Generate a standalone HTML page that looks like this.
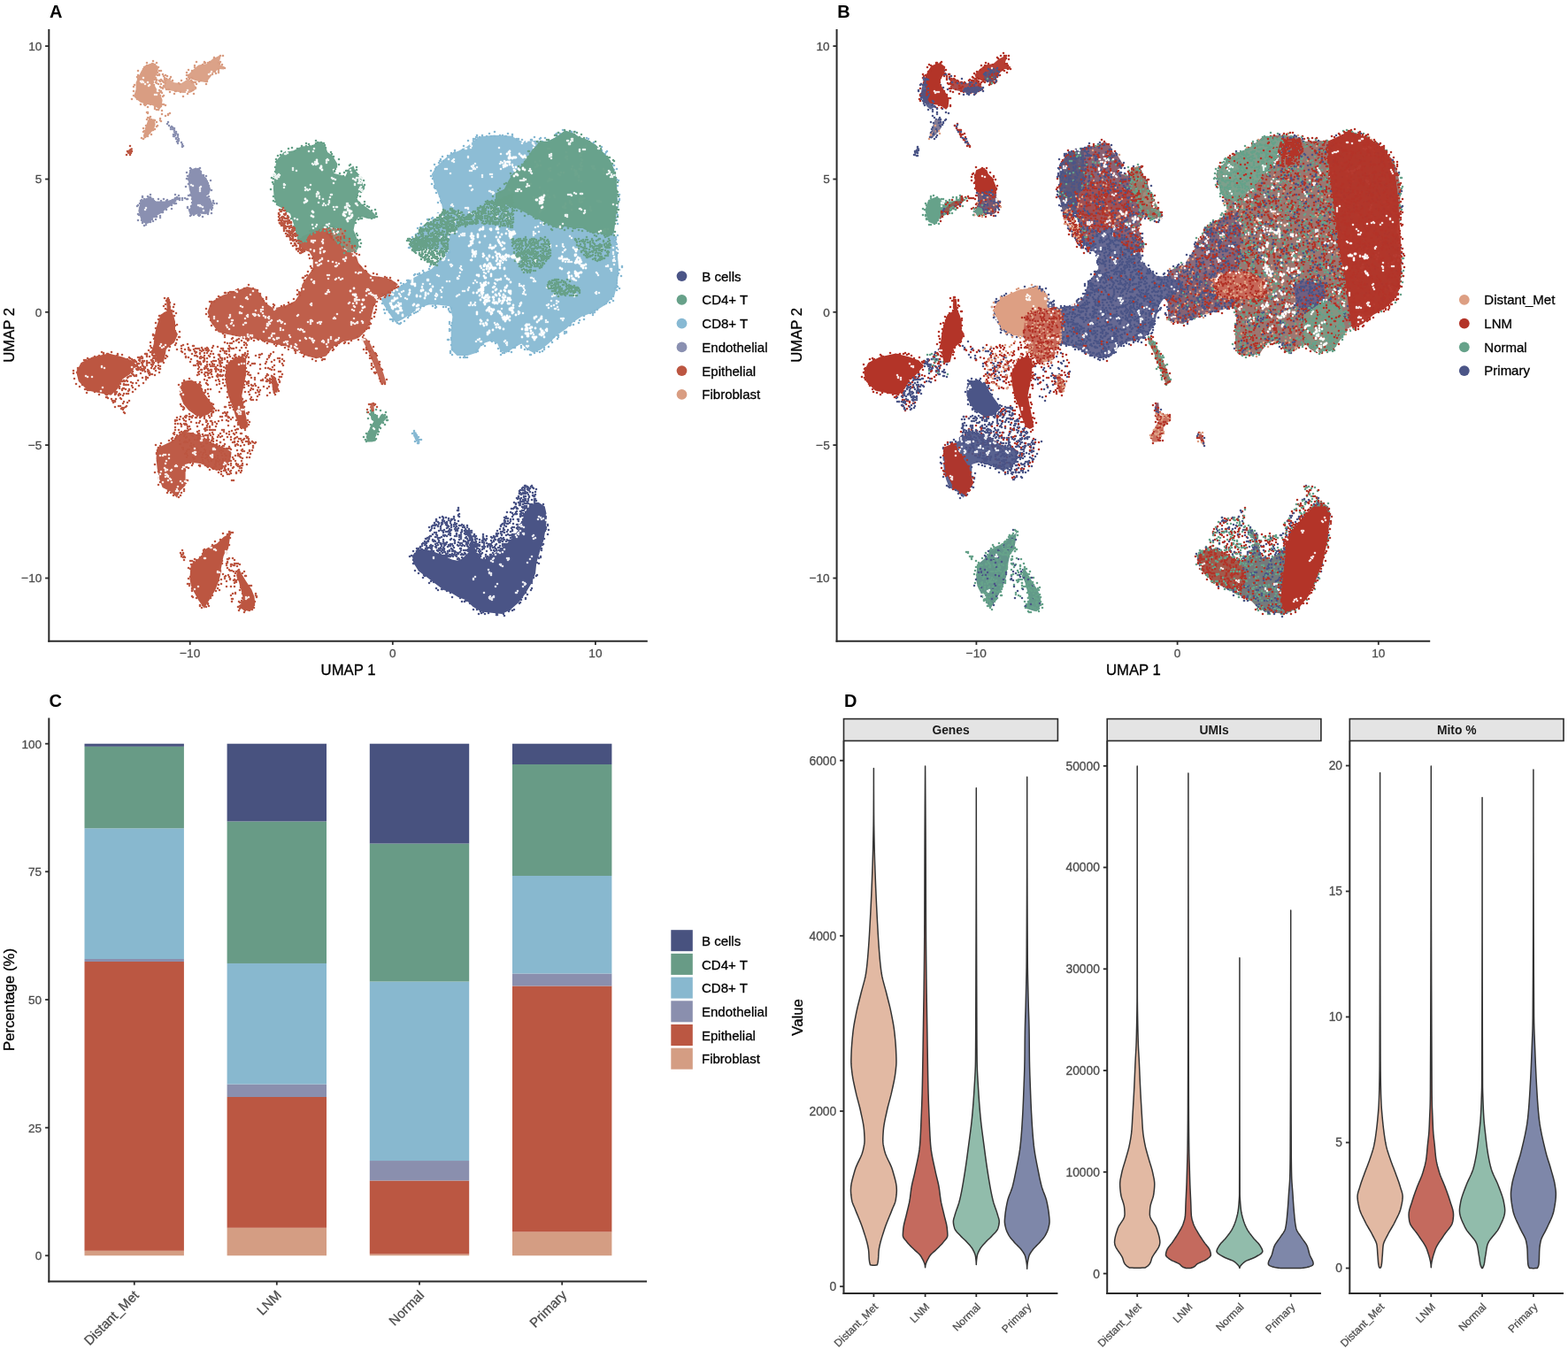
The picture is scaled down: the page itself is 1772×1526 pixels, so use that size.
<!DOCTYPE html>
<html><head><meta charset="utf-8"><title>Figure</title>
<style>
html,body{margin:0;padding:0;background:#fff;overflow:hidden;width:1772px;height:1526px;}
svg{display:block;}
text{font-family:"Liberation Sans", Arial, Helvetica, sans-serif;}
</style></head>
<body>
<svg width="1772" height="1526" viewBox="0 0 1772 1526">
<rect width="1772" height="1526" fill="#fff"/>
<line x1="55.3" y1="32.9" x2="55.3" y2="725.7" stroke="#2b2b2b" stroke-width="2.0"/>
<line x1="54.3" y1="724.7" x2="731.8" y2="724.7" stroke="#2b2b2b" stroke-width="2.0"/>
<line x1="51.1" y1="52.1" x2="55.3" y2="52.1" stroke="#2b2b2b" stroke-width="1.8"/>
<text x="47.4" y="56.9" font-size="13.6" text-anchor="end" fill="#4d4d4d" stroke="#4d4d4d" stroke-width="0.3">10</text>
<line x1="51.1" y1="202.5" x2="55.3" y2="202.5" stroke="#2b2b2b" stroke-width="1.8"/>
<text x="47.4" y="207.3" font-size="13.6" text-anchor="end" fill="#4d4d4d" stroke="#4d4d4d" stroke-width="0.3">5</text>
<line x1="51.1" y1="352.8" x2="55.3" y2="352.8" stroke="#2b2b2b" stroke-width="1.8"/>
<text x="47.4" y="357.6" font-size="13.6" text-anchor="end" fill="#4d4d4d" stroke="#4d4d4d" stroke-width="0.3">0</text>
<line x1="51.1" y1="503.1" x2="55.3" y2="503.1" stroke="#2b2b2b" stroke-width="1.8"/>
<text x="47.4" y="507.9" font-size="13.6" text-anchor="end" fill="#4d4d4d" stroke="#4d4d4d" stroke-width="0.3">−5</text>
<line x1="51.1" y1="653.5" x2="55.3" y2="653.5" stroke="#2b2b2b" stroke-width="1.8"/>
<text x="47.4" y="658.3" font-size="13.6" text-anchor="end" fill="#4d4d4d" stroke="#4d4d4d" stroke-width="0.3">−10</text>
<line x1="214.7" y1="724.7" x2="214.7" y2="728.9" stroke="#2b2b2b" stroke-width="1.8"/>
<text x="214.7" y="743.3" font-size="13.6" text-anchor="middle" fill="#4d4d4d" stroke="#4d4d4d" stroke-width="0.3">−10</text>
<line x1="443.8" y1="724.7" x2="443.8" y2="728.9" stroke="#2b2b2b" stroke-width="1.8"/>
<text x="443.8" y="743.3" font-size="13.6" text-anchor="middle" fill="#4d4d4d" stroke="#4d4d4d" stroke-width="0.3">0</text>
<line x1="672.9" y1="724.7" x2="672.9" y2="728.9" stroke="#2b2b2b" stroke-width="1.8"/>
<text x="672.9" y="743.3" font-size="13.6" text-anchor="middle" fill="#4d4d4d" stroke="#4d4d4d" stroke-width="0.3">10</text>
<text x="393.5" y="762.6" font-size="16.7" text-anchor="middle" fill="#000" stroke="#000" stroke-width="0.3">UMAP 1</text>
<text transform="translate(15.8,378.8) rotate(-90)" font-size="16.7" text-anchor="middle" fill="#000" stroke="#000" stroke-width="0.3">UMAP 2</text>
<text x="55.9" y="19.6" font-size="20" text-anchor="start" fill="#000" font-weight="bold">A</text>
<line x1="945.6" y1="32.9" x2="945.6" y2="725.7" stroke="#2b2b2b" stroke-width="2.0"/>
<line x1="944.6" y1="724.7" x2="1616.2" y2="724.7" stroke="#2b2b2b" stroke-width="2.0"/>
<line x1="941.4" y1="52.1" x2="945.6" y2="52.1" stroke="#2b2b2b" stroke-width="1.8"/>
<text x="937.7" y="56.9" font-size="13.6" text-anchor="end" fill="#4d4d4d" stroke="#4d4d4d" stroke-width="0.3">10</text>
<line x1="941.4" y1="202.5" x2="945.6" y2="202.5" stroke="#2b2b2b" stroke-width="1.8"/>
<text x="937.7" y="207.3" font-size="13.6" text-anchor="end" fill="#4d4d4d" stroke="#4d4d4d" stroke-width="0.3">5</text>
<line x1="941.4" y1="352.8" x2="945.6" y2="352.8" stroke="#2b2b2b" stroke-width="1.8"/>
<text x="937.7" y="357.6" font-size="13.6" text-anchor="end" fill="#4d4d4d" stroke="#4d4d4d" stroke-width="0.3">0</text>
<line x1="941.4" y1="503.1" x2="945.6" y2="503.1" stroke="#2b2b2b" stroke-width="1.8"/>
<text x="937.7" y="507.9" font-size="13.6" text-anchor="end" fill="#4d4d4d" stroke="#4d4d4d" stroke-width="0.3">−5</text>
<line x1="941.4" y1="653.5" x2="945.6" y2="653.5" stroke="#2b2b2b" stroke-width="1.8"/>
<text x="937.7" y="658.3" font-size="13.6" text-anchor="end" fill="#4d4d4d" stroke="#4d4d4d" stroke-width="0.3">−10</text>
<line x1="1103.4" y1="724.7" x2="1103.4" y2="728.9" stroke="#2b2b2b" stroke-width="1.8"/>
<text x="1103.4" y="743.3" font-size="13.6" text-anchor="middle" fill="#4d4d4d" stroke="#4d4d4d" stroke-width="0.3">−10</text>
<line x1="1330.6" y1="724.7" x2="1330.6" y2="728.9" stroke="#2b2b2b" stroke-width="1.8"/>
<text x="1330.6" y="743.3" font-size="13.6" text-anchor="middle" fill="#4d4d4d" stroke="#4d4d4d" stroke-width="0.3">0</text>
<line x1="1557.8" y1="724.7" x2="1557.8" y2="728.9" stroke="#2b2b2b" stroke-width="1.8"/>
<text x="1557.8" y="743.3" font-size="13.6" text-anchor="middle" fill="#4d4d4d" stroke="#4d4d4d" stroke-width="0.3">10</text>
<text x="1280.9" y="762.6" font-size="16.7" text-anchor="middle" fill="#000" stroke="#000" stroke-width="0.3">UMAP 1</text>
<text transform="translate(906.0,378.8) rotate(-90)" font-size="16.7" text-anchor="middle" fill="#000" stroke="#000" stroke-width="0.3">UMAP 2</text>
<text x="946.2" y="19.6" font-size="20" text-anchor="start" fill="#000" font-weight="bold">B</text>
<g id="umapA">
<path d="M175 80h0m1 3h0m0 5h0m2-3h0m2-1h0m2-4h0m2 4h0m1 2h0m3 3h0m0 1h0m-1 4h0m0-3h0m-1 6h0m0-7h0m0 3h0m-1 5h0m0-1h0m-2-6h0m-1 0h0m0-1h0m0 9h0m0-4h0m-1-3h0m0 6h0m-1-7h0m-1 4h0m-2-4h0m0 3h0m0-4h0m-2 0h0m6 13h0m1 1h0m1 1h0m1-5h0" stroke="#d99d82" stroke-width="2.6" stroke-linecap="round" fill="none"/>
<path d="M166 127h0m1 0h0m0 1h0m8-5h0m2 1h0m2 0h0m3-4h0m1 9h0m7 0h0m2-1h0m-2 2h0m-3 1h0m-5 6h0m-1-3h0m0 2h0m-9 0h0m-1 1h0m-1-5h0m-1 3h0" stroke="#d99d82" stroke-width="2.6" stroke-linecap="round" fill="none"/>
<path d="M173.3,71.1L179.1,75.6L178.2,82.4L174.2,89.3L173.3,94.2L177.2,101.1L181.1,107.0L183.6,112.9L182.6,120.8L180.1,123.7L176.2,120.8L171.3,118.8L164.4,117.8L158.5,115.4L153.6,111.4L151.1,109.0L153.6,101.1L153.6,93.3L156.5,86.4L159.5,80.5L163.4,74.6L169.3,72.1Z" fill="#d99d82"/>
<path d="M173 69h0m6 7h0m-2-5h0m-2 2h0m-3-1h0m-6 2h0m0-3h0m-3 5h0m-1 2h0m-7 9h0m1-2h0m0-5h0m0 9h0m1-3h0m17 3h0m4-7h0m2 3h0m0-5h0m-4 13h0m-2 3h0m0 2h0m-1-5h0m-18 3h0m-3 0h0m-1 2h0m0 5h0m0 5h0m27-6h0m2 3h0m0-3h0m1 6h0m1-5h0m2 6h0m1-1h0m2 11h0m-2-1h0m-2 0h0m-13 0h0m-5 0h0m-1 1h0m-1-1h0m-4 0h0m-4-6h0m-6 0h0m18 9h0m8 0h0m1-1h0m3 4h0m4 1h0" stroke="#d99d82" stroke-width="2.6" stroke-linecap="round" fill="none"/>
<path d="M162 88h0m7 8h0m-1 1h0m-1-4h0m-3 2h0m-2-2h0m-1-1h0m-1 1h0m0-1h0m-1 0h0m16 15h0m2 0h0m1-4h0m0-1h0" stroke="#fff" stroke-opacity="0.85" stroke-width="2.6" stroke-linecap="round" fill="none"/>
<path d="M185.0,87.4L190.9,89.3L196.8,93.3L204.7,94.2L212.6,89.3L218.5,93.3L222.4,100.6L214.5,105.0L206.7,105.0L198.8,103.6L190.9,102.1L186.0,100.1Z" fill="#d99d82" fill-opacity="0.9"/>
<path d="M186 88h0m1-3h0m2 1h0m3 3h0m1-2h0m18 2h0m3 0h0m7 10h0m-1-6h0m-1 0h0m-2-1h0m-12-1h0m-2 4h0m-1-1h0m-7-3h0m-10 2h0m-1-1h0m0 7h0m4 2h0m2 0h0m1 0h0m1 3h0m5 2h0m1-3h0m1 0h0m5 1h0m3 5h0m5-3h0m4-3h0m2-1h0m1 4h0" stroke="#d99d82" stroke-width="2.6" stroke-linecap="round" fill="none"/>
<path d="M211 104h0m1-2h0" stroke="#fff" stroke-opacity="0.85" stroke-width="2.6" stroke-linecap="round" fill="none"/>
<path d="M212.6,84.4L218.5,78.5L224.4,73.6L234.2,72.1L240.1,66.7L248.0,62.8L249.4,64.7L247.0,72.6L253.9,75.6L252.9,78.5L247.0,78.0L241.1,82.4L236.2,89.3L233.2,93.3L227.3,92.3L221.4,91.3L214.5,88.8Z" fill="#d99d82" fill-opacity="0.95"/>
<path d="M242 66h0m0-1h0m7-2h0m3 0h0m2 14h0m-3-4h0m-2-3h0m-1 2h0m-1-1h0m0 7h0m-10-8h0m-2 1h0m-3 0h0m-1 0h0m0-1h0m-2 3h0m-7-3h0m-2 4h0m0 2h0m-7 3h0m-2 3h0m0 3h0m2 0h0m0 2h0m4-7h0m0 8h0m19-2h0m1 0h0m3-2h0m3-3h0m1 2h0m3-3h0m0 2h0m-13 10h0m-1 3h0m-6-4h0m-2 1h0m-3 3h0m-1-2h0m-4 0h0m-1-2h0" stroke="#d99d82" stroke-width="2.6" stroke-linecap="round" fill="none"/>
<path d="M236 84h0m2-1h0m1-2h0" stroke="#fff" stroke-opacity="0.85" stroke-width="2.6" stroke-linecap="round" fill="none"/>
<path d="M167.4,135.5L174.2,134.5L175.7,140.4L174.2,145.3L170.3,150.3L165.4,155.2L162.9,156.7L161.9,153.2L163.9,147.3L164.9,142.4Z" fill="#d99d82"/>
<path d="M177 138h0m-2-2h0m-1 0h0m-3-1h0m-2-2h0m-1 4h0m-1-4h0m-1 2h0m-4 14h0m0-4h0m1 3h0m2-3h0m0-3h0m0 4h0m7 1h0m1 0h0m2-1h0m2-3h0m1-1h0m-7 10h0m-2-2h0m-2 2h0m0 2h0m-3 1h0m-2 2h0m-2-1h0" stroke="#d99d82" stroke-width="2.6" stroke-linecap="round" fill="none"/>
<path d="M190 138h0m-1 2h0m2 2h0m2 4h0m0-2h0m1-1h0m1 1h0m0 2h0m2 3h0m0-4h0m0 2h0m2 2h0m3 8h0m0 2h0m-1-6h0m0-1h0m0 3h0m0 3h0m-2-8h0m0 6h0m0-5h0m0 6h0m-1-6h0m0-1h0m0 3h0m-1-1h0m0 2h0m-1 0h0m0-2h0m4 8h0m1 0h0m0 2h0m4-1h0m1 4h0m0-2h0m0 3h0m1-1h0" stroke="#8a90b1" stroke-width="2.6" stroke-linecap="round" fill="none"/>
<path d="M148.7,167.0L150.2,168.0L147.7,172.9L144.7,174.3L143.6,172.4L145.7,168.9Z" fill="#bc5641"/>
<path d="M147 165h0m2 6h0m-1 2h0m-1 2h0m0-1h0m-3-3h0m-1 4h0" stroke="#bc5641" stroke-width="2.6" stroke-linecap="round" fill="none"/>
<path d="M198 224h0m2-1h0m0 2h0m1 0h0m1-4h0m1 3h0m0 2h0m3 0h0m0-2h0m3 0h0m2 1h0m1 0h0" stroke="#8a90b1" stroke-width="2.6" stroke-linecap="round" fill="none"/>
<path d="M160.3,226.0L168.4,222.7L173.2,224.0L175.2,227.4L180.6,227.4L186.0,227.4L190.1,226.7L194.2,225.4L198.9,223.3L199.6,227.4L194.2,231.5L188.8,235.5L182.0,240.9L176.6,244.3L172.5,247.0L169.8,251.8L165.7,253.1L160.3,251.1L158.3,245.0L156.3,238.2L157.6,232.8L159.0,228.8Z" fill="#8a90b1"/>
<path d="M159 227h0m0 2h0m1-3h0m1-3h0m0-1h0m2 3h0m4-3h0m2 1h0m1 0h0m0-3h0m3 5h0m1 2h0m1 1h0m4-3h0m3 2h0m3-2h0m3 2h0m1-1h0m6 0h0m3-6h0m1 4h0m2 0h0m-2 6h0m-1 0h0m-1 0h0m-3 6h0m0-4h0m-6 5h0m-30-2h0m0-5h0m-2 2h0m-1 1h0m1 16h0m0-7h0m1 1h0m3 6h0m11-2h0m1 1h0m3-3h0m1 3h0m1-3h0m4-1h0m0 2h0m2-6h0m1 0h0m-11 10h0m-3 1h0m-5 1h0m0 2h0m-2 1h0m-2-3h0" stroke="#8a90b1" stroke-width="2.6" stroke-linecap="round" fill="none"/>
<path d="M165 235h0m-1 2h0" stroke="#fff" stroke-opacity="0.85" stroke-width="2.6" stroke-linecap="round" fill="none"/>
<path d="M214.5,192.2L221.3,189.5L226.7,192.2L228.0,196.3L233.5,201.7L236.2,208.4L238.2,213.9L236.2,219.3L232.1,222.0L237.5,224.0L239.5,228.8L241.6,232.8L237.5,235.5L236.2,240.9L232.1,242.3L224.7,241.6L219.9,243.0L214.5,242.3L213.1,238.2L215.8,233.5L217.2,228.8L215.8,220.6L213.8,213.9L213.1,207.1L212.5,199.6L213.8,194.9Z" fill="#8a90b1"/>
<path d="M233 199h0m-3-1h0m-3-3h0m0-1h0m-1-4h0m-1 1h0m-1 0h0m-8 0h0m-1 6h0m0-7h0m0 3h0m-3 6h0m-1-4h0m0 7h0m2 1h0m0-1h0m0 6h0m19-6h0m2 3h0m1 2h0m3-3h0m1 11h0m-3-5h0m-1 9h0m0-1h0m-25-7h0m3 10h0m2 0h0m0-1h0m2 9h0m0-4h0m15-3h0m2 1h0m2-1h0m5 7h0m0-2h0m4 3h0m-3 0h0m-2 5h0m-1 2h0m-1-2h0m-21-2h0m-1 0h0m-2 4h0m-2-2h0m0-1h0m3 10h0m1-2h0m0 1h0m3 0h0m5 0h0m1 1h0m0-3h0m1 2h0m3 2h0m6-3h0m4-1h0" stroke="#8a90b1" stroke-width="2.6" stroke-linecap="round" fill="none"/>
<path d="M216 209h0m11 2h0m-1 5h0m0-4h0m0 2h0m-8-4h0m12 28h0m-1-4h0m-2-1h0m-1-1h0m0 1h0m-2-1h0" stroke="#fff" stroke-opacity="0.85" stroke-width="2.6" stroke-linecap="round" fill="none"/>
<path d="M172 399h0m-15 8h0m1 0h0m0 1h0m5 0h0m3-7h0m3 2h0m2 4h0m1 1h0m0-1h0m0 2h0m1-4h0m0 3h0m1-4h0m1 1h0m0-1h0m1 1h0m-2 5h0m-1 2h0m0-1h0m-1 3h0m-4 5h0m-1-9h0m0 8h0m-1-7h0m0 2h0m0-3h0m-3 8h0m-1-4h0m0 3h0m-1-4h0m0 6h0m-1-9h0m0 7h0m-3-6h0m0 6h0m-1 1h0m-1-6h0m0 6h0m0-1h0m-1 0h0m0-4h0m-4 3h0m-15 9h0m3 1h0m1-3h0m1 0h0m0 2h0m1-5h0m0 2h0m4 4h0m2-1h0m1 0h0m2-2h0m2 2h0m2-1h0m0 1h0m5-3h0m2 5h0m3-7h0m1 6h0m0 1h0m0 2h0m2-9h0m0 7h0m2-3h0m1-1h0m-8 10h0m-5 3h0m-1-6h0m-2 3h0m-4 5h0m0-5h0m-1 3h0m-1-4h0m-3 3h0m-1-4h0m-1 4h0m-1 0h0m-1-4h0m-1 4h0m0 4h0m-1 0h0m-1-8h0m-2 3h0m-1-3h0m0 6h0m-2 0h0m-3-5h0m-1 7h0m1 5h0m0-3h0m0-1h0m1 5h0m0-1h0m3 2h0m0 1h0m1-2h0m1 1h0m2-5h0m0-1h0m1 7h0m1-2h0m2-5h0m1 5h0m2 0h0m0-3h0m1-1h0m0-1h0m4 3h0m3-3h0m-7 13h0m-2 2h0m-1 4h0m-3-5h0m-1 2h0m-2-5h0m-1-1h0m0 9h0m-2 0h0m-3-8h0m-1 2h0m0 1h0m-2-1h0m0 2h0m0-1h0m-1-1h0m-1-2h0m4 9h0m7 2h0m1-1h0m1 2h0m1 3h0m0-5h0m1 6h0m1-7h0" stroke="#bc5641" stroke-width="2.6" stroke-linecap="round" fill="none"/>
<path d="M174 395h0m-1 4h0m-1-2h0m-4-1h0m-17 12h0m1-1h0m1 1h0m1 1h0m2-5h0m2 1h0m0-1h0m1 0h0m1 1h0m0-2h0m1 1h0m0 4h0m0-3h0m1 4h0m2-9h0m1 0h0m1 3h0m0-3h0m0 8h0m5-1h0m1-6h0m1 1h0m2 0h0m2-2h0m1 1h0m1 6h0m2 10h0m-1 0h0m-1-4h0m0 3h0m-3-2h0m0 5h0m-1-3h0m-1 1h0m-1-6h0m-2 1h0m0 4h0m-2-6h0m-5 5h0m0 1h0m-1 0h0m-1 2h0m-1-7h0m-2 4h0m0 3h0m-2-7h0m0 6h0m-1-2h0m-1-1h0m-1 0h0m14 8h0m1 0h0m0-1h0m3 2h0m3 1h0m5-3h0" stroke="#bc5641" stroke-width="2.6" stroke-linecap="round" fill="none"/>
<path d="M199 388h0m1-4h0m12 5h0m24 7h0m-1 1h0m-1 2h0m-1-3h0m-2 3h0m-2-4h0m-1 2h0m-2-1h0m-3-2h0m-1 4h0m-1 1h0m0-5h0m-1 3h0m-1-2h0m0-4h0m-1 0h0m-3 5h0m-1 0h0m0-1h0m-1-2h0m0 2h0m-4 0h0m-2-5h0m-1 8h0m-1-4h0m0-3h0m0 6h0m-5-2h0m9 5h0m1 3h0m0 1h0m3 0h0m2 5h0m1-3h0m1-6h0m3 2h0m2 0h0m1 6h0m0-5h0m3 2h0m0-1h0m1-1h0m0 2h0m7 0h0m5 4h0m2-9h0m0 8h0m1 0h0m5-7h0m1 7h0m0-6h0m1 7h0m0-5h0m1 1h0m1 2h0m-2 4h0m0 3h0m-1-4h0m-1 8h0m-1-5h0m-3 4h0m-3-6h0m0 2h0m-1 5h0m-1 0h0m-1-6h0m-2 6h0m-1-4h0m-7-2h0m0-1h0m-2 4h0m-1-2h0m0 4h0m-3-4h0m-2 0h0m13 12h0m3-3h0m0 2h0m1 3h0m3-7h0m5 0h0m2 6h0m0-3h0m1 1h0m2 1h0m0-5h0m0 4h0m1-4h0m-2 14h0m0-3h0m-4-1h0" stroke="#bc5641" stroke-width="2.6" stroke-linecap="round" fill="none"/>
<path d="M225 466h0m6 2h0m3-2h0m5 2h0m2-2h0m1-4h0m2 2h0m3 0h0m5 3h0m2-7h0m0 6h0m1 1h0m0-7h0m1 9h0m0-1h0m1-2h0m4 8h0m-2-2h0m-1 0h0m0 4h0m0-5h0m-2 4h0m0-5h0m-1 0h0m-4 5h0m0-4h0m-2 0h0m-2 5h0m-2 3h0m-2-2h0m-3 1h0m-1-2h0m0-6h0m-1 6h0m-1-4h0m-1-2h0m-1 9h0m-1-3h0m-1 1h0m0-2h0m-2-5h0m0 3h0m-3-3h0m-1 1h0m-1 5h0m-1 2h0m-2-8h0m-1 8h0m-5-6h0m-1 5h0m0-6h0m-2 0h0m0 3h0m-3-4h0m-1 0h0m0 9h0m0-7h0m0 4h0m-1-5h0m-1 4h0m0 4h0m-1-6h0m-3-2h0m0 8h0m-1-5h0m-2 5h0m-1-4h0m0-3h0m-2 4h0m0-1h0m0 4h0m-1 10h0m1-3h0m0-3h0m5 6h0m2-9h0m0 2h0m3 6h0m1-1h0m0-7h0m2 0h0m1 2h0m0 2h0m1 2h0m1-4h0m1 3h0m8-3h0m0 6h0m2-1h0m4-7h0m2 5h0m1 0h0m0-1h0m0 3h0m2-4h0m0 3h0m0-5h0m3 2h0m0-1h0m0 4h0m1 0h0m2 3h0m0-3h0m0-6h0m1 6h0m2 0h0m1-4h0m7 4h0m2 0h0m0 2h0m5-7h0m1 7h0m3-1h0m3-5h0m1 4h0m1 3h0m1-4h0m1 0h0m16 14h0m-4-1h0m0-2h0m-1 3h0m0-5h0m-1 1h0m-1-2h0m0 6h0m-2-3h0m-1 1h0m-2 1h0m0-8h0m-1 6h0m0-6h0m-2 6h0m-1 3h0m-1-5h0m-2 1h0m-1 1h0m0-5h0m0 8h0m-1-9h0m-3 4h0m0 3h0m-2-6h0m-2 3h0m-1-4h0m-3 7h0m-2-4h0m-2 1h0m0-4h0m-2 2h0m-1 2h0m-1 4h0m-4-7h0m-1 6h0m0-3h0m-1 4h0m-1-6h0m-1-2h0m-1 7h0m-1-3h0m0-2h0m-1 5h0m-1-5h0m-1 0h0m-1 4h0m-2 1h0m0-6h0m0 3h0m-1 1h0m-2 1h0m-1-1h0m0-5h0m0 2h0m-1-2h0m0 6h0m0-1h0m-1 2h0m-3 0h0m-2-7h0m0 3h0m-1-1h0m-2-1h0m-1 7h0m0-1h0m-3-3h0m-1 1h0m0 4h0m-1-8h0m0 8h0m-1-6h0m-1-3h0m-3 1h0m-1 7h0m-3-6h0m-1 3h0m0-1h0m-2-3h0m-1-1h0m0 8h0m7 4h0m1 0h0m2 4h0m1 0h0m0 2h0m1-8h0m1 0h0m1 0h0m2 0h0m0 8h0m2 0h0m1-4h0m1 0h0m0-3h0m1 5h0m2-3h0m4 4h0m1 2h0m3-7h0m1 3h0m2-1h0m1 4h0m1 1h0m1-8h0m1 0h0m4 1h0m0-2h0m2 2h0m0 2h0m1-2h0m3 1h0m1 3h0m0-1h0m0-1h0m0-2h0m4-2h0m1 9h0m3-5h0m0 3h0m1-5h0m2 5h0m3-2h0m4-5h0m2 0h0m1 4h0m0-1h0m2-1h0m0 7h0m1-6h0m3 1h0m1 5h0m1-9h0m0 8h0m2-5h0m5-1h0m0-1h0m1-1h0m0 9h0m1-8h0m2 8h0m1-9h0m0 4h0m0 2h0m2-5h0m1-1h0m-6 13h0m-1 4h0m0-7h0m-2 2h0m-1 5h0m-3-7h0m-2 8h0m0-8h0m-2 3h0m0 4h0m-1-1h0m-1-2h0m-1 1h0m0-2h0m-3 2h0m-6-2h0m0 1h0m-4 1h0m-1 0h0m0 4h0m-1-6h0m-2-3h0m0 9h0m-1-4h0m-1-3h0m-2-2h0m-2 8h0m0-3h0m-3 2h0m-1-1h0m-1 3h0m-1-7h0m-2 1h0m0 2h0m0-5h0m-1 0h0m0 2h0m-2 3h0m-1 2h0m-1-3h0m-1-3h0m0 7h0m-2-6h0m-1 2h0m0 3h0m-1 0h0m-1-6h0m-2 2h0m-5 5h0m-1 1h0m-1-2h0m-1-5h0m-5 3h0m-1-2h0m0 4h0m0-7h0m-1 2h0m-1 1h0m20 7h0m0 1h0m1 2h0m2 2h0m3-5h0m0 8h0m1-6h0m0 4h0m3-5h0m0-1h0m1 9h0m2-1h0m1-3h0m1 2h0m0-5h0m0-2h0m0 4h0m1-3h0m2 1h0m1 3h0m0-5h0m3 9h0m0-5h0m0 3h0m1 0h0m0-6h0m3 5h0m3-1h0m3-4h0m2 8h0m1-1h0m2-7h0m1 4h0m0-1h0m1 2h0m1 1h0m0-2h0m2 2h0m0 2h0m2-3h0m0-5h0m0 8h0m1-3h0m0-2h0m5 1h0m-6 7h0m-1 2h0m-2-2h0m-3 2h0m0 1h0m-6-3h0m0 3h0m-1-2h0m-1 3h0m-1-5h0m0-1h0m-1 6h0m-1-2h0m-1-2h0m0-1h0m-1-1h0m-2 8h0m-2-2h0m-2-5h0m-1 3h0m-6-4h0m21 13h0m2 0h0" stroke="#bc5641" stroke-width="2.6" stroke-linecap="round" fill="none"/>
<path d="M309 398h0m-32 10h0m1-4h0m1-2h0m2 7h0m8-7h0m4-1h0m0 3h0m1-3h0m2-1h0m5 9h0m1-3h0m2-4h0m0 2h0m1-2h0m1-2h0m1 9h0m3-2h0m4-2h0m2 3h0m0-3h0m0 4h0m3-3h0m0-5h0m2 7h0m-1 5h0m-1-2h0m-9 2h0m0 5h0m-2-3h0m-1 3h0m-2-1h0m-2-1h0m-3 0h0m0-5h0m-6 1h0m0 5h0m-6-6h0m-1 0h0m-2 0h0m-2 2h0m-4 7h0m1 3h0m2 1h0m1 0h0m1 3h0m4 0h0m0 2h0m4-7h0m5 7h0m3-2h0m1-2h0m1 4h0m0-6h0m1 1h0m2 4h0m1 1h0m2-3h0m2-3h0m1 5h0m4-8h0m1 6h0m1-6h0m1 6h0m1-3h0m-3 9h0m-4 2h0m-1-1h0m-1 0h0m0 6h0m0-7h0m-1 5h0m0 1h0m-1-5h0m-4-3h0m-2 9h0m0-8h0m-1 0h0m-3 6h0m-1-7h0m-2 0h0m-3 8h0m-3-2h0m-1-2h0m-2 2h0m-1 0h0m-1-1h0m0 4h0m-3-3h0m0-5h0m0 2h0m-2-1h0m0 2h0m2 9h0m1 3h0m1-5h0m1 8h0m2-9h0m3 4h0m2-3h0m0 7h0m1-5h0m1 3h0m0-3h0m1-2h0m8 6h0m3-3h0m-15 8h0m-4 0h0m-2 0h0m-1-1h0" stroke="#bc5641" stroke-width="2.6" stroke-linecap="round" fill="none"/>
<path d="M254 387h0m3 1h0m3 0h0m2 0h0m2-2h0m3-1h0m3 2h0m3-2h0m3 2h0m2 1h0m2-3h0m0 12h0m-1-7h0m-1 3h0m-1 6h0m-1-9h0m-3 3h0m-2 3h0m-4-3h0m-3 1h0m-2 0h0m-2-1h0m-1 2h0m0 2h0m0-3h0m0-3h0m-1 3h0m-2 3h0m-2 0h0m0 2h0m-2-5h0m0 2h0m0-1h0m-2-1h0m-1 3h0m-3-5h0m-5-1h0m-1 2h0m-1 4h0m-4-3h0m-1-1h0m0 2h0m-2-1h0m-2 2h0m-2-3h0m-2 6h0m-1-5h0m-1 15h0m2-9h0m0 9h0m1-5h0m1 0h0m2 5h0m0-5h0m0 4h0m1-2h0m0 2h0m0-3h0m0 2h0m0-5h0m3 7h0m2-7h0m1 1h0m1-3h0m4 4h0m2 4h0m3-7h0m0 5h0m1-5h0m1 7h0m2-3h0m3 1h0m0-1h0m2-5h0m1 4h0m0 4h0m0 1h0m2-8h0m1 2h0m5 3h0m0-4h0m1 2h0m0-3h0m1 6h0m1 2h0m4 0h0m0-1h0m2-4h0m0-3h0m0 1h0m1 3h0m2-5h0m1 3h0m2-3h0m1 4h0m-4 9h0m-13 4h0m0-5h0m-2 6h0m-1 0h0m-1-3h0m0-5h0m0 9h0m-4-6h0m0 4h0m-1-1h0m-2-1h0m0 4h0m-2-9h0m-1 4h0m0 4h0m-1-6h0m-2 6h0m-2-1h0m-1-2h0m0 3h0m-2-4h0m0-2h0m-2 2h0m-2 0h0m-2 5h0m-1-2h0m-1-5h0m-1 4h0m-1-2h0m-1 3h0m0-1h0m-3 2h0m-1 0h0m-2-7h0m-2 0h0m0 13h0m1-3h0m1-1h0m0 3h0m3-2h0m3 8h0m0-6h0m1-2h0m2 0h0m2 1h0m1 5h0m1-6h0m1 2h0m1 3h0m5-1h0m2 4h0m2-5h0m2 1h0m1-1h0m3 1h0m1-5h0m0 9h0m1-2h0m0 2h0m1-1h0m0-6h0m3 4h0m-4 10h0m-1-4h0m-4 1h0m-2 6h0m-5-4h0m-10 0h0m-1-5h0m0 4h0m-1-1h0m-6 6h0m-1-4h0m2 5h0m7 0h0m3 0h0m10 3h0" stroke="#bc5641" stroke-width="2.6" stroke-linecap="round" fill="none"/>
<path d="M86.2,420.6L91.5,410.1L104.6,403.5L122.9,399.6L138.6,403.5L149.1,407.5L154.9,413.2L146.5,423.2L138.6,428.4L133.4,438.9L125.5,446.8L112.4,444.2L99.3,441.5L88.8,431.1Z" fill="#bc5641"/>
<path d="M126 398h0m-9 1h0m-2-1h0m-20 9h0m2 0h0m2-2h0m1 1h0m4-1h0m3-2h0m4 0h0m1-1h0m5-2h0m4 0h0m1 0h0m10 2h0m1-2h0m0 1h0m5 0h0m6 5h0m2-2h0m1 1h0m2 1h0m1 1h0m2 2h0m5 7h0m-2-5h0m-67 5h0m0 2h0m-5 1h0m0 3h0m1 6h0m3-7h0m57 6h0m5-5h0m1-2h0m1 4h0m-8 6h0m-3 0h0m0 4h0m-1-3h0m-2 0h0m0-1h0m-2 9h0m-42-5h0m0 1h0m-3 2h0m-4-3h0m10 6h0m2 4h0m0-4h0m1 1h0m2 0h0m6 2h0m5 3h0m7-1h0m1 1h0m0 3h0m1-3h0m0 3h0m9-3h0m0-4h0m2 1h0m-10 7h0" stroke="#bc5641" stroke-width="2.6" stroke-linecap="round" fill="none"/>
<path d="M152 417h0m-3-2h0m-31 1h0m-3-1h0m0-1h0m-18 11h0m2 1h0m5 0h0m12 12h0m-2 4h0" stroke="#fff" stroke-opacity="0.85" stroke-width="2.6" stroke-linecap="round" fill="none"/>
<path d="M187.8,337.1L191.9,338.1L192.9,349.3L196.0,356.4L198.0,363.5L198.0,372.7L201.0,377.7L197.0,386.9L191.9,390.9L187.8,395.0L186.8,401.1L184.8,409.2L177.7,410.2L175.6,401.1L171.6,396.0L173.6,388.9L175.6,374.7L177.7,366.6L181.7,355.4L188.8,351.3L188.3,344.2Z" fill="#bc5641"/>
<path d="M190 337h0m-1 2h0m-3-2h0m-1 9h0m2-2h0m0 5h0m1-9h0m4 2h0m0 5h0m4 0h0m1-3h0m2 10h0m-2 3h0m-1-5h0m-1 0h0m0 6h0m-1-7h0m-5-1h0m-3 4h0m-5 3h0m-1 0h0m-4 8h0m3-4h0m1 0h0m18 7h0m2-1h0m3 8h0m-5-1h0m-20-4h0m-2 1h0m-1 8h0m-2-1h0m0 1h0m-3 8h0m4-4h0m1-2h0m0 5h0m20 1h0m7-6h0m1 0h0m-5 9h0m-6 2h0m-1 4h0m-18-2h0m-2-1h0m-1 5h0m0-7h0m4 11h0m1 2h0m1 4h0m0-2h0m7 2h0m4-3h0m1-3h0m1 1h0m-4 7h0m-4 4h0m-2-4h0" stroke="#bc5641" stroke-width="2.6" stroke-linecap="round" fill="none"/>
<path d="M182 389h0m8 5h0m-3-4h0m-2 2h0m-2 1h0m-2-2h0" stroke="#fff" stroke-opacity="0.85" stroke-width="2.6" stroke-linecap="round" fill="none"/>
<path d="M207.2,430.7L216.6,429.5L226.1,435.4L230.8,444.8L237.9,454.3L242.6,461.4L235.5,468.4L228.4,470.8L221.4,469.6L213.1,463.7L207.2,456.6L203.7,447.2L203.7,437.8Z" fill="#bc5641"/>
<path d="M214 428h0m13 8h0m-1-4h0m-1 2h0m-4-2h0m-2 1h0m0-1h0m-11-2h0m-2 3h0m-2 6h0m0-1h0m-2-3h0m2 7h0m0 4h0m27-2h0m1-1h0m0 6h0m0-8h0m3 4h0m1 3h0m5 9h0m-2-1h0m-3-4h0m-31 7h0m-1-2h0m3 3h0m0 3h0m1-2h0m0 1h0m6 6h0m7 0h0m18-4h0m0 1h0m1 1h0m1-1h0m-10 6h0m-5 1h0m0-1h0m-4 1h0m-1 0h0m-3-2h0" stroke="#bc5641" stroke-width="2.6" stroke-linecap="round" fill="none"/>
<path d="M203 439h0m1 2h0m1 2h0m2 3h0" stroke="#fff" stroke-opacity="0.85" stroke-width="2.6" stroke-linecap="round" fill="none"/>
<path d="M177.7,506.2L183.6,503.8L195.4,497.9L201.3,492.0L207.2,487.3L219.0,489.7L230.8,494.4L242.6,502.7L254.4,506.2L261.5,510.9L260.3,520.4L254.4,527.4L245.0,532.2L235.5,527.4L226.1,523.9L216.6,522.7L209.6,525.1L209.6,536.9L209.6,548.7L202.5,555.8L200.1,562.8L193.0,555.8L183.6,551.0L180.1,541.6L177.7,529.8L176.5,518.0Z" fill="#bc5641" fill-opacity="0.97"/>
<path d="M202 486h0m3 2h0m5-1h0m1 0h0m1 0h0m29 12h0m0-3h0m-1 0h0m-5 0h0m-1 1h0m-1 1h0m-3-5h0m-1 2h0m0-1h0m-3-2h0m-1-2h0m-2 2h0m-5-2h0m-2 0h0m-12 1h0m-6 5h0m-3-1h0m0 4h0m0-1h0m-1-2h0m-3 2h0m-15 5h0m2 6h0m1-3h0m2-2h0m1-3h0m61 2h0m2 0h0m0 1h0m3 0h0m1-4h0m2 5h0m1-1h0m6 3h0m2 0h0m1 1h0m3 11h0m-1-2h0m-3-1h0m-82-6h0m-1 2h0m0 1h0m-2 12h0m3-4h0m33 7h0m2 1h0m2-6h0m2 3h0m1-2h0m7 2h0m1 1h0m0-1h0m6 0h0m2 1h0m20 2h0m1-2h0m4-6h0m0-1h0m2 4h0m0 2h0m-8 6h0m-3 1h0m0-3h0m-13 1h0m-28 0h0m0 1h0m-30 1h0m-4 1h0m4 6h0m0 8h0m2-3h0m28 0h0m1 1h0m1-3h0m1 1h0m0-1h0m-4 10h0m0 2h0m-3 2h0m-3-1h0m-1 2h0m-8-1h0m-3-2h0m-1 2h0m7 3h0m6 2h0m2-2h0" stroke="#bc5641" stroke-width="2.6" stroke-linecap="round" fill="none"/>
<path d="M229 495h0m-1 2h0m0-2h0m0 3h0m-1 0h0m-7 9h0m21 0h0m0 1h0m1-1h0m1 1h0m-3 6h0m0 3h0m0-1h0m0-1h0m-1 1h0m-1-1h0m-17-1h0m0-3h0m-1 0h0m0 2h0m-2-1h0m-27 6h0m0-4h0m-4 0h0m-2 0h0m-1 1h0m-3 0h0m5 14h0m1-5h0m1-3h0m10 6h0m1-1h0m1 1h0m7 1h0m1 0h0m2-2h0m43-1h0m1-1h0m0-1h0m1 1h0m-49 6h0m-12 1h0m-1 1h0m-3 6h0m0 1h0m-1-1h0m0-7h0m0 6h0m-1-1h0m-1-6h0m0 6h0m0 3h0m0-7h0m-5 1h0m-1 3h0m-2 2h0m-1 2h0m1 0h0m5 5h0m6-2h0m2-2h0m1 1h0m1 3h0m10-1h0m2 2h0m3-2h0m1 0h0m1 1h0m1 0h0m-11 5h0m0 5h0m-1-2h0m-1 2h0" stroke="#fff" stroke-opacity="0.85" stroke-width="2.6" stroke-linecap="round" fill="none"/>
<path d="M257.9,409.4L266.2,404.7L273.3,402.4L278.0,407.1L278.0,423.6L275.6,435.4L273.3,447.2L275.6,459.0L278.0,470.8L280.4,482.6L275.6,485.0L270.9,482.6L266.2,470.8L262.7,459.0L257.9,447.2L255.6,435.4L254.4,423.6Z" fill="#bc5641"/>
<path d="M261 408h0m2-3h0m2 1h0m0-4h0m1-1h0m1 3h0m3-1h0m5 2h0m1-3h0m0-1h0m1 7h0m0-2h0m3 5h0m-2 5h0m-1-4h0m-21 3h0m0 2h0m-4 12h0m3-5h0m0 5h0m1-6h0m21 1h0m4-3h0m-4 10h0m-1 4h0m0 3h0m-1-7h0m-1 6h0m-17-1h0m-1-4h0m-2 4h0m3 7h0m0 6h0m20-6h0m1 10h0m-2 1h0m-1 1h0m-1-4h0m-13 7h0m0-4h0m0-2h0m-2 6h0m0-3h0m1 6h0m3-1h0m1 3h0m12-3h0m3 7h0m1 1h0m1-2h0m1 11h0m-2-2h0m-1 3h0m-2-6h0m-7 7h0m-1-1h0m-2-3h0m-4-3h0m6 8h0m3 3h0m1 1h0m4 0h0m0 2h0m2-4h0m2-2h0" stroke="#bc5641" stroke-width="2.6" stroke-linecap="round" fill="none"/>
<path d="M276 411h0m-3 0h0m-3 1h0m-2 53h0m1 1h0m0-1h0m0-1h0m1-3h0m0-1h0m0 8h0m0-4h0m1 1h0m1 1h0m0 2h0m1-5h0m2 0h0" stroke="#fff" stroke-opacity="0.85" stroke-width="2.6" stroke-linecap="round" fill="none"/>
<path d="M306.3,423.6L311.0,426.0L314.6,435.4L313.4,443.7L308.7,443.7L307.5,435.4Z" fill="#bc5641"/>
<path d="M307 425h0m8 4h0m1 2h0m-2 4h0m-7-3h0m-2 1h0m0-2h0m-1 6h0m5 3h0m1 4h0m1 2h0m2-6h0m1 0h0m1 2h0" stroke="#bc5641" stroke-width="2.6" stroke-linecap="round" fill="none"/>
<path d="M487.8,197.0L492.7,189.1L500.6,181.3L508.5,174.4L518.3,170.5L528.1,165.6L540.9,154.7L557.6,152.8L580.0,153.8L579.7,154.7L589.5,159.7L595.4,159.7L605.2,158.7L611.1,159.7L619.0,159.7L628.8,154.7L638.6,147.4L648.5,150.8L654.3,154.7L663.2,157.7L673.0,163.6L682.9,173.4L689.7,181.3L693.7,191.1L696.6,203.9L697.6,218.6L697.6,233.4L695.6,248.1L693.7,262.9L695.6,277.6L694.3,270.0L697.7,286.9L699.3,303.9L697.7,320.8L694.3,334.3L684.1,344.5L670.6,353.0L657.0,358.0L646.9,364.8L640.1,371.6L629.9,378.4L619.8,388.5L611.3,395.3L602.8,398.7L596.1,395.3L589.3,388.5L582.5,391.9L572.4,398.7L565.6,397.0L562.2,388.5L555.4,385.1L545.3,388.5L538.5,398.7L528.4,402.1L516.5,402.1L509.7,395.3L509.7,371.6L511.4,358.0L508.0,346.2L494.5,344.5L484.3,344.5L474.2,347.9L462.3,356.3L453.9,361.4L447.1,364.8L440.3,354.7L433.5,344.5L430.2,337.7L436.9,334.3L447.1,325.9L457.2,320.8L467.4,314.0L477.6,308.9L487.7,303.9L497.9,293.7L508.0,283.5L462.3,279.6L467.2,271.7L473.1,263.8L474.1,257.9L480.9,253.0L494.7,246.1L500.6,238.3L498.6,228.5L494.7,218.6L490.8,208.8Z" fill="#87b9d3" fill-opacity="0.95"/>
<path d="M559 149h0m77-2h0m9 2h0m1 0h0m4 0h0m15 8h0m-1 2h0m-1-3h0m-3 1h0m-5-2h0m-5-2h0m-1-1h0m-3-2h0m-13 1h0m-2-1h0m0 4h0m-2 2h0m0-5h0m0 4h0m-1-3h0m-2 6h0m-6 1h0m-4-3h0m-5 0h0m-1 1h0m-6-2h0m-3 3h0m-1 0h0m-10 0h0m-4-1h0m-2 1h0m0-1h0m-5-3h0m0-2h0m-5-1h0m-2 3h0m-1 0h0m-3-1h0m-3 0h0m-6 1h0m-4 0h0m-2-3h0m-3 3h0m-5-1h0m0 1h0m-3 1h0m-3 0h0m0-2h0m-1 2h0m0 3h0m-1-1h0m-2 2h0m0-2h0m-6 2h0m-6 10h0m1-4h0m70-5h0m14 0h0m4 0h0m1 0h0m58 1h0m5 7h0m2 1h0m2-3h0m6 5h0m-1 6h0m0-5h0m-1 2h0m-1 0h0m-3-4h0m-166 0h0m0 2h0m-1 1h0m-2 1h0m-1-1h0m-4 3h0m-6 1h0m-9 9h0m2 3h0m3-5h0m1-2h0m1 0h0m0-2h0m3 2h0m190 3h0m1 1h0m2 1h0m3 4h0m-3 1h0m0 7h0m-2-9h0m-199 0h0m-1 1h0m-5 2h0m0 6h0m1 9h0m1-6h0m208 1h0m2 1h0m-1 6h0m-205 8h0m-1-5h0m-1-3h0m0 2h0m0-1h0m4 18h0m2-7h0m1 5h0m1 2h0m0-1h0m198 0h0m0-2h0m3 0h0m0-1h0m0-5h0m-2 12h0m0 2h0m-196 3h0m-19 11h0m1 1h0m4-2h0m1-1h0m2 2h0m4-7h0m2 2h0m198 6h0m1-3h0m0 3h0m1 0h0m0-8h0m1 2h0m0 10h0m-4-1h0m-207-1h0m-9 6h0m-2-4h0m-1 4h0m-3 1h0m-6 10h0m4-3h0m2-1h0m221-3h0m2 8h0m0-1h0m1 0h0m2-2h0m-1 10h0m-1-6h0m0 4h0m0 2h0m0-5h0m-1 1h0m-1 1h0m-1-3h0m-224 0h0m-1 9h0m-1-7h0m-1 0h0m-4 8h0m1 0h0m6 1h0m1 1h0m1 1h0m15-2h0m1 1h0m4 0h0m1 0h0m2 4h0m3 3h0m4 0h0m2-4h0m1-3h0m0 4h0m3-1h0m1 0h0m188-1h0m1-4h0m0 9h0m0-1h0m1-6h0m0 4h0m-1 10h0m-195-6h0m-4 2h0m-1 2h0m0 2h0m-7 2h0m-16 11h0m4-3h0m1 2h0m6-4h0m1-3h0m212 3h0m1 5h0m1-4h0m3-4h0m0 1h0m-1 10h0m-4-1h0m-1 6h0m-222-6h0m-1 0h0m-2-1h0m-3 0h0m-1 1h0m-6 6h0m0 2h0m-1-2h0m0 1h0m-1-1h0m-14 10h0m4-3h0m3-4h0m1 3h0m2-2h0m239 5h0m1-1h0m1-5h0m0 8h0m0-5h0m1 1h0m2 2h0m-7 9h0m-2 3h0m-250-8h0m-1 3h0m-2 0h0m0-1h0m0 3h0m-2-1h0m-3 0h0m-1-2h0m0 11h0m41 5h0m2 0h0m4-2h0m5-3h0m5 3h0m3-1h0m0 3h0m1-1h0m2-4h0m6 4h0m3 0h0m3 2h0m3-1h0m165 1h0m8-5h0m2-1h0m1-2h0m3 1h0m4-2h0m-18 10h0m-3 1h0m0 2h0m-2 3h0m0-2h0m-1-1h0m-2 1h0m-7 3h0m-151-4h0m-1-1h0m-1-2h0m-33 0h0m-2 2h0m-2 1h0m-2 1h0m-1-3h0m-3 5h0m-2 1h0m-1 2h0m-6 0h0m-15-6h0m0-1h0m-3-2h0m-2 4h0m-1-4h0m7 11h0m2 0h0m1 2h0m1-2h0m4 4h0m2 1h0m1 0h0m1-1h0m4-2h0m51 1h0m0 2h0m2 2h0m1-3h0m133 3h0m1-3h0m0 2h0m3 0h0m1-4h0m5 2h0m1-3h0m5-1h0m-20 15h0m0-1h0m-2 2h0m0-2h0m-7 4h0m-1 0h0m-121-6h0m-1-1h0m0 2h0m-2 10h0m1 0h0m3 0h0m0-2h0m36 5h0m0 2h0m9-4h0m1 1h0m4 2h0m63-3h0m1 2h0m2-6h0m4 2h0m1-2h0m-11 11h0m-5 1h0m0 2h0m-2 2h0m-3 1h0m-3-1h0m-3 2h0m-8-4h0m-1-2h0m-2 2h0m-4-4h0m0 2h0m-5-3h0m-2 2h0m0 1h0m-2 0h0m-2 5h0m-3-1h0m-5 2h0m-2 0h0m-2-2h0m-3-3h0m-15-3h0m-4-1h0m-4 7h0m-1-1h0m-1 2h0m-27-3h0m-1-5h0m-1 8h0m0-1h0m0 2h0m2 2h0m9 3h0m4 0h0m1-2h0m1 2h0m2 0h0m38-3h0m33 0h0m1 0h0" stroke="#87b9d3" stroke-width="2.6" stroke-linecap="round" fill="none"/>
<path d="M594 158h0m-68 10h0m1 0h0m5-1h0m0-3h0m0-1h0m1 2h0m31 2h0m26-5h0m1-2h0m4 0h0m7 2h0m0-1h0m1 2h0m0 4h0m0-5h0m1 2h0m15 4h0m2 0h0m39-1h0m0 2h0m2-4h0m-2 6h0m0-1h0m-3 3h0m0 3h0m-1-2h0m0 2h0m-15 1h0m-1 0h0m0-5h0m-1 6h0m-73-4h0m-37 4h0m0-1h0m-22 3h0m4 2h0m1-1h0m1-1h0m0 3h0m20 5h0m1 1h0m1 0h0m0-2h0m2-2h0m2 4h0m26-4h0m1-2h0m1 1h0m1 0h0m1 5h0m1-1h0m0-6h0m1 1h0m1 0h0m7 4h0m0-1h0m1 3h0m25 0h0m0-6h0m2 5h0m0-2h0m1 1h0m2-5h0m1 5h0m19 0h0m2-2h0m9-5h0m6 8h0m9-2h0m1-6h0m0 4h0m0 4h0m1-7h0m0 7h0m11 0h0m2 0h0m12 5h0m-1-2h0m0 5h0m-10-5h0m-2-1h0m-13 2h0m0-1h0m-2 0h0m-1 8h0m-2-3h0m0 1h0m-1-2h0m0-2h0m-1 3h0m0 2h0m0-5h0m-1-1h0m-3-1h0m-9 4h0m-3 0h0m-1 3h0m-2-1h0m-9-7h0m0 3h0m-2-2h0m-54 0h0m-10 6h0m-2 0h0m-9 1h0m-8-7h0m-1-1h0m-1 1h0m-2 2h0m-2 0h0m-22 3h0m-4-5h0m-2 0h0m42 9h0m11 0h0m38 4h0m1 1h0m1 0h0m2 0h0m0 3h0m2 0h0m19-3h0m1-1h0m1-2h0m0 2h0m2-1h0m1 0h0m30 1h0m0-4h0m3 5h0m-38 11h0m-5 2h0m0-2h0m-4-4h0m-34 3h0m-1-1h0m-17 4h0m-1 1h0m0-2h0m-2 0h0m-1-1h0m-1 0h0m-19-2h0m-1 1h0m-1-5h0m-1 0h0m72 13h0m1 3h0m10-6h0m3 2h0m0-1h0m2-1h0m2 3h0m5-2h0m1 2h0m17 4h0m0 2h0m1-1h0m10 0h0m0-1h0m0-2h0m1 4h0m0-5h0m1 1h0m1 0h0m0 3h0m2-4h0m15 3h0m2 1h0m0-1h0m2 1h0m-11 10h0m-1-4h0m0 3h0m0-1h0m-21 1h0m0-6h0m-7-1h0m0 1h0m0 4h0m-1 0h0m0-2h0m-2 1h0m-21 2h0m-1-1h0m-2 1h0m-1 1h0m0 1h0m-47-5h0m-1-1h0m0-1h0m-6 4h0m-1 3h0m0-1h0m-1-1h0m-26 0h0m0-1h0m-1 0h0m-2 0h0m-14-2h0m-1-2h0m-1 1h0m-15 10h0m1 2h0m4 1h0m14 2h0m3-5h0m2 1h0m0-1h0m0-1h0m0-1h0m11 0h0m2 2h0m3 1h0m2-1h0m1-1h0m20 2h0m2 0h0m1 2h0m1-1h0m6 4h0m2-4h0m2 1h0m0-5h0m2 3h0m0-2h0m2 6h0m34-7h0m77 19h0m-3 0h0m-70-7h0m0 2h0m-3-2h0m-3 4h0m-3 1h0m-29-5h0m-3 7h0m-11-7h0m0-1h0m-48 0h0m-2-1h0m-27 4h0m-4 4h0m-1 0h0m11 9h0m2 1h0m0-2h0m6 2h0m1 0h0m7 0h0m1-4h0m1-1h0m1 0h0m1 0h0m1 0h0m4-1h0m3 5h0m2-2h0m1 1h0m1-2h0m0 2h0m0-1h0m1 1h0m1 0h0m0-2h0m50-3h0m1 1h0m0 1h0m1 0h0m0-1h0m26 4h0m0-2h0m0-2h0m2 2h0m4-2h0m35 5h0m2 2h0m36-9h0m1 2h0m1 0h0m-5 17h0m-42 0h0m-1-1h0m0-2h0m-7 2h0m-7 1h0m0-2h0m-2 0h0m-116-7h0m-6 0h0m36 19h0m2-4h0m1 1h0m0-1h0m0 4h0m1-5h0m0 3h0m0-1h0m33 3h0m65-4h0m2-2h0m1-1h0m41-2h0m0 1h0m13 4h0m0-5h0m0 7h0m4-4h0m-2 12h0m-1-5h0m0 9h0m0-6h0m-1 1h0m0 1h0m-36 1h0m-4 1h0m-7-1h0m-2 0h0m-1-2h0m-1 2h0m-3 0h0m-3-3h0m-30 1h0m0-2h0m-1 4h0m0-6h0m0 4h0m-10 2h0m-3-5h0m0 4h0m0-1h0m-1 5h0m0-6h0m-19-2h0m0 3h0m-1-1h0m-2-2h0m0-1h0m0 4h0m-1-1h0m0 4h0m-1-5h0m-30-2h0m-3 0h0m-2 4h0m-22 5h0m-1 0h0m-2-5h0m-4-4h0m-1 3h0m0-1h0m-1 2h0m-1 0h0m10 7h0m1-1h0m9 8h0m0-5h0m1-2h0m0 3h0m1 1h0m22-2h0m2 2h0m1 0h0m0 3h0m2 1h0m41-8h0m0-1h0m1 5h0m83 3h0m1 1h0m10-8h0m2 0h0m0-1h0m3 4h0m1 2h0m0-2h0m-15 7h0m-25 6h0m-2-1h0m-44 2h0m-1-1h0m-1-2h0m0 3h0m-2-4h0m-1 0h0m-34 2h0m0-1h0m-2 1h0m-2 0h0m0 1h0m-2-1h0m-21 3h0m-2-2h0m-18-5h0m-1 3h0m-1-1h0m0 1h0m-9 3h0m-3 0h0m-9-6h0m-2-1h0m-10 6h0m0-1h0m-1 1h0m0-1h0m-34 12h0m7 1h0m20-1h0m1-3h0m0-1h0m1-3h0m0 7h0m8-7h0m12 7h0m2-3h0m23 4h0m2 0h0m4-1h0m0-1h0m1-2h0m5-5h0m8 0h0m14 5h0m1 0h0m0-1h0m1-4h0m0 4h0m1-3h0m27 0h0m0 2h0m2 0h0m2 1h0m1-1h0m0 3h0m1 2h0m25-3h0m1-2h0m3 2h0m1-1h0m1-1h0m3-2h0m50 10h0m-3-1h0m0 2h0m-1-1h0m-22 2h0m-1 0h0m-1-2h0m0 4h0m-19-3h0m-3 2h0m-1 0h0m0-1h0m-2 2h0m-30-2h0m-2-3h0m0 2h0m-1 0h0m-40 1h0m-1 3h0m-31-3h0m-2 1h0m-1 1h0m-17-5h0m0 6h0m-5-2h0m0-1h0m-1-1h0m0 3h0m0-1h0m-1 0h0m0 4h0m-32 0h0m-2-1h0m-4-7h0m-1 5h0m-1-2h0m-1-1h0m-1 10h0m1 1h0m2 1h0m0-1h0m77 2h0m1 0h0m1-2h0m0-1h0m2 3h0m2-1h0m1-2h0m0 3h0m15 3h0m1-1h0m1 2h0m1 0h0m12 0h0m20-3h0m1-1h0m0-1h0m0-1h0m1 0h0m0-1h0m29 3h0m1 0h0m1-1h0m0 4h0m3-2h0m0-6h0m3 5h0m1 4h0m1 0h0m1-9h0m0 3h0m1 4h0m1-6h0m0 9h0m-40 4h0m-4 0h0m0-1h0m-1 0h0m0-1h0m0 3h0m-21-3h0m-8-2h0m2 15h0m1 2h0m2 0h0m0-1h0m1 1h0m54-3h0m0-2h0m2 2h0m15-4h0m2 2h0m0-1h0m0-1h0m1 0h0m-34 18h0m-1-2h0m-64 10h0m2-2h0m1 0h0m1-1h0m1 3h0m1 0h0m26 0h0m1-1h0m1 3h0m1-1h0m0 1h0m23-2h0m1 5h0m-1 1h0m-1-1h0m-22-1h0" stroke="#fff" stroke-opacity="0.85" stroke-width="2.6" stroke-linecap="round" fill="none"/>
<path d="M611.1,159.7L619.0,159.7L628.8,154.7L638.6,147.4L648.5,150.8L654.3,154.7L663.2,157.7L673.0,163.6L682.9,173.4L689.7,181.3L693.7,191.1L696.6,203.9L697.6,218.6L697.6,233.4L695.6,248.1L693.7,262.9L687.8,267.8L677.9,263.8L668.1,262.9L658.3,257.9L648.5,257.9L638.6,256.0L628.8,257.9L619.0,253.0L609.1,248.1L599.3,243.2L589.5,238.3L579.7,233.4L569.8,230.4L560.0,233.4L560.0,218.6L569.8,213.7L574.7,203.9L579.7,196.0L587.5,189.1L595.4,179.3L601.3,169.5Z" fill="#67a189" fill-opacity="0.97"/>
<path d="M638 147h0m6 1h0m5 1h0m11 7h0m-3-4h0m-2 3h0m-3-5h0m-3 2h0m-18-2h0m-2 3h0m-2 0h0m-7 5h0m-2 0h0m-11 2h0m1 4h0m1-2h0m2-2h0m55 0h0m7 0h0m3 8h0m2-3h0m1 4h0m0-1h0m10 10h0m-2 0h0m-1-1h0m-87-3h0m-1-3h0m-1 0h0m0 6h0m-2 1h0m-1 1h0m-8 9h0m4-2h0m3-3h0m1-1h0m98 3h0m1-4h0m1 1h0m1 14h0m0-1h0m-2-1h0m-1-3h0m-103-1h0m-1 0h0m-10 9h0m-1-3h0m-7 12h0m2-1h0m124-3h0m0-3h0m2 5h0m0 11h0m-1-1h0m-132-3h0m0 4h0m-2-2h0m-6 7h0m3 5h0m0-1h0m138-6h0m1 2h0m0 6h0m0 9h0m-1 0h0m0-7h0m-1 5h0m0-3h0m-108 7h0m-5-1h0m-2-4h0m0 1h0m-8-4h0m-2-1h0m-3 0h0m-1 1h0m0 3h0m-2-1h0m-2-2h0m-5 0h0m-3-1h0m37 14h0m4-2h0m6 3h0m2 2h0m2 0h0m1-1h0m5 3h0m82-4h0m1 4h0m1-9h0m1 5h0m-3 8h0m-34 5h0m-11 0h0m-2 0h0m-6 0h0m0-1h0m-6-1h0m-1 2h0m-2 0h0m-8-2h0m-2 3h0m-3-5h0m-4-2h0m-1 1h0m9 7h0m14 0h0m9 1h0m7-1h0m4 1h0m6 0h0m3 1h0m3 1h0m1 0h0m1 3h0m2 1h0m2-3h0m4 0h0m3 2h0m1 2h0m2-1h0m4-2h0m1 0h0m3 1h0m1-4h0" stroke="#67a189" stroke-width="2.6" stroke-linecap="round" fill="none"/>
<path d="M647 157h0m0 2h0m-1-2h0m0 2h0m-4 0h0m-1 0h0m2 4h0m0-1h0m1 1h0m0-1h0m1-2h0m10 9h0m4 0h0m2 0h0m15-1h0m1 0h0m4-4h0m-26 7h0m0-1h0m-32 9h0m0-5h0m0 2h0m-2-1h0m0 2h0m73 21h0m-2 1h0m-1-2h0m0 2h0m-2-5h0m0 1h0m-1-2h0m0 3h0m-2 1h0m-85-1h0m-1-1h0m0-2h0m-1-2h0m-1 2h0m-10 11h0m2 0h0m2-2h0m0 2h0m0-1h0m2 0h0m2 5h0m94-8h0m2 0h0m-34 19h0m-1 0h0m-1 0h0m-5 0h0m-2-1h0m-51-8h0m-2 0h0m-1 1h0m-6 5h0m-2-2h0m-2 0h0m0 2h0m-2 0h0m59 4h0m2 0h0m1 0h0m1 1h0m51 11h0m-4-1h0m-32 7h0m-4-1h0m-1-1h0m-1 0h0m-43-1h0m0-5h0m27 13h0m0 1h0m1-1h0m1 2h0m0-2h0m19-2h0m1-1h0m-25 13h0m-3 4h0m0-1h0m44 6h0m2-1h0" stroke="#fff" stroke-opacity="0.85" stroke-width="2.6" stroke-linecap="round" fill="none"/>
<path d="M579 219h0m-30 9h0m1 1h0m1 0h0m0-2h0m1 2h0m0-1h0m1 1h0m1 0h0m0-1h0m2-1h0m0 2h0m1-1h0m0 1h0m2 0h0m1-2h0m1-1h0m0 1h0m1 1h0m1-2h0m1 1h0m0 1h0m1 1h0m1-3h0m1 0h0m0 3h0m1-1h0m0-2h0m1-2h0m1 0h0m0 4h0m1-3h0m0-1h0m0 3h0m1 2h0m0-6h0m1 0h0m0 2h0m1-1h0m0 4h0m0-1h0m1-5h0m0-1h0m0 2h0m1 6h0m1-3h0m0-5h0m1 7h0m0-1h0m0-5h0m0 3h0m0 4h0m0-5h0m1-4h0m0 3h0m0 3h0m1-6h0m0 9h0m1 9h0m-1-4h0m-1 3h0m0-5h0m0 4h0m0 3h0m-1-8h0m0 2h0m-1-3h0m0 4h0m-1-1h0m-1-3h0m0 2h0m-1 3h0m0 4h0m0-7h0m-1 4h0m0-1h0m0 4h0m-1-4h0m0 4h0m0-5h0m-1 0h0m0-4h0m0 7h0m0 2h0m0-4h0m-1-3h0m0 3h0m0-5h0m0 4h0m0 4h0m-1-8h0m0 9h0m0-6h0m0 4h0m0-5h0m0-1h0m-1 7h0m0-5h0m0 4h0m0-5h0m0-2h0m-1 7h0m0-5h0m0 4h0m0-1h0m0-5h0m-1 4h0m0 2h0m-1-4h0m0-2h0m0 9h0m-1-1h0m0-6h0m-1 7h0m0-1h0m0-2h0m-1-4h0m0 4h0m0-6h0m-1 0h0m0 3h0m0 4h0m-1 0h0m0-7h0m0 6h0m0-5h0m0 4h0m-1 2h0m0-1h0m0-5h0m0 3h0m0 4h0m-1-2h0m0-5h0m0 4h0m0 4h0m0-7h0m-1 6h0m-1-3h0m0-1h0m-1 2h0m0-1h0m0 4h0m0-6h0m-1 0h0m-1-2h0m-1 4h0m0-5h0m0 9h0m-1-8h0m0-1h0m0 4h0m-1-4h0m0 4h0m-1 4h0m0-2h0m-1-5h0m0 8h0m0-2h0m0 1h0m-1-2h0m0-2h0m0-1h0m-1 5h0m0-1h0m0-2h0m0 4h0m-1-3h0m0-2h0m0 4h0m-2-5h0m0 6h0m0-5h0m-1 1h0m-1 3h0m0 1h0m-1-2h0m0-1h0m0-1h0m-3 4h0m-2 0h0m-17 0h0m0-1h0m-3 1h0m-1 0h0m-1-1h0m-2 0h0m0-1h0m0-1h0m0 3h0m-1-3h0m-1 0h0m0 1h0m-3 2h0m-3-1h0m0 1h0m-1 0h0m-1 0h0m0-2h0m-16 11h0m5 1h0m2-1h0m1 1h0m1-3h0m1 3h0m1-3h0m1 2h0m0-3h0m0-1h0m1 1h0m0 3h0m0-5h0m1 6h0m0-6h0m0 4h0m0-5h0m1 5h0m0-6h0m0-1h0m1 0h0m0 9h0m1-7h0m0 4h0m0-6h0m0 3h0m1 4h0m0-1h0m1-5h0m0 4h0m0 2h0m1 1h0m0-1h0m0-1h0m0-6h0m1 3h0m0 4h0m0-2h0m0 4h0m1-8h0m0 3h0m0 3h0m1-6h0m0 4h0m1 0h0m0 1h0m1 0h0m0-5h0m0 3h0m1 2h0m0 3h0m1-8h0m0-1h0m0 9h0m1-2h0m0-1h0m0 3h0m0-1h0m1-6h0m0-2h0m1 8h0m1 0h0m0-5h0m1 1h0m0 4h0m0-6h0m1 4h0m0-5h0m0-1h0m1 6h0m0-5h0m0 3h0m1-3h0m0 8h0m0-1h0m1-2h0m0-6h0m0 9h0m1-1h0m0-3h0m0-5h0m1 9h0m0-6h0m1 0h0m0 3h0m1 2h0m1-2h0m1 1h0m0-2h0m0 3h0m1-3h0m0 1h0m1 0h0m0-2h0m0 4h0m0-5h0m1 4h0m0-1h0m0-2h0m1 1h0m0-1h0m0 4h0m0-6h0m1 4h0m0-3h0m1 5h0m0-3h0m1-5h0m0 4h0m1-1h0m2-2h0m0 7h0m1-5h0m0 4h0m0-5h0m0-1h0m0 4h0m0-1h0m1 2h0m0-5h0m0 4h0m0 4h0m0-5h0m0 4h0m1-8h0m0 4h0m0 3h0m1-5h0m0 3h0m0-5h0m0 4h0m1 3h0m1 1h0m0-2h0m0-2h0m1 4h0m0-5h0m0-2h0m0 4h0m0-5h0m0 9h0m1-4h0m0-5h0m0 7h0m0-5h0m0 4h0m0-5h0m2 0h0m0-1h0m1 5h0m0-5h0m0 4h0m0 3h0m1-6h0m0 3h0m1 0h0m0 3h0m1-1h0m0-1h0m0 4h0m0-5h0m0 4h0m1-6h0m0-1h0m0 4h0m1 0h0m0-3h0m1 0h0m0 4h0m0 2h0m1 1h0m0-3h0m0-5h0m1 0h0m0 7h0m0-1h0m0-1h0m1-1h0m1-1h0m0-2h0m1 0h0m0 4h0m0-5h0m0-1h0m0 4h0m0 4h0m0-1h0m1 1h0m0-6h0m0 4h0m1-6h0m0 3h0m1 4h0m1-5h0m0-2h0m1 8h0m1-3h0m0 3h0m1-4h0m0 3h0m0-1h0m1-4h0m1 6h0m0-1h0m0-6h0m1 4h0m0-1h0m0 2h0m1-4h0m0 3h0m0-2h0m1 6h0m1-5h0m0-1h0m1 4h0m0-3h0m1 5h0m0-1h0m0-5h0m0-1h0m0 4h0m0-5h0m1 8h0m0-8h0m1 2h0m1 2h0m0 2h0m0-5h0m1-1h0m0 7h0m0-6h0m1 0h0m0 1h0m1 5h0m0-6h0m0 4h0m0 5h0m-1 1h0m0-1h0m0 4h0m0 2h0m-1-1h0m-1-3h0m0 4h0m0-2h0m0-5h0m-1 2h0m-1-2h0m0 3h0m0-1h0m0-1h0m-1 5h0m0-2h0m-1-2h0m0 1h0m-1-3h0m-1 5h0m-1 0h0m0-1h0m0-1h0m-1 0h0m0-3h0m-1 5h0m0-5h0m-2 4h0m0-1h0m0-1h0m0-1h0m-1 5h0m-1-6h0m-1 3h0m0-2h0m-1 0h0m0 2h0m-1 0h0m0-1h0m0-1h0m-1 3h0m-1-3h0m0 2h0m0-1h0m-2 0h0m0-2h0m0 3h0m-2-3h0m-1 1h0m0-1h0m0 3h0m-1 0h0m0-1h0m0-1h0m-1-1h0m-2 2h0m0-1h0m-1-1h0m-1 3h0m-1 0h0m-1-3h0m-1 2h0m-5-2h0m0 2h0m-1-1h0m-1-1h0m0 3h0m-1-1h0m-1 0h0m-1-1h0m0-1h0m-1 0h0m0 3h0m0-1h0m-1 1h0m-1-2h0m0 1h0m-1 1h0m0-2h0m-2 1h0m-1 2h0m0-2h0m0-1h0m-1 0h0m0 3h0m0-1h0m-1 2h0m0-1h0m0 2h0m-1-3h0m0-1h0m0-1h0m0-1h0m-1 3h0m-1 1h0m0-1h0m-1-1h0m-1-1h0m0 3h0m-1-3h0m0 4h0m-1-4h0m0 4h0m0-2h0m-1 2h0m0-1h0m0 2h0m-1-4h0m0-1h0m-1 4h0m0 4h0m0-1h0m-1-1h0m-1 2h0m-1-7h0m0 4h0m0-1h0m0-1h0m-1 1h0m0-5h0m0 9h0m0-2h0m0-6h0m-1 5h0m0-5h0m0 8h0m0-5h0m-1 2h0m0-1h0m0 4h0m0-2h0m-1-7h0m0 9h0m0-6h0m-1 2h0m0-5h0m0 9h0m0-5h0m-1-4h0m0 9h0m0-1h0m0-5h0m0 3h0m0-5h0m-1 6h0m0-7h0m0 9h0m0-6h0m-1 3h0m0-5h0m0 4h0m0-1h0m0 4h0m-1-4h0m0 4h0m0-5h0m0-1h0m0 4h0m-1 1h0m0-6h0m0 3h0m0 4h0m0-5h0m-1-3h0m-1 0h0m0 4h0m0 4h0m0-1h0m-1-4h0m-1 1h0m0-1h0m0 3h0m0-5h0m-1 1h0m0-1h0m0-1h0m-1 7h0m0-2h0m-1-1h0m-1 3h0m0-3h0m0 4h0m-1-2h0m0-2h0m0 4h0m0-5h0m0 4h0m0-5h0m-1 2h0m0 3h0m-1-2h0m-1 0h0m0-5h0m0 9h0m0-5h0m-1-4h0m0 4h0m0-1h0m0-1h0m0 4h0m-1-3h0m0 1h0m0 4h0m-1 0h0m-1 0h0m0-6h0m0-1h0m0 8h0m0-5h0m-1 5h0m-1-5h0m0-1h0m0 4h0m-1-5h0m0 4h0m0-1h0m-1 4h0m0-6h0m0-1h0m-1 1h0m-1 6h0m0-5h0m0 4h0m-1-3h0m-1 4h0m-1 0h0m-2-1h0m-1 0h0m-5 8h0m0 2h0m1 0h0m0 1h0m2 0h0m0-5h0m1-4h0m0 8h0m0-6h0m1 1h0m0-1h0m1 5h0m0-2h0m0-5h0m1 2h0m1 5h0m0-1h0m0-1h0m0-5h0m0 9h0m0-5h0m1-3h0m0-1h0m0 9h0m1 0h0m1-2h0m0 2h0m1 0h0m0-1h0m0-1h0m0-6h0m1-1h0m0 8h0m0-7h0m1 6h0m0-5h0m0-1h0m0 3h0m1-4h0m0 6h0m0-5h0m2 6h0m0-1h0m0-2h0m1 1h0m0 1h0m1-1h0m0-1h0m0-1h0m1 5h0m0-1h0m0-1h0m0-1h0m1 3h0m0-1h0m0-6h0m1 6h0m0-6h0m0 3h0m1 5h0m0-1h0m0-1h0m0-5h0m1 3h0m0-1h0m0 4h0m0-6h0m1 2h0m1-4h0m0 4h0m0 3h0m0-6h0m0 4h0m1-2h0m1 0h0m0 2h0m1 0h0m0-2h0m1-1h0m0-1h0m0 8h0m1 0h0m0-2h0m0-5h0m0 4h0m0-1h0m1-3h0m1 6h0m1-3h0m0 3h0m0-1h0m0-1h0m1-4h0m0 3h0m0-5h0m0 4h0m1-2h0m0 2h0m0-1h0m1-2h0m1 0h0m0 4h0m0-5h0m1 2h0m1-1h0m2 0h0m0-1h0m1 0h0m1 1h0m0 3h0m-20 8h0m-1 1h0m-1-1h0m0-2h0m0 3h0m-1 0h0m0-1h0m0-1h0m-1 1h0m0 3h0m-1-4h0m-1 6h0m0-5h0m0-1h0m0-1h0m-1 1h0m-1 4h0m0-1h0m0 4h0m-1-8h0m0 7h0m0-5h0m0-1h0m-1 7h0m0-5h0m-1-1h0m0 4h0m-1 1h0m0-7h0m0 4h0m-1 2h0m0-5h0m-1 2h0m0 4h0m-1-3h0m0 4h0m-1-2h0m0 3h0m0-5h0m0-2h0m-1 6h0m0-5h0m0 3h0m0-5h0m0 8h0m-1-4h0m0 4h0m0-5h0m-1 0h0m0-2h0m0 4h0m0-1h0m-1-2h0m0-2h0m0 4h0m-1-3h0m0 4h0m0-6h0m-1 4h0m0-2h0m0-1h0m-1 4h0m0 4h0m0-1h0m-1-2h0m0-6h0m0 9h0m0-2h0m0-5h0m-1 6h0m0-6h0m0 4h0m0-1h0m-1 1h0m-1 3h0m-2-3h0m-1 1h0m2 5h0m1-1h0m2-1h0m2 1h0m1-1h0m1 2h0m2-2h0m3 2h0m1-2h0" stroke="#67a189" stroke-width="2.6" stroke-linecap="round" fill="none"/>
<path d="M644 318h0m-3-2h0m-2 3h0m-1 0h0m-1-1h0m0 1h0m-2-2h0m-1 2h0m-1 0h0m-2 0h0m0-3h0m-2 0h0m0 2h0m-1-1h0m-1-1h0m-1 1h0m-1 0h0m-1 0h0m-1 2h0m-1 0h0m-1-1h0m-1 1h0m-1 3h0m0 2h0m1-4h0m0 6h0m1 0h0m0-5h0m2 3h0m0 2h0m0-3h0m0 2h0m0-5h0m1 3h0m0-3h0m0 9h0m1-3h0m1-1h0m0 4h0m0-7h0m1-2h0m0 6h0m0 1h0m1 2h0m0-7h0m0 2h0m0 4h0m0-7h0m0 2h0m1 3h0m0-5h0m0 4h0m0-5h0m2 4h0m0-3h0m0 2h0m0 2h0m1 2h0m0 1h0m1-2h0m0 2h0m0 1h0m0-5h0m1 3h0m1-1h0m0 1h0m0 2h0m1-7h0m1 7h0m0-7h0m1 7h0m1-1h0m0-8h0m1 4h0m0-3h0m0 2h0m0 4h0m1-4h0m0 3h0m1 0h0m0-3h0m1 5h0m0-6h0m0 2h0m1 2h0m0-3h0m0 6h0m1 0h0m0-5h0m0-1h0m1 3h0m0 2h0m1-3h0m0 4h0m0-5h0m1 5h0m1-4h0m0 4h0m0-6h0m1 4h0m1-2h0m0 2h0m0-1h0m0 2h0m1 0h0m0-3h0m0 2h0m1-2h0m1 4h0m0-3h0m1 2h0m0 3h0m0-1h0m-3 4h0m-1 0h0m-1-4h0m-1 1h0m-1 3h0m0-3h0m-2 3h0m-1-4h0m-1 4h0m-2-4h0m-1 2h0m-1-1h0m-1 1h0m0 2h0m0-3h0m-1 2h0m-1-2h0m-1 1h0m-1 1h0m-1 0h0m0-1h0m-1-2h0m0 2h0m-1-2h0m-1 5h0m0-5h0m-1 2h0m0-1h0m-1 0h0m-2 1h0" stroke="#67a189" stroke-width="2.6" stroke-linecap="round" fill="none"/>
<path d="M577 269h0m17-1h0m17 1h0m5-1h0m5 8h0m0 3h0m-1-5h0m0-1h0m0 4h0m0-1h0m-1 0h0m0-5h0m-1 1h0m0 4h0m-1 0h0m-1 3h0m0-5h0m-1-2h0m0 4h0m0-5h0m-1 7h0m0-1h0m0-1h0m-1-6h0m-1 6h0m-1 3h0m0-8h0m-2 8h0m0-7h0m-1 1h0m0 4h0m0-2h0m-2-4h0m0 4h0m0 4h0m0-5h0m0-1h0m-1 6h0m0-5h0m-1 2h0m0-1h0m0-5h0m0 7h0m-1-6h0m0-1h0m0 3h0m0 4h0m0-5h0m-1 2h0m-1 2h0m0-5h0m0-1h0m0 7h0m-1 1h0m0-6h0m0 4h0m0-1h0m-1-2h0m0-2h0m0 8h0m-1-4h0m0-1h0m0-1h0m-1 4h0m-1 1h0m-1-7h0m0 8h0m0-2h0m0-1h0m-1-3h0m0 4h0m0-1h0m0-6h0m0 4h0m-1-2h0m0-1h0m-1-1h0m-1 8h0m0-6h0m-1 3h0m0-1h0m0 4h0m0-1h0m-1-3h0m0-2h0m0 4h0m-1 0h0m0-1h0m0-5h0m-1 8h0m0-6h0m-1 1h0m0-1h0m0 4h0m0-5h0m0-1h0m-1 2h0m0 4h0m-1 0h0m0-5h0m0 6h0m-1 1h0m0-5h0m0-1h0m-1 3h0m0-1h0m0-1h0m-1 1h0m-1-2h0m0 4h0m0-6h0m-1 1h0m0 3h0m0 4h0m-1-8h0m3 16h0m0-5h0m0 4h0m1 4h0m1-9h0m1 8h0m0-5h0m0 4h0m1-1h0m0-5h0m0 8h0m1-3h0m0-1h0m0-5h0m0 8h0m1-8h0m0 2h0m0-1h0m1 5h0m0 3h0m0-1h0m1-3h0m0-5h0m0 4h0m1 1h0m0 2h0m0-5h0m0 4h0m0-5h0m1 5h0m0 2h0m1-4h0m0 3h0m1-4h0m0 3h0m1-5h0m0 4h0m0 4h0m0-1h0m1-4h0m0 4h0m1-2h0m0-3h0m1 0h0m0-1h0m0 3h0m1-2h0m0 4h0m1-2h0m0-5h0m0 8h0m1-2h0m0-1h0m1 0h0m0-1h0m0 4h0m0-5h0m0-1h0m0-1h0m1 6h0m0-1h0m1-2h0m0-2h0m0 4h0m0-5h0m1 0h0m0 7h0m1-1h0m0-7h0m0 4h0m1 1h0m0-5h0m0 9h0m1-8h0m0 6h0m1-1h0m0-1h0m0-5h0m1 0h0m0 9h0m1-9h0m1 4h0m0 4h0m0-8h0m0 9h0m2-6h0m0 3h0m0-5h0m0 8h0m1 0h0m0-6h0m0 4h0m0-5h0m0 4h0m0-5h0m1 8h0m0-5h0m1 0h0m1 0h0m0-2h0m1 5h0m0-7h0m0 9h0m0-5h0m2 1h0m0-2h0m0 4h0m1-5h0m1 7h0m0-6h0m0 3h0m-1 4h0m-1 2h0m-1-2h0m-1 1h0m0 2h0m-1 2h0m0-5h0m-1 2h0m-1-2h0m0 8h0m0-5h0m0-1h0m-1 2h0m0 3h0m-1 0h0m0-5h0m0-2h0m0 8h0m-1-4h0m0-2h0m-1 3h0m0-5h0m-1 8h0m-1-4h0m-1-4h0m0 9h0m0-1h0m0-5h0m-1-2h0m0 4h0m0-5h0m0 9h0m0-1h0m0-6h0m0 4h0m-1-6h0m0 8h0m0-6h0m-1-2h0m-1 9h0m0-2h0m0-5h0m0-1h0m-1 7h0m0-5h0m0 4h0m0-1h0m0-6h0m-1 7h0m0-3h0m-1-2h0m-1 7h0m-1-8h0m0 4h0m0 3h0m0-1h0m-1-2h0m-1-3h0m-1 3h0m0-5h0m0 8h0m0-6h0m-1 2h0m0 2h0m-1-5h0m0-1h0m0 4h0m0-1h0m-1 6h0m0-5h0m0-1h0m0 2h0m-1 2h0m0-6h0m0-1h0m0 4h0m-1-3h0m0 8h0m0-1h0m0-5h0m0 4h0m-1 2h0m0-7h0m0 4h0m0-5h0m0 4h0m-1 1h0m-1-6h0m0 2h0m-1-2h0m0 8h0m0-6h0m0-1h0m-1 0h0m0 4h0m0 3h0m-1-3h0m0-1h0m0-1h0m0-2h0m-1 0h0m0-1h0m-1 0h0m-1 5h0m0-5h0m-1 1h0m6 10h0m1-1h0m1 2h0m1 3h0m0-5h0m1 1h0m0-1h0m1 4h0m0 4h0m1-3h0m2 1h0m0-5h0m0 4h0m0-5h0m1 8h0m0-7h0m1 5h0m1-4h0m0 4h0m1-1h0m0 3h0m1-6h0m0 4h0m0-5h0m0 4h0m1-5h0m2 6h0m1-5h0m1 5h0m0-5h0m1 0h0m2 0h0m2 2h0m0-1h0m1-2h0m1 2h0m0-1h0m1-1h0" stroke="#67a189" stroke-width="2.6" stroke-linecap="round" fill="none"/>
<path d="M663 268h0m27 9h0m-1-5h0m0 4h0m0-1h0m-1 2h0m0-7h0m0 6h0m0 2h0m-1 0h0m0-5h0m-1 4h0m-1-2h0m0 4h0m-1 0h0m-1-2h0m0-1h0m-1-3h0m0-1h0m-2 5h0m0 2h0m-1-2h0m0 1h0m-1-2h0m0 1h0m0-7h0m0 9h0m-1-1h0m0-1h0m0-7h0m-1 1h0m-1 7h0m-1-6h0m-1 6h0m-1-2h0m-1-1h0m0 4h0m-1-7h0m0 2h0m0 5h0m-1-9h0m0 8h0m0-7h0m-1 7h0m-1 0h0m0-5h0m0 2h0m0 4h0m0-3h0m-1-2h0m-2 0h0m0-3h0m-2 0h0m-1 7h0m0-5h0m0 6h0m0-3h0m-1-3h0m0 2h0m-1-3h0m0-1h0m-1 2h0m-1-1h0m0 7h0m-1-3h0m-1 2h0m0-5h0m-1-3h0m0 8h0m-2-5h0m0 4h0m0-3h0m-1-2h0m0-1h0m-1 0h0m0-1h0m4 11h0m3 4h0m0-1h0m2-1h0m0-3h0m1 8h0m0-7h0m1 3h0m0-3h0m1 8h0m0-5h0m0 2h0m1-1h0m0 2h0m0 2h0m0-3h0m0-5h0m1 6h0m0 2h0m1-2h0m1-2h0m0-3h0m1 3h0m0 4h0m2 0h0m0-5h0m1 1h0m0-5h0m0 8h0m1-8h0m0 1h0m0 2h0m1 0h0m0-1h0m1 7h0m0-7h0m0 4h0m1-1h0m0-4h0m0 2h0m2 5h0m0-7h0m0 8h0m0-3h0m1-6h0m0 2h0m0 1h0m1-3h0m0 6h0m1-3h0m0 4h0m1-5h0m0 2h0m1-2h0m3 7h0m0-6h0m1-3h0m0 9h0m1-4h0m1 0h0m0 2h0m0-7h0m0 9h0m0-5h0m1 1h0m1-5h0m-6 12h0m-1 0h0m-1 0h0m-1 0h0m0-1h0m0 2h0m0-3h0m-1 0h0m0 1h0m-1 3h0m0-4h0m0 2h0m-1 1h0m-1 1h0m-1 1h0m-2-3h0m0 2h0m-1-2h0m-2 1h0m-3-3h0m-1 0h0m-1 0h0m-1 1h0m-1 0h0" stroke="#67a189" stroke-width="2.6" stroke-linecap="round" fill="none"/>
<path d="M493 269h0m14 2h0m-1 5h0m0 2h0m0-5h0m0-3h0m-1 1h0m0 4h0m-1 4h0m0-4h0m0-5h0m-1 8h0m0-7h0m0 4h0m-1 2h0m0 2h0m0-7h0m-1 6h0m0-7h0m0 4h0m-1-5h0m0 2h0m0 4h0m0-5h0m-1 4h0m0-5h0m0 4h0m-1-2h0m-1-1h0m-1 1h0m-1 4h0m0-3h0m0 2h0m0-5h0m0 9h0m-1-1h0m0-7h0m-1 1h0m0-1h0m0 2h0m0 4h0m-1 0h0m0-1h0m0-3h0m-1 1h0m0 3h0m-1-7h0m0 8h0m0-7h0m0 4h0m-1 4h0m0-3h0m0-3h0m-2-2h0m0-1h0m-1 1h0m0 4h0m-1 4h0m0-8h0m-1 2h0m0 4h0m0-5h0m-1 5h0m0-7h0m-1 8h0m0-6h0m-1 2h0m0 5h0m-2-7h0m0 4h0m0 2h0m-1-5h0m0-3h0m0 9h0m-1-9h0m0 8h0m-1-2h0m-1 3h0m0-7h0m0 6h0m0-7h0m0 4h0m-1 1h0m0 1h0m-1-3h0m0 2h0m0-5h0m-1 3h0m0 2h0m0 2h0m-1-7h0m-2 1h0m0 2h0m0 4h0m-1-8h0m0 9h0m0-3h0m0 2h0m0-7h0m0 2h0m-1 5h0m0-5h0m0 2h0m0-5h0m-1 9h0m-1-1h0m0-7h0m0 3h0m0 2h0m-1-1h0m0 1h0m0-3h0m-1 3h0m0-6h0m-1 0h0m0 2h0m-1-2h0m-1 2h0m6 11h0m1-1h0m0 1h0m1 1h0m0-4h0m0 2h0m1 2h0m0 1h0m0-5h0m1 6h0m0-5h0m0 2h0m0-3h0m1 2h0m0-1h0m1-1h0m1 1h0m0 2h0m1 0h0m0 4h0m0-1h0m0 2h0m1 1h0m0-8h0m1 7h0m0-7h0m0 1h0m1 4h0m0 2h0m0-5h0m0 2h0m1 2h0m1-5h0m1 3h0m1 3h0m0-3h0m0-5h0m0 9h0m0-5h0m1-4h0m0 2h0m1 6h0m0 1h0m1-3h0m1-2h0m0 2h0m0-5h0m1-1h0m0 2h0m0 4h0m1 2h0m0-1h0m1-7h0m0 4h0m0 2h0m0 2h0m0-7h0m0 4h0m0 2h0m1 0h0m0-7h0m0 9h0m0-5h0m1 2h0m1 2h0m0-5h0m1-3h0m0 2h0m1 2h0m1-3h0m0 6h0m0-3h0m2 2h0m0 1h0m1-3h0m0 2h0m0 2h0m1-5h0m0 2h0m0-1h0m1-3h0m1 5h0m0-5h0m0 6h0m0 2h0m0-5h0m1 0h0m0 2h0m0 2h0m1 0h0m0-3h0m0 2h0m0 2h0m1-7h0m1-2h0m0 4h0m1-4h0m0 2h0m0 2h0m0-3h0m1-1h0m0 1h0m-5 9h0m-3 2h0m0 1h0m-3-1h0m0 3h0m-1-2h0m0-3h0m0 6h0m-1-4h0m0-1h0m-1 6h0m0-7h0m0 9h0m0-7h0m-1 5h0m0-7h0m-1 9h0m0-8h0m-1 0h0m0 4h0m0 2h0m-1 0h0m0-5h0m-1 7h0m0-1h0m0-3h0m-1 1h0m-1-3h0m0 2h0m0-5h0m-1 2h0m0 4h0m0-1h0m-1-2h0m0 2h0m0 1h0m-2-3h0m0-3h0m0 1h0m-1 3h0m0-1h0m0-3h0m-1 1h0m-1 0h0m-1-1h0m-1 0h0m0 3h0m18 7h0" stroke="#67a189" stroke-width="2.6" stroke-linecap="round" fill="none"/>
<path d="M549 319h0m-8 9h0m0 1h0m2-1h0m0-1h0m1-1h0m0 2h0m0-5h0m0 4h0m0 2h0m0-7h0m1 1h0m0 6h0m0-1h0m1-6h0m0 2h0m0 2h0m0 2h0m0-1h0m1-4h0m0-3h0m0 2h0m1-1h0m1 1h0m11 6h0m1-1h0m5 2h0m4-1h0m1-3h0m0 4h0m1-4h0m1-2h0m2 6h0m2 0h0m0 1h0m0 9h0m0-7h0m-1 6h0m0-7h0m0 6h0m0 2h0m-1-9h0m0 8h0m-1 0h0m0-1h0m-3-2h0m0 1h0m-1 3h0m-1-2h0m0-4h0m-1 3h0m-3-2h0m-1-2h0m0 6h0m-3-4h0m-1-1h0m-2 6h0m0-3h0m-1-6h0m0 6h0m-4 0h0m-1 1h0m-1-3h0m-1 5h0m-1 0h0m0-5h0m-1 2h0m-1 1h0m-1-6h0m-1 5h0m0-3h0m0-3h0m-1 1h0m-1 8h0m-1-5h0m-3-3h0m-4 0h0m12 11h0m1 2h0m0-1h0m0-3h0m2 1h0m2-1h0m1 0h0m0 8h0m4-6h0m2 0h0m0 1h0m1-1h0m1 0h0m1 1h0m2-2h0m0-1h0m1 0h0m2 3h0m1-3h0m0 2h0m0-1h0m1-1h0m4 0h0m1 3h0m2 6h0m0-6h0m2 5h0m2-3h0m0 3h0m3 8h0m-3-3h0m-1 1h0m0-3h0m-1 0h0m-2 7h0m0-8h0m-2 9h0m-1-2h0m0 2h0m-1 0h0m-2 0h0m0-1h0m-1 1h0m-1 0h0m-1-3h0m0-1h0m-1-1h0m-1-1h0m0 1h0m-2-2h0m-5-2h0m-1 1h0m-1-1h0m0 4h0m-1-1h0m0 2h0m-2-3h0m0-1h0m-2-1h0m-1 1h0m-11 2h0m0 2h0m4 7h0m0 4h0m1-3h0m2 3h0m1 2h0m2-3h0m1 2h0m0-1h0m1-4h0m18-2h0m0 1h0m1-1h0m1 0h0m0 1h0m0 2h0m1-2h0m2-1h0m2 2h0m-7 10h0m-4-1h0m0-1h0m-1 0h0m-3 0h0m-4 3h0m-4 2h0m0-1h0m0 2h0m-2 0h0m0 2h0" stroke="#fff" stroke-width="2.8" stroke-linecap="round" fill="none"/>
<path d="M612 358h0m-6 0h0m-2 1h0m-10 9h0m1-1h0m0 1h0m1-1h0m2 0h0m6-7h0m3 4h0m2-2h0m2-2h0m1 0h0m6 12h0m0 2h0m-1-1h0m-2 3h0m-1 2h0m-1-4h0m0 3h0m-1-3h0m0 2h0m0 3h0m-1-7h0m-1 6h0m-5-7h0m-4-1h0m-1 4h0m0 3h0m0-7h0m-1 1h0m-2 7h0m0-1h0m-1-5h0m0 6h0m0-7h0m0 6h0m0-4h0m-1-3h0m0 7h0m-1 0h0m0-4h0m0-1h0m-4 0h0m0 9h0m6-1h0m1 0h0m5 1h0m1 1h0m1-1h0m0 3h0m0-1h0m1-1h0m1-1h0m9 0h0" stroke="#fff" stroke-width="2.8" stroke-linecap="round" fill="none"/>
<path d="M648 280h0m2 8h0m0 1h0m0-7h0m1 1h0m0 5h0m0-4h0m1-2h0m10 17h0m-6-4h0m0-1h0m0 2h0m-1-4h0m0 3h0m0 3h0m-1-2h0m-1-5h0m-1 2h0m0 2h0m-1 1h0m0-1h0m0 2h0m-1 0h0m-9-4h0m-1 0h0m-2 0h0m-2 2h0m-1-5h0m0 1h0m-1 1h0m-2 0h0m1 11h0m2 1h0m7 5h0m1-1h0m7 1h0m0-2h0m1 1h0m0 1h0m1 0h0m2 0h0m2-1h0m1 0h0m0-7h0m0-1h0m1 0h0m1 3h0m1-3h0m2 3h0m-8 10h0m-1-2h0m-2 0h0m0 1h0m-2 4h0m-1-1h0m-1 0h0m-1-3h0m-3 0h0m0 2h0" stroke="#fff" stroke-width="2.8" stroke-linecap="round" fill="none"/>
<path d="M594 178h0m-1-2h0m-1 1h0m-1 1h0m-1-1h0m-1-1h0m-2-2h0m-4 4h0m-1 0h0m-1 0h0m-1 0h0m-1 1h0m-2-1h0m-1-7h0m0 3h0m0 2h0m0 3h0m-1-7h0m0 6h0m0 1h0m-2-5h0m-4 13h0m2-2h0m0 3h0m2-1h0m1-4h0m2 0h0m0 3h0m7 3h0m10 3h0m-2-1h0m0-1h0m-4 2h0m-1-1h0m-1 7h0m-1-1h0m-1 0h0m-1-4h0m-1 6h0m0-7h0" stroke="#fff" stroke-width="2.8" stroke-linecap="round" fill="none"/>
<path d="M606 226h0m1 0h0m3 2h0m0-4h0m1 1h0m0-1h0m1 3h0m0-1h0m0-3h0m0 2h0m0 3h0m1 1h0m0-3h0m0-1h0m1-2h0m0 3h0m1-5h0m-2 13h0m-3-4h0" stroke="#fff" stroke-width="2.8" stroke-linecap="round" fill="none"/>
<path d="M563 259h0m-1-2h0m-1 2h0m-6 0h0m-1 0h0m-8-2h0m0 2h0m-1 0h0m-2 0h0m-11 8h0m1 2h0m0-5h0m0 2h0m2 1h0m5-1h0m0 2h0m0-3h0m0 2h0m2-7h0m6 7h0m7-7h0m6 8h0m2-5h0m2 5h0m2-3h0m5-1h0m4 1h0m0 2h0m0-3h0m0 2h0m1 3h0m0-5h0m1 2h0m0 2h0m0-5h0m0 2h0m1-2h0m0 2h0m1-3h0m0 1h0m0 2h0m1-1h0m0-2h0m1 2h0m-12 11h0m-2-1h0m-1 4h0m-1-1h0m-1-2h0m-1-2h0m0 1h0m-1-3h0m0 1h0m-3 6h0m-6-1h0m-12-3h0m-7-4h0m-1 2h0m0 3h0m-2 1h0m0-3h0m0 4h0m-2 1h0m4 5h0m0 2h0m1 2h0m1-2h0m0 2h0m10 0h0m1 2h0m6-9h0m0 9h0m2-9h0m1 1h0m1-1h0m1 0h0m2 5h0m1 4h0m1-2h0m2 0h0m1 1h0m3-6h0m2-1h0m2 7h0m1 1h0m1 0h0m1 0h0m5 0h0m1 0h0m6 3h0m0 1h0m-1 1h0m0-1h0m-1 0h0m0 3h0m-1-2h0m0-1h0m-2-2h0m-1 0h0m-1 0h0m-1 0h0m-1-1h0m-3 0h0m-5 2h0m-2-2h0m-2 5h0m0-4h0m-1 7h0m0-3h0m0-5h0m-2 8h0m-1-5h0m0 6h0m0-8h0m-1 4h0m-4-4h0m-3 7h0m-1-8h0m0 8h0m-2-5h0m0 1h0m-1-2h0m-2 7h0m-2-9h0m-13 4h0m10 7h0m4-1h0m0 1h0m3 0h0m0 3h0m1-4h0m0 1h0m1 6h0m0-6h0m1 3h0m1-1h0m1-1h0m0-2h0m1 2h0m1 2h0m1 0h0m0-1h0m1 0h0m1 0h0m5-3h0m0 3h0m5 1h0m0-1h0m7 16h0m-2-3h0m-2-1h0m-2-3h0m-16-2h0m0 2h0m-6 2h0m-1 0h0m-1-2h0m-6-1h0m0 1h0m-2-1h0m13 9h0" stroke="#fff" stroke-width="2.8" stroke-linecap="round" fill="none"/>
<path d="M466 317h0m0 2h0m0-1h0m0-3h0m-21 9h0m0 5h0m1-3h0m1-1h0m1 2h0m1-5h0m14 6h0m2-7h0m2 0h0m2 0h0m0 2h0m7 6h0m2-1h0m8 0h0m1 0h0m0-1h0m0 2h0m2-5h0m-5 8h0m-3 1h0m0 1h0m0-3h0m-1 6h0m-5-2h0m-4-1h0m0 1h0m-8-4h0m-1 2h0m-13 4h0m-2 1h0m-1 0h0m0-1h0m-2-4h0m-2-1h0m-1-1h0m-1 0h0m1 12h0m1 0h0m0 2h0m1-5h0m0 6h0m0 2h0m1-1h0m0-7h0m0 9h0m1-9h0m0 7h0m2 0h0m0-1h0m1-1h0m2 1h0m1-1h0m1 3h0m1 0h0m14-3h0m1-1h0m3 2h0m1-1h0m1 4h0m0-4h0m-2 5h0m-16 7h0m0-1h0m-1-5h0m-1-1h0m-1 1h0m-2 3h0m0-2h0m-2 0h0" stroke="#fff" stroke-width="2.8" stroke-linecap="round" fill="none"/>
<path d="M374.0,260.3L384.8,267.1L394.3,275.2L401.1,284.7L405.1,296.9L411.9,305.0L420.0,311.8L430.9,313.1L441.7,315.8L449.8,321.3L444.4,328.0L436.3,333.5L428.2,337.5L422.7,345.6L420.0,356.5L417.3,367.3L411.9,375.4L406.5,380.9L401.1,383.6L387.5,386.3L376.7,391.7L368.6,402.5L357.7,405.2L346.9,402.5L336.1,397.1L325.2,391.7L311.7,389.0L300.8,386.3L292.7,383.6L281.9,382.2L272.4,380.9L257.5,378.1L246.7,375.4L238.5,364.6L234.5,352.4L238.5,341.6L252.1,333.5L265.6,329.4L279.2,324.0L290.0,326.7L295.4,334.8L300.8,342.9L309.0,348.4L322.5,345.6L333.4,340.2L338.8,332.1L341.5,321.3L346.9,313.1L353.7,303.7L353.7,291.5L349.6,284.7L341.5,282.0L337.4,275.2L341.5,267.1L353.7,261.7L364.5,257.6L371.3,256.9Z" fill="#bc5641" fill-opacity="0.95"/>
<path d="M377 258h0m-5 0h0m-2-2h0m-4 2h0m-1-3h0m-2 2h0m-1 2h0m-1 0h0m-1 0h0m-1-2h0m-22 12h0m13-8h0m1 3h0m1-4h0m1 2h0m1-2h0m20 1h0m2 0h0m3 1h0m8 6h0m14 10h0m-6 0h0m-2-5h0m-1-3h0m-52 0h0m-1 9h0m0-5h0m-1-3h0m2 11h0m2 0h0m2 2h0m5 4h0m49-7h0m0 1h0m1 0h0m2 2h0m1-4h0m1 8h0m0-1h0m3 1h0m-4 4h0m-48-1h0m-1 1h0m-3 0h0m-2 15h0m3-6h0m1 2h0m1 3h0m1-2h0m53-3h0m1 1h0m5 4h0m0-5h0m1 6h0m8 2h0m28 8h0m-9-3h0m0 3h0m-4-3h0m-2-1h0m-7 1h0m-2-4h0m-79 1h0m-2 1h0m-1 5h0m-1-3h0m-1 0h0m-75 14h0m2-1h0m1 2h0m6-3h0m5-4h0m5 4h0m5 2h0m45 0h0m5-2h0m102 2h0m3-2h0m0-6h0m2 5h0m2-1h0m-9 7h0m-1 0h0m0 3h0m-1-4h0m-3 4h0m-1 2h0m0-3h0m-5 5h0m-91-4h0m0-3h0m-1-1h0m0 2h0m-2 1h0m-4 5h0m-31-2h0m0 2h0m-4 0h0m-3-6h0m0 2h0m-30-4h0m-2 0h0m-2 0h0m-2 1h0m-3 0h0m-1 0h0m-5 5h0m-2-1h0m-2 3h0m-12 11h0m4-8h0m1 5h0m1-5h0m0 1h0m3-1h0m56-1h0m3 4h0m0-1h0m8 1h0m0 3h0m1-2h0m8 1h0m3-1h0m1 2h0m4-5h0m1 2h0m2 0h0m1-1h0m92 2h0m1-1h0m2 2h0m1-5h0m-1 9h0m-1 3h0m-1 5h0m0-4h0m-186 3h0m-1 1h0m0-5h0m-3 2h0m5 7h0m1 6h0m2-2h0m176 1h0m1-2h0m1 1h0m1-6h0m-3 10h0m0 1h0m-2 0h0m-1 1h0m-2 2h0m-145 5h0m-4-1h0m-9 1h0m-2-2h0m0-1h0m-8-3h0m10 8h0m8 2h0m1-1h0m5 2h0m2-1h0m3-2h0m2 1h0m3 1h0m1 0h0m2 1h0m0-1h0m3 0h0m3 2h0m4-2h0m1 1h0m4 0h0m1 1h0m2 1h0m3 2h0m2-2h0m6 3h0m3 0h0m70-1h0m1-1h0m5 1h0m1-1h0m4 1h0m3-3h0m7-4h0m1 3h0m-24 6h0m-1 1h0m-1-1h0m-2 5h0m-1-2h0m0 3h0m-5 2h0m-30 1h0m-2-1h0m-5-1h0m0 2h0m-1-3h0m-3-3h0m-4-1h0m0 3h0m-4-2h0m-2-3h0m-2 0h0m-6 1h0m31 12h0m1-2h0m5 1h0m4 4h0m4-2h0m0 4h0m6-4h0m1 3h0m1-1h0m2 0h0" stroke="#bc5641" stroke-width="2.6" stroke-linecap="round" fill="none"/>
<path d="M392 274h0m-1 0h0m-4 3h0m-22-6h0m0 4h0m0-1h0m-1-1h0m-8-1h0m-2 0h0m0 2h0m-2-1h0m0-1h0m-1 10h0m4 1h0m0 1h0m7 2h0m0-5h0m0 4h0m0-3h0m2-2h0m2 4h0m0 1h0m1-1h0m21-4h0m2 1h0m1 0h0m1 1h0m6 3h0m1 4h0m0-4h0m1 1h0m0 2h0m1 0h0m2 1h0m-12 3h0m0-1h0m-1 4h0m-1-2h0m-1 0h0m-5 5h0m-3-1h0m-4-1h0m-5-1h0m-7-3h0m0 1h0m-1 5h0m-1-4h0m-1 1h0m0 4h0m-3-2h0m-1 0h0m2 3h0m1 0h0m19 1h0m1 0h0m1-1h0m21 8h0m3 1h0m1-1h0m2 0h0m13 9h0m-2-3h0m-32 1h0m-2 1h0m-2-2h0m-3 1h0m-1 1h0m-7-5h0m-1 4h0m-1-4h0m-15 7h0m0 1h0m-1 0h0m-2-3h0m-85 13h0m19 0h0m53-1h0m1-4h0m3 3h0m12-7h0m16 8h0m43 1h0m1-1h0m0-1h0m1 0h0m1 1h0m9 11h0m0-3h0m-1-2h0m0 1h0m0 2h0m-1-1h0m-1-2h0m-1 0h0m-1-1h0m-1 0h0m-1-2h0m0 1h0m-2 0h0m-3 2h0m-8 5h0m-2 0h0m-1 0h0m-1-1h0m-1 0h0m-29-8h0m-2 0h0m-1 2h0m-1 0h0m-85 1h0m-3 5h0m-1-2h0m-1 1h0m-10-7h0m-3 6h0m7 10h0m2 1h0m23 0h0m14 2h0m40-5h0m1-1h0m0 2h0m42-2h0m1-1h0m4 1h0m1 3h0m1-6h0m0 7h0m2-4h0m0-1h0m6 9h0m-2 2h0m-7-2h0m-2-1h0m-17 5h0m-3 4h0m-41-3h0m-1 1h0m-26-7h0m-6 8h0m-1 1h0m-3 0h0m0-1h0m-2-1h0m-1-3h0m0-4h0m-2 0h0m0 2h0m-2 5h0m-1-1h0m-3 0h0m0-5h0m-1 4h0m0 2h0m-1-1h0m-1-1h0m-6 1h0m0 2h0m-1-1h0m-6-3h0m-2-1h0m0 1h0m-11 2h0m0 2h0m-1 1h0m-17-1h0m0 2h0m4 3h0m10 5h0m5-2h0m1-1h0m0-3h0m1 0h0m1 6h0m11-1h0m2-2h0m0-5h0m1 5h0m24 2h0m0-1h0m0 2h0m1 0h0m1-8h0m0 4h0m0 2h0m1 0h0m1-3h0m1-1h0m7 1h0m2-1h0m1 1h0m1 2h0m1-1h0m3 2h0m26-2h0m3 2h0m0-2h0m0-1h0m0-1h0m1 0h0m0 1h0m1 0h0m6 2h0m2-1h0m1 2h0m1-2h0m14-4h0m2 0h0m18 5h0m0 2h0m0-3h0m2 1h0m1-5h0m1 6h0m2-1h0m1 0h0m0-1h0m5-1h0m1 1h0m0 1h0m-66 10h0m-1 0h0m-1-2h0m-2-1h0m-1 1h0m-2-1h0m-10 7h0m-7-6h0m-3 0h0m0-2h0m-7 6h0m-2 0h0m-1 2h0m-6-8h0m-3 4h0m-13 4h0m-2 0h0m-3-1h0m-21-6h0m-2-2h0m16 11h0m3 0h0m4-1h0m1 1h0m4-1h0m19 2h0m1 0h0m2-2h0m2 3h0m1 1h0m3-2h0m0 1h0m2-1h0m6 5h0m2-1h0m1 1h0m1-1h0m0 3h0m3-8h0m6 8h0m5-4h0m6-3h0m1 1h0m4-1h0m2 1h0m1 0h0m0 2h0m1 2h0m1-2h0m9 1h0m1-1h0m1 1h0m0 1h0m3 2h0m2-4h0m0 2h0m0-3h0m3-3h0m0 2h0m5 2h0m1-1h0m0 1h0m2-1h0m1-2h0m-13 10h0m-12 2h0m-1 0h0m-19 3h0m-2-3h0m-1-4h0m-1 3h0m-1-1h0m-4 5h0m0-5h0m0-1h0m-1 4h0" stroke="#fff" stroke-opacity="0.85" stroke-width="2.6" stroke-linecap="round" fill="none"/>
<path d="M396 329h0m4-3h0m11 13h0m-1 0h0m-7-3h0m-1-3h0m-1 1h0m0-1h0m-2 0h0m10 11h0m1 4h0m2-1h0" stroke="#fff" stroke-width="2.8" stroke-linecap="round" fill="none"/>
<path d="M410.6,379.5L417.3,386.3L425.5,402.5L433.6,422.8L436.3,432.3L430.9,435.0L425.5,420.1L417.3,399.8L410.6,386.3Z" fill="#bc5641" fill-opacity="0.9"/>
<path d="M411 379h0m-1 5h0m0-3h0m1-1h0m6 6h0m7 13h0m-2-7h0m-4 5h0m-3-2h0m-1 0h0m0-2h0m0 6h0m-3-4h0m7 7h0m0 3h0m2 0h0m0-1h0m5-4h0m1 2h0m3 7h0m3 9h0m-1-1h0m-2-5h0m-1-1h0m-6 4h0m-2-4h0m0 6h0m0-4h0m3 8h0m1 1h0m1-1h0m4 7h0m8 1h0m-2 4h0m0 1h0m-3 0h0m-2-3h0" stroke="#bc5641" stroke-width="2.6" stroke-linecap="round" fill="none"/>
<path d="M414 376h0m-4 8h0m2-3h0m0 3h0" stroke="#fff" stroke-opacity="0.85" stroke-width="2.6" stroke-linecap="round" fill="none"/>
<path d="M313.3,180.3L320.7,172.0L331.7,170.2L340.9,165.6L351.9,164.7L361.1,160.1L367.5,164.7L370.2,172.0L375.7,175.7L381.2,184.9L381.2,189.4L375.7,191.3L377.6,195.9L384.9,197.7L390.4,199.5L394.1,190.4L399.6,187.6L401.4,194.0L408.8,203.2L411.5,214.2L405.1,217.9L403.3,225.2L408.8,230.7L414.3,234.4L421.6,239.9L426.2,245.4L421.6,247.2L416.1,247.2L410.6,245.4L405.1,245.4L401.4,250.9L399.6,260.1L403.3,269.3L406.0,278.4L403.3,283.0L397.8,278.4L392.2,269.3L386.7,260.1L377.6,257.3L368.4,257.3L359.2,260.1L350.0,264.7L344.5,272.0L339.0,273.9L335.4,267.4L332.6,255.5L328.0,241.7L320.7,236.2L313.3,232.6L309.7,223.4L308.8,212.4L310.6,195.9L311.5,186.7Z" fill="#67a189" fill-opacity="0.97"/>
<path d="M357 159h0m-31 9h0m4-1h0m6 1h0m2 1h0m0-1h0m3-3h0m5-3h0m0 3h0m3-2h0m1 2h0m3 0h0m4-3h0m2-1h0m4 0h0m2 1h0m1 0h0m1 2h0m1 3h0m9 10h0m-2-3h0m-1-2h0m0 4h0m-41-5h0m-10 1h0m-5-1h0m-1 4h0m-3 1h0m-3 13h0m1-9h0m0 3h0m1-1h0m70-2h0m0 6h0m12 1h0m1-1h0m7 3h0m2 8h0m-2-5h0m0 4h0m-1-1h0m-1-1h0m0-1h0m-1 0h0m-7 0h0m-1 0h0m0 6h0m-1-6h0m-2 2h0m-1 4h0m-4-3h0m-5-5h0m-1 2h0m0 1h0m-67 0h0m-1 3h0m0 2h0m-3 2h0m1 5h0m1-4h0m0 6h0m99-7h0m3 3h0m1 5h0m-1 4h0m0-2h0m-2 5h0m0-5h0m-1 6h0m-102-3h0m3 13h0m0-5h0m2 6h0m1 0h0m91-8h0m0 6h0m0-3h0m1-2h0m1 8h0m1 0h0m1-7h0m5 6h0m12 9h0m-4 1h0m-3-4h0m-2-1h0m-3-2h0m-2 1h0m-83 7h0m-3 0h0m-5-5h0m-1 4h0m-1-1h0m-4-6h0m13 14h0m3 2h0m1-2h0m75 3h0m2-3h0m0 2h0m2 0h0m5-2h0m6 2h0m3-1h0m1-1h0m1-3h0m0-1h0m1 4h0m-24 7h0m-23 7h0m-1-2h0m-2-1h0m-6 1h0m-2-1h0m-36 3h0m0-3h0m-3-1h0m-1-3h0m5 14h0m1-2h0m12 5h0m6-6h0m0 2h0m0-3h0m4 1h0m3-3h0m3 1h0m1-1h0m4 1h0m4-1h0m10 3h0m2-2h0m4 5h0m1 0h0m6 3h0m7-3h0m2-2h0m1 2h0m4 9h0m-1 4h0m0-8h0m-2 1h0m-1-1h0m0 2h0m-5 6h0m-3-4h0m-1 0h0m-4-5h0m-1 0h0m-44 3h0m-1-1h0m0-1h0m-2 2h0m-3 1h0m-2-1h0m-1-3h0m60 11h0m1 3h0m1-1h0" stroke="#67a189" stroke-width="2.6" stroke-linecap="round" fill="none"/>
<path d="M355 168h0m-1 3h0m-5 0h0m-24 2h0m-1-1h0m-1 2h0m-1 0h0m31 11h0m1 1h0m2-3h0m0 2h0m0-1h0m1 0h0m0 2h0m1-1h0m11-4h0m0 2h0m0 1h0m1-4h0m1 1h0m35 15h0m-9-1h0m-1-3h0m-61 1h0m-4-3h0m0 2h0m-15 6h0m-1-1h0m0 1h0m-1 0h0m-1 1h0m-2-2h0m0 2h0m-1-3h0m0 2h0m1 3h0m2-1h0m0 2h0m2-2h0m6 8h0m0 1h0m1 0h0m29 0h0m24-8h0m1 1h0m1 5h0m0-5h0m2 1h0m20-1h0m2 1h0m0 6h0m0-1h0m1-5h0m0 1h0m1-3h0m2 0h0m0 6h0m1-6h0m0 2h0m0 2h0m1-1h0m0 3h0m1-6h0m0 6h0m1-2h0m0 11h0m0-2h0m-1 0h0m0-3h0m0 4h0m-1-3h0m-1 2h0m-46 5h0m0-1h0m-1-1h0m-1 2h0m-8-5h0m-2 1h0m-1-1h0m-1 0h0m-1 1h0m0-3h0m-24 0h0m37 8h0m0 2h0m2 7h0m1-7h0m0 2h0m4 1h0m7 3h0m0-1h0m0 2h0m1-6h0m1-3h0m1 0h0m34 0h0m-5 12h0m-1-2h0m0 1h0m-1-1h0m-7 3h0m-1-1h0m-1-2h0m0 2h0m0 6h0m-1-8h0m0 2h0m0 2h0m0-1h0m-2 2h0m0-1h0m-9 0h0m-1 0h0m-2 3h0m-1-3h0m-6-3h0m-3 1h0m-2-2h0m-1 2h0m-32 15h0m3 1h0m58-2h0m3 0h0m-25 7h0m-1 3h0m-1-2h0m-1 0h0m-1 3h0m-1 0h0m-9-3h0m-1 2h0m-3 2h0m-1-4h0" stroke="#fff" stroke-opacity="0.85" stroke-width="2.6" stroke-linecap="round" fill="none"/>
<path d="M358 183h0m0-2h0m1 4h0m4 4h0m0-1h0m1 4h0m-2-2h0" stroke="#fff" stroke-width="2.8" stroke-linecap="round" fill="none"/>
<path d="M344 229h0m1-4h0m1 3h0m1-1h0m6 12h0m-1 5h0m2 1h0m0-5h0" stroke="#fff" stroke-width="2.8" stroke-linecap="round" fill="none"/>
<path d="M397 239h0m-2-1h0m-2-2h0m-5 6h0m0 1h0m1-3h0m0 3h0m1 1h0m1-4h0m1 8h0m1-1h0m2-5h0m0-1h0m0 6h0m0-7h0m2 5h0m1-2h0m0 1h0m-5 6h0" stroke="#fff" stroke-width="2.8" stroke-linecap="round" fill="none"/>
<path d="M373.0,258.3L386.7,259.2L392.2,268.3L397.8,278.4L403.3,283.0L395.9,285.8L377.6,271.1L370.2,264.7Z" fill="#9c8974" fill-opacity="0.95"/>
<path d="M376 261h0m3 8h0m4-8h0m0 4h0m3 4h0m2 0h0m3 3h0m-4 6h0m-6-5h0m7 7h0m1 6h0" stroke="#67a189" stroke-width="2.6" stroke-linecap="round" fill="none"/>
<path d="M373 266h0m0-2h0m1 0h0m4 0h0m1 0h0m6 4h0m4 1h0m1-8h0m11 17h0m-12-4h0m-4 1h0m-1 0h0m-2 0h0" stroke="#bc5641" stroke-width="2.6" stroke-linecap="round" fill="none"/>
<path d="M373 259h0m-3-2h0m10 5h0m1 2h0m9 8h0m-2-1h0m-2 5h0m-4-1h0m-4-4h0m15 13h0m2 0h0" stroke="#67a189" stroke-width="2.6" stroke-linecap="round" fill="none"/>
<path d="M370 264h0m2 1h0m1-4h0m2 7h0m6-4h0m1 4h0m10 9h0m-8-4h0m-2-2h0m0 1h0m-5-1h0m21 9h0m3 5h0" stroke="#bc5641" stroke-width="2.6" stroke-linecap="round" fill="none"/>
<path d="M372 263h0m4-1h0m6 3h0m9 3h0m0-1h0m3 4h0m-1 0h0m-3 1h0m-1 6h0m-6-4h0m19 10h0" stroke="#67a189" stroke-width="2.6" stroke-linecap="round" fill="none"/>
<path d="M385 259h0m-3 0h0m-8 9h0m1-1h0m0 2h0m5 0h0m7-5h0m2 3h0m9 11h0m-3-5h0m0-3h0m-7 9h0m-3-9h0" stroke="#bc5641" stroke-width="2.6" stroke-linecap="round" fill="none"/>
<path d="M377 262h0m1 2h0m3-1h0m1-1h0" stroke="#fff" stroke-opacity="0.85" stroke-width="2.6" stroke-linecap="round" fill="none"/>
<path d="M315 249h0m1-1h0m0-1h0m1 2h0m1-3h0m1 3h0m0-3h0m1-1h0m1-3h0m1 1h0m0 4h0m2 0h0m1 0h0m0-3h0m0 1h0m1 4h0m0-3h0m1 3h0m6 9h0m-1-1h0m-2 0h0m-1 0h0m0-5h0m-1 4h0m0-5h0m0 6h0m-1 1h0m-2-2h0m-2 2h0m0-8h0m-1 6h0m-1-4h0m0 2h0m0 2h0m0 2h0m0-5h0m0-3h0m-1 5h0m-1-2h0m0-1h0m-1 3h0m-2-3h0m5 9h0m2 3h0m1-3h0m0 6h0m2-1h0m0 1h0m0-5h0m1 1h0m0 4h0m1-4h0m0 2h0m0 4h0m0-7h0m0 2h0m1 0h0m1 0h0m1 2h0m0-1h0m0 2h0m0 2h0m0-7h0m1-1h0m1-1h0m1 7h0m0-3h0m1 2h0m1 0h0m4 7h0m-1 4h0m-1-5h0m-1 3h0m0-3h0m-1 0h0m-1 6h0m0-5h0m-1 3h0m0-5h0m-1 4h0m0 2h0m-1-5h0m0-1h0m-1 7h0m0-6h0m-1-1h0m-1 4h0m0-5h0m-1 1h0m7 11h0m0-1h0m2 3h0m0-3h0m1 1h0m1 0h0m0 4h0m0-6h0m1 2h0m0 4h0m0-3h0m1-1h0m0 2h0m0 1h0m1 0h0m0-3h0m1 2h0m0-1h0m1 0h0" stroke="#bc5641" stroke-width="2.6" stroke-linecap="round" fill="none"/>
<path d="M322 238h0m-1 0h0m-1-3h0m-1 2h0m-1 2h0m-1 0h0m-1-2h0m-1 5h0m0 3h0m0-4h0m1 2h0m3 3h0m0 3h0m0-1h0m0-3h0m1 1h0m1 0h0m2-4h0m0 5h0m0-6h0m8 17h0m-2-7h0m0 4h0m-2 1h0m0-4h0m0-1h0m-1 1h0m0 4h0m0-6h0m-1 3h0m0-1h0m0-1h0m-1-1h0m-1 6h0m0 2h0m-1-3h0m0-3h0m-1 7h0m0-2h0m-3-6h0m0 1h0m-1 1h0m-1-1h0m8 9h0m1 4h0m0-4h0m1 0h0m1 1h0m0-1h0m1 3h0m0 2h0m1-4h0m1 5h0m0-3h0m0-4h0m1 8h0m1-3h0m1-1h0m0 2h0" stroke="#bc5641" stroke-width="2.6" stroke-linecap="round" fill="none"/>
<path d="M593 549h0m1 0h0m7 0h0m5 4h0m-1 3h0m0 3h0m-2-7h0m-1 5h0m0-6h0m-1-1h0m-1 0h0m-1 2h0m0 4h0m-1-2h0m0-2h0m-1-1h0m0 8h0m0-5h0m-1-3h0m0-1h0m0 3h0m0 4h0m-1 0h0m-1-1h0m0-6h0m0 8h0m-1-4h0m0-2h0m0 4h0m0-5h0m-1 7h0m-1-1h0m0-6h0m0 3h0m0 4h0m-1-4h0m0 4h0m0-6h0m-1 7h0m-1-2h0m0-3h0m-1 1h0m0 3h0m0-1h0m-6 11h0m2 1h0m1-6h0m1 1h0m1-2h0m0-1h0m0 7h0m0-5h0m1 6h0m1-3h0m0 3h0m0-5h0m0 3h0m1-4h0m1 4h0m1-2h0m0 2h0m1 0h0m0-5h0m0-1h0m0 4h0m1 4h0m0-5h0m1 2h0m0-5h0m0 3h0m1 5h0m1 0h0m0-2h0m1-1h0m0 3h0m0-5h0m1-2h0m0-1h0m3 4h0m1-5h0m1 1h0m0-1h0m1 4h0m0 4h0m0-2h0m0-5h0m0 4h0m1-1h0m-4 7h0m0-1h0m-2 0h0m0 2h0m-4 1h0m0-1h0m0 2h0m-1-1h0m0-1h0m-1 0h0m0 3h0m-1-1h0m0 3h0m-1-7h0m0 4h0m0-1h0m-1 0h0m0 4h0m-1 2h0m-1-1h0m0-7h0m-1 0h0m-2 4h0m-1 0h0m0-1h0m0 4h0m-1-8h0m0 9h0m0-6h0m-1 0h0m-1 1h0m-1 1h0m-2 0h0m-1 4h0m-4 0h0m-55-2h0m0-1h0m0-2h0m-1 3h0m-24 12h0m0-1h0m0-1h0m4-2h0m3-1h0m0 4h0m1 0h0m0-2h0m0-1h0m1 4h0m2-4h0m3 1h0m0 2h0m2 1h0m1-2h0m0 1h0m1-1h0m2-1h0m0-2h0m1 4h0m4-6h0m0 7h0m0-6h0m1-2h0m0 3h0m51 1h0m0 3h0m1-2h0m0 3h0m1-5h0m1 2h0m1 0h0m0 3h0m3-2h0m0 2h0m2-9h0m0 4h0m1 3h0m0-5h0m2-1h0m1 0h0m1 0h0m1 6h0m1 2h0m0-2h0m2-3h0m0-1h0m0-2h0m1 0h0m1 2h0m1-3h0m0 3h0m1-2h0m1 0h0m-4 11h0m-1 1h0m-1 3h0m-1-1h0m0 1h0m-1 2h0m0-5h0m-1 0h0m0 4h0m-3-1h0m-1-4h0m-1 4h0m0 3h0m-1-2h0m-2-6h0m-2 1h0m0 7h0m-1-7h0m-1 3h0m-1-4h0m-1-1h0m0 9h0m0-5h0m0-2h0m-1 5h0m0 2h0m-1-7h0m-1 1h0m-1 2h0m0-1h0m-1 4h0m-39 0h0m-1-2h0m-1-1h0m0-1h0m-1 2h0m-1-3h0m-1 1h0m-2 0h0m-1 3h0m-1 1h0m0 1h0m-1-4h0m0-3h0m-1 6h0m0-5h0m0 3h0m-1 2h0m0-7h0m-1 4h0m0-2h0m-3 3h0m0 3h0m0-5h0m0-1h0m-1-2h0m-1 7h0m-1-3h0m-1-1h0m0 2h0m-1-5h0m0-1h0m0 4h0m0-1h0m0 4h0m0-5h0m-1 1h0m0-2h0m-1 0h0m-1 8h0m-2-7h0m0-2h0m-1 1h0m0 2h0m-1 4h0m0-2h0m0 4h0m-2-7h0m0-1h0m-1 3h0m0 1h0m0-5h0m-2 3h0m-1 1h0m-1-3h0m0 3h0m0-1h0m0 4h0m-2-3h0m-1 1h0m0 2h0m-1 2h0m-2-3h0m-4 13h0m1 0h0m1-1h0m2-1h0m0 2h0m1-9h0m0 6h0m1 0h0m2-2h0m2-2h0m1 5h0m1-5h0m0 2h0m1 1h0m0 2h0m1 2h0m0-1h0m1-8h0m1 8h0m2-1h0m1-7h0m1 2h0m0-1h0m0 4h0m0-5h0m1 6h0m1-1h0m1-4h0m1 5h0m1-5h0m1 3h0m0-4h0m1 3h0m0-1h0m1 1h0m0 2h0m0-5h0m1 9h0m4-3h0m1-6h0m1 4h0m0-1h0m0 3h0m1-6h0m2 5h0m0 2h0m1 0h0m0-1h0m0-1h0m1 4h0m0-5h0m0 3h0m0-5h0m0 4h0m1-5h0m0-1h0m3 0h0m1 8h0m0-6h0m0-1h0m1 7h0m0-1h0m0-5h0m1 7h0m0-5h0m1 1h0m0-2h0m0-2h0m1 4h0m0-5h0m0 4h0m0-2h0m1 6h0m0-5h0m0-1h0m0 4h0m0 3h0m2-7h0m0-2h0m2 6h0m1 0h0m0-2h0m1 5h0m0-2h0m1-1h0m1 3h0m7-5h0m0 4h0m0-1h0m0-1h0m1 3h0m3-3h0m0 3h0m5-2h0m1 1h0m2-1h0m0-1h0m1 3h0m0-2h0m2-4h0m0 3h0m0-2h0m1-4h0m0 4h0m0 2h0m1-3h0m1 6h0m2-6h0m0-2h0m0 7h0m1-3h0m0 4h0m0-5h0m1-3h0m0 8h0m1 0h0m0-1h0m1-6h0m2 3h0m1-4h0m1 3h0m2 1h0m1-4h0m2 5h0m0-6h0m0 4h0m1 2h0m1-2h0m3 0h0m-8 7h0m-1 0h0m-1 0h0m-1-1h0m-3 5h0m0-5h0m0 6h0m-1 0h0m0-6h0m-1 5h0m0 2h0m0-5h0m-2-1h0m-1 2h0m0 4h0m-1-4h0m0-2h0m0 8h0m-1-8h0m0-1h0m0 9h0m-2-4h0m-1 1h0m0-6h0m-1 9h0m0-1h0m-1-6h0m0-1h0m-1 8h0m-1-6h0m0 4h0m-1-6h0m0 4h0m-1 0h0m0 3h0m0-1h0m-1-1h0m-1-1h0m-1 3h0m0-1h0m-1-3h0m-1-3h0m-1 7h0m0-8h0m-1 6h0m0-2h0m0-1h0m-1-3h0m0 9h0m0-1h0m0-6h0m-1 1h0m0-1h0m0-1h0m0 7h0m-3-1h0m0-1h0m0-6h0m0 3h0m-1 4h0m-1-1h0m0-1h0m-1 2h0m0 2h0m-1-4h0m0-3h0m0 4h0m-1 2h0m0-2h0m0-6h0m-1 6h0m0 2h0m0-5h0m-2-3h0m-1 1h0m-1 7h0m-1-2h0m0 3h0m-1 0h0m0-8h0m-1 3h0m0-1h0m0-2h0m-1 6h0m0-1h0m0-3h0m-1 1h0m0-1h0m0 2h0m-1-3h0m-1 5h0m-1-5h0m0-1h0m-1 5h0m-1-2h0m0 3h0m-2-1h0m0-2h0m-1-4h0m-1 3h0m0 4h0m-1-1h0m-3-5h0m0 3h0m0-1h0m-1-3h0m0 9h0m-1-2h0m-1-2h0m-2 2h0m0-1h0m0-1h0m0-5h0m-1 7h0m-1-1h0m-1 2h0m-1-5h0m-1 2h0m-1 1h0m0-2h0m-1 1h0m0 2h0m-1-5h0m0-2h0m0 9h0m0-5h0m-2 3h0m0-2h0m-1 0h0m0 4h0m0-5h0m-2-1h0m0-1h0m0-1h0m-1 5h0m-1-2h0m-1 3h0m0 2h0m-1-4h0m0 3h0m0-6h0m-1-1h0m-1 1h0m-1-2h0m0 7h0m0-6h0m-1 8h0m-1-2h0m0-1h0m-1 2h0m0-1h0m-1 2h0m-1-7h0m0-1h0m-1 8h0m0-7h0m-1 5h0m0 2h0m0-5h0m0-1h0m-1 2h0m0-2h0m-1 1h0m0-2h0m0 4h0m-2-2h0m-1 3h0m0-2h0m-2 3h0m-6 10h0m1-2h0m1-6h0m0 3h0m1 0h0m0-1h0m1-2h0m2 2h0m1-1h0m0 1h0m1-1h0m4-1h0m2 0h0m4 3h0m1-1h0m0-1h0m2 2h0m4-1h0m2-1h0m0-1h0m1 5h0m0-3h0m1-2h0m1 3h0m1-1h0m0-1h0m0 4h0m1-4h0m0-1h0m1 3h0m0-2h0m0-1h0m1 4h0m1 4h0m1 0h0m0-2h0m1-1h0m0 4h0m0-1h0m0-5h0m2 6h0m0-6h0m0 4h0m0-5h0m1 7h0m1-2h0m0-7h0m1 8h0m0-5h0m0 3h0m0-5h0m1 1h0m1 1h0m0 4h0m1-2h0m0-2h0m0 4h0m1-3h0m0 4h0m1 1h0m0-2h0m1-2h0m1 1h0m0-1h0m2-5h0m0 4h0m1 3h0m0-5h0m0-2h0m1 6h0m2 1h0m0-5h0m1 3h0m1-3h0m1 0h0m2 6h0m0-5h0m0-2h0m1 2h0m1-1h0m0-2h0m2 1h0m1 0h0m0 2h0m1 1h0m1-1h0m1 2h0m1-2h0m1 3h0m0-6h0m1 0h0m0 9h0m1-1h0m0-5h0m1 3h0m0-5h0m0 3h0m1 5h0m0-6h0m1 3h0m1-5h0m0 4h0m2-5h0m2 9h0m0-2h0m1-4h0m1 6h0m3-1h0m0-1h0m0-7h0m1 2h0m0 5h0m2-2h0m1-3h0m1 1h0m1-3h0m1 1h0m0 1h0m-7 9h0m0-1h0m-4 1h0m0-1h0m-3 1h0m-5 2h0m-1 0h0m-2-2h0m-2 2h0m-1-1h0m-1 0h0m-2 1h0m-4-2h0m0 2h0m-2-2h0m-1-1h0m0 3h0m0-1h0m-1 0h0m-3-2h0m-4 1h0m-14-1h0" stroke="#4a5486" stroke-width="2.6" stroke-linecap="round" fill="none"/>
<path d="M465.9,627.9L470.7,623.2L480.1,620.8L489.5,623.2L501.3,627.9L510.8,632.6L516.7,633.8L522.5,631.4L529.6,624.3L532.0,612.5L527.3,603.1L524.9,597.2L529.6,599.6L534.3,606.7L536.7,619.6L540.2,630.2L548.5,632.6L555.6,627.9L563.8,622.0L572.1,614.9L579.2,607.8L586.2,598.4L590.9,586.6L594.5,577.2L600.4,570.1L608.6,567.7L615.7,572.5L618.1,583.1L616.9,596.0L614.5,610.2L609.8,624.3L606.3,636.1L605.1,647.9L600.4,659.7L593.3,671.5L586.2,680.9L576.8,689.2L567.4,693.9L555.6,692.7L543.8,691.6L534.3,685.7L527.3,678.6L517.8,675.0L508.4,669.2L501.3,666.8L491.9,659.7L482.5,652.6L473.0,645.6L467.1,636.1Z" fill="#4a5486"/>
<path d="M605 569h0m1-3h0m1 3h0m7 4h0m0-3h0m-15 3h0m-3 2h0m-1 4h0m-1 0h0m-3 8h0m1-4h0m3-3h0m25 19h0m-1-5h0m0-1h0m-2 3h0m0 2h0m-1-2h0m-26-6h0m0 2h0m-4 2h0m-1 2h0m-55 2h0m-2-4h0m0 2h0m-6 3h0m3 4h0m1 1h0m4-2h0m1-2h0m5 6h0m41 2h0m1-3h0m1 2h0m4-3h0m32 5h0m1-9h0m3 4h0m-5 11h0m-1 1h0m-34-6h0m-7 5h0m0-3h0m-3 3h0m-31-1h0m-1 1h0m-1 3h0m-4-4h0m-1-4h0m-2 4h0m0 4h0m-54 1h0m-12 10h0m2-1h0m2-5h0m0 6h0m2-3h0m2-3h0m1-1h0m1 0h0m5 0h0m4 0h0m5-2h0m1 4h0m7-1h0m1 4h0m2 0h0m2 1h0m2-4h0m0 4h0m2-2h0m0 2h0m4 1h0m4 0h0m11-2h0m3-1h0m1 2h0m4-8h0m6 4h0m1-2h0m2 5h0m3 0h0m0 2h0m12-1h0m3-1h0m4-4h0m2-1h0m2-2h0m42 6h0m3 3h0m1-9h0m0 2h0m-1 8h0m-2 1h0m0 6h0m-1-7h0m-1 6h0m-54-6h0m-2 0h0m-3 3h0m-6-3h0m-2 0h0m-17 1h0m-4 1h0m-2 0h0m-3 3h0m-46 2h0m-1 0h0m0-4h0m2 12h0m4 3h0m134 2h0m-1 1h0m-3 2h0m-2 4h0m0 2h0m0-3h0m-111 2h0m-3-1h0m-2 2h0m-5-8h0m-1-1h0m-1 3h0m15 12h0m2 2h0m4-1h0m1 0h0m3 0h0m2 2h0m3 0h0m92-1h0m1-2h0m-5 7h0m-2-2h0m0 6h0m0 1h0m-1-7h0m-3 5h0m-1 3h0m-61 1h0m-2 0h0m-6-5h0m0 2h0m-9-1h0m-2-5h0m13 10h0m3 0h0m6 2h0m1 0h0m3 7h0m4 0h0m37 0h0m5 0h0m6-7h0m1-1h0m-9 9h0m-4 1h0m-5 5h0m-1-2h0m-7-1h0m0 2h0m-1-2h0m0 2h0m-9-2h0m-4 1h0m-2-2h0m-2 1h0m-1-2h0m-2 3h0" stroke="#4a5486" stroke-width="2.6" stroke-linecap="round" fill="none"/>
<path d="M608 587h0m1-3h0m2 1h0m1 2h0m2-1h0m3 2h0m1-6h0m-26 14h0m-2-1h0m-1-2h0m0 2h0m-2-1h0m-4 11h0m1 2h0m1-4h0m1-1h0m0 2h0m2-4h0m3 3h0m1 1h0m0-1h0m10 3h0m1 3h0m0-4h0m2 3h0m-45 19h0m3-3h0m2 1h0m3-1h0m2-3h0m31 8h0m-2 3h0m-3 4h0m-21-5h0m0 1h0m-1 1h0m-1-2h0m-7 7h0m0 1h0m-1-1h0m-7-7h0m-1 4h0m0-3h0m-2 2h0m-65-3h0m0-1h0m62 14h0m1 3h0m0 1h0m2 1h0m0-1h0m13-8h0m25 19h0m-2-1h0m-36-8h0m-18 2h0m-2 3h0m0-1h0m25 9h0m2-3h0m23 8h0m6-5h0m2-2h0m1-1h0m-10 10h0m-1 0h0m-25 5h0m0-1h0m-1 1h0m-1 3h0m0-2h0m-2 1h0m0-3h0m0 2h0m-1 0h0m0-1h0m-6-5h0" stroke="#fff" stroke-opacity="0.85" stroke-width="2.6" stroke-linecap="round" fill="none"/>
<path d="M229.3,622.5L237.2,617.7L245.0,614.6L252.9,606.7L259.2,603.6L260.8,598.9L259.2,613.0L257.6,620.9L252.9,627.2L251.3,635.0L249.8,642.9L249.0,650.8L246.6,658.6L243.5,666.5L238.8,674.4L234.0,682.2L230.9,687.7L224.6,679.1L219.9,670.4L216.0,662.6L214.4,654.7L215.2,642.9L216.0,637.4L219.9,635.0L224.6,631.1L228.5,627.2Z" fill="#bc5641"/>
<path d="M252 603h0m5 3h0m0-2h0m1 0h0m1-3h0m0 3h0m0-1h0m1 5h0m0-4h0m1-2h0m2 0h0m-4 14h0m-2 3h0m0-2h0m-5-7h0m-3 0h0m-6 2h0m-2 5h0m-1-1h0m-12 13h0m1-3h0m1-4h0m1-1h0m21 6h0m4-2h0m-5 9h0m0 3h0m-1-4h0m-24-3h0m-4 3h0m-2-1h0m-1 3h0m-2-1h0m-1 4h0m-1-4h0m-2 8h0m2 1h0m34 2h0m0 1h0m3 3h0m-2 6h0m-3 1h0m-32-4h0m-2 2h0m-1 6h0m2 0h0m0 2h0m3 6h0m0-3h0m0 2h0m3 1h0m24 0h0m2-3h0m1-4h0m1 6h0m2-7h0m-10 13h0m-2 3h0m0-2h0m-1 2h0m-15 0h0m-4-1h0m-1-1h0m9 11h0m0-1h0m2 3h0m1-3h0m4 2h0m2-3h0m0-1h0m1 3h0" stroke="#bc5641" stroke-width="2.6" stroke-linecap="round" fill="none"/>
<path d="M239 619h0m-1 0h0m-1-1h0m-10 3h0m15 0h0m1 0h0m1 1h0m11 1h0m0 2h0m1 0h0m-24 6h0m-1 0h0m15 15h0m0 1h0m2 0h0m-28 19h0m4-3h0" stroke="#fff" stroke-opacity="0.85" stroke-width="2.6" stroke-linecap="round" fill="none"/>
<path d="M204 625h0m1 4h0m0-2h0m1-5h0m0 5h0m1-2h0m0 1h0m1 3h0m1 1h0m-1 3h0m-1-3h0" stroke="#bc5641" stroke-width="2.6" stroke-linecap="round" fill="none"/>
<path d="M270.2,642.9L273.4,649.2L278.1,657.1L284.4,666.5L287.5,674.4L288.3,682.2L285.9,688.5L281.2,690.9L273.4,688.5L268.6,685.4L272.6,682.2L274.9,677.5L273.4,670.4L270.2,658.6L267.1,650.8L267.9,645.3Z" fill="#bc5641"/>
<path d="M264 646h0m3 0h0m3-2h0m4 4h0m2-2h0m2 5h0m-1 0h0m-8 2h0m0 2h0m-2 3h0m4 9h0m1-5h0m0 2h0m0-4h0m9 3h0m1-1h0m2 0h0m6 13h0m0-1h0m-1-3h0m0 2h0m-14 4h0m-1-6h0m0 5h0m-1 3h0m-4 7h0m1-6h0m1 8h0m0-7h0m2 3h0m0-3h0m3 8h0m9 0h0m2-5h0m0 3h0m1-7h0m-6 10h0m-5 0h0m-1 2h0m-6-2h0" stroke="#bc5641" stroke-width="2.6" stroke-linecap="round" fill="none"/>
<path d="M281 675h0m-2 1h0m-1-1h0m0 2h0" stroke="#fff" stroke-opacity="0.85" stroke-width="2.6" stroke-linecap="round" fill="none"/>
<path d="M271 638h0m-2-1h0m-2 0h0m-2 0h0m0-4h0m0 6h0m-1 0h0m-1-8h0m-1 7h0m-1 0h0m-2-7h0m-1 1h0m-1 4h0m0-4h0m0 3h0m-1 2h0m0 2h0m1 3h0m2 2h0m1 1h0m1-5h0m1 5h0m4 3h0m2-8h0m1 5h0m1 2h0m-3 9h0m-1 1h0m-1 2h0m0-4h0m0-4h0m-1 5h0m-4-2h0m0 1h0m-1-3h0m-1-2h0m-2 7h0m-1-6h0m-1 1h0m0 2h0m2 9h0m5 0h0m4 0h0m1 7h0m0 1h0m-3 0h0m0 6h0m-1 0h0m-1-4h0m1 7h0" stroke="#bc5641" stroke-width="2.6" stroke-linecap="round" fill="none"/>
<path d="M418.4,464.4L422.4,463.9L423.4,468.4L425.5,470.5L428.0,473.0L430.6,468.4L432.6,467.4L435.6,470.5L436.6,473.0L433.6,476.6L430.6,479.6L428.0,483.2L428.0,487.2L425.5,490.8L424.0,494.9L424.5,498.4L420.4,499.4L415.3,499.4L414.3,495.9L414.3,490.8L416.8,486.7L418.4,482.2L420.4,479.6L422.4,476.6L419.4,473.5L418.9,469.5Z" fill="#67a189"/>
<path d="M415 466h0m3 2h0m1-4h0m0 5h0m5 0h0m1-6h0m5 1h0m5 5h0m1-3h0m2 9h0m-1-3h0m0 3h0m0-4h0m-4 7h0m-7-8h0m0 1h0m-1 0h0m0 1h0m-2 7h0m-2-5h0m0-2h0m-5 1h0m1 15h0m2-8h0m1 1h0m8 7h0m1-5h0m1 1h0m5-4h0m-8 11h0m-2 5h0m-1 1h0m0-5h0m-7 6h0m-2-4h0m0 4h0m-1-8h0m0 9h0m-1-2h0m-2-3h0" stroke="#67a189" stroke-width="2.6" stroke-linecap="round" fill="none"/>
<path d="M422 484h0m1 1h0" stroke="#fff" stroke-opacity="0.85" stroke-width="2.6" stroke-linecap="round" fill="none"/>
<path d="M419.9,455.2L422.4,455.2L422.9,464.4L420.4,465.4L417.9,460.3Z" fill="#bc5641" fill-opacity="0.9"/>
<path d="M424 457h0m-1 1h0m-1-2h0m-3 1h0m-2 0h0m-2 6h0m1 3h0m5-2h0m5-4h0" stroke="#bc5641" stroke-width="2.6" stroke-linecap="round" fill="none"/>
<path d="M467.1,488.8L470.2,488.3L471.2,490.8L474.7,499.9L472.7,501.5L470.7,498.4L467.1,492.8Z" fill="#87b9d3"/>
<path d="M468 488h0m0-1h0m8 10h0m-2 0h0m-1-3h0m-2-2h0m0 6h0m-1-2h0m0-4h0m-1 7h0m-3-9h0m6 11h0m1 0h0" stroke="#87b9d3" stroke-width="2.6" stroke-linecap="round" fill="none"/>
</g><g id="umapB">
<path d="M1068 83h0m4 1h0m3 14h0m-3-3h0m-2-5h0" stroke="#b33428" stroke-width="2.6" stroke-linecap="round" fill="none"/>
<path d="M1067 85h0m6-1h0m3 6h0m-13 6h0m11 7h0" stroke="#4b5587" stroke-width="2.6" stroke-linecap="round" fill="none"/>
<path d="M1070 86h0m0 2h0m3-4h0m0 3h0m-2 7h0" stroke="#b33428" stroke-width="2.6" stroke-linecap="round" fill="none"/>
<path d="M1065 84h0m1 0h0m1 1h0m6 4h0m-7 10h0" stroke="#4b5587" stroke-width="2.6" stroke-linecap="round" fill="none"/>
<path d="M1063 88h0m4-8h0m10 13h0m0 5h0m-3 5h0" stroke="#b33428" stroke-width="2.6" stroke-linecap="round" fill="none"/>
<path d="M1066 84h0m1-4h0m2 4h0m6 2h0m-4 15h0" stroke="#4b5587" stroke-width="2.6" stroke-linecap="round" fill="none"/>
<path d="M1059 129h0m0-2h0m6-4h0m4 4h0m3 1h0m-3 7h0m-1 1h0m-6-3h0m-1 3h0m-3-1h0m-2-2h0m-2-2h0" stroke="#4b5587" stroke-width="2.6" stroke-linecap="round" fill="none"/>
<path d="M1062.3,71.1L1068.1,75.6L1067.2,82.4L1063.3,89.3L1062.3,94.2L1066.2,101.1L1070.1,107.0L1072.5,112.9L1071.6,120.8L1069.1,123.7L1065.2,120.8L1060.3,118.8L1053.5,117.8L1047.7,115.4L1042.8,111.4L1040.4,109.0L1042.8,101.1L1042.8,93.3L1045.7,86.4L1048.6,80.5L1052.5,74.6L1058.4,72.1Z" fill="#b33428"/>
<path d="M1069 79h0m-2-3h0m-3-6h0m-1 1h0m-4 0h0m-1 1h0m0-1h0m-4 4h0m-2-1h0m-2-1h0m-2 3h0m-5 8h0m0 4h0m1-2h0m2-1h0m3-4h0m2-1h0m15 3h0m1 3h0m-5 7h0m0 3h0m-21-1h0m-1 12h0m0-7h0m0 8h0m1-2h0m2-6h0m24 3h0m3 5h0m0-1h0m4 4h0m0 8h0m-2-8h0m-11 8h0m-7-2h0m-1 2h0m-4-2h0m-2-1h0m-1-1h0m-1-2h0m-5 1h0m-1-2h0m17 8h0m3 2h0m5 0h0m3-1h0m2 1h0m1-2h0m4 0h0" stroke="#b33428" stroke-width="2.6" stroke-linecap="round" fill="none"/>
<path d="M1044 98h0m-2-2h0m2 4h0m1 0h0m11 3h0m1 2h0m0-1h0m2 0h0m2 0h0" stroke="#fff" stroke-opacity="0.85" stroke-width="2.6" stroke-linecap="round" fill="none"/>
<path d="M1074.0,87.4L1079.8,89.3L1085.7,93.3L1093.5,94.2L1101.3,89.3L1107.1,93.3L1111.0,100.6L1103.2,105.0L1095.4,105.0L1087.6,103.6L1079.8,102.1L1075.0,100.1Z" fill="#ab4d4c"/>
<path d="M1079 86h0m30 7h0m-2 6h0m-3-8h0m-3 6h0m-2-6h0m0 5h0m-3-1h0m-9-2h0m-1 0h0m-2 4h0m-2-6h0m-3-1h0m-4 2h0m0-2h0m-1 5h0m3 9h0m14-3h0m6 3h0m0 1h0m2-3h0m3 4h0m0-4h0m2 0h0m6-1h0" stroke="#b33428" stroke-width="2.6" stroke-linecap="round" fill="none"/>
<path d="M1098 93h0m-2 0h0m0 3h0m-9-2h0m14 13h0m1-7h0" stroke="#4b5587" stroke-width="2.6" stroke-linecap="round" fill="none"/>
<path d="M1075 89h0m3 0h0m28 0h0m1 6h0m-1 4h0m-2-8h0m0 2h0m-3 6h0m-1-7h0m-2-1h0m-1 7h0m-1-8h0m-13 2h0m-2 1h0m-1 0h0m-5 0h0m-1-3h0m-1 10h0m7 1h0m4-1h0m5 4h0m4-3h0m1 0h0m2 0h0m5 3h0" stroke="#b33428" stroke-width="2.6" stroke-linecap="round" fill="none"/>
<path d="M1087 89h0m11 10h0m-4 0h0m-3-5h0m4 13h0m9-4h0" stroke="#4b5587" stroke-width="2.6" stroke-linecap="round" fill="none"/>
<path d="M1108 95h0m-2 2h0m-1-5h0m-7 6h0m-3-7h0m-5 2h0m-1 1h0m-1 4h0m-2 1h0m-4-5h0m-3-4h0m-2 6h0m-2-1h0m-1-1h0m1 6h0m9 6h0m2-6h0m0 3h0m1 0h0m9-2h0m3 3h0m0-1h0m1 1h0m1-1h0m2 1h0m3-1h0" stroke="#b33428" stroke-width="2.6" stroke-linecap="round" fill="none"/>
<path d="M1103 94h0m-21 0h0m-6-1h0m13 14h0m14-2h0" stroke="#4b5587" stroke-width="2.6" stroke-linecap="round" fill="none"/>
<path d="M1101.3,84.4L1107.1,78.5L1113.0,73.6L1122.7,72.1L1128.6,66.7L1136.4,62.8L1137.8,64.7L1135.4,72.6L1142.2,75.6L1141.3,78.5L1135.4,78.0L1129.6,82.4L1124.7,89.3L1121.8,93.3L1115.9,92.3L1110.1,91.3L1103.2,88.8Z" fill="#b33428" fill-opacity="0.95"/>
<path d="M1127 65h0m1 1h0m3-3h0m3-3h0m1 3h0m2 0h0m0 3h0m3-3h0m0 4h0m2 11h0m-3-4h0m0 4h0m-1-6h0m0 2h0m-2-2h0m-3 7h0m-11-6h0m-5-1h0m-3-1h0m-1 3h0m-1 2h0m-3-2h0m-1 5h0m-9 8h0m1 1h0m1-5h0m1 6h0m1 0h0m1-8h0m1 7h0m21-3h0m1 2h0m2-2h0m1 0h0m5-5h0m3 2h0m-12 10h0m-1-2h0m-1 4h0m-3-2h0m-1 3h0m-5-4h0m-2 2h0m-2-1h0m-5 0h0" stroke="#b33428" stroke-width="2.6" stroke-linecap="round" fill="none"/>
<path d="M1121 77h0m0 3h0" stroke="#fff" stroke-opacity="0.85" stroke-width="2.6" stroke-linecap="round" fill="none"/>
<path d="M1056.4,135.5L1063.3,134.5L1064.7,140.4L1063.3,145.3L1059.4,150.3L1054.5,155.2L1052.1,156.7L1051.1,153.2L1053.0,147.3L1054.0,142.4Z" fill="#837d98"/>
<path d="M1061 135h0m-9 3h0m1 11h0m9-7h0m-3 11h0m-3 4h0m-1-5h0m0-1h0m-3 3h0m0-3h0" stroke="#4b5587" stroke-width="2.6" stroke-linecap="round" fill="none"/>
<path d="M1058 148h0m-5 2h0m-3 7h0" stroke="#dd9f83" stroke-width="2.6" stroke-linecap="round" fill="none"/>
<path d="M1066 139h0m0-1h0m-3 0h0m-2 1h0m-6 0h0m5 9h0m5-7h0m-7 14h0m-5 0h0m-1-5h0" stroke="#4b5587" stroke-width="2.6" stroke-linecap="round" fill="none"/>
<path d="M1061 148h0m-9 4h0m0 1h0" stroke="#dd9f83" stroke-width="2.6" stroke-linecap="round" fill="none"/>
<path d="M1063 135h0m-2 0h0m-8 11h0m1-2h0m4 2h0m1 2h0m4-5h0m-8 8h0m-4 4h0" stroke="#4b5587" stroke-width="2.6" stroke-linecap="round" fill="none"/>
<path d="M1057 142h0m5 9h0" stroke="#dd9f83" stroke-width="2.6" stroke-linecap="round" fill="none"/>
<path d="M1041.8,99.1L1044.3,92.3L1046.7,88.3L1046.7,97.2L1046.2,109.0L1050.6,115.9L1057.4,120.3L1051.6,123.7L1047.7,120.8L1042.8,112.9L1040.8,105.0Z" fill="#4b5587" fill-opacity="0.9"/>
<path d="M1044 88h0m3 1h0m2 1h0m-2 0h0m0 6h0m-1-6h0m-2 0h0m-1 6h0m-2-1h0m-1 1h0m-2 7h0m0-1h0m3 5h0m5-5h0m3-2h0m0 9h0m0-5h0m1 3h0m5 8h0m-1 3h0m0-4h0m-6-3h0m-1-1h0m-2 3h0m0 6h0m-1-2h0m0-2h0m-1-1h0m0-4h0m-2 0h0m0 2h0m8 12h0m5 0h0m0 2h0m2-6h0m1 1h0m2 2h0" stroke="#4b5587" stroke-width="2.6" stroke-linecap="round" fill="none"/>
<path d="M1089.6,101.1L1097.4,98.2L1105.2,97.2L1111.0,100.6L1103.2,105.0L1095.4,105.0L1090.6,105.0Z" fill="#4b5587" fill-opacity="0.9"/>
<path d="M1111 99h0m-10-3h0m-5 0h0m-7 7h0m1-2h0m1-1h0m1 0h0m1 6h0m1 0h0m2-1h0m5-1h0m1 1h0m3-2h0m3-1h0m1-1h0m1-1h0m1 3h0" stroke="#4b5587" stroke-width="2.6" stroke-linecap="round" fill="none"/>
<path d="M1112.0,82.4L1118.8,79.5L1126.6,77.5L1129.6,82.4L1124.7,89.3L1121.8,93.3L1115.9,92.3L1112.0,89.3Z" fill="#6d536b" fill-opacity="0.9"/>
<path d="M1123 78h0m-11 6h0m2-2h0m4 5h0m0 1h0m7 5h0m-9-2h0m0 1h0m-3-2h0" stroke="#4b5587" stroke-width="2.6" stroke-linecap="round" fill="none"/>
<path d="M1129 79h0m-8 4h0m3 0h0m-5 11h0" stroke="#b33428" stroke-width="2.6" stroke-linecap="round" fill="none"/>
<path d="M1121 88h0m0 6h0" stroke="#66a28a" stroke-width="2.6" stroke-linecap="round" fill="none"/>
<path d="M1127 77h0m-8 2h0m-2-1h0m1 6h0m3-4h0m2 2h0m5 3h0m-8 5h0" stroke="#4b5587" stroke-width="2.6" stroke-linecap="round" fill="none"/>
<path d="M1126 85h0m1-2h0m-4 10h0m-11-3h0" stroke="#b33428" stroke-width="2.6" stroke-linecap="round" fill="none"/>
<path d="M1116 89h0" stroke="#66a28a" stroke-width="2.6" stroke-linecap="round" fill="none"/>
<path d="M1113 83h0m1 2h0m6-5h0m0 2h0m5 6h0m2-8h0m2 1h0m-3 10h0" stroke="#4b5587" stroke-width="2.6" stroke-linecap="round" fill="none"/>
<path d="M1119 87h0m2 2h0m0-4h0m-3 11h0" stroke="#b33428" stroke-width="2.6" stroke-linecap="round" fill="none"/>
<path d="M1121 94h0" stroke="#66a28a" stroke-width="2.6" stroke-linecap="round" fill="none"/>
<path d="M1081 144h0m1-4h0m2 7h0m1 2h0m6 6h0m-1 3h0m0-1h0m3 8h0m3 1h0" stroke="#b33428" stroke-width="2.6" stroke-linecap="round" fill="none"/>
<path d="M1079 142h0m3 5h0m10 10h0m-2 0h0m-4-2h0m-1-4h0" stroke="#4b5587" stroke-width="2.6" stroke-linecap="round" fill="none"/>
<path d="M1081 145h0m2 2h0m7 4h0m-1 7h0m-4-7h0m0 1h0m6 8h0m1 1h0m2 1h0" stroke="#b33428" stroke-width="2.6" stroke-linecap="round" fill="none"/>
<path d="M1081 143h0m1-2h0m10 19h0m1 0h0m2 4h0" stroke="#4b5587" stroke-width="2.6" stroke-linecap="round" fill="none"/>
<path d="M1079 142h0m6 5h0m1 0h0m2 5h0m-1 0h0m-1 2h0m8 10h0m2 1h0" stroke="#b33428" stroke-width="2.6" stroke-linecap="round" fill="none"/>
<path d="M1083 149h0m3 0h0m2 7h0m3 5h0m3 2h0" stroke="#4b5587" stroke-width="2.6" stroke-linecap="round" fill="none"/>
<path d="M1037.9,167.0L1039.4,168.0L1036.9,172.9L1034.0,174.3L1032.9,172.4L1035.0,168.9Z" fill="#4b5587"/>
<path d="M1037 167h0m0-1h0m1 4h0m-1 3h0m0 3h0m-1 0h0m-2-1h0m0-4h0m-1 4h0" stroke="#4b5587" stroke-width="2.6" stroke-linecap="round" fill="none"/>
<path d="M1086 223h0m5 0h0m1 1h0m1 3h0m1-5h0m1 2h0m1 0h0m2 0h0m2 0h0" stroke="#b33428" stroke-width="2.6" stroke-linecap="round" fill="none"/>
<path d="M1049.5,226.0L1057.5,222.7L1062.2,224.0L1064.2,227.4L1069.6,227.4L1075.0,227.4L1079.0,226.7L1083.0,225.4L1087.7,223.3L1088.4,227.4L1083.0,231.5L1077.7,235.5L1071.0,240.9L1065.6,244.3L1061.6,247.0L1058.9,251.8L1054.8,253.1L1049.5,251.1L1047.5,245.0L1045.4,238.2L1046.8,232.8L1048.1,228.8Z" fill="#66a28a"/>
<path d="M1050 227h0m2-5h0m0 2h0m3 1h0m0-4h0m4 3h0m0-1h0m5 2h0m2 0h0m3 3h0m0-1h0m1 1h0m6-2h0m1-3h0m4 0h0m4-2h0m0 3h0m2 4h0m1-1h0m0-3h0m4 0h0m-8 6h0m-3 2h0m-1 5h0m-2-1h0m-31-4h0m-1-2h0m-1 7h0m-2-1h0m0 7h0m3 1h0m0-1h0m1 1h0m0 3h0m0 1h0m2 0h0m11 1h0m10-8h0m2-1h0m1 1h0m3 0h0m-15 12h0m-3-1h0m-2 1h0m-4 1h0m-2 0h0" stroke="#66a28a" stroke-width="2.6" stroke-linecap="round" fill="none"/>
<path d="M1064 229h0m2-1h0m1 0h0m-1 2h0m-2 0h0m0 3h0" stroke="#fff" stroke-opacity="0.85" stroke-width="2.6" stroke-linecap="round" fill="none"/>
<path d="M1103.2,192.2L1109.9,189.5L1115.3,192.2L1116.6,196.3L1122.0,201.7L1124.7,208.4L1126.7,213.9L1124.7,219.3L1120.7,222.0L1126.0,224.0L1128.0,228.8L1130.1,232.8L1126.0,235.5L1124.7,240.9L1120.7,242.3L1113.3,241.6L1108.6,243.0L1103.2,242.3L1101.9,238.2L1104.5,233.5L1105.9,228.8L1104.5,220.6L1102.5,213.9L1101.9,207.1L1101.2,199.6L1102.5,194.9Z" fill="#b33428"/>
<path d="M1103 189h0m20 10h0m-4-4h0m-4 0h0m0-5h0m-3 1h0m-2-1h0m-6 5h0m0-1h0m-2 4h0m-2-2h0m-1 1h0m-1 7h0m0-4h0m3 7h0m1-6h0m0 5h0m18-5h0m2 2h0m1-3h0m2 3h0m2 7h0m-1 3h0m0 1h0m-1 4h0m-1 1h0m-21-8h0m-1 2h0m0 12h0m1-4h0m1 0h0m19 0h0m0 3h0m0-4h0m1 3h0m0 2h0m3 0h0m1 3h0m2 1h0m0-1h0m-2 3h0m0 2h0m-2 1h0m-1 5h0m0-2h0m-19-6h0m-1 2h0m-2-2h0m0 4h0m-1 4h0m-2-4h0m1 8h0m5 1h0m1-2h0m2 0h0m1 1h0m3-2h0m1 1h0m6 1h0m0-1h0m3 2h0m5-4h0" stroke="#b33428" stroke-width="2.6" stroke-linecap="round" fill="none"/>
<path d="M1110 199h0m3 1h0m-5 19h0m-1 0h0m-1 0h0m-1 0h0m-2-1h0" stroke="#fff" stroke-opacity="0.85" stroke-width="2.6" stroke-linecap="round" fill="none"/>
<path d="M1061.6,247.7L1064.2,239.6L1069.6,234.2L1076.3,228.8L1083.0,226.0L1088.4,223.3L1088.4,227.4L1083.0,231.5L1077.7,235.5L1071.0,240.9L1065.6,244.3L1062.9,247.7Z" fill="#8e5e54"/>
<path d="M1071 229h0m9 0h0m1 0h0m6-4h0m-2 7h0m-2-1h0m-14 0h0m-5 10h0m5-1h0m-6 10h0" stroke="#b33428" stroke-width="2.6" stroke-linecap="round" fill="none"/>
<path d="M1073 226h0m0 3h0m17-3h0m-2 7h0m-7 2h0m-14 4h0" stroke="#66a28a" stroke-width="2.6" stroke-linecap="round" fill="none"/>
<path d="M1067 236h0m3 5h0" stroke="#4b5587" stroke-width="2.6" stroke-linecap="round" fill="none"/>
<path d="M1076 226h0m11-2h0m1 2h0m-3 7h0m-2-2h0m-1 4h0m-8 0h0m-7 4h0m-3 0h0m7 3h0" stroke="#b33428" stroke-width="2.6" stroke-linecap="round" fill="none"/>
<path d="M1081 225h0m3 1h0m-10 10h0m0 2h0m-7 3h0m1 1h0" stroke="#66a28a" stroke-width="2.6" stroke-linecap="round" fill="none"/>
<path d="M1079 233h0m-14 8h0" stroke="#4b5587" stroke-width="2.6" stroke-linecap="round" fill="none"/>
<path d="M1086 229h0m1-7h0m1 4h0m-8 7h0m-7-1h0m-8 7h0m0 1h0m0 5h0m6-5h0" stroke="#b33428" stroke-width="2.6" stroke-linecap="round" fill="none"/>
<path d="M1083 226h0m-6 8h0m-2 1h0m0 2h0m-13 5h0" stroke="#66a28a" stroke-width="2.6" stroke-linecap="round" fill="none"/>
<path d="M1085 231h0m-19 7h0" stroke="#4b5587" stroke-width="2.6" stroke-linecap="round" fill="none"/>
<path d="M1104.5,217.9L1116.6,216.6L1126.0,219.3L1128.0,228.8L1130.1,232.8L1126.0,235.5L1124.7,240.9L1120.7,242.3L1113.3,241.6L1108.6,243.0L1103.2,242.3L1101.9,238.2L1104.5,233.5L1105.9,228.8Z" fill="#7b586f"/>
<path d="M1121 215h0m-7 2h0m-2 2h0m-3-1h0m0 9h0m2-5h0m1 2h0m0-3h0m8 6h0m5 0h0m0 1h0m4 9h0m-6-6h0m-12 6h0m-3-1h0m-2-2h0m-2 4h0m-3 1h0m5 4h0m10-2h0" stroke="#4b5587" stroke-width="2.6" stroke-linecap="round" fill="none"/>
<path d="M1115 218h0m-6 9h0m21 6h0m-2 0h0m-6 6h0m-5-3h0m-10-6h0m-3 0h0m3 12h0m7 3h0" stroke="#b33428" stroke-width="2.6" stroke-linecap="round" fill="none"/>
<path d="M1114 229h0m2-6h0m12 7h0m-27 13h0m9 2h0m1-3h0" stroke="#dd9f83" stroke-width="2.6" stroke-linecap="round" fill="none"/>
<path d="M1118 217h0m-3 1h0m-4 0h0m3 10h0m8-8h0m1 8h0m5 7h0m-6-2h0m-6-1h0m0-1h0m0 6h0m-2 0h0m-1-6h0m-3 5h0m-2 1h0m1 3h0m4 0h0m5 0h0m2 2h0" stroke="#4b5587" stroke-width="2.6" stroke-linecap="round" fill="none"/>
<path d="M1124 218h0m-9 1h0m-3-2h0m-1-1h0m9 5h0m2 2h0m1-3h0m1 2h0m-26 14h0m9 8h0" stroke="#b33428" stroke-width="2.6" stroke-linecap="round" fill="none"/>
<path d="M1120 219h0m-15 10h0m7-3h0m16 0h0m-10 13h0" stroke="#dd9f83" stroke-width="2.6" stroke-linecap="round" fill="none"/>
<path d="M1120 218h0m-8 0h0m-2 0h0m-6 0h0m2 9h0m7-3h0m1-3h0m2 0h0m6-1h0m5 9h0m3-1h0m-2 2h0m-1 3h0m-2 4h0m-13-4h0m-3 3h0m-2-6h0m-5 9h0m23 5h0" stroke="#4b5587" stroke-width="2.6" stroke-linecap="round" fill="none"/>
<path d="M1113 218h0m-5 0h0m0 11h0m6-3h0m4-6h0m1 5h0m4-2h0m-2 14h0m-1-1h0" stroke="#b33428" stroke-width="2.6" stroke-linecap="round" fill="none"/>
<path d="M1110 220h0m21 14h0m-5-3h0m-3 1h0m-3 5h0" stroke="#dd9f83" stroke-width="2.6" stroke-linecap="round" fill="none"/>
<path d="M1126 225h0m0 2h0m1-2h0m0-3h0m0 2h0m2 1h0" stroke="#fff" stroke-opacity="0.85" stroke-width="2.6" stroke-linecap="round" fill="none"/>
<path d="M1101.9,238.2L1104.5,233.5L1109.9,235.5L1111.3,240.9L1108.6,243.0L1103.2,242.3Z" fill="#66a28a" fill-opacity="0.9"/>
<path d="M1114 239h0m-4-7h0m-1 6h0m-8 1h0m0-3h0m-1 7h0m5 0h0m7 0h0" stroke="#66a28a" stroke-width="2.6" stroke-linecap="round" fill="none"/>
<path d="M1055 406h0m2 3h0m14 0h0m-4 1h0m-10 4h0m-4 2h0m-1-4h0m-1 6h0m-10-3h0m-7 4h0m4 7h0m13 2h0m7-8h0m-15 16h0m-19-4h0m-5 6h0m-4 8h0m4-3h0m3 3h0m4 0h0m2-1h0m8-1h0m2-1h0m-4 16h0m0-7h0m-3 0h0m-15 2h0m14 8h0" stroke="#4b5587" stroke-width="2.6" stroke-linecap="round" fill="none"/>
<path d="M1050 407h0m12-1h0m1-4h0m-2 9h0m-3 4h0m-4-1h0m-9-4h0m-2 8h0m6 9h0m3-7h0m-20 16h0m-1 7h0m1 5h0m6-4h0m-6 12h0m-4-1h0m0-1h0m-6-2h0m-2 7h0" stroke="#b33428" stroke-width="2.6" stroke-linecap="round" fill="none"/>
<path d="M1045 408h0m8-2h0m2-2h0m6 14h0m-3 1h0m-22 0h0m-11 10h0m3-2h0m5-7h0m2 9h0m2-1h0m2-5h0m4 5h0m7-6h0m2 10h0m-2-1h0m-3 0h0m-3 6h0m-3-2h0m-13 3h0m-3 1h0m-2-5h0m-5 2h0m2 13h0m12-1h0m-9 6h0m-2-1h0" stroke="#4b5587" stroke-width="2.6" stroke-linecap="round" fill="none"/>
<path d="M1057 399h0m-8 9h0m6-5h0m5-3h0m1 9h0m1 7h0m-6-6h0m-3 9h0m-29 7h0m21-1h0m11 1h0m2-2h0m-1 6h0m-19 7h0m-16 5h0m16-1h0m-4 14h0m-10 2h0m-1 7h0" stroke="#b33428" stroke-width="2.6" stroke-linecap="round" fill="none"/>
<path d="M1049 407h0m4-1h0m3-2h0m-6 9h0m-2-1h0m-1-1h0m-2 0h0m0 3h0m-8 5h0m-9 6h0m5-2h0m9 5h0m23-8h0m-31 13h0m-2 2h0m-5 0h0m-1 1h0m-1 0h0m-6 1h0m1 11h0m10 1h0m6-7h0m-4 8h0m-2 8h0m-7-2h0m-1 5h0m0 1h0m1 1h0" stroke="#4b5587" stroke-width="2.6" stroke-linecap="round" fill="none"/>
<path d="M1056 403h0m7 10h0m-3-2h0m-1 8h0m-23 0h0m1 9h0m5-4h0m11 4h0m-8 4h0m-14 6h0m0-6h0m-2 2h0m-9 13h0m7 12h0m-1-6h0m-1 0h0m-5-1h0m5 10h0" stroke="#b33428" stroke-width="2.6" stroke-linecap="round" fill="none"/>
<path d="M1057 398h0m-8 8h0m14 3h0m7 3h0m-8 2h0m-1 0h0m-1 4h0m-7-1h0m-3-5h0m0 5h0m-2-6h0m12 11h0m7 3h0m3 1h0" stroke="#4b5587" stroke-width="2.6" stroke-linecap="round" fill="none"/>
<path d="M1051 401h0m2-1h0m2 6h0m5 0h0m-8 7h0m19 10h0" stroke="#66a28a" stroke-width="2.6" stroke-linecap="round" fill="none"/>
<path d="M1061 395h0m-14 14h0m9-8h0m3 6h0m1-6h0m7 17h0m-13-2h0m-3-2h0m0 1h0m-9-2h0m19 7h0m1 3h0m4 2h0" stroke="#4b5587" stroke-width="2.6" stroke-linecap="round" fill="none"/>
<path d="M1048 401h0m9 6h0m0 2h0m3-2h0m6 2h0m-16 10h0" stroke="#66a28a" stroke-width="2.6" stroke-linecap="round" fill="none"/>
<path d="M1048 406h0m0 3h0m10-3h0m9-2h0m2-3h0m1 8h0m-11 7h0m-8-3h0m-2 1h0m12 9h0m5-3h0m1 1h0m1 0h0" stroke="#4b5587" stroke-width="2.6" stroke-linecap="round" fill="none"/>
<path d="M1058 402h0m9-2h0m2 8h0m-14 5h0m5 8h0" stroke="#66a28a" stroke-width="2.6" stroke-linecap="round" fill="none"/>
<path d="M1120 393h0m0 6h0m-9-6h0m-12 1h0m4 12h0m16-5h0m17 3h0m2 4h0m0 9h0m-1 2h0m-1-7h0m-6 3h0m-2-5h0m-3 9h0m-9 3h0m9 6h0m3-1h0m2 2h0m5-9h0m-1 11h0" stroke="#4b5587" stroke-width="2.6" stroke-linecap="round" fill="none"/>
<path d="M1097 398h0m23 4h0m0 2h0m5 4h0m1-6h0m9-1h0m3 11h0m-4 3h0m-10 3h0m-11-1h0m11 8h0m3 5h0" stroke="#b33428" stroke-width="2.6" stroke-linecap="round" fill="none"/>
<path d="M1094 386h0m20 11h0m-15-2h0m-1 0h0m-8-2h0m-2-2h0m9 13h0m5 1h0m0-3h0m38 12h0m-14 1h0m-2-1h0m-1-3h0m-1 5h0m-7-3h0m1 8h0m7 7h0m0-8h0m2 3h0m12 1h0" stroke="#4b5587" stroke-width="2.6" stroke-linecap="round" fill="none"/>
<path d="M1106 396h0m-2 2h0m-7-6h0m6 15h0m29-5h0m2 1h0m0 3h0m4 3h0m-9 4h0m-14 0h0m8 9h0" stroke="#b33428" stroke-width="2.6" stroke-linecap="round" fill="none"/>
<path d="M1117 397h0m-1 0h0m-9 0h0m-17-2h0m5 6h0m29 4h0m8 4h0m3-5h0m2 0h0m-10 9h0m0 6h0m-4 0h0m-2-9h0m-10 1h0m0 3h0m8 10h0m8 2h0m2-5h0m0 6h0" stroke="#4b5587" stroke-width="2.6" stroke-linecap="round" fill="none"/>
<path d="M1119 395h0m-19 1h0m-8 0h0m-1-1h0m12 12h0m5-3h0m9 2h0m11 7h0m-15-3h0m20 16h0m2 0h0" stroke="#b33428" stroke-width="2.6" stroke-linecap="round" fill="none"/>
<path d="M1128 468h0m1-2h0m4-1h0m2 4h0m1-9h0m2 1h0m1 0h0m2 8h0m1-8h0m0 1h0m2 1h0m0 6h0m6 5h0m-1 1h0m-1 1h0m-9-3h0m-3 4h0m-4-1h0m-2-1h0m0-5h0m-3 0h0m0 6h0m0 2h0m-2-8h0m-2 1h0m-8 4h0m-3-4h0m-2 3h0m-4 4h0m-2-5h0m0 5h0m-2-7h0m-1 5h0m-1-3h0m-8-2h0m-2 7h0m-1-7h0m-1 8h0m-1-5h0m2 14h0m3-7h0m3 7h0m2-6h0m0-1h0m2 6h0m4 0h0m8 0h0m2 1h0m2-6h0m0 4h0m1-1h0m0 2h0m2-1h0m1 0h0m7 3h0m1-2h0m1-1h0m4-3h0m1 6h0m1 0h0m2-5h0m6 1h0m2 1h0m1 0h0m1-2h0m1-3h0m5 2h0m2 6h0m4-5h0m1 5h0m2 0h0m6 9h0m-6-2h0m-1-6h0m-6 7h0m-1-5h0m-5 1h0m-1 3h0m-6-6h0m-1 8h0m-11-5h0m0 2h0m-3-5h0m-2 2h0m-1 1h0m-1 6h0m-3-3h0m0-6h0m-6 6h0m-2 3h0m0-5h0m0-3h0m-2 1h0m0 5h0m-2-2h0m-1-2h0m-4-3h0m-1 4h0m-2 2h0m-2 1h0m-1-6h0m-1 1h0m-2 2h0m-2-4h0m-3 5h0m-2-1h0m-1 1h0m11 14h0m1-2h0m3-3h0m4 5h0m4-3h0m2 0h0m1-5h0m3 2h0m2 4h0m0-7h0m6 5h0m1-2h0m6 5h0m7-1h0m3 0h0m0 2h0m1-2h0m2-2h0m0-1h0m1 2h0m5-1h0m2-2h0m1 1h0m1 1h0m2-5h0m1 0h0m1 5h0m2-4h0m0 5h0m1-2h0m3-2h0m2 0h0m8 11h0m-4-3h0m0 9h0m-2-1h0m-11-3h0m-2-3h0m-1 4h0m-2-4h0m-1 6h0m-1-3h0m-10-1h0m-4-4h0m0 4h0m-1-1h0m-1 2h0m-2-4h0m-4 8h0m-1-3h0m-5 0h0m-1 2h0m-2-2h0m-4-4h0m-2 3h0m-3-3h0m0 2h0m-1 3h0m-1-3h0m-4 1h0m10 5h0m1 1h0m10 4h0m5 4h0m1-9h0m0 8h0m1-2h0m5-4h0m7 6h0m1 0h0m1-1h0m4-7h0m0 2h0m6 2h0m7-2h0m5 5h0m-7 7h0m-3 0h0m-2 5h0m-3-5h0m-3 0h0m-14-4h0m0 2h0" stroke="#4b5587" stroke-width="2.6" stroke-linecap="round" fill="none"/>
<path d="M1142 459h0m-32 8h0m7 1h0m2-1h0m15 2h0m2-6h0m11 1h0m-4 14h0m-1-5h0m-25-2h0m-1 1h0m-24-1h0m6 15h0m6 1h0m16 2h0m7-8h0m19 5h0m5-2h0m6 2h0m11 10h0m-11-3h0m-17 2h0m-7 0h0m-22-1h0m-12 5h0m-2-6h0m-11 2h0m9 6h0m12 5h0m2-2h0m7 3h0m1 0h0m4-3h0m3 4h0m2 0h0m1-1h0m6 2h0m0-5h0m3 2h0m11-5h0m22 0h0m1-1h0m-15 15h0m-3 0h0m-3-5h0m-22 4h0m-2 5h0m-13 0h0m-2 3h0m26 12h0" stroke="#b33428" stroke-width="2.6" stroke-linecap="round" fill="none"/>
<path d="M1125 469h0m11-6h0m4-2h0m1 5h0m1-6h0m2 1h0m0 6h0m7 9h0m-1 0h0m-3 0h0m-4-6h0m-1 4h0m-2 3h0m-2-4h0m-4-2h0m-1 6h0m-6-3h0m-1-4h0m-4 7h0m-1 2h0m-6-3h0m-2 0h0m0-1h0m-2-2h0m-4 4h0m-1-7h0m-3 5h0m-4 1h0m-1 0h0m-1-5h0m-7 3h0m-1-3h0m-1 12h0m0 1h0m1 2h0m1 0h0m7-4h0m1 2h0m1-3h0m2 8h0m6-1h0m1-5h0m2 1h0m0-1h0m4 6h0m1 0h0m2 0h0m1 0h0m1-9h0m1 1h0m0 7h0m4-4h0m1 2h0m1 3h0m1-1h0m3-6h0m12 6h0m7-2h0m2 1h0m0-7h0m4 8h0m1-3h0m1 3h0m13 9h0m-7-3h0m-2 0h0m0 2h0m-1-6h0m-2 6h0m-3 0h0m-1-6h0m-1 6h0m-7 1h0m-2-1h0m-4 0h0m-8-2h0m0 1h0m-4-3h0m-1 6h0m-2-3h0m-1-4h0m-6 1h0m-2 1h0m0 4h0m-1-3h0m-2 1h0m-1-3h0m-1 0h0m0 1h0m-7 5h0m0-7h0m-1 4h0m0-5h0m-1 8h0m-6-1h0m-1 0h0m-1 0h0m0-6h0m-3 2h0m-2 5h0m-2-5h0m-2 4h0m4 4h0m3 5h0m3 3h0m6-1h0m3-5h0m5-2h0m1 4h0m2 1h0m4-4h0m7 7h0m5-4h0m2 1h0m2-5h0m2 0h0m2 3h0m1-3h0m6 8h0m2-2h0m4-2h0m1-2h0m3-1h0m1 6h0m1 0h0m4-4h0m3-1h0m3 1h0m1 5h0m1-7h0m3 14h0m-4-5h0m-1-1h0m-2 3h0m-3-1h0m-2 4h0m-5-2h0m-3-2h0m-2 3h0m-2 4h0m-2-4h0m-1-1h0m-2 2h0m-1-5h0m-5 2h0m0 3h0m-1-2h0m-5 5h0m-9-2h0m-2-4h0m-1-1h0m-1 7h0m-1-2h0m-1 1h0m0-7h0m0 8h0m-7-2h0m-2 0h0m9 4h0m1 0h0m4-1h0m6 7h0m1-2h0m1-5h0m1 7h0m5-1h0m2 2h0m0-3h0m1-1h0m1-4h0m5 5h0m0 2h0m0-3h0m2 2h0m3-4h0m4 7h0m6-4h0m2-3h0m3 3h0m0 7h0m-13 6h0m0-8h0m-1 4h0m-3 0h0m-2 1h0m-1-3h0m-1-1h0m-2 4h0m0-5h0m7 12h0m1-2h0" stroke="#4b5587" stroke-width="2.6" stroke-linecap="round" fill="none"/>
<path d="M1112 469h0m19 0h0m2-1h0m1-6h0m3 3h0m8-1h0m2 4h0m4 11h0m-6-6h0m-18-3h0m-11 0h0m-21 3h0m0 12h0m31 4h0m15-1h0m1-4h0m3 1h0m9 3h0m-20 9h0m-4-4h0m-6 5h0m-4-2h0m-9 1h0m-2-6h0m-13 15h0m4 0h0m11-5h0m5 0h0m6 5h0m1-2h0m0 3h0m4-7h0m22 2h0m1-2h0m4 6h0m5-5h0m9 6h0m-1 8h0m-29 2h0m-22-1h0m-5-4h0m-12 1h0m-4-2h0m35 17h0m12-3h0m10 1h0m11 1h0m1-4h0m3-1h0m-10 8h0" stroke="#b33428" stroke-width="2.6" stroke-linecap="round" fill="none"/>
<path d="M1118 468h0m3-1h0m10 0h0m0 2h0m1-3h0m3-2h0m1 3h0m3-2h0m2 4h0m0-4h0m3 4h0m1-1h0m3 11h0m-1 0h0m-3-5h0m-4-1h0m-3 2h0m-4-3h0m-1 7h0m-4 0h0m-10-1h0m-1-5h0m-2 0h0m-1-2h0m-1 4h0m-3 0h0m-7-3h0m-2 1h0m-2-3h0m-4 3h0m-8 11h0m1-4h0m0 9h0m0-7h0m1-1h0m1 5h0m1 3h0m1-2h0m3-1h0m1 2h0m3-5h0m0 4h0m2 2h0m8-7h0m1-1h0m2 3h0m1-4h0m0 4h0m4-4h0m0 5h0m3 2h0m3 1h0m5-2h0m2 3h0m1-8h0m11-1h0m4 1h0m4 2h0m0 6h0m10-1h0m17 11h0m-18-4h0m-1-3h0m-3 3h0m-1-3h0m-2 6h0m0 1h0m-1-1h0m-2 1h0m-6-5h0m-2-4h0m-1 9h0m0-7h0m-2 3h0m-3 0h0m-8-4h0m-1 3h0m-7 4h0m-3 1h0m-2-2h0m-4 1h0m0-3h0m-11-5h0m-2 5h0m-2 0h0m-3 0h0m-4-3h0m-1 3h0m11 8h0m1 1h0m0-3h0m0 4h0m1-4h0m0 4h0m1 3h0m4-5h0m2 5h0m0-5h0m3 5h0m2-1h0m0-4h0m1-3h0m3 7h0m1-4h0m2-3h0m2 2h0m1-1h0m1 7h0m3 0h0m0-5h0m2 6h0m3-2h0m1-3h0m4 2h0m4-6h0m1 3h0m0-3h0m1 5h0m1 4h0m14-1h0m1-4h0m7 2h0m1-6h0m2 6h0m0-5h0m1 1h0m-3 9h0m-2 6h0m0-7h0m-7 0h0m0 3h0m-1 1h0m0 4h0m-1-6h0m-1 5h0m-1-5h0m-3-1h0m0 6h0m-2-1h0m0-5h0m-4 8h0m-7-4h0m-4-5h0m-2 6h0m0-5h0m-2 0h0m-1 2h0m-3 1h0m-11-4h0m-2 8h0m0-3h0m-2 3h0m-10-8h0m20 16h0m4 1h0m1-1h0m1 2h0m3 1h0m0-3h0m3-5h0m0 6h0m1-2h0m1 1h0m0-6h0m0 2h0m2-2h0m4 3h0m1 0h0m3-3h0m4 6h0m7-1h0m0 4h0m3-5h0m0 3h0m3-5h0m1 2h0m0-1h0m1-2h0m4-1h0m-11 12h0m-2 0h0m-2 2h0m-3 5h0m-1-6h0m-1-2h0m-3 3h0m0 2h0m-5-3h0m-3 3h0m-4-6h0m13 12h0m10-2h0" stroke="#4b5587" stroke-width="2.6" stroke-linecap="round" fill="none"/>
<path d="M1131 465h0m1-2h0m1 13h0m-5-5h0m-1 1h0m-16 0h0m-25 16h0m17-7h0m6 3h0m0 2h0m12-4h0m12 7h0m3-7h0m11 11h0m-2 1h0m-7 3h0m-6-5h0m-14 6h0m-1-3h0m-1-2h0m-7-3h0m-1 4h0m-17-2h0m-2 4h0m16 4h0m6 2h0m13 2h0m4 3h0m0 1h0m2-6h0m14 3h0m3 4h0m17 0h0m0-4h0m10-5h0m0 8h0m-19 5h0m-14-3h0m-34 5h0m-4 0h0m26 12h0m1-4h0m8 0h0m13 2h0m3 5h0m-5 1h0m-3 8h0m-2 1h0" stroke="#b33428" stroke-width="2.6" stroke-linecap="round" fill="none"/>
<path d="M1189 398h0m-17 5h0m14 3h0m16 2h0m-3 2h0m-3 6h0m-17 2h0m-9-4h0m2 13h0m1 2h0m2-2h0m6-7h0m11 8h0m14-2h0m1-4h0m-9 17h0m-20 10h0m8-5h0m-5 9h0" stroke="#4b5587" stroke-width="2.6" stroke-linecap="round" fill="none"/>
<path d="M1184 405h0m17-2h0m5 4h0m2 3h0m-8 9h0m-12-9h0m-3 4h0m-16 10h0m10 1h0m11-1h0m10 0h0m8 2h0m0-5h0m-16 10h0m0 3h0m-3-3h0m-5 6h0m-8-5h0m18 11h0m0 2h0" stroke="#b33428" stroke-width="2.6" stroke-linecap="round" fill="none"/>
<path d="M1173 406h0m13-6h0m4 5h0m4-2h0m10 11h0m-7 3h0m-17-1h0m-13 9h0m22-3h0m2 5h0m2 0h0m2 1h0m2-5h0m12-3h0m-10 17h0m-6-5h0m-3 3h0m-11-5h0m-4 18h0" stroke="#4b5587" stroke-width="2.6" stroke-linecap="round" fill="none"/>
<path d="M1166 402h0m1-1h0m2 1h0m18 2h0m14-4h0m4 1h0m-34 10h0m-2 0h0m0 2h0m-1 1h0m-1 0h0m6 13h0m2 0h0m8 0h0m2 0h0m15 2h0m4-5h0m4-1h0m-13 16h0m-2-6h0" stroke="#b33428" stroke-width="2.6" stroke-linecap="round" fill="none"/>
<path d="M1199 399h0m-26 2h0m12 7h0m15 3h0m-11 2h0m-2 3h0m-13-6h0m-4 19h0m0-6h0m18 2h0m5 0h0m10 9h0m-6 1h0m-13 3h0m-1-3h0m-10-1h0m7 6h0m7 2h0" stroke="#4b5587" stroke-width="2.6" stroke-linecap="round" fill="none"/>
<path d="M1167 400h0m7 1h0m16 1h0m6 7h0m10 5h0m-29 1h0m5 5h0m21 1h0m2 10h0m-4-1h0m0 2h0m-4 1h0m-22 0h0m-8 2h0m0 4h0m10 1h0m5 8h0m9-5h0" stroke="#b33428" stroke-width="2.6" stroke-linecap="round" fill="none"/>
<path d="M1146 388h0m8 5h0m-3 0h0m-20 0h0m-1-2h0m0 6h0m-4-5h0m-5 5h0m-6-7h0m-3 15h0m18-4h0m6 1h0m4 7h0m2-1h0m9-2h0m10 3h0m4-3h0m-5 8h0m-11-1h0m-3 2h0m-1 3h0m-5 0h0m-4 1h0m-5-8h0m-1 3h0m0-4h0m-18 15h0m2-2h0m2 2h0m1 2h0m3-2h0m1-2h0m10 1h0m7 3h0m0-1h0m-22 7h0" stroke="#b33428" stroke-width="2.6" stroke-linecap="round" fill="none"/>
<path d="M1164 387h0m0 1h0m-4 10h0m-19-6h0m-5-2h0m-18 17h0m7-7h0m3 4h0m13-3h0m12 2h0m14 7h0m-1 0h0m-7 3h0m-14 3h0m-9-4h0m-2 2h0m-12-1h0m5 12h0m15 0h0m8-3h0m2-1h0m-23 16h0m-2-1h0m-1-1h0" stroke="#dd9f83" stroke-width="2.6" stroke-linecap="round" fill="none"/>
<path d="M1160 386h0m6 3h0m-3 9h0m-3-5h0m-6-3h0m-24 0h0m-13 18h0m8-2h0m18 1h0m3-6h0m8-1h0m7 1h0m1 2h0m6 6h0m-5 6h0m-39 1h0m-4-6h0m0 8h0m-1 0h0m-5-8h0m0 1h0m11 9h0m12 6h0m6-4h0m6 7h0m-11 10h0m-1-6h0m-2-2h0m-1 8h0m-2-1h0m-3 1h0m-3-5h0m-5-2h0m-3 7h0m-4 0h0" stroke="#b33428" stroke-width="2.6" stroke-linecap="round" fill="none"/>
<path d="M1157 386h0m10 3h0m-24 1h0m-26 18h0m8-1h0m12-4h0m0 5h0m4-7h0m8 6h0m4 9h0m-13-1h0m-13 3h0m-10 0h0m-1-4h0m-1 11h0m5 1h0m2 2h0m10-8h0m6 4h0m5 11h0m-5 4h0m-14-6h0m-2 8h0" stroke="#dd9f83" stroke-width="2.6" stroke-linecap="round" fill="none"/>
<path d="M1153 387h0m-2 8h0m-5 2h0m-1 2h0m-6 0h0m-4-6h0m-1 2h0m-1-4h0m-6 2h0m-4 1h0m-8 15h0m7-9h0m22 2h0m11-2h0m5 3h0m1-3h0m7 9h0m-19 8h0m-9-1h0m-1-5h0m0 6h0m0-7h0m-3 2h0m-6 2h0m-15 15h0m3-6h0m18 3h0m1 3h0m10-6h0m-2 7h0m-2 1h0m-20 1h0m-5 1h0m-2-2h0m-2 2h0" stroke="#b33428" stroke-width="2.6" stroke-linecap="round" fill="none"/>
<path d="M1147 386h0m-4 12h0m-6-1h0m-5 2h0m-12-7h0m-7 2h0m-2 2h0m7 9h0m3 2h0m3-4h0m7 4h0m27-1h0m13-6h0m-11 12h0m-2-2h0m-20 3h0m-1 4h0m-2 0h0m-7-1h0m9 9h0m2 13h0m-17-5h0m-8-2h0" stroke="#dd9f83" stroke-width="2.6" stroke-linecap="round" fill="none"/>
<path d="M1037 419h0m0-2h0m-2 0h0m-1 0h0m-6 1h0m0 1h0m-2 0h0m-10 8h0m1-1h0m1 3h0m1-4h0m3-1h0m1-1h0m0 3h0m2 0h0m0 2h0m1-5h0m0-3h0m1 3h0m1 3h0m3-1h0m0 2h0m1 0h0m0-7h0m1 8h0m0-7h0m1 6h0m0-7h0m0 9h0m1-3h0m2 3h0m1-6h0m1 6h0m1 0h0m0 8h0m-2-2h0m-1 3h0m0-1h0m0-5h0m-1 3h0m-3 3h0m-1-8h0m-3 3h0m0 4h0m0 2h0m-2-1h0m0-3h0m0-3h0m-1 6h0m-3-2h0m0-5h0m-1 6h0m0-7h0m0 6h0m-1-3h0m0 6h0m-2-4h0m-1-4h0m-2 7h0m0-6h0m-1-1h0m0 2h0m-1 1h0m-1 5h0m0-1h0m-1-1h0m-3-2h0m-1 2h0m0-3h0m-1 2h0m-4 4h0m7 5h0m3 0h0m1 4h0m1-7h0m2-2h0m1 0h0m1 8h0m2-3h0m0-1h0m1 1h0m0 2h0m0-4h0m1-1h0m1 6h0m1-8h0m1 6h0m1-1h0m1-1h0m0-3h0m0 1h0m1 5h0m0-1h0m1-3h0m1 0h0m0 2h0m1-1h0m0 4h0m1 0h0m1-8h0m0 9h0m2-1h0m1-8h0m1 1h0m0-1h0m1 3h0m1-2h0m1 4h0m-5 5h0m0 2h0m-3 0h0m0 4h0m-1-3h0m0-1h0m-1 0h0m-5 0h0m-2-1h0m-3 8h0m0-4h0m-1 3h0m0-4h0m-1 0h0m0 4h0m-3-4h0m-2 0h0m-1-4h0m15 10h0m1 3h0m4-2h0" stroke="#4b5587" stroke-width="2.6" stroke-linecap="round" fill="none"/>
<path d="M976.0,420.6L981.2,410.1L994.2,403.5L1012.4,399.6L1028.0,403.5L1038.4,407.5L1044.1,413.2L1035.8,423.2L1028.0,428.4L1022.8,438.9L1015.0,446.8L1002.0,444.2L989.0,441.5L978.6,431.1Z" fill="#b33428"/>
<path d="M1023 399h0m-17 0h0m-23 7h0m3-1h0m1 3h0m0-1h0m1-1h0m7-5h0m1 1h0m2 1h0m8 0h0m6-2h0m3 0h0m2-1h0m4 0h0m4 1h0m2-1h0m3 2h0m3 3h0m4 3h0m2-4h0m3 5h0m2-1h0m-1 2h0m-1 5h0m-64 1h0m-1 1h0m-1-5h0m-2 14h0m2-5h0m1 6h0m1 2h0m51-1h0m1-1h0m3-2h0m1 2h0m4-6h0m1 4h0m-12 10h0m0-4h0m-2 2h0m-42 3h0m-1-2h0m4 6h0m1 3h0m4 1h0m1-3h0m3 5h0m2-2h0m1-2h0m5 2h0m1 0h0m2 0h0m3 2h0m2 3h0m2-1h0m2-2h0m4-2h0m1-2h0" stroke="#b33428" stroke-width="2.6" stroke-linecap="round" fill="none"/>
<path d="M1032 414h0m0 1h0m-2-1h0m-2-3h0m-14 13h0m1 3h0m0-1h0m3 1h0m0 2h0" stroke="#fff" stroke-opacity="0.85" stroke-width="2.6" stroke-linecap="round" fill="none"/>
<path d="M1076.8,337.1L1080.8,338.1L1081.8,349.3L1084.8,356.4L1086.8,363.5L1086.8,372.7L1089.9,377.7L1085.8,386.9L1080.8,390.9L1076.8,395.0L1075.7,401.1L1073.7,409.2L1066.7,410.2L1064.7,401.1L1060.6,396.0L1062.7,388.9L1064.7,374.7L1066.7,366.6L1070.7,355.4L1077.8,351.3L1077.3,344.2Z" fill="#b33428"/>
<path d="M1083 339h0m-4-3h0m-1 0h0m-4 1h0m0 10h0m2-7h0m2 4h0m0 4h0m0-2h0m4 2h0m1-8h0m0 5h0m1 1h0m3 6h0m-1 0h0m-4 0h0m-5-1h0m-4 3h0m-3 5h0m-2-1h0m-5 8h0m3-1h0m1 3h0m1-2h0m1-4h0m17-1h0m1 1h0m0 6h0m0-8h0m-1 11h0m-20 2h0m-1-1h0m0 5h0m-4-2h0m-2 14h0m2-9h0m1 7h0m0-4h0m23 4h0m1-1h0m3-6h0m-4 11h0m-1-1h0m-5 3h0m-1 0h0m0 5h0m-1 0h0m0-2h0m-14-5h0m-1 6h0m-3 2h0m1 2h0m2 5h0m2-3h0m2 0h0m2 6h0m9-8h0m2 4h0m-12 6h0" stroke="#b33428" stroke-width="2.6" stroke-linecap="round" fill="none"/>
<path d="M1064 396h0m-2 0h0" stroke="#fff" stroke-opacity="0.85" stroke-width="2.6" stroke-linecap="round" fill="none"/>
<path d="M1096.0,430.7L1105.3,429.5L1114.7,435.4L1119.4,444.8L1126.4,454.3L1131.1,461.4L1124.0,468.4L1117.0,470.8L1110.0,469.6L1101.8,463.7L1096.0,456.6L1092.4,447.2L1092.4,437.8Z" fill="#4b5587"/>
<path d="M1098 428h0m5 1h0m5-1h0m9 8h0m0 2h0m-1 0h0m-1 0h0m-2-4h0m-1-1h0m-4-1h0m-1-2h0m-3 0h0m-6 1h0m-1 0h0m-2 0h0m-1 3h0m0-4h0m-3 13h0m3 4h0m25-1h0m0-1h0m1-4h0m1 8h0m0-3h0m11 13h0m-2-1h0m-2-7h0m-1 6h0m-30 1h0m-3-6h0m0 5h0m5 6h0m0-1h0m2 0h0m1 1h0m0 2h0m2 1h0m11 3h0m5 0h0m1 0h0m3-2h0m0 1h0m1-1h0m5-6h0m-6 11h0m-14 0h0m-2 0h0" stroke="#4b5587" stroke-width="2.6" stroke-linecap="round" fill="none"/>
<path d="M1097 438h0m-1-1h0m0-1h0m-1 2h0m-1 2h0" stroke="#fff" stroke-opacity="0.85" stroke-width="2.6" stroke-linecap="round" fill="none"/>
<path d="M1066.7,506.2L1072.6,503.8L1084.3,497.9L1090.1,492.0L1096.0,487.3L1107.7,489.7L1119.4,494.4L1131.1,502.7L1142.8,506.2L1149.8,510.9L1148.6,520.4L1142.8,527.4L1133.4,532.2L1124.0,527.4L1114.7,523.9L1105.3,522.7L1098.3,525.1L1098.3,536.9L1098.3,548.7L1091.3,555.8L1088.9,562.8L1081.9,555.8L1072.6,551.0L1069.0,541.6L1066.7,529.8L1065.5,518.0Z" fill="#4b5587" fill-opacity="0.92"/>
<path d="M1093 489h0m2-3h0m0 2h0m4 0h0m0-4h0m4 2h0m1 2h0m4 0h0m2-1h0m18 11h0m-6-2h0m-3-1h0m-1-4h0m-2 2h0m-11-3h0m-10 0h0m-6 4h0m-2 0h0m-1 3h0m-1-1h0m-5 3h0m-2-2h0m-12 10h0m0-1h0m1 1h0m4-5h0m1 3h0m2-5h0m2 0h0m55 0h0m5 4h0m3 0h0m1-2h0m6 6h0m7 11h0m-1-2h0m-3-4h0m0 3h0m-1-6h0m0 9h0m-85-2h0m0 6h0m1 1h0m3-1h0m31 5h0m6-6h0m2 3h0m3-2h0m1 3h0m2-3h0m1 1h0m0 3h0m2-3h0m2 0h0m1 1h0m1 4h0m4-2h0m3 1h0m1 1h0m11 0h0m4-1h0m4-4h0m2-2h0m1 4h0m1-4h0m-7 8h0m-9 1h0m-5 3h0m-4-4h0m-23 5h0m-3 4h0m-2-5h0m-28 3h0m-1-5h0m-1 0h0m0 1h0m-1 6h0m4 10h0m30-4h0m1-4h0m0-1h0m-1 11h0m-2-1h0m-3 3h0m-2 6h0m0-5h0m-9 2h0m-1 2h0m-3-4h0m-7-3h0m-1-1h0m13 13h0m2-3h0m4 0h0" stroke="#4b5587" stroke-width="2.6" stroke-linecap="round" fill="none"/>
<path d="M1124 497h0m-9-5h0m0 2h0m-1 2h0m0-4h0m0 1h0m-1 2h0m-13 4h0m-4 0h0m-2 0h0m-7 0h0m-1-4h0m0 2h0m-2 9h0m1 2h0m2-3h0m3 4h0m2-9h0m2 1h0m2-1h0m10 6h0m1 0h0m1-2h0m0 2h0m3 1h0m8-6h0m4-1h0m1 1h0m1 0h0m0 6h0m1 2h0m2 0h0m13 1h0m-2 2h0m-1-1h0m-1-1h0m-19 0h0m-1 2h0m0-1h0m-1 3h0m-1-2h0m-11-1h0m0-1h0m-2 1h0m-11 0h0m0-1h0m-1 2h0m-6-2h0m-2 2h0m-16 10h0m3-1h0" stroke="#fff" stroke-opacity="0.85" stroke-width="2.6" stroke-linecap="round" fill="none"/>
<path d="M1066.1,505.7L1077.4,501.2L1086.4,514.8L1095.4,528.3L1100.0,546.4L1090.9,559.9L1077.4,550.9L1068.4,532.8Z" fill="#b33428" fill-opacity="0.95"/>
<path d="M1068 503h0m3-3h0m4 2h0m1-1h0m1 2h0m2-1h0m1 0h0m0 3h0m1 2h0m3-1h0m6 10h0m-2 1h0m-1-1h0m-1-2h0m-19-4h0m0 3h0m-1 2h0m-2 14h0m3-5h0m2 0h0m0 3h0m24-7h0m2 7h0m2 7h0m-1 0h0m-26 0h0m0 3h0m0-1h0m-1 2h0m-1-5h0m-1 3h0m-1-4h0m33 13h0m1-5h0m-4 14h0m-1 1h0m-10 2h0m-7-5h0m-1-2h0m0 3h0m15 7h0" stroke="#b33428" stroke-width="2.6" stroke-linecap="round" fill="none"/>
<path d="M1080 515h0m0-5h0m-4 29h0m-2-1h0m1 3h0m1-1h0m0 2h0" stroke="#fff" stroke-opacity="0.85" stroke-width="2.6" stroke-linecap="round" fill="none"/>
<path d="M1146.3,409.4L1154.5,404.7L1161.5,402.4L1166.2,407.1L1166.2,423.6L1163.8,435.4L1161.5,447.2L1163.8,459.0L1166.2,470.8L1168.5,482.6L1163.8,485.0L1159.1,482.6L1154.5,470.8L1151.0,459.0L1146.3,447.2L1143.9,435.4L1142.8,423.6Z" fill="#b33428"/>
<path d="M1146 408h0m7-1h0m2-3h0m1-3h0m4 2h0m2 2h0m0-1h0m5 1h0m1-1h0m-1 9h0m-1-1h0m0 3h0m-1 3h0m0-7h0m-20-1h0m-2 5h0m0 9h0m23 3h0m1-2h0m0-4h0m0 6h0m1-3h0m0 4h0m-1 8h0m-1-1h0m-1-5h0m-2 6h0m-20-5h0m-2 4h0m-1-3h0m5 12h0m2 3h0m13 1h0m1-4h0m2 5h0m1-1h0m0 1h0m0-3h0m2 11h0m-1-2h0m-4-4h0m-12-1h0m0 6h0m-2-6h0m0 4h0m2 6h0m3 9h0m13-8h0m3 6h0m3 11h0m-2-5h0m-2 4h0m0-5h0m-11 5h0m-2 0h0m0-6h0m-1 0h0m-1 2h0m7 9h0m6 6h0m2-2h0" stroke="#b33428" stroke-width="2.6" stroke-linecap="round" fill="none"/>
<path d="M1148 409h0m-1 2h0m0-1h0m-2 5h0m-1 0h0m11 48h0m0-2h0" stroke="#fff" stroke-opacity="0.85" stroke-width="2.6" stroke-linecap="round" fill="none"/>
<path d="M1194.3,423.6L1198.9,426.0L1202.4,435.4L1201.3,443.7L1196.6,443.7L1195.4,435.4Z" fill="#c45f4c"/>
<path d="M1203 436h0m-1 3h0m-5-2h0m-1-1h0m-3 5h0m7 6h0" stroke="#b33428" stroke-width="2.6" stroke-linecap="round" fill="none"/>
<path d="M1195 426h0m2-2h0m5 10h0m-2-4h0m-1 13h0" stroke="#dd9f83" stroke-width="2.6" stroke-linecap="round" fill="none"/>
<path d="M1192 425h0m3 2h0m2 0h0m0 6h0m1 9h0m1 1h0" stroke="#b33428" stroke-width="2.6" stroke-linecap="round" fill="none"/>
<path d="M1204 431h0m-7 1h0m-3 2h0m8 8h0" stroke="#dd9f83" stroke-width="2.6" stroke-linecap="round" fill="none"/>
<path d="M1199 424h0m3 7h0m0 4h0m-4-2h0m-1 5h0" stroke="#b33428" stroke-width="2.6" stroke-linecap="round" fill="none"/>
<path d="M1203 437h0m-2 1h0m0-3h0m-3 0h0" stroke="#dd9f83" stroke-width="2.6" stroke-linecap="round" fill="none"/>
<path d="M1374.2,197.0L1379.1,189.1L1386.9,181.3L1394.7,174.4L1404.5,170.5L1414.2,165.6L1426.9,154.7L1443.4,152.8L1465.7,153.8L1465.3,154.7L1475.1,159.7L1480.9,159.7L1490.7,158.7L1496.5,159.7L1504.3,159.7L1514.1,154.7L1523.8,147.4L1533.6,150.8L1539.4,154.7L1548.2,157.7L1557.9,163.6L1567.7,173.4L1574.5,181.3L1578.4,191.1L1581.3,203.9L1582.3,218.6L1582.3,233.4L1580.3,248.1L1578.4,262.9L1580.3,277.6L1579.0,270.0L1582.3,286.9L1584.0,303.9L1582.3,320.8L1579.0,334.3L1568.9,344.5L1555.5,353.0L1542.1,358.0L1532.0,364.8L1525.3,371.6L1515.2,378.4L1505.1,388.5L1496.7,395.3L1488.3,398.7L1481.6,395.3L1474.9,388.5L1468.2,391.9L1458.1,398.7L1451.4,397.0L1448.0,388.5L1441.3,385.1L1431.2,388.5L1424.5,398.7L1414.5,402.1L1402.7,402.1L1396.0,395.3L1396.0,371.6L1397.7,358.0L1394.3,346.2L1380.9,344.5L1370.8,344.5L1360.7,347.9L1349.0,356.3L1340.6,361.4L1333.9,364.8L1327.1,354.7L1320.4,344.5L1317.1,337.7L1323.8,334.3L1333.9,325.9L1343.9,320.8L1354.0,314.0L1364.1,308.9L1374.2,303.9L1384.2,293.7L1394.3,283.5L1348.9,279.6L1353.8,271.7L1359.6,263.8L1360.6,257.9L1367.4,253.0L1381.1,246.1L1386.9,238.3L1385.0,228.5L1381.1,218.6L1377.2,208.8Z" fill="#98736c" fill-opacity="0.97"/>
<path d="M1524 148h0m7-2h0m6 3h0m10 6h0m-7 1h0m-10-3h0m-1 0h0m-1-3h0m-3 1h0m-1 7h0m-2 1h0m-23 0h0m-25-2h0m-2-3h0m-11 3h0m0-7h0m-5 8h0m-1 0h0m-4 1h0m-1-2h0m0-4h0m-1 4h0m-6-1h0m-2 3h0m-1-6h0m-4 2h0m-25 12h0m17 0h0m3-2h0m1-5h0m5 5h0m4 1h0m3-5h0m1 3h0m10 4h0m3-7h0m11 0h0m16 0h0m3 3h0m6 4h0m2-8h0m0 2h0m4 5h0m0-3h0m5 1h0m16 4h0m8-7h0m14 2h0m3 3h0m1-7h0m5 3h0m12 16h0m0-4h0m-6 2h0m-4-2h0m-6-2h0m-2-1h0m-5 5h0m-2 0h0m-3-7h0m-5 8h0m-2-5h0m-1 3h0m-1 0h0m0-5h0m-8 1h0m-3 4h0m-1 1h0m-10-4h0m-1-1h0m-8-2h0m-7 3h0m-2 0h0m-1-2h0m-21 6h0m-3-4h0m-1 3h0m-1-1h0m-7-1h0m0-2h0m-7 2h0m-2-2h0m-11-2h0m-9 3h0m-6 4h0m-6 0h0m-6-4h0m-3 0h0m-10 1h0m-13 15h0m6-5h0m15-3h0m7 3h0m9-3h0m2 7h0m1-5h0m14 0h0m5-3h0m1 5h0m3 0h0m0-1h0m1 1h0m3 2h0m9-7h0m1 6h0m2 3h0m9-6h0m11-3h0m10 8h0m5-7h0m4-1h0m11 4h0m16 1h0m1 0h0m9 2h0m4 1h0m3-6h0m7 1h0m5 3h0m3 1h0m4-6h0m2 1h0m2 6h0m6-8h0m1 7h0m2-2h0m5 1h0m0-3h0m0 13h0m-7-6h0m-2 7h0m-3-2h0m-4-5h0m0 2h0m-8 3h0m-24-4h0m-3 2h0m-8-1h0m-3 1h0m-1-1h0m-11 4h0m-10 3h0m-11-6h0m-1-2h0m-2 6h0m-10-7h0m-4 6h0m-3 0h0m-3-3h0m-3 2h0m-8-1h0m-2-1h0m-9-3h0m-7 5h0m0 4h0m-1-9h0m-2 6h0m-11-1h0m-4-4h0m0-1h0m-8 2h0m-25 5h0m-1 8h0m5-2h0m4-1h0m2 2h0m14 5h0m1-2h0m5-5h0m4-2h0m0 7h0m2 2h0m3-9h0m2 2h0m1-1h0m0 3h0m25-2h0m7 0h0m4 2h0m3 3h0m12 1h0m1-8h0m8 3h0m0 4h0m9 2h0m18-5h0m8 4h0m6-4h0m3 4h0m1-3h0m9 0h0m1-1h0m2 4h0m12-6h0m1 4h0m22 12h0m-8-4h0m-3 4h0m-8-3h0m-3-4h0m0 7h0m-7-1h0m-1 1h0m-1 1h0m-9-1h0m-4 0h0m-3-1h0m-13 0h0m-3-4h0m-7 1h0m-3-1h0m-3-2h0m0 3h0m-4 2h0m-1 0h0m-4 1h0m-20-7h0m-2 2h0m-9 4h0m-13-3h0m-21-3h0m0 9h0m-1-6h0m-12-3h0m-2 6h0m-4-6h0m-2 2h0m-1 2h0m-3-3h0m-3 8h0m-14-7h0m-1 11h0m25 4h0m2 1h0m9-5h0m1-2h0m1 5h0m1-5h0m2 1h0m2 6h0m4 0h0m5-8h0m1 3h0m1 5h0m1-4h0m5 3h0m3 0h0m1-4h0m8 2h0m6 2h0m3-7h0m0 9h0m5-9h0m2 7h0m6-1h0m7-5h0m2 0h0m5 4h0m6 1h0m3 3h0m6-9h0m3 1h0m6 3h0m1 4h0m9-2h0m4-1h0m3 3h0m1 1h0m0-6h0m2-1h0m3-2h0m6 1h0m4 6h0m3-6h0m1 0h0m0 4h0m1 2h0m0-7h0m8 6h0m7 1h0m1 2h0m7-2h0m10-2h0m-7 10h0m0-1h0m-10-2h0m0 7h0m-7 0h0m0-8h0m-5 7h0m0-1h0m0-1h0m-9-2h0m-11 5h0m-7 0h0m-3 0h0m-1-8h0m-2 3h0m-4-2h0m0 3h0m-2 4h0m-3-1h0m-4-7h0m-8 2h0m-6 1h0m-4-2h0m-4 5h0m-15 1h0m-5-5h0m-2 5h0m-7-1h0m0-7h0m-10 8h0m-1-6h0m-6 4h0m-13-3h0m0-1h0m-1 1h0m-3-2h0m-1 3h0m-2 5h0m-3-4h0m-1 0h0m-5-4h0m-1 5h0m-3-2h0m-3 5h0m-6-8h0m-3 2h0m-5 5h0m-1-4h0m-11 9h0m2 6h0m1-2h0m9-2h0m0-5h0m2 7h0m1-3h0m1 3h0m3 0h0m1-1h0m3-1h0m7 1h0m2-1h0m1-5h0m5 9h0m7 0h0m1-4h0m7-2h0m3 4h0m2 1h0m6-4h0m5 1h0m0 3h0m5-6h0m5 4h0m4-6h0m2 6h0m2-1h0m1 4h0m9-1h0m13-4h0m6-4h0m6 0h0m1 2h0m0 4h0m0-1h0m4-5h0m1 0h0m8 4h0m2 5h0m1-6h0m9 4h0m7 1h0m1-6h0m11-2h0m2 8h0m5-4h0m6-1h0m10-3h0m8 4h0m0-1h0m7-3h0m-6 11h0m0-1h0m-3 7h0m-7 0h0m-13-3h0m-1 5h0m-12 0h0m-2-4h0m-4-5h0m-17 2h0m0 2h0m-17-2h0m-1 6h0m0-1h0m-2-7h0m-10 2h0m-2-1h0m-8 1h0m-3 6h0m-5-1h0m0-6h0m-3 4h0m-5-3h0m-5 3h0m-13-3h0m-7 2h0m-2 1h0m-2 0h0m-8-3h0m-1-2h0m-4 1h0m-2 5h0m-5-2h0m-4-2h0m-1 1h0m-13-2h0m-5 1h0m-5 1h0m-2 6h0m-7-9h0m-1 2h0m-2 0h0m-14 16h0m5-2h0m5-1h0m1 4h0m11-1h0m7-7h0m1 6h0m2-6h0m7 5h0m11-1h0m3-1h0m8-4h0m4 6h0m2-4h0m3-1h0m4 5h0m7-2h0m4-3h0m0 2h0m2 6h0m6-8h0m1 8h0m7-7h0m8 1h0m1 0h0m1 0h0m0 4h0m2-1h0m0 3h0m8-1h0m0-1h0m11-3h0m3-2h0m6 1h0m0 3h0m2-4h0m0 4h0m1 3h0m1-9h0m2 5h0m9-1h0m7 3h0m5 0h0m0-6h0m5 7h0m8 0h0m2-6h0m11 1h0m7 5h0m0-8h0m5 9h0m7-4h0m0 1h0m4 2h0m1-2h0m1 6h0m-6 1h0m-2 2h0m-3 2h0m-3-1h0m-3 1h0m-11 1h0m-5-3h0m-7 1h0m0-5h0m-3 4h0m-2 4h0m-1-3h0m0-5h0m-3 7h0m-4-6h0m-2 0h0m-1 1h0m-2-2h0m-3 0h0m-5 2h0m-1 0h0m-1-1h0m-2 1h0m-10-3h0m0 3h0m-5-3h0m0 9h0m-5-6h0m-3 0h0m-1 4h0m0-1h0m-1-2h0m-1 5h0m-16-3h0m-13-5h0m-3 8h0m-11-3h0m-2-1h0m-7-2h0m-6 3h0m-3-6h0m-6 9h0m-4 0h0m-3-4h0m-9-2h0m0 4h0m-5-7h0m-13 6h0m-1 1h0m-2-1h0m-5 1h0m-6 1h0m-4 1h0m-3-4h0m-3 6h0m2 1h0m2-1h0m12 2h0m1-2h0m3 1h0m2 2h0m3-3h0m5 5h0m4 0h0m2-5h0m11 0h0m1 8h0m2-3h0m2-6h0m2 0h0m2 8h0m13-3h0m4-5h0m6 3h0m0-2h0m1 3h0m10 0h0m1 3h0m4-4h0m2 3h0m2 2h0m5 0h0m2-7h0m1 2h0m10 1h0m5-1h0m14 4h0m1-5h0m18 4h0m2 2h0m8-5h0m8-1h0m6 0h0m23-1h0m1 1h0m12-2h0m1 8h0m7 3h0m-3 3h0m-17 5h0m-2-4h0m-1-1h0m-5-2h0m-3 7h0m-7-4h0m-4 0h0m0-3h0m-2 6h0m-5-5h0m-1 5h0m-1 1h0m0-2h0m-2 2h0m-1-5h0m-4 4h0m-1-3h0m-1 2h0m-8-1h0m-7-1h0m-3 4h0m0-1h0m-5 0h0m-3-7h0m-3 0h0m-14 3h0m-7 2h0m-25-1h0m-6 3h0m-7-8h0m-1 3h0m-1 2h0m-4-2h0m-6 5h0m-1-2h0m-1-2h0m-2-3h0m-6 7h0m-2-1h0m-2-6h0m0 4h0m-6-2h0m-5 6h0m-1-8h0m-1 5h0m-6 0h0m-5-4h0m-16 15h0m3-3h0m1 4h0m1-2h0m1-1h0m0 4h0m5-1h0m1-8h0m4 6h0m0-6h0m3 3h0m24-2h0m3 8h0m13-5h0m2-3h0m2 5h0m16-4h0m0-1h0m1 7h0m12-1h0m3 0h0m2 0h0m1 2h0m6-6h0m7 5h0m2-8h0m1 6h0m9-1h0m1-2h0m7-2h0m6 1h0m4-1h0m7 8h0m3-1h0m7-2h0m9-2h0m3-2h0m5 2h0m14-2h0m13 2h0m4-3h0m0 8h0m6-2h0m1-6h0m1 0h0m1 3h0m0 14h0m0-5h0m-1 5h0m-5-5h0m-7 0h0m-1-1h0m-4-2h0m-21 0h0m-2 1h0m-24 1h0m-1 1h0m-4 2h0m-10 1h0m-11-1h0m-1-3h0m-4 1h0m-8 2h0m-14-4h0m-6 8h0m0-1h0m-9 1h0m-3-3h0m-7 2h0m-2-5h0m-1-1h0m-2 7h0m-6-9h0m-17 2h0m-3 4h0m-9 0h0m-11-4h0m-2-2h0m-2 2h0m-8 0h0m-6 3h0m-6-5h0m-1 9h0m-2-7h0m0-1h0m-10 8h0m-18 9h0m5 0h0m1-8h0m3 9h0m5-7h0m13-2h0m10 3h0m10 1h0m8 2h0m1-6h0m1 7h0m1-7h0m4 8h0m5-8h0m5 3h0m3 3h0m4 0h0m9-3h0m8-1h0m12-2h0m3 3h0m13-3h0m1 7h0m3-2h0m0-5h0m10 2h0m6 2h0m5 1h0m1-2h0m2 0h0m4 6h0m4-3h0m1 0h0m5-3h0m4-1h0m1 3h0m1-4h0m5 5h0m1-4h0m3 2h0m1-3h0m3-1h0m11 0h0m26 7h0m12-2h0m2 1h0m3-5h0m3 8h0m0-1h0m2-4h0m6 0h0m-4 9h0m-3 2h0m-2 1h0m-3-2h0m-1-3h0m-6 1h0m-1 3h0m0-1h0m-35-2h0m0 2h0m-7-2h0m-4 7h0m-8-9h0m-2 4h0m-4 2h0m-3-3h0m-6-1h0m-4 1h0m-6 0h0m-4 2h0m-1 1h0m-12 0h0m-7 0h0m-6-6h0m-7 1h0m-7 1h0m-2 1h0m-8-2h0m-12 1h0m-3 6h0m-1-3h0m-2-3h0m-13 4h0m-1-2h0m-8 0h0m-1 4h0m-4-3h0m-5 4h0m-3-7h0m-11 2h0m-3 0h0m-10 4h0m-6-3h0m-3 4h0m-2 0h0m-2-3h0m-16 3h0m0 8h0m7-4h0m0-1h0m4-1h0m4-1h0m5 1h0m5 6h0m2-2h0m2 3h0m1 1h0m5-9h0m5 2h0m7 0h0m3 0h0m9 0h0m0-2h0m20 4h0m2-1h0m8 3h0m1-6h0m4 9h0m11-9h0m10 1h0m1 0h0m0 3h0m5 0h0m4 3h0m8-4h0m6 5h0m3-8h0m16 8h0m1-1h0m8-3h0m5 1h0m6 2h0m5-4h0m18 6h0m2-7h0m22 5h0m2-7h0m6 2h0m2 2h0m2 2h0m0-2h0m5 0h0m5-3h0m1 3h0m-16 6h0m-5 0h0m-3 4h0m-4-4h0m-3 8h0m-3 1h0m-3-5h0m-3-4h0m-9 6h0m-6 2h0m-1-2h0m-2 2h0m-4-2h0m-1 2h0m-11-7h0m-12 3h0m-2 4h0m-5-7h0m-3 4h0m-9 2h0m-13-7h0m-7 6h0m0-5h0m-11 4h0m-2-5h0m-2 7h0m-11-6h0m0 1h0m-1 1h0m-3 1h0m-13-1h0m-8 3h0m-42-5h0m-10-1h0m-10 2h0m-4 2h0m-1 3h0m-4-7h0m16 13h0m54 5h0m2-2h0m0-4h0m5 6h0m16 1h0m6-5h0m8 3h0m6-5h0m7 3h0m3 3h0m19-8h0m2 7h0m1 0h0m3-5h0m4 1h0m0 3h0m2-4h0m2 4h0m17-6h0m14 9h0m3-3h0m12-2h0m2 3h0m4-4h0m3-3h0m-16 14h0m-2-2h0m-8 1h0m-1-3h0m-2 1h0m-8 8h0m-14-2h0m-1-4h0m-6-3h0m-9 6h0m-6-6h0m-5 6h0m0-2h0m-2 3h0m-1-7h0m-14 3h0m-2-2h0m-11 6h0m-3 1h0m-1-3h0m-17-2h0m-6 8h0m3 1h0m4 4h0m1-6h0m3 1h0m0-1h0m2 1h0m10 8h0m6-5h0m2 1h0m5 4h0m2-1h0m1-6h0m2 0h0m13 5h0m6 2h0m0-1h0m12-3h0m1 4h0m1-7h0m1 0h0m5 1h0m0-3h0m3 0h0m12 6h0m0-3h0m6 11h0m-11 4h0m-4 0h0m-7-1h0m-5-3h0m-9-3h0m-8 4h0m0-5h0m-7 0h0m-28 2h0m-4-1h0m-1 0h0m-1 0h0m-3 8h0m-1-9h0m0 9h0m-11-5h0m-2 0h0m-1 5h0m1 1h0m5 1h0" stroke="#b33428" stroke-width="2.6" stroke-linecap="round" fill="none"/>
<path d="M1518 148h0m27 7h0m-19 1h0m0-6h0m-6 5h0m-20 4h0m-21-2h0m-8-2h0m-4 3h0m-5-1h0m-3-3h0m-3-3h0m-3 3h0m-2-1h0m-15-3h0m-29 15h0m5 4h0m3-5h0m6 3h0m7-5h0m3 2h0m0 4h0m3-1h0m7 0h0m7-7h0m2 9h0m7-7h0m5 7h0m6-5h0m8-1h0m5 1h0m21 3h0m14-3h0m18 4h0m2-7h0m2 4h0m17-4h0m13 18h0m-15-1h0m-13-5h0m-5 2h0m-2 3h0m-2-1h0m-14-2h0m-7-1h0m-11-2h0m-16-2h0m-9 5h0m-2 3h0m-5-7h0m-5-1h0m-9 4h0m-10 0h0m-25-2h0m-10 0h0m-19 10h0m6 5h0m20 0h0m8-4h0m2 2h0m3 3h0m4-6h0m6 0h0m2 7h0m18-7h0m2 2h0m10-1h0m3 5h0m8-1h0m3-3h0m4 1h0m16-2h0m10-1h0m0 7h0m2-7h0m11 2h0m4 3h0m3 0h0m22-3h0m1 3h0m4-2h0m2 3h0m-3 7h0m-3 1h0m-11-5h0m-1 5h0m-15-5h0m-3 3h0m-1-4h0m-1 0h0m-6 0h0m-2 1h0m-5 5h0m-13 1h0m-7-2h0m-2-2h0m-1-2h0m-3 4h0m-1-4h0m-9 3h0m-7-4h0m-5 1h0m-3-1h0m-4 6h0m-6-3h0m-1 6h0m-9-4h0m-11-1h0m-11-1h0m-1 5h0m-13 1h0m-3-2h0m-14-1h0m-1-4h0m-2 2h0m-3-3h0m-9 10h0m8 6h0m3 2h0m4-2h0m33-6h0m18 8h0m1 0h0m4-8h0m2 6h0m6-5h0m0 3h0m2 3h0m3-2h0m9-6h0m4 2h0m8 4h0m9-5h0m0 2h0m1-3h0m15 7h0m4 0h0m8-7h0m14 2h0m7-2h0m3 0h0m0 7h0m1-5h0m10 2h0m14 2h0m0 1h0m7 2h0m5-2h0m7-6h0m0 18h0m-3 0h0m-1 0h0m-4-5h0m-7-3h0m-8 3h0m-2 5h0m-16-1h0m-4-1h0m-3-5h0m-8 4h0m-1 1h0m-9-1h0m-2-3h0m-14 3h0m-18-1h0m-3 4h0m-2 0h0m-10-6h0m-15 0h0m-1 0h0m-3 0h0m-2 0h0m-2 3h0m-2-3h0m0-1h0m-10 4h0m-3 3h0m-4-1h0m-7-2h0m-2-5h0m-1 0h0m-4 3h0m-9-4h0m-1 0h0m-3 0h0m-3 3h0m-10 4h0m-2 11h0m5-2h0m5-3h0m3 5h0m9 0h0m1-7h0m1 2h0m5-2h0m3 3h0m2 3h0m10 2h0m6-9h0m3 7h0m1-5h0m6-1h0m25 8h0m7-9h0m7 3h0m16 5h0m2 0h0m5-2h0m0-1h0m7 0h0m0 2h0m5-3h0m0 2h0m2 1h0m10-7h0m29 4h0m1-3h0m7 4h0m1-1h0m7-2h0m7 11h0m-3 2h0m-2-3h0m-5 6h0m-10-3h0m-3 4h0m-12-3h0m-5-2h0m0 3h0m-13-1h0m-6-1h0m-1-1h0m-2 1h0m-1-5h0m-15 4h0m-2 1h0m-7 1h0m-11 3h0m-3-3h0m-3-6h0m-9 1h0m-5 4h0m-1 3h0m-6-4h0m-11 4h0m-10-4h0m-5 0h0m-4-2h0m0-1h0m-11 1h0m-2 1h0m-8 4h0m-6 1h0m-8-1h0m-4-5h0m-1 3h0m-16 14h0m10-8h0m9 2h0m1 2h0m7 2h0m10-1h0m22-6h0m23 2h0m1 0h0m2 5h0m5 1h0m4-3h0m10-3h0m11 2h0m7 3h0m1-2h0m22-3h0m10 7h0m9-6h0m3 6h0m1-4h0m5 3h0m3-1h0m15-2h0m0 2h0m18-2h0m2 4h0m-6 7h0m-5-1h0m-12 3h0m-9-5h0m0 3h0m-12-2h0m-25 1h0m-9-2h0m-3 5h0m-2-5h0m-5 3h0m-33-4h0m-4 0h0m-3 7h0m-7-3h0m-18-2h0m-5-2h0m-13 0h0m-5 7h0m-6-4h0m-18 1h0m-2-1h0m-1-1h0m-1 5h0m-12 0h0m-14 10h0m9-9h0m10 9h0m9-9h0m1 6h0m3 2h0m5-4h0m2 4h0m2-2h0m2-3h0m5 4h0m8-3h0m1-3h0m19 1h0m7 6h0m7-3h0m6-2h0m6 1h0m3-4h0m4 2h0m8 7h0m2-6h0m4 2h0m6-2h0m3 4h0m8-1h0m8 2h0m9-4h0m10 2h0m6 0h0m6-4h0m6 7h0m4-8h0m9 5h0m8 0h0m2-2h0m8-2h0m0 4h0m12 2h0m-8 3h0m0 3h0m-14 3h0m-16 1h0m-4 1h0m-3-1h0m-18-8h0m-6 4h0m-10 1h0m-10 0h0m-10-1h0m-10 4h0m-2-8h0m-9 7h0m-25-2h0m-3 4h0m-1-3h0m-25-1h0m-5 1h0m-3 3h0m-1-7h0m-4-1h0m-1 8h0m-3-5h0m-2 1h0m-3-1h0m-4 5h0m-2-4h0m-14 3h0m-3-2h0m-9 2h0m-1-1h0m21 4h0m3 0h0m12 0h0m2 8h0m24-7h0m25 2h0m5-4h0m4 5h0m6 4h0m5-9h0m2 3h0m12 1h0m4 5h0m1-3h0m1-4h0m13-1h0m2-1h0m5 2h0m23 2h0m18 0h0m2-3h0m4 6h0m9-3h0m5-4h0m8 6h0m1-2h0m3-3h0m5 7h0m4-7h0m3 15h0m-29 3h0m-3-7h0m-2 4h0m-1-1h0m-13-2h0m-6 0h0m-8 6h0m-18-2h0m-21-3h0m-1 5h0m-4-7h0m-1-2h0m-7 5h0m-8 1h0m-5-5h0m-4 0h0m-4 6h0m0-4h0m-22 0h0m-7-2h0m-4 7h0m-4-8h0m-4 7h0m-9 2h0m-3-1h0m-7-1h0m0 1h0m-29 11h0m10-3h0m1 1h0m5 2h0m3-1h0m2-3h0m4-1h0m8 4h0m5-7h0m14 6h0m18 0h0m1-5h0m1 6h0m8 1h0m4 0h0m5-3h0m17-2h0m4 2h0m0-2h0m2-2h0m8 6h0m5-6h0m2 5h0m11 1h0m8-8h0m6 6h0m3-1h0m2 2h0m1-7h0m19 8h0m3 0h0m15-8h0m7 8h0m1 1h0m22-1h0m1 4h0m-6-1h0m-6 8h0m-16-6h0m0 3h0m-2-5h0m-15 7h0m-18-7h0m-1 7h0m-3-2h0m-1-3h0m-7-1h0m-5 2h0m-5-2h0m-7 7h0m-11-9h0m-1 2h0m-6 2h0m-11 3h0m-4-2h0m-3 2h0m-17-4h0m-3-1h0m-6-2h0m-1 2h0m-5-2h0m-15 3h0m-13 1h0m-9 5h0m-11 0h0m-1-9h0m-9 2h0m-1 2h0m-3 5h0m-1-7h0m-11 5h0m-15 10h0m14-4h0m11 6h0m6-7h0m2 1h0m2 6h0m21-4h0m15 4h0m28-3h0m2-6h0m8 1h0m9 8h0m9-9h0m13 3h0m7 0h0m17-1h0m5 1h0m10 3h0m9 2h0m7-7h0m1 4h0m8-5h0m1 4h0m18 2h0m2 3h0m2-8h0m5 2h0m3-1h0m5-2h0m4 2h0m0 7h0m2-6h0m-13 10h0m-3-2h0m-12 5h0m-2-6h0m-6 2h0m-31 6h0m-9-3h0m-3-2h0m-8-2h0m-2-1h0m0 3h0m-11 5h0m-9-6h0m-5 2h0m-15-3h0m-12 6h0m-1-6h0m-10 6h0m-6-5h0m-2 1h0m-2 4h0m-6-6h0m-6 0h0m-11 4h0m-5 3h0m-8-2h0m-1-2h0m-4-1h0m-1 0h0m-1 3h0m-2-6h0m-1 4h0m-15 1h0m-1 0h0m-8 4h0m-1-5h0m-9-1h0m-14 4h0m-7-1h0m11 11h0m3 1h0m1-7h0m2 8h0m1 0h0m5-2h0m7 2h0m1-2h0m15-1h0m3-5h0m6 2h0m39-3h0m4 3h0m3 2h0m0-5h0m3 4h0m9 2h0m3-2h0m17 2h0m2-2h0m21-3h0m2 8h0m11-6h0m4 6h0m7-8h0m0 8h0m10-2h0m8-1h0m2-2h0m6 3h0m6-3h0m9 0h0m6-3h0m22 0h0m-19 14h0m-15 3h0m-1-1h0m-6 1h0m-4-5h0m-36 6h0m0-8h0m-1 4h0m-2-4h0m-3 4h0m-25-4h0m-7 7h0m-5-1h0m-4-2h0m-12 0h0m-6 3h0m-2-8h0m-1 9h0m-3-3h0m-10-6h0m-1 8h0m-76-2h0m13 4h0m54 6h0m19-6h0m6 9h0m6-6h0m3-1h0m2-1h0m13 1h0m0 5h0m2-3h0m4 2h0m1-1h0m8-5h0m9 9h0m2-8h0m1 0h0m5-1h0m1 0h0m12 7h0m5 0h0m2-6h0m10 6h0m2 2h0m5-9h0m1 9h0m15 3h0m-9 3h0m-7 1h0m-19 0h0m-4-5h0m-6-1h0m-1 3h0m-1-3h0m-1 1h0m-6 4h0m-16-2h0m-3 6h0m-32-4h0m-16-4h0m-12 13h0m10 4h0m20-6h0m3-1h0m11-1h0m1 8h0m2-3h0m8 0h0m7 4h0m0-5h0m7-2h0m7 7h0m3-2h0m4 2h0m5-7h0m3 1h0m2-1h0m4 4h0m2 3h0m4-9h0m8 3h0m-15 9h0m-1 5h0m-2-1h0m-18-4h0m-9 3h0m-6 4h0m-2-8h0m-2 4h0m-25-4h0m-4 4h0m-4 3h0m-9 1h0m-1-5h0m-3-3h0m-5-1h0m-3 8h0m5 4h0m11-2h0" stroke="#66a28a" stroke-width="2.6" stroke-linecap="round" fill="none"/>
<path d="M1536 158h0m-46 1h0m-18-2h0m-7-3h0m-6 2h0m-9 13h0m13-1h0m19-3h0m10 3h0m12 0h0m2-6h0m10-1h0m12 1h0m7-2h0m5 1h0m10-1h0m7 3h0m5 13h0m0-5h0m-4 3h0m-31 1h0m-22-5h0m-11 9h0m-23-2h0m-22-5h0m-3 3h0m-8 4h0m-26-6h0m-15-2h0m0 15h0m30-6h0m38 8h0m42-5h0m42 0h0m10 2h0m9 6h0m0 4h0m-6 4h0m-3-3h0m-23 3h0m-3-6h0m-30 3h0m-16 3h0m0-6h0m-31 5h0m-3-6h0m-4-1h0m-1 8h0m-8-1h0m-12-4h0m-9-1h0m-31 4h0m-7-7h0m-2 7h0m-3 5h0m19 4h0m11-6h0m0 4h0m10-1h0m43-1h0m1 3h0m1-2h0m11 5h0m0-3h0m17-2h0m1 0h0m3-1h0m12 4h0m4-2h0m8-4h0m8 7h0m5-4h0m12 2h0m9 1h0m8 2h0m6 1h0m16 10h0m-9-4h0m-5-5h0m-4 5h0m-9-2h0m-2 5h0m-13-2h0m-13-1h0m0 3h0m-7-4h0m-3 4h0m-5-2h0m-14-2h0m-6 5h0m-8-8h0m-5 1h0m-23 7h0m-59-2h0m-14 0h0m52 5h0m7 3h0m16-2h0m8-3h0m22 8h0m3-1h0m19-1h0m27 1h0m20-3h0m20 2h0m9 7h0m-21-3h0m-25 3h0m-9-1h0m0 7h0m-26-8h0m-6 4h0m-20-1h0m-4-4h0m-52 3h0m-7 4h0m-15-3h0m-3 2h0m-2-3h0m-1-3h0m-2 11h0m5 8h0m3-4h0m1 3h0m7-7h0m5 8h0m9-7h0m15 7h0m26-2h0m40 2h0m9-2h0m15 1h0m36-6h0m8 0h0m-11 10h0m-4 7h0m-1-5h0m-13 2h0m-9-4h0m-35-1h0m-8 3h0m-15 2h0m-17-3h0m-11-1h0m-10-2h0m-4 3h0m-33 3h0m-17 3h0m-20-1h0m-1 0h0m17 5h0m5 0h0m14 4h0m15-4h0m15 0h0m14-3h0m13 0h0m1 5h0m16-5h0m6 5h0m57-5h0m6 8h0m19-4h0m5 0h0m3 1h0m12 5h0m-3 0h0m-14 4h0m-8-2h0m-7 4h0m-6 3h0m-1-3h0m-7-1h0m-5-5h0m-10 2h0m-8-1h0m-8 0h0m-25 4h0m-1-3h0m-12 6h0m-15-2h0m-11-2h0m-8 1h0m-46 1h0m-25-2h0m15 6h0m1 4h0m25 1h0m9 0h0m32-1h0m5 5h0m4-8h0m0 3h0m11-3h0m5-1h0m18 5h0m3-2h0m1-1h0m24-1h0m11 4h0m6-1h0m11-4h0m5 3h0m14 6h0m9 7h0m-39 1h0m-27 2h0m-19-3h0m-1-1h0m-7-5h0m-2 0h0m-2 7h0m-7 0h0m-11 0h0m-13 2h0m-35-8h0m-12 8h0m-8-3h0m-1-3h0m21 13h0m8 3h0m65-2h0m4-2h0m5 2h0m4-4h0m10-2h0m1 8h0m5-1h0m15-5h0m18 5h0m32-5h0m-25 10h0m-1-1h0m-6-2h0m-8 0h0m-21 4h0m-20 4h0m-2-7h0m-1 1h0m-25 0h0m-55 6h0m-34-1h0m-8-1h0m-34 12h0m26-6h0m11-1h0m17 5h0m64 0h0m8-3h0m18 0h0m21-2h0m14 6h0m31-2h0m13-4h0m2 3h0m4-3h0m5 2h0m4 15h0m-23-7h0m-22 0h0m-21-1h0m-1 7h0m-25-6h0m-68 4h0m-17-2h0m-24 1h0m-6 1h0m-8 2h0m-25-3h0m-5 4h0m5 6h0m20-2h0m12 4h0m13 1h0m86 1h0m18-4h0m10 3h0m53-1h0m17 3h0m-40 5h0m-8 3h0m-45-4h0m-14 4h0m-14-7h0m-8 9h0m-5-5h0m-94-3h0m1 12h0m66-2h0m13 1h0m9-2h0m4 3h0m17-1h0m5 3h0m18-5h0m4 1h0m11 8h0m11-7h0m14 17h0m-81 10h0m20-4h0m2-2h0m46-1h0m1-1h0m18 1h0m-52 17h0m-52-4h0m-12-1h0" stroke="#4b5587" stroke-width="2.6" stroke-linecap="round" fill="none"/>
<path d="M1440 159h0m113 15h0m-92 4h0m-7-2h0m0 2h0m-1-5h0m0 2h0m-44 3h0m14 5h0m108 2h0m38-2h0m1 10h0m-17 4h0m-29-7h0m-2 9h0m-1-5h0m-81 4h0m-60 0h0m24 6h0m178 9h0m-27-1h0m-18 6h0m-12-6h0m-121 0h0m-12 6h0m-4 1h0m-6-3h0m72 13h0m2-5h0m41-4h0m38 12h0m-26 5h0m-47-3h0m-46 12h0m23-5h0m45 4h0m5 0h0m6-3h0m13 0h0m14-2h0m50 6h0m-119 8h0m-2 0h0m-18-3h0m-14 0h0m-32 5h0m5 5h0m12 1h0m2 1h0m1 6h0m67-1h0m16-3h0m43-1h0m1 4h0m27 10h0m-21-8h0m-13 9h0m-103-8h0m-5 8h0m-54-2h0m15 3h0m66 5h0m65 1h0m32-2h0m27 12h0m-34-1h0m-7-1h0m-99-2h0m-25 1h0m-17 3h0m-13 11h0m3 2h0m76-9h0m69 6h0m42-5h0m-41 12h0m-29 1h0m-8-1h0m-147 16h0m90-6h0m19-1h0m11-2h0m3 9h0m59-2h0m28 0h0m12 4h0m-16 3h0m-85 1h0m-96 4h0m8 7h0m14-1h0m80-3h0m29 4h0m6 3h0m18-9h0m19 4h0m22 5h0m-15 10h0m-11-1h0m-112 1h0m-20-2h0m-62 2h0m57 1h0m13 5h0m92-1h0m23-4h0m-5 18h0m-32-3h0m-5 1h0m-9-5h0m-10 6h0m-27 0h0m-12-1h0m-23 1h0m-7 1h0m32 9h0m25-2h0m9 2h0m2 8h0m-31-3h0" stroke="#dd9f83" stroke-width="2.6" stroke-linecap="round" fill="none"/>
<path d="M1526 148h0m18 9h0m-1 0h0m-3-1h0m-12-6h0m-2 0h0m-1 4h0m-38 3h0m-4-1h0m-18 3h0m-2-1h0m-12-7h0m-41 16h0m12 0h0m11-6h0m6 8h0m0-5h0m4-2h0m3 3h0m6-4h0m3 3h0m7-2h0m0-1h0m1-1h0m4 2h0m1-1h0m2 3h0m7 0h0m4-4h0m1 1h0m1 7h0m3-6h0m6 6h0m3-4h0m2-4h0m13 2h0m12 0h0m5 4h0m14-2h0m2-1h0m2-2h0m1 6h0m1-5h0m1 5h0m13 2h0m1 0h0m3 3h0m-1 6h0m-1-6h0m-5 6h0m-10-5h0m-4 2h0m-8-3h0m-2 0h0m-2 1h0m-3-1h0m-7 0h0m-4 0h0m-1-2h0m-19 4h0m-7 1h0m0-3h0m-1 7h0m-3-7h0m0-1h0m-1-1h0m-28 8h0m-7-6h0m-4 1h0m-7 6h0m-5-1h0m-6-4h0m-11-2h0m-6 0h0m-3 5h0m-5 1h0m-10-4h0m-6 4h0m-10 10h0m1-4h0m1 5h0m1-1h0m3 0h0m5 0h0m1-8h0m1 1h0m3 0h0m0 2h0m8-3h0m2 8h0m11-5h0m1 5h0m6-6h0m0 2h0m3 2h0m3 3h0m7 0h0m3-4h0m6-2h0m2 1h0m27 1h0m6-5h0m8 1h0m17 8h0m3-2h0m2-6h0m2 4h0m1-5h0m5 8h0m3-4h0m4 5h0m4-3h0m5-6h0m2 2h0m7 6h0m7-2h0m0 2h0m3-2h0m6 0h0m3-3h0m2-2h0m6 0h0m4 0h0m2 6h0m3 10h0m-13 1h0m-2-5h0m-1 4h0m-9 2h0m-2-3h0m-8 3h0m-4-7h0m-4 7h0m-2-7h0m-11-2h0m-12 8h0m-2-4h0m0 3h0m-5-1h0m-1 0h0m-1-4h0m-8 6h0m-5-7h0m-1 3h0m-13-1h0m-6 4h0m-1 0h0m-8 1h0m-4-3h0m0-2h0m-3 5h0m-1-3h0m-21-5h0m-8 3h0m-7 4h0m-3-7h0m-1 4h0m-6-4h0m-2 4h0m-11-4h0m-14 3h0m-2 14h0m1 1h0m7-7h0m7 1h0m2-1h0m2 5h0m2-2h0m4 1h0m1-3h0m1 7h0m1-9h0m8 7h0m5-2h0m10-3h0m1 5h0m1 0h0m2-4h0m12-2h0m7 3h0m3 5h0m0-7h0m6-2h0m8 2h0m7 4h0m1-3h0m7 2h0m1 4h0m2-9h0m3 4h0m2 1h0m3-2h0m6-1h0m1 3h0m4 3h0m6-2h0m7 2h0m10-3h0m8 4h0m1-6h0m5 6h0m12-9h0m1 7h0m4-2h0m1-5h0m6 0h0m6 6h0m0-5h0m1 4h0m1-2h0m2 0h0m5 6h0m3-2h0m0 8h0m-18-3h0m-4-2h0m-6 3h0m-3-1h0m-2 7h0m-2-7h0m0 5h0m-2-5h0m-12 7h0m-12-1h0m-6-4h0m-1 1h0m-16-2h0m0 4h0m-4 1h0m-14-3h0m-5-3h0m-2 4h0m-2 1h0m0-3h0m-20-4h0m0 4h0m-2 5h0m0-7h0m-5 1h0m-5 2h0m-7-2h0m-9 2h0m-1-3h0m-5 2h0m-3-3h0m-1 6h0m-9-5h0m-2-2h0m-2 7h0m-1 0h0m-14 1h0m-2 3h0m1 5h0m12 0h0m2 0h0m3-6h0m1 5h0m8-1h0m2 4h0m0-5h0m8-1h0m8 5h0m5 0h0m5 0h0m3 1h0m1-5h0m10 0h0m8-2h0m3 8h0m8-2h0m5-6h0m2 0h0m2 0h0m3 0h0m1 8h0m8-1h0m2-1h0m6-6h0m6 2h0m13-2h0m0 8h0m2-3h0m5 2h0m14 0h0m8 1h0m6 0h0m1-6h0m11-3h0m13 12h0m-2 3h0m-8-5h0m-5 8h0m-1-2h0m-2-4h0m-4 6h0m-18-3h0m-7 3h0m-10-2h0m-1-5h0m0-1h0m-1 4h0m-1-4h0m-6 6h0m-22-4h0m-7 0h0m-9-2h0m-3 3h0m-6 3h0m-6-2h0m0-2h0m-1 2h0m-5 0h0m-3-4h0m-10 0h0m-1 9h0m-6-9h0m-4 0h0m-7 0h0m-2 2h0m-1-2h0m-3 7h0m-5-5h0m-13 5h0m-1 0h0m0 2h0m-18 8h0m2 2h0m14-7h0m1 3h0m12-2h0m2 3h0m3-4h0m14 1h0m1-3h0m3 3h0m2 4h0m6-2h0m8 3h0m4-5h0m2 6h0m1-5h0m10-4h0m0 1h0m2 1h0m13 2h0m6-3h0m12 0h0m9 5h0m1-4h0m9 2h0m2-1h0m0 6h0m5-6h0m1-3h0m12 3h0m7 1h0m5 4h0m7 1h0m2-1h0m3-2h0m9-4h0m9 1h0m1-1h0m-1 10h0m-3 3h0m-17 1h0m-1-5h0m0 4h0m-12 4h0m-1-5h0m0 4h0m-5-6h0m-2-2h0m-3 2h0m0-2h0m-8 2h0m-1 1h0m-2 2h0m-1-3h0m-1 1h0m-1 6h0m-1-5h0m-24 1h0m0-5h0m-3 8h0m-2-8h0m-3 2h0m-6 5h0m-1-4h0m-2 0h0m-1 1h0m-6-4h0m0 8h0m-9 1h0m0-8h0m-6 3h0m-16-4h0m-3 7h0m-3 2h0m-7-3h0m-4-1h0m-5-4h0m-9 6h0m-8-3h0m-2 2h0m-2 2h0m-10-5h0m-10-3h0m-19 14h0m0 1h0m9 0h0m3 1h0m8-4h0m2 4h0m4-2h0m3 5h0m5-2h0m1-6h0m14 4h0m3 3h0m7-4h0m7-4h0m2 8h0m0-2h0m0-5h0m1 8h0m7-8h0m15 0h0m15 5h0m1-2h0m3-1h0m8-1h0m8 4h0m3-5h0m17 1h0m1-1h0m1 3h0m7 5h0m4-7h0m2 5h0m2 1h0m2-2h0m8-2h0m2-2h0m1 7h0m6-4h0m2 2h0m1-6h0m5 8h0m2-5h0m5 2h0m8 3h0m10-2h0m4-2h0m0 1h0m-5 13h0m-2-4h0m-6-2h0m-4-3h0m0 9h0m-3 0h0m-6-5h0m-2-1h0m-9 2h0m-2-4h0m-5-1h0m-5 4h0m-4 0h0m-3 4h0m-7-7h0m-1 1h0m-8 5h0m-1 2h0m-6 0h0m-6-3h0m-3-6h0m-22 8h0m-2-6h0m-5 7h0m-3-9h0m-9 5h0m-8-4h0m0-1h0m-13 5h0m-1-2h0m-6 1h0m-1 1h0m-3 2h0m-4 1h0m-1-6h0m-14 6h0m-10-8h0m-1 6h0m-8 3h0m-24-9h0m-4 10h0m4 0h0m4 1h0m17-1h0m11 9h0m4-3h0m3-2h0m1-3h0m15 4h0m1-4h0m0 4h0m1 3h0m0-5h0m3 3h0m2 2h0m2-2h0m4-6h0m1 0h0m7 7h0m2 1h0m5-8h0m0 7h0m9-5h0m1 0h0m5 4h0m9-5h0m2 1h0m1 0h0m11 4h0m2-4h0m6 7h0m6-8h0m3 4h0m2 2h0m1 2h0m1-6h0m4 1h0m1-4h0m1 0h0m2 5h0m2-3h0m15 5h0m0-5h0m11-1h0m7 2h0m4 6h0m0-1h0m7 0h0m11-8h0m17 3h0m3 6h0m-1 2h0m-9 2h0m-1-2h0m0 4h0m-1-5h0m-4 9h0m-21-9h0m-1 2h0m-1 2h0m-1 1h0m-8-2h0m-7 2h0m-3 3h0m-4-8h0m-2 0h0m-5 9h0m-8-3h0m-5-2h0m-5 1h0m-4 4h0m-5-3h0m-10-4h0m-16 0h0m-1 1h0m-3-1h0m-1 0h0m-9-1h0m-7 4h0m0-5h0m-12 9h0m-1-8h0m-2 5h0m-3-2h0m-15-1h0m-1 1h0m-2 1h0m-5-3h0m-11 4h0m-2-3h0m-7 2h0m-3 2h0m0 5h0m5 4h0m12-6h0m3 9h0m1-1h0m2-5h0m4 2h0m5 3h0m2-3h0m7-2h0m1 0h0m1 5h0m0-2h0m1 0h0m6 3h0m6 0h0m12-4h0m2 3h0m2-1h0m1-4h0m7 0h0m5 4h0m6-2h0m1-2h0m25 2h0m7-2h0m3-3h0m2 8h0m0-2h0m8-2h0m1 0h0m3 1h0m6-2h0m1-2h0m18 8h0m6-4h0m9-3h0m4 5h0m8-5h0m3 2h0m1-3h0m8 3h0m1 6h0m-3 0h0m-6 4h0m-3-4h0m-13 4h0m-1 5h0m0-7h0m0 4h0m-5-1h0m-1-3h0m-3 3h0m0-1h0m-7 1h0m-1 4h0m-1 0h0m-1 0h0m-2-5h0m-9-1h0m-3 6h0m-6-3h0m-3 1h0m-6-5h0m-15 3h0m-3 1h0m-5-4h0m-2 1h0m-20 4h0m0 2h0m-6-8h0m-18 6h0m-1-3h0m-17-1h0m-3 0h0m-8 0h0m-3 5h0m-4-4h0m-2-2h0m-5 0h0m-1 2h0m-2 0h0m-4-2h0m-1 7h0m-1 0h0m-1-9h0m-8 0h0m-3 5h0m0-1h0m-6 1h0m-3-5h0m-3 7h0m-1 2h0m-3-2h0m-25 12h0m10-9h0m0 1h0m1 5h0m0-3h0m1-3h0m1 5h0m18 1h0m1 3h0m1-4h0m0-2h0m2-1h0m1 0h0m0 3h0m5 0h0m4 2h0m0-3h0m3 4h0m2-2h0m8 2h0m4-1h0m2 1h0m0-3h0m10 2h0m13 1h0m7-8h0m7 7h0m2-6h0m0 7h0m17-2h0m3-5h0m1 3h0m3-2h0m3 7h0m9-6h0m1-2h0m3 6h0m1 2h0m16-3h0m4-4h0m0 3h0m3-1h0m1-1h0m7 6h0m3-7h0m6-1h0m13 0h0m7 1h0m4 0h0m6 6h0m6-8h0m2 5h0m4 2h0m4-3h0m10-2h0m2 1h0m4-2h0m1 5h0m-6 4h0m0 9h0m-1-3h0m-8-3h0m-1 0h0m0 4h0m-1-1h0m0 2h0m-3-1h0m-3-4h0m-4-3h0m-5 2h0m-14 0h0m-9 1h0m-3 1h0m-5-2h0m-10 3h0m-5 4h0m-30-1h0m-2 1h0m-8-4h0m-5-3h0m-1 6h0m-3-5h0m-2 6h0m-2-9h0m-10 5h0m-1 0h0m-1 1h0m-5-1h0m-7 4h0m-1-7h0m-2 1h0m-6 6h0m-6-7h0m-1-2h0m-1 3h0m-1 3h0m-3-6h0m-1 3h0m0 2h0m-2-3h0m-11 7h0m-3-4h0m-8-4h0m-5 0h0m-4 6h0m-5 1h0m-2-5h0m-17-2h0m-2 0h0m-1 0h0m-3 0h0m-8 4h0m-3 2h0m0-1h0m-12 2h0m5 9h0m1-1h0m16-5h0m0 5h0m11-2h0m1-4h0m6 5h0m0-1h0m8 2h0m13-6h0m15 2h0m4 4h0m1 0h0m1 2h0m11-3h0m7-4h0m10 4h0m1-5h0m4 1h0m8 3h0m8-1h0m1 5h0m1-6h0m2 7h0m2 0h0m0-6h0m0-1h0m16 7h0m2-3h0m14 2h0m1 1h0m14-1h0m2-2h0m3 0h0m7 1h0m2-2h0m10 1h0m5-4h0m3 4h0m0 1h0m9 2h0m4-8h0m1 8h0m2-6h0m12-3h0m2 6h0m5-1h0m1-3h0m-25 9h0m-12 6h0m-1-4h0m-1 0h0m-3-1h0m-9 7h0m-4-8h0m-11 7h0m-1-3h0m-3 3h0m-1-8h0m-4 4h0m-5 2h0m-4-3h0m-6-1h0m-4 2h0m-1-2h0m-3 4h0m0 3h0m-4-1h0m-1-7h0m-5 6h0m-3 0h0m-1-3h0m-6 2h0m-3-1h0m-1-2h0m-1 2h0m-12 4h0m-3-3h0m-24 3h0m-9-2h0m-2-5h0m-46-2h0m0 6h0m0-5h0m-20 7h0m1 2h0m2 4h0m8-2h0m59 2h0m5 5h0m9-7h0m1 4h0m1-1h0m3 2h0m2-5h0m11 4h0m3-2h0m2 0h0m5 1h0m1 0h0m0-5h0m6 9h0m9-7h0m6 7h0m8-6h0m5 4h0m1 2h0m9-1h0m3-4h0m1-2h0m10 5h0m6-2h0m3-3h0m5 1h0m0 3h0m9-4h0m13-2h0m1 1h0m-17 12h0m-2 0h0m-12-2h0m-3 5h0m-5 1h0m-11-3h0m-1-4h0m-13 2h0m-1-2h0m-5 8h0m-4-4h0m-3-3h0m-4 3h0m0-2h0m-8 1h0m-1 4h0m-3 1h0m-4-2h0m0-5h0m-2 2h0m-6-1h0m-6 3h0m-10 4h0m-1-6h0m-3 2h0m-2 0h0m-15 2h0m-1-7h0m-1 4h0m5 12h0m9-2h0m6-4h0m0 1h0m1 1h0m0 2h0m1 5h0m2-1h0m2 0h0m3 0h0m1-5h0m5 5h0m6 1h0m2-5h0m20-2h0m4 2h0m11-4h0m2 4h0m0-3h0m12 3h0m6 4h0m7-4h0m7-3h0m8 1h0m-20 12h0m-1 5h0m-6-5h0m-2-1h0m-5 0h0m-29 5h0m-4-4h0m-21-1h0m-2-2h0m-2 8h0m-1-6h0m-2-1h0m-7 2h0m-4-1h0m-4-2h0m-1 2h0m-2 3h0m-2 0h0" stroke="#b33428" stroke-width="2.6" stroke-linecap="round" fill="none"/>
<path d="M1522 147h0m6 2h0m13 2h0m-2 5h0m-112-1h0m-16 14h0m8 0h0m4-4h0m2 4h0m2-7h0m8 3h0m18-5h0m8 8h0m5 0h0m11-3h0m5-1h0m5-2h0m14 6h0m19-1h0m2-3h0m9 4h0m2 1h0m24-2h0m8 9h0m-6-1h0m-20 3h0m-3-6h0m-2 1h0m-4 4h0m-7-3h0m-1-1h0m-28-3h0m-8 7h0m-17 2h0m-1-9h0m-2 7h0m-1-6h0m0 3h0m-2 3h0m-5 0h0m-7-1h0m-2-2h0m-3 2h0m-11-1h0m-10-5h0m-1 4h0m-1-2h0m-4 1h0m-14-2h0m-3 0h0m-17 8h0m-4 5h0m0 5h0m2-6h0m3-1h0m0 5h0m3-6h0m3 5h0m1 1h0m5-5h0m17-1h0m2 6h0m15-5h0m6 3h0m3-4h0m9-1h0m5 2h0m9 5h0m7-7h0m10 2h0m1 4h0m1-5h0m0 6h0m8 2h0m7-5h0m19-2h0m4-2h0m3 3h0m7 2h0m7-5h0m4 0h0m3 9h0m5-9h0m5 0h0m18 11h0m-5 0h0m-1 0h0m-3 0h0m-11-1h0m-3 8h0m-12 0h0m-5 1h0m-4-3h0m-4 3h0m-8-7h0m-6 2h0m-6-1h0m-3-2h0m-2 0h0m-3 7h0m-1 1h0m-2-7h0m-22-2h0m-5 3h0m-8-3h0m-14 1h0m-5 1h0m-16-2h0m-3 6h0m-9 2h0m-1-6h0m-1 6h0m-20-4h0m-1 5h0m0-5h0m-3 2h0m0-3h0m-2-1h0m0 3h0m-4 4h0m-2-2h0m-4-6h0m7 13h0m17 0h0m8-4h0m4 6h0m1 2h0m10-3h0m3-5h0m13 9h0m2-7h0m9 4h0m1-6h0m1 4h0m7 0h0m3 2h0m10-2h0m7-3h0m4 3h0m0 2h0m6-2h0m3-4h0m6 4h0m3-1h0m4 0h0m26 5h0m1-3h0m3 2h0m18-6h0m5 3h0m4-2h0m8 7h0m8-1h0m2 6h0m-7 2h0m0-5h0m-5 8h0m-11-7h0m-1 6h0m-8-7h0m-4 1h0m-11 5h0m-6-1h0m-1-3h0m-14 1h0m-2 1h0m-11-2h0m-4-1h0m-18 2h0m-13-2h0m-3 3h0m-15-4h0m-7 5h0m-8-1h0m-6-4h0m-5 3h0m-8 3h0m-6-4h0m-14 3h0m0-2h0m4 10h0m0-4h0m19 3h0m6 4h0m7 1h0m3-1h0m6-2h0m12 3h0m1-3h0m2-4h0m9-1h0m9 3h0m7-2h0m3 0h0m5-1h0m6 2h0m2-2h0m3 7h0m24 0h0m15-1h0m7 1h0m4-1h0m1-5h0m12 6h0m1-7h0m14 8h0m12 9h0m-9-5h0m-8-1h0m-5-1h0m-7 2h0m-5 0h0m-2-1h0m-21 7h0m-1-2h0m-9-4h0m-10 5h0m-2 0h0m-12-1h0m-17 1h0m0-1h0m-7-2h0m-9 5h0m-2-1h0m-11-3h0m-3-1h0m-13-3h0m-17 2h0m-11 3h0m-2-5h0m0-1h0m-4 6h0m-2-4h0m-5-2h0m-6 2h0m-5 15h0m4-1h0m19-3h0m0 4h0m1 1h0m9 0h0m3-5h0m7 0h0m1 6h0m26-2h0m5 0h0m30-2h0m4-4h0m2 7h0m1-3h0m8-4h0m7 4h0m22-3h0m6 6h0m10 0h0m2 0h0m8-5h0m6-2h0m5 4h0m5 3h0m8 0h0m-7 5h0m-5 3h0m0 2h0m-6 0h0m-1-7h0m-6-1h0m0 9h0m-1-6h0m-1 3h0m-12-2h0m0 4h0m-7 0h0m-13 0h0m-3-2h0m-7 2h0m-11-6h0m-1-1h0m-2 0h0m-20 6h0m-1-5h0m-5 0h0m-10 7h0m-12-7h0m-2-2h0m-21 7h0m-2-7h0m-4 4h0m0-3h0m-4 0h0m-12 2h0m-8 0h0m-6 5h0m-10-2h0m-15 3h0m0 3h0m1 3h0m6 4h0m4-3h0m15-1h0m2 4h0m0-3h0m5 1h0m9-5h0m7 7h0m1-7h0m35 6h0m12-8h0m8 4h0m5-1h0m3 3h0m2 2h0m18-1h0m9-6h0m2 5h0m4 2h0m0-6h0m14-1h0m14 5h0m12-1h0m2-5h0m6 2h0m13 7h0m2-9h0m3 3h0m-7 8h0m-9-1h0m-3 5h0m-3 0h0m-3 0h0m-13 4h0m-15-2h0m-5-3h0m-2-2h0m-3 4h0m-8-4h0m-6 7h0m-9-3h0m-2-6h0m-19 3h0m-3-3h0m-7 9h0m-2-1h0m-14-6h0m-15 5h0m0-5h0m-5-1h0m-10-1h0m-5 8h0m-3-6h0m-13 0h0m0 7h0m-15-5h0m-5 0h0m-5-4h0m-4 9h0m19 5h0m11 2h0m8-3h0m1 5h0m15-8h0m9 9h0m3-1h0m2-6h0m4 3h0m1 1h0m0-1h0m19 1h0m6-2h0m4-4h0m9 7h0m1-5h0m3 5h0m3-3h0m1 5h0m6-6h0m5 2h0m3-1h0m14-4h0m11 4h0m2-1h0m1-3h0m3 8h0m2-2h0m2 1h0m2 0h0m2-1h0m1-4h0m2 5h0m2-2h0m11 3h0m6-4h0m12-1h0m4 5h0m12 4h0m-5 6h0m-10 0h0m-6-4h0m-6 0h0m-3 5h0m-1-9h0m-1 7h0m-12 2h0m-3-6h0m-3-1h0m-7-2h0m-1 7h0m-9-5h0m0 6h0m-15-3h0m-6 1h0m-9 2h0m-11-3h0m-5 3h0m0-5h0m0-1h0m-9-2h0m-11 1h0m-4 3h0m-1 4h0m-2-4h0m-29-1h0m-8 1h0m-2 3h0m-6 2h0m-14-8h0m-25 16h0m15-3h0m4-1h0m2 0h0m5 5h0m8 1h0m6-1h0m0-5h0m13 5h0m13-2h0m2-4h0m0-1h0m5 7h0m6 1h0m3-4h0m11 2h0m4 0h0m12-3h0m10 4h0m19-4h0m18 3h0m2-3h0m24 2h0m6-2h0m2 5h0m1-8h0m3 4h0m1-4h0m2-1h0m0 8h0m10-3h0m5 2h0m11 12h0m-3-2h0m-16 1h0m-2-7h0m-12-1h0m-8 2h0m0-2h0m-7 4h0m-1 0h0m-3 2h0m-9-2h0m-4-3h0m-22 1h0m-5 1h0m-7 5h0m-8-5h0m-12-2h0m-1 6h0m-2-4h0m-18 0h0m-6 4h0m-1-2h0m-9-5h0m-9 0h0m-1 5h0m-4-2h0m-8-2h0m-1 0h0m-17-1h0m-12 7h0m-20 1h0m-5-4h0m-14 11h0m5 1h0m8-5h0m7 3h0m2 4h0m16 1h0m4-6h0m2 3h0m1-5h0m6-1h0m2 3h0m4-2h0m11 5h0m7-5h0m11 6h0m13-4h0m1-2h0m1 8h0m2-1h0m2-2h0m18-2h0m4 4h0m15-4h0m14 4h0m14-6h0m4-2h0m2 5h0m5-4h0m4 6h0m4-6h0m4-1h0m12 4h0m3 0h0m22 4h0m5-3h0m6 3h0m1 2h0m-1 0h0m-24 9h0m-1 0h0m-4-8h0m-6 0h0m-5 4h0m-1-3h0m-12-2h0m-8 9h0m-1-9h0m0 2h0m-10-2h0m-5 5h0m-23-1h0m-4 0h0m-2-2h0m-12 1h0m-11 4h0m-11-2h0m-1-4h0m-1 4h0m-3 0h0m-5-1h0m-9 2h0m-1 1h0m-3 0h0m-15-5h0m-2-1h0m-27 5h0m-3 2h0m-10 0h0m-13-6h0m-9 2h0m0 2h0m-7 3h0m-2-8h0m-7 12h0m14-3h0m2 3h0m3 0h0m1-1h0m2-2h0m8 1h0m0 2h0m5 6h0m1-9h0m5 2h0m5 3h0m21-1h0m9-2h0m16-2h0m13 0h0m43 3h0m3 3h0m10 0h0m3 2h0m11-3h0m7-4h0m0 4h0m12 0h0m10 4h0m0-5h0m0-1h0m5 4h0m3-5h0m2 0h0m8 3h0m4-4h0m15 0h0m2 3h0m13-2h0m-16 10h0m-36-1h0m-5 6h0m-1-2h0m0-1h0m-1 5h0m-2-6h0m-1 0h0m-12 5h0m-7 0h0m-1-2h0m-6-4h0m-12 1h0m-3-3h0m-11 6h0m-16 1h0m-15-2h0m-5 3h0m-14-3h0m-9 2h0m-2-5h0m-7 1h0m-53 1h0m0 5h0m-3-3h0m-1-1h0m1 7h0m0-1h0m2 0h0m1-1h0m63 4h0m5-3h0m1 5h0m4 3h0m4-6h0m2 1h0m1 3h0m2-7h0m30 9h0m10-3h0m4-6h0m9 2h0m2 4h0m4 0h0m7-3h0m1 1h0m8-4h0m11 3h0m15 3h0m13-3h0m-12 7h0m-8 1h0m-1 6h0m-2-4h0m-17-3h0m-2 8h0m-3-7h0m-4-1h0m-1 1h0m-8 6h0m-2-5h0m-3 0h0m-35 7h0m-5-9h0m-1 6h0m-7-4h0m-13 7h0m0-6h0m-6 4h0m-8-3h0m-1 0h0m-2 3h0m-1-4h0m-3 16h0m8-9h0m1 7h0m14-1h0m28 0h0m2 0h0m4 3h0m3-8h0m4 5h0m2-2h0m6-1h0m3 1h0m3 3h0m2 2h0m10-8h0m1 4h0m0-5h0m5 2h0m3 5h0m7 2h0m17-9h0m-28 10h0m0 4h0m-2-3h0m-5 2h0m-16 1h0m-4 2h0m-3 1h0m-3 0h0m-32-6h0m-2 1h0m-10 3h0m-10-1h0m-3 1h0m12 6h0m4-1h0m2 1h0m7 0h0" stroke="#66a28a" stroke-width="2.6" stroke-linecap="round" fill="none"/>
<path d="M1535 150h0m-67 6h0m-16 3h0m-2-4h0m-18 0h0m-14 8h0m8 0h0m2 5h0m23-1h0m13-6h0m0 7h0m4-1h0m2 2h0m3-9h0m43 7h0m10-6h0m30 6h0m11 5h0m-3 0h0m-3-1h0m-4 2h0m-79 5h0m-3-3h0m-1-1h0m-45 3h0m-1 2h0m-1-4h0m-9 2h0m-3-5h0m-21 7h0m-11 10h0m6 0h0m18-7h0m33 7h0m5-2h0m25 1h0m7-7h0m22 4h0m8-4h0m4 2h0m16 4h0m35-4h0m12-2h0m7 14h0m-5-5h0m-5 4h0m-1-3h0m-17 6h0m-13 0h0m-15-5h0m-11 2h0m-27 3h0m-4 2h0m-17 0h0m-63-4h0m-8 4h0m-6 7h0m8-5h0m29 6h0m14 2h0m4-8h0m23 1h0m4 4h0m37 2h0m40-8h0m25 3h0m11 13h0m-37 2h0m-37-6h0m-33 5h0m-35-4h0m-9 4h0m-3 2h0m-28-2h0m-20-6h0m3 15h0m5-2h0m29-4h0m10 7h0m5-4h0m33 2h0m4 2h0m8-5h0m4-1h0m36 0h0m27 0h0m31 6h0m-3 9h0m-10 0h0m-72-1h0m-2 2h0m-15-2h0m-44-5h0m-22 7h0m-26 8h0m9 3h0m2-5h0m4-2h0m5 8h0m6-3h0m9-2h0m8-1h0m37-1h0m3-2h0m6 9h0m10 0h0m8 0h0m7-5h0m6-4h0m15 5h0m25 0h0m8-2h0m6 6h0m15-6h0m1 16h0m-6-9h0m-18 0h0m-5 0h0m-3 4h0m-46 0h0m-30-3h0m-22 5h0m-7-3h0m-10 3h0m-4 3h0m-34-1h0m-24 8h0m7-4h0m8 1h0m10-2h0m18 4h0m8 0h0m2 4h0m12-9h0m5 0h0m15 6h0m10 1h0m7-7h0m28 0h0m12 5h0m9-5h0m18 0h0m1 0h0m1 6h0m18-5h0m20 18h0m-13-7h0m-32 0h0m-8 0h0m-6 5h0m-14 1h0m-1-2h0m-3 1h0m-57-6h0m-18 8h0m-37-9h0m-2 3h0m-12 4h0m-16 2h0m45 7h0m6 1h0m6-4h0m3 1h0m9 1h0m3 4h0m13-9h0m8 1h0m26 5h0m5-2h0m4-1h0m12 4h0m18-7h0m3 2h0m25 7h0m5-4h0m29 4h0m9-9h0m1 6h0m-39 13h0m-8-3h0m0 2h0m-4-2h0m-11-4h0m-5 0h0m-18 4h0m-8-5h0m-68 0h0m-7 5h0m-11-5h0m-2 2h0m-18 3h0m-26 13h0m18 0h0m15-1h0m4-7h0m20 3h0m14 3h0m6-7h0m44 6h0m4-4h0m28 2h0m21-2h0m11 4h0m10-5h0m29 6h0m-15 7h0m-71 1h0m-7-3h0m-22-1h0m-3 2h0m-44 0h0m-16 1h0m-26-1h0m-5-3h0m-17 11h0m1 0h0m9 6h0m29-3h0m16-2h0m15-2h0m5 0h0m16 9h0m15-4h0m53-2h0m53 3h0m4-3h0m6 0h0m-17 16h0m-18-8h0m-21 2h0m-19 5h0m-26-6h0m-41 6h0m-28-4h0m-11 1h0m-79 12h0m9-2h0m6-4h0m3 5h0m4-1h0m4-5h0m6 0h0m6 9h0m2-4h0m9-5h0m8 6h0m13 1h0m3-2h0m2 3h0m23-8h0m15 3h0m21 6h0m5 0h0m43-4h0m10 1h0m12 0h0m14-6h0m2 7h0m25-1h0m-39 11h0m-1 2h0m-4-1h0m-1-3h0m-7 3h0m-37-4h0m-4 1h0m-21 0h0m-8 0h0m-30-1h0m-71 3h0m-12-2h0m5 6h0m63 6h0m11-3h0m4 4h0m6 0h0m3-6h0m2 7h0m2-9h0m7 8h0m15-5h0m14 6h0m11-8h0m2 1h0m21-1h0m36 1h0m-25 15h0m-15-7h0m-19 4h0m-25 4h0m-11-2h0m-9 2h0m-24 7h0m35-1h0m8 3h0m47-3h0m0-3h0m7 8h0m1-7h0m1-1h0m-38 13h0m-12-3h0m-3-1h0m-3 2h0m-26 3h0m-7-3h0m-9 6h0m-1-6h0m13 9h0" stroke="#4b5587" stroke-width="2.6" stroke-linecap="round" fill="none"/>
<path d="M1547 155h0m-27 0h0m-53-2h0m-12-2h0m-33 7h0m66 7h0m65 6h0m-103 0h0m-53 7h0m11 3h0m4 2h0m55 6h0m33-9h0m4 8h0m12-4h0m-60 8h0m-64 10h0m21 4h0m29 1h0m14-4h0m4 4h0m26-5h0m43 3h0m21 3h0m14-5h0m-32 16h0m-9-7h0m-33 7h0m-8-3h0m-23-5h0m-8 5h0m-67 11h0m22-5h0m65 4h0m4 0h0m19-3h0m4 5h0m4-7h0m13 0h0m49 8h0m8 0h0m1-4h0m-4 9h0m-139 3h0m-17-4h0m-30-3h0m0 12h0m58 1h0m5-1h0m13-2h0m28 3h0m3-2h0m60 3h0m25-3h0m4 0h0m-20 12h0m-14 3h0m-100-5h0m-23-1h0m-14 9h0m-47 0h0m20 6h0m65-2h0m36 5h0m5-1h0m86-7h0m-93 12h0m-29 6h0m-9 1h0m-87 2h0m50 6h0m18-6h0m10 3h0m26 2h0m48 2h0m6-1h0m32-6h0m11 0h0m4 8h0m16-1h0m0 6h0m-99-4h0m-7 0h0m-2 0h0m-17 6h0m-35-3h0m-17 13h0m12 3h0m160 10h0m-65-9h0m-70 2h0m-2 2h0m-18-1h0m-54-1h0m7 10h0m68 2h0m129 3h0m-98 7h0m-31-4h0m-4 1h0m-23 2h0m-40-3h0m-23 18h0m15-7h0m41 0h0m30 6h0m20-1h0m11 3h0m72 4h0m-84 1h0m-21-2h0m-23 8h0m1 4h0m0 2h0m34-4h0m51 0h0m-13 16h0m-40 8h0m17-4h0m-43 17h0" stroke="#dd9f83" stroke-width="2.6" stroke-linecap="round" fill="none"/>
<path d="M1519 149h0m34 9h0m-7 1h0m-6-7h0m-7 7h0m-5-8h0m-11 5h0m-10 3h0m-19-3h0m-9 3h0m-1-3h0m-20-6h0m-4 9h0m0-7h0m-11 7h0m-7-5h0m-20 13h0m4-1h0m12 0h0m1-4h0m2 2h0m1 3h0m3 0h0m2 1h0m3-4h0m0 2h0m1 3h0m2-7h0m13-1h0m2 4h0m19 1h0m6-5h0m2 2h0m7-3h0m0 4h0m1-3h0m2 8h0m16-7h0m5-2h0m7 6h0m7 2h0m12-4h0m1-4h0m2 5h0m1-5h0m3 9h0m3-5h0m5 3h0m14 11h0m-3-6h0m-11 6h0m-7-5h0m0 3h0m-5 0h0m-1-2h0m-2-4h0m-1 0h0m-1 5h0m-6-2h0m-7 5h0m-3-4h0m-1 4h0m-5-4h0m-1-4h0m-2 0h0m-7 5h0m-5 2h0m-7-5h0m-6 2h0m0 3h0m-4-2h0m-22 4h0m-7-8h0m-1 7h0m-1-2h0m-6-3h0m-13-3h0m-5 0h0m-13 5h0m-7-1h0m0-1h0m-1 4h0m-7 2h0m-4 0h0m-7 0h0m-1-1h0m-11 10h0m7-3h0m0-5h0m10 3h0m0 3h0m6 3h0m12-2h0m7-3h0m2 4h0m5 0h0m3-5h0m0 6h0m4-8h0m5 2h0m3 4h0m8-1h0m0 2h0m0-5h0m1 6h0m6-1h0m3-4h0m1 2h0m11-4h0m3 4h0m6 3h0m5-5h0m1-1h0m7 5h0m9-6h0m0 1h0m3 3h0m10-3h0m2 4h0m1-6h0m5 6h0m2 2h0m5-5h0m1-2h0m13 7h0m13-4h0m1 2h0m14 1h0m-1 3h0m-4 5h0m0-5h0m-3 2h0m-1 6h0m-8-6h0m-8 1h0m-2 1h0m-5 4h0m-4-3h0m-3 2h0m-5-6h0m-4 3h0m-3 0h0m-22 4h0m-1-4h0m-8 3h0m-2-2h0m-6-5h0m-1 4h0m-1-1h0m-1 0h0m-1-1h0m-11 6h0m-6 0h0m-2-2h0m-9-7h0m-1 4h0m-2 5h0m-1-7h0m-2 3h0m-3 3h0m-7-3h0m-6-1h0m-1 5h0m-1-5h0m-15-4h0m-6 9h0m-1-2h0m0-1h0m-20 1h0m-3-1h0m-2 3h0m0-6h0m-10 15h0m7-1h0m1-6h0m3 7h0m3-5h0m0 4h0m2-5h0m10 3h0m5-5h0m1 3h0m9 6h0m1-5h0m1 4h0m7-6h0m13-1h0m1 7h0m5-8h0m6 1h0m7 4h0m4-2h0m1-3h0m11 9h0m1-2h0m8-3h0m0 4h0m4-4h0m4-1h0m11-1h0m25-2h0m11 3h0m0 4h0m3 0h0m0-5h0m7-1h0m0 8h0m2-1h0m7-5h0m3 2h0m1 4h0m6-1h0m15 9h0m-9-4h0m-1-2h0m-7 6h0m-7 1h0m-1-7h0m-9 0h0m-3 5h0m0 2h0m-6-1h0m-5-1h0m0-6h0m-5 7h0m0-2h0m-3-4h0m-2 6h0m-5-1h0m-3-6h0m-2 3h0m-4 5h0m-1 1h0m-11-3h0m-7-6h0m-1 1h0m-18 3h0m-8-2h0m-5 0h0m-1 6h0m0-5h0m-7-1h0m-6 2h0m-10-1h0m-12-3h0m-1 4h0m-13 1h0m-5-4h0m0 4h0m-1-2h0m-2-3h0m0 4h0m-9 1h0m-5 1h0m-3 2h0m5 8h0m12-2h0m1 0h0m5-1h0m3 6h0m8-5h0m1-1h0m0 6h0m8-2h0m1 2h0m6-2h0m4 1h0m2-5h0m20 5h0m22-5h0m0-1h0m15-2h0m3 3h0m8-1h0m2 1h0m8 4h0m1-4h0m1 6h0m9-4h0m1 0h0m0 4h0m2-8h0m2 6h0m3-2h0m1-1h0m20-4h0m10 4h0m13 5h0m-4 10h0m-2 0h0m0-2h0m-17-1h0m-8-3h0m-12 3h0m-3 3h0m-2-5h0m-5 5h0m-5 0h0m-4-5h0m-4-1h0m-1 2h0m-5 4h0m-5-4h0m-2-5h0m-1 3h0m-2 3h0m-1 1h0m-3-7h0m-1 9h0m-11-3h0m0 1h0m-4-4h0m-10 4h0m-1 0h0m-8-1h0m-4-5h0m-3-1h0m-5 7h0m-4-3h0m-7 0h0m-4 5h0m-3-7h0m-3 6h0m-2-7h0m-1 1h0m-2-2h0m-11 3h0m-8 0h0m-2 1h0m-1-3h0m-2 6h0m-11-7h0m-2 12h0m1 4h0m3-5h0m2 6h0m12-5h0m1 7h0m1-9h0m1 3h0m2 4h0m2-4h0m3 5h0m2-2h0m1 0h0m1-2h0m1 2h0m5-6h0m8 0h0m2 3h0m1 2h0m6-1h0m2 2h0m5-3h0m8 6h0m3 0h0m2-2h0m2 0h0m4 2h0m22-8h0m4 0h0m10 7h0m1-3h0m2 4h0m2-4h0m1-2h0m5-1h0m5 7h0m0-6h0m1 6h0m1-9h0m11 0h0m9 6h0m7 2h0m3-5h0m0-3h0m11 9h0m0-1h0m4-8h0m3 8h0m12-4h0m1-3h0m0 3h0m1-3h0m-2 9h0m-3 4h0m-23-3h0m-7 4h0m-13 1h0m-1-1h0m-2 1h0m-3-4h0m-3 3h0m0-1h0m-3 1h0m0-2h0m-6-2h0m-3 5h0m-1 2h0m-4-5h0m-9 2h0m-1 3h0m-5 1h0m-2-4h0m-1 0h0m-3 2h0m-5-2h0m-11-1h0m-5-4h0m-35 1h0m-5 1h0m-4 1h0m-7 6h0m-1-6h0m-4-1h0m-2 3h0m-6 4h0m-2-4h0m-5 3h0m-3 1h0m-7-6h0m-7-3h0m-4 0h0m-8 6h0m-1-1h0m-4 5h0m3 3h0m2 2h0m4 1h0m2-6h0m3 3h0m12-3h0m11 3h0m7 0h0m10-1h0m5 1h0m3-3h0m4 1h0m1 6h0m4 0h0m3-7h0m17 2h0m1 1h0m6-3h0m3 6h0m9-4h0m3 0h0m6-1h0m8 3h0m2 3h0m10-2h0m3-2h0m2 4h0m15-5h0m0 3h0m2 2h0m9 2h0m1-5h0m2 5h0m3-1h0m18-3h0m2-1h0m3-4h0m6 1h0m15 14h0m-3 0h0m-11-1h0m-2 1h0m-1-1h0m-6-1h0m-2 3h0m-1 1h0m-8 2h0m-4-2h0m0-5h0m-1 7h0m-2-3h0m-3-3h0m0 6h0m-10-7h0m-1 6h0m-7 1h0m-12-7h0m-2-1h0m-3 1h0m-4 6h0m-3-4h0m-1 0h0m-8 5h0m-3-3h0m-3-1h0m-2 4h0m-5-5h0m0 3h0m-17 0h0m-1 1h0m-3-7h0m-13-1h0m-7 1h0m-3 7h0m-9-8h0m-9 3h0m-2 2h0m-1 1h0m-4-3h0m0-1h0m-5-1h0m-7 3h0m-1-1h0m-5-2h0m-2 5h0m-10-5h0m-6 6h0m-2-5h0m-2 1h0m-9-3h0m-2 6h0m-1-1h0m-1 4h0m5 2h0m11-1h0m5 5h0m14-1h0m3-2h0m3 0h0m15 4h0m6-4h0m2 1h0m7 6h0m6-4h0m7 0h0m5 2h0m0 2h0m3-6h0m1-1h0m4 3h0m6-4h0m2 5h0m7-1h0m2 1h0m19-5h0m3 1h0m1-1h0m11 6h0m19 0h0m2-7h0m3 0h0m4 0h0m6 2h0m19 5h0m15-5h0m3-1h0m7 1h0m4-2h0m2 14h0m-2 5h0m-2-8h0m-1 5h0m-2 1h0m-1 0h0m-2-3h0m-1 4h0m-8 0h0m-1-6h0m-2 1h0m-2 3h0m0-1h0m-11-3h0m0-1h0m-5 4h0m-4-4h0m-1 1h0m-13-2h0m-1 1h0m-8 1h0m-8 3h0m-2 2h0m-9-4h0m-1 6h0m-4-1h0m-1 1h0m-4-7h0m-3 5h0m-3-5h0m-1-2h0m-1 4h0m-5-1h0m0 3h0m-1 3h0m-2-2h0m-5 1h0m-2-1h0m-11-1h0m-7-5h0m-1 6h0m-1-7h0m0 9h0m-4-8h0m-6 8h0m-2-2h0m-4-2h0m0-1h0m0 2h0m-7-5h0m-10 8h0m-1-8h0m-1 5h0m-3-2h0m-7-2h0m-3 5h0m-2-7h0m-2 0h0m-7 2h0m0 7h0m11 3h0m1 5h0m9 2h0m8 0h0m4-2h0m14 0h0m10-3h0m0-1h0m13 5h0m4 0h0m2 0h0m4-8h0m8 7h0m5-1h0m3-3h0m7 0h0m1 0h0m0-1h0m1 2h0m5-2h0m4 1h0m7-2h0m0 4h0m2 4h0m4-3h0m3-2h0m2 1h0m1 1h0m5 0h0m5-3h0m2 5h0m3-4h0m2 3h0m6-5h0m1 5h0m1-6h0m10 0h0m12 2h0m8 3h0m8 0h0m-2 11h0m-9-7h0m-2 5h0m-8 3h0m-1-2h0m-12-1h0m-10-1h0m-3 2h0m-1-6h0m-2 0h0m-2 1h0m0 8h0m-1-5h0m-1-1h0m-12 2h0m-1-1h0m-4 1h0m-1-4h0m0 4h0m-12-3h0m-8 2h0m-4-1h0m-4-3h0m-5 3h0m-8 5h0m-12-8h0m-1 8h0m-8-5h0m-6-3h0m-1 5h0m-2 2h0m-1 2h0m-3-9h0m-3 8h0m-8 0h0m-1-5h0m-5 2h0m-3-5h0m-9 7h0m-8-6h0m-7 3h0m-6 3h0m-6-2h0m-6 3h0m-2-1h0m-5 0h0m-2-7h0m-1 9h0m-3-6h0m-1 1h0m-6 3h0m-1 2h0m-20 5h0m7 0h0m0 3h0m0-2h0m7-4h0m4 7h0m2-7h0m2 4h0m2 3h0m4-3h0m0-2h0m3-2h0m2 7h0m5-1h0m1 2h0m23-8h0m14-1h0m2 0h0m1 1h0m0 1h0m6-2h0m2 4h0m1 2h0m8-1h0m4 4h0m2-6h0m14 2h0m14-3h0m2 5h0m0-7h0m7 0h0m3 9h0m1-3h0m0-5h0m6 6h0m4-3h0m5-3h0m2 6h0m3-7h0m5 4h0m3-2h0m7 2h0m5-1h0m1-1h0m1-1h0m9 5h0m10-3h0m3 2h0m2 1h0m2-5h0m1 1h0m19 6h0m1-1h0m4-6h0m5 7h0m2 0h0m6 10h0m-10-5h0m-7-3h0m-1 6h0m-1-4h0m-2-2h0m-1 2h0m-6 3h0m-3 4h0m-1-8h0m-6 3h0m-8-3h0m-3 1h0m-1 5h0m-4-2h0m-7 2h0m-2-2h0m-1-5h0m-5 2h0m-2 6h0m-3-2h0m-1-6h0m-12 6h0m-6 0h0m-3-5h0m-13 6h0m0-5h0m0 6h0m-1-1h0m-2-5h0m-11-2h0m-3 2h0m-9 6h0m-2 1h0m-11-2h0m-1 0h0m-7 2h0m-6-9h0m-7 8h0m-1-3h0m0-5h0m-5 7h0m-5-2h0m-14-3h0m-8-2h0m-7 0h0m-6 8h0m-17-6h0m-2-2h0m-10 9h0m-8-1h0m-3-1h0m-6 2h0m2 6h0m6-3h0m0-1h0m15 4h0m5 1h0m3-3h0m0 2h0m3-2h0m2 5h0m6-1h0m1-7h0m3 0h0m2 6h0m4 2h0m1-7h0m2 6h0m6-7h0m3 2h0m6 7h0m4-1h0m4-7h0m3 4h0m0-1h0m2 4h0m15-7h0m2 0h0m0 7h0m1-5h0m5 5h0m7-3h0m4 1h0m13-6h0m2 6h0m10-2h0m11 5h0m4-7h0m6 0h0m10 0h0m0 3h0m6 3h0m6-7h0m13 3h0m0-2h0m13 0h0m1 3h0m0 3h0m5-8h0m4 9h0m5-4h0m0 2h0m15-2h0m3-4h0m-7 11h0m-3 1h0m-10-1h0m-7 1h0m-6 5h0m-18-3h0m-3-2h0m0-1h0m-1-1h0m-12 2h0m-6 5h0m-1-5h0m-1 0h0m-2-3h0m-2 5h0m-1 0h0m-1-2h0m-4-2h0m-1 1h0m-7 3h0m-29-5h0m-1 6h0m-4-4h0m-4 7h0m-9-6h0m-9 3h0m0 2h0m-2-4h0m-6-1h0m-4 5h0m-3 1h0m-2-3h0m-42-5h0m-3 3h0m-5 1h0m-1 4h0m-6-1h0m-6-3h0m-1-2h0m-12-2h0m82 9h0m14 3h0m1-3h0m3 6h0m6-1h0m13 3h0m15-7h0m2-1h0m9 1h0m15 6h0m3-3h0m9-2h0m4 7h0m6-6h0m1 3h0m4-3h0m23 2h0m5-3h0m2-2h0m-6 10h0m-7 2h0m-8-2h0m-8 8h0m-6 0h0m-2 1h0m-1-4h0m-4 2h0m-10-3h0m-5-1h0m-10-3h0m-3 3h0m-3-3h0m-9 0h0m-4 1h0m-9 4h0m-2-4h0m-2 0h0m-6-1h0m0 6h0m-1 0h0m-4-4h0m-1 2h0m-9-3h0m-10 5h0m-1 2h0m-2-2h0m-9 12h0m0-1h0m10-2h0m1-4h0m3-1h0m0 8h0m3-5h0m3 2h0m4-3h0m13-1h0m4-1h0m6 7h0m1-1h0m10 2h0m9-1h0m1-2h0m19 2h0m2-3h0m0-2h0m3 5h0m9-6h0m8 7h0m6-7h0m-43 12h0m-5-3h0m-1 6h0m-9-3h0m0 4h0m-3-4h0m-21-2h0m-8 8h0m-1-5h0m0-1h0m-1 1h0m-1-3h0m-11 3h0m-10 2h0m15 6h0" stroke="#b33428" stroke-width="2.6" stroke-linecap="round" fill="none"/>
<path d="M1534 157h0m-2-6h0m-3 7h0m-3-4h0m-4-2h0m-3 3h0m-32 3h0m-26-3h0m-15 1h0m-2-5h0m-7 4h0m-4 0h0m-12 4h0m-9 9h0m14 1h0m3-7h0m18 7h0m14-4h0m2-1h0m1 1h0m7 1h0m3-5h0m1 5h0m16-2h0m4-3h0m9 6h0m2-4h0m1 2h0m12-4h0m3 5h0m5-1h0m7 3h0m3-6h0m3 7h0m12-8h0m12 8h0m3 1h0m-12 4h0m-12 0h0m-1 2h0m-4 0h0m-8 2h0m-11-5h0m-4 0h0m-10 5h0m-8-7h0m-8 1h0m-22-1h0m-2 4h0m-8-3h0m-4 6h0m-2-3h0m-5-4h0m-5 0h0m-6 5h0m-3 0h0m-1 3h0m-2-8h0m-19 5h0m-1 3h0m-12-6h0m-19 16h0m30-6h0m1-2h0m6 1h0m1 6h0m4-5h0m5 5h0m3-3h0m2-1h0m4 4h0m3-4h0m4 1h0m6-1h0m9 0h0m1 5h0m1-5h0m19-3h0m14-1h0m1 7h0m8-2h0m2 0h0m1-1h0m11-4h0m16 8h0m0-1h0m3-6h0m2 1h0m3 5h0m4-2h0m8 4h0m9-9h0m4 0h0m9 5h0m3-1h0m6 13h0m-13 0h0m-9 0h0m-8 1h0m-1-7h0m-5 6h0m-13-6h0m-32 4h0m-29-4h0m-2 6h0m-10-3h0m-5-3h0m-2 6h0m-8-5h0m-6-2h0m-3 9h0m-2-1h0m0-8h0m-23 4h0m-5 2h0m0-5h0m-3 7h0m-10 0h0m-4-5h0m-12 3h0m8 9h0m22 1h0m3 1h0m30-4h0m3-1h0m25 5h0m31-5h0m2 7h0m4-5h0m3 1h0m2 4h0m5-2h0m18 2h0m8-7h0m7 6h0m2-8h0m2 4h0m0 4h0m11-1h0m2-6h0m9 2h0m8 4h0m3-6h0m1 10h0m-1 2h0m-19-1h0m-3 3h0m-3 2h0m-1-6h0m0 2h0m-4 0h0m-2-3h0m-2 6h0m-5 1h0m-21-2h0m-2 1h0m-8 0h0m-20 3h0m-1-5h0m-1-1h0m-1-3h0m-2 1h0m-5 1h0m-51-1h0m0-1h0m-1 9h0m-3-9h0m-20 2h0m-21 3h0m-3-5h0m-2 4h0m2 8h0m6-2h0m1 4h0m11-3h0m3 7h0m7-7h0m9 7h0m7-6h0m16 2h0m11 3h0m1 0h0m10-3h0m2 4h0m25-3h0m15-4h0m1 4h0m6 1h0m0-2h0m5-4h0m21 1h0m16 1h0m3 5h0m10-3h0m11-3h0m1 15h0m-1-4h0m-26 6h0m0-1h0m-2-5h0m-3-2h0m-14 5h0m0-4h0m-7-1h0m-11 1h0m0 3h0m-1 1h0m-2 0h0m-2 2h0m-3 1h0m-2-6h0m-1 7h0m-3-4h0m-4 2h0m-11-5h0m-1 2h0m-8 1h0m-9-3h0m-10-2h0m-3 2h0m-1 2h0m-2 4h0m-1-1h0m-2-7h0m0 9h0m-5-1h0m-2-1h0m-6-1h0m0-2h0m-3-2h0m-11 6h0m-12-7h0m-9 3h0m-6 1h0m-14 4h0m-5 4h0m3 0h0m4 2h0m15 4h0m4-6h0m9 4h0m1-2h0m39 3h0m1-3h0m5-4h0m13 2h0m7 0h0m2 1h0m8-4h0m1 3h0m15-2h0m1 2h0m4-3h0m2 9h0m4-9h0m6 7h0m4-1h0m3-3h0m11-2h0m17 4h0m1-2h0m6-3h0m4 9h0m5-3h0m2-2h0m-9 15h0m-3-8h0m0 2h0m-6 2h0m-2 4h0m-19-3h0m-10-4h0m-5-2h0m-3 6h0m-26-4h0m-12-1h0m-4 4h0m-1 3h0m-1-8h0m-7 5h0m-12 0h0m0-2h0m-15 5h0m-4-7h0m0 7h0m-1-5h0m-9 6h0m-3-6h0m-2-1h0m-1 7h0m-1 0h0m-13-3h0m-1-2h0m-2-3h0m-20 1h0m-13-1h0m-4 1h0m-2 3h0m-4 2h0m-3 7h0m5-4h0m4 3h0m10-3h0m6 4h0m12-2h0m11 1h0m6 1h0m5-1h0m8 5h0m6-2h0m5-4h0m2 7h0m3 0h0m3-8h0m2 7h0m3 0h0m6-2h0m28-5h0m3-1h0m17 3h0m7-1h0m6 0h0m9-2h0m4 4h0m4 4h0m14-5h0m12 1h0m4 3h0m13 11h0m-5-7h0m-12 7h0m-5-6h0m0-2h0m-5 2h0m-8 1h0m-1-1h0m-5 4h0m-2 1h0m-2 1h0m-2-6h0m-15 3h0m-5 0h0m-23-3h0m-12 4h0m-9 0h0m-12-5h0m-2 3h0m0 2h0m-6-3h0m-6 5h0m-20 1h0m-1-4h0m-3 0h0m-3-2h0m0 4h0m-3 0h0m-15 2h0m-13-5h0m-1 1h0m-1-4h0m0 4h0m-12 0h0m-7 2h0m-1-1h0m5 5h0m3 1h0m1 1h0m7 0h0m18 1h0m8 0h0m3 3h0m3-2h0m1 0h0m1 2h0m2 0h0m0-3h0m7 5h0m4-8h0m5 1h0m8 3h0m3-3h0m10-2h0m8 3h0m6 5h0m5-2h0m6-2h0m13-2h0m29 6h0m4-2h0m17-2h0m10 5h0m12 0h0m13-8h0m13 11h0m-8 1h0m-6 0h0m0-2h0m-12 2h0m-5 4h0m-3-7h0m-2 3h0m-6-2h0m-2-1h0m-4 7h0m-10-7h0m-1 8h0m-5-7h0m-1 2h0m-1 1h0m-8-4h0m-6 0h0m0 2h0m-11 6h0m-2-1h0m-9-5h0m-1 1h0m-1 5h0m-3-5h0m-2-1h0m-2 2h0m-12-4h0m-5 6h0m-7 1h0m-6-3h0m-13-4h0m-1 6h0m-2-2h0m-2 4h0m-10-4h0m-10-1h0m-6 5h0m-2-8h0m-25 19h0m11-1h0m7-6h0m0 1h0m23-3h0m3 7h0m0-5h0m0-2h0m17 0h0m16 1h0m19 5h0m3 3h0m0-6h0m16 5h0m5-8h0m1 1h0m2 1h0m0 3h0m2 0h0m2 3h0m0-1h0m1 1h0m4 0h0m9-7h0m14 4h0m3 1h0m0-5h0m1 4h0m0 4h0m8-4h0m22-4h0m0 5h0m2 3h0m13-9h0m9 6h0m-4 8h0m-12 3h0m-7 1h0m-7-3h0m-3 3h0m0-3h0m-9 1h0m-7 2h0m-8-1h0m-6-4h0m-9-2h0m-4 1h0m-3 5h0m-13-2h0m-3 0h0m-3 4h0m-2 0h0m-8-4h0m-8 0h0m-6 4h0m-10-8h0m-11 8h0m-2-8h0m-5 7h0m-12 0h0m-1-7h0m-3 1h0m-6-1h0m-8 1h0m0 4h0m-4-2h0m-4 3h0m-14 2h0m-1-4h0m-7 0h0m-7 3h0m-6-4h0m-7-2h0m-3 6h0m-8 10h0m12-2h0m1-1h0m13-4h0m9 2h0m12 6h0m13-9h0m1 8h0m1-8h0m1 5h0m20-5h0m5 0h0m8 0h0m1 1h0m6 6h0m3-3h0m7-1h0m1 1h0m13-2h0m11 3h0m3-3h0m1 3h0m7-5h0m6 6h0m1-3h0m6 4h0m10-4h0m1 6h0m6-2h0m4 0h0m12-7h0m9 9h0m20-6h0m14 10h0m-8 3h0m-7 3h0m-1-9h0m-2 4h0m-4 1h0m0-3h0m-21-1h0m-10 1h0m-1 4h0m-4-5h0m-4 4h0m-7-2h0m-1 3h0m-5-4h0m-15 5h0m-24-1h0m-12-3h0m0 4h0m-21 0h0m-10-1h0m-5 2h0m-1 0h0m-2 1h0m0-5h0m-21-1h0m-9 5h0m-8-3h0m-6 4h0m-4-3h0m0-5h0m0 7h0m-1-5h0m-1 6h0m-11-5h0m-9-3h0m0 4h0m-17-3h0m-5 12h0m1-4h0m8 4h0m16-4h0m5 2h0m2-1h0m3-1h0m2 6h0m4-1h0m1-1h0m2 0h0m1-4h0m1 3h0m24 5h0m17-8h0m1 3h0m12-2h0m15 7h0m8-3h0m6 2h0m10-4h0m0 4h0m12 0h0m12 2h0m1-4h0m4-1h0m1-2h0m2 4h0m11 1h0m4-5h0m8-1h0m7 2h0m0 4h0m1 0h0m3-1h0m13-1h0m7 3h0m10-2h0m-6 7h0m-19 1h0m-30 0h0m-7 5h0m-1-5h0m-4 0h0m-6-2h0m-13-1h0m-10 3h0m0-4h0m-7 0h0m-1 1h0m-9 7h0m-3-6h0m-11-1h0m-7 5h0m-2-1h0m-4 3h0m-1 0h0m-1-3h0m-10 0h0m0-2h0m-6 3h0m-6 1h0m-41-4h0m-9 5h0m-4-7h0m-2 6h0m-10-4h0m0-1h0m-2 5h0m-2-5h0m10 13h0m76-2h0m36 2h0m1-2h0m5 4h0m22 2h0m12-5h0m5 5h0m13-4h0m11 2h0m27-6h0m-19 13h0m-9-1h0m-5 0h0m-6 3h0m-1-1h0m-1 1h0m-1-1h0m-22-1h0m-4-4h0m-6 2h0m-23 7h0m-3-4h0m-11-3h0m-24 0h0m0 7h0m-9-8h0m-4 7h0m5 3h0m10 1h0m11 0h0m2 6h0m6 1h0m4-2h0m2-4h0m2-1h0m4 2h0m2 4h0m25-6h0m7 6h0m13 1h0m5-3h0m0-5h0m2 1h0m20-1h0m-14 10h0m-2-1h0m-15 7h0m-1-3h0m-4-1h0m-13-2h0m-8 4h0m-1-4h0m-1 7h0m-4-2h0m-3-4h0m-23 0h0m-22 0h0m-5-2h0m-3 5h0m10 9h0m8-2h0m4-2h0" stroke="#66a28a" stroke-width="2.6" stroke-linecap="round" fill="none"/>
<path d="M1538 151h0m-7 1h0m-1 0h0m-18 4h0m-2-3h0m-47 0h0m-1 2h0m-4 1h0m-12-4h0m-6 4h0m-1 3h0m3 4h0m1 6h0m11-3h0m12-5h0m2 7h0m23 1h0m10-4h0m6-1h0m56 12h0m-15-2h0m-30 4h0m-8 0h0m-1-7h0m0 8h0m-11-7h0m-10 1h0m-5 2h0m-14 1h0m-12-5h0m-1 8h0m-25-2h0m-2-5h0m-18 6h0m-10-2h0m-5 7h0m3-1h0m13 3h0m3 2h0m5-2h0m20 1h0m18-5h0m5 7h0m15-1h0m3-1h0m14-3h0m42-2h0m33 4h0m-25 14h0m-14-3h0m-52-4h0m-19-1h0m-8 7h0m-4-4h0m-13 5h0m-2-8h0m-8 2h0m-49 12h0m10-4h0m7 2h0m7 3h0m10-1h0m40-3h0m9-1h0m5 7h0m1 0h0m2 1h0m13-1h0m8 0h0m0-5h0m66 3h0m21 3h0m-19 7h0m-30-2h0m-20 2h0m-2 0h0m-11-5h0m-3 5h0m-13-5h0m-2 3h0m-12 0h0m-16-4h0m-1 2h0m-18 3h0m-26 0h0m-8-2h0m-8 5h0m-2 1h0m-4-5h0m2 13h0m34-2h0m23-4h0m4 3h0m10-1h0m23 5h0m7-5h0m27 6h0m2-6h0m4 3h0m4-3h0m4-3h0m21 8h0m6-3h0m6 1h0m2-5h0m12 1h0m1-1h0m2 2h0m10 11h0m-8-1h0m-7 6h0m-14-3h0m-25-1h0m-5 2h0m-67 2h0m-15-6h0m-14 0h0m-6 1h0m-28 8h0m27 2h0m36 4h0m4-3h0m40 3h0m62-5h0m11 11h0m-3-1h0m-7-3h0m-16 6h0m-4 1h0m-15-1h0m-16 1h0m-1-4h0m-35 5h0m-10-3h0m-38-2h0m-7 5h0m-24 0h0m-10-6h0m-3 1h0m-15-2h0m-9 7h0m0 9h0m3-4h0m47 6h0m7-4h0m13 0h0m5 2h0m51-5h0m22 2h0m30 2h0m6-5h0m11 7h0m2-2h0m11-3h0m-1 7h0m-1 5h0m-11 3h0m-5-1h0m-8 1h0m-7-8h0m-1 6h0m-6 2h0m-47-8h0m-23 6h0m-22 0h0m-14-1h0m-7-1h0m-17 2h0m0-2h0m-4-3h0m-45 7h0m6 5h0m60-2h0m4 1h0m33 5h0m5-7h0m24 3h0m23 5h0m13 0h0m7-6h0m8-1h0m36 6h0m9-5h0m1-2h0m1 8h0m3 9h0m-34-6h0m-9-1h0m-26 8h0m-23-6h0m0 7h0m-6 0h0m-15-5h0m-22 3h0m-5-2h0m-19-3h0m-6 1h0m-21-1h0m-29 15h0m25-2h0m44 4h0m5-6h0m12 1h0m34-4h0m16 6h0m1-4h0m41-1h0m7 3h0m8-2h0m16 4h0m-46 7h0m-13 2h0m-22-2h0m-14 6h0m-10-3h0m-13-2h0m-2-2h0m-28 4h0m-6-3h0m-18-1h0m-17-1h0m-5 1h0m-26 13h0m49 1h0m14-4h0m38 2h0m14 3h0m16-6h0m4 7h0m3-8h0m3 0h0m13 6h0m33-5h0m8 4h0m26 7h0m-17 5h0m-37-2h0m-23 4h0m-15-1h0m-2-8h0m-24 1h0m-12 8h0m-7-5h0m-1-2h0m-13 2h0m-10-4h0m-5 4h0m-19-1h0m-3 0h0m-6 4h0m-1-6h0m-1 6h0m-5-1h0m-22-5h0m-4 8h0m-17-7h0m-6-1h0m-6 6h0m5 5h0m35-2h0m31 4h0m10 0h0m40 0h0m43 3h0m47-2h0m5-2h0m13 5h0m7 1h0m-17 3h0m-14 7h0m-63-4h0m-13-1h0m-3-2h0m-13 1h0m-8 6h0m0-6h0m-6 5h0m-24-1h0m-40-4h0m-23-3h0m75 14h0m17-3h0m23 4h0m2 4h0m10-6h0m29-3h0m18 9h0m4 8h0m0-1h0m-8 1h0m-23-4h0m0 3h0m-29-6h0m-2 6h0m-41 12h0m20-5h0m4 0h0m16 5h0m11-1h0m2-1h0m16 2h0m17-6h0m0 9h0m-38-1h0m-1 6h0m-2-6h0m-41 9h0m0-6h0m-9 3h0" stroke="#4b5587" stroke-width="2.6" stroke-linecap="round" fill="none"/>
<path d="M1550 158h0m-15-7h0m-6 6h0m-120 10h0m6-2h0m98-2h0m39 7h0m-5 5h0m-22-2h0m-20 0h0m-53-1h0m-20 14h0m1-3h0m45-1h0m70 14h0m-48-3h0m-10 5h0m-70-3h0m-1 2h0m-38-5h0m96 8h0m33 8h0m54-5h0m9 8h0m-126 0h0m-53 1h0m50 11h0m66 2h0m3-5h0m7 7h0m45 1h0m16-5h0m-177 10h0m0 2h0m-17 3h0m33 10h0m20-1h0m34 1h0m29-3h0m32-2h0m15 1h0m13 1h0m9 1h0m1-6h0m-17 16h0m-29 3h0m-109-8h0m-19 6h0m-10-2h0m-4-3h0m54 13h0m40-1h0m20 1h0m17 4h0m2-6h0m9 3h0m12-6h0m40 15h0m-19-2h0m-127 4h0m-18 0h0m-31 2h0m-27-5h0m-6 2h0m29 7h0m110-3h0m37 6h0m30-6h0m-3 11h0m-90 3h0m-2-1h0m-51 15h0m1-5h0m21-2h0m4-1h0m78 7h0m3-7h0m16 17h0m-20-4h0m-48 1h0m-25-4h0m-19 13h0m14-2h0m43 4h0m56 1h0m38-2h0m-30 13h0m-30 0h0m-6-3h0m-17 1h0m-27 1h0m-3 0h0m-75-5h0m-57 1h0m17 8h0m25 2h0m26 2h0m15-2h0m9 6h0m66-6h0m86-1h0m-32 10h0m-36 1h0m-51 5h0m-36 6h0m58-3h0m54 2h0m-64 9h0m-40 18h0m32-2h0m26-2h0m16 5h0m-26 0h0m-8 3h0m-1 1h0m0-1h0m-52 4h0m-3 2h0m-12-4h0m23 8h0" stroke="#dd9f83" stroke-width="2.6" stroke-linecap="round" fill="none"/>
<path d="M1444 158h0m-2-1h0m0 1h0m-9 11h0m1-1h0m1 1h0m7-9h0m99 8h0m2 1h0m1-1h0m3-2h0m1 1h0m1 0h0m-42 5h0m-1 3h0m-1-3h0m-61 7h0m0-5h0m-2 4h0m-1 0h0m-31-3h0m-8 4h0m-1 1h0m12 3h0m2 3h0m0-1h0m2-3h0m13 7h0m10-3h0m0-6h0m0 2h0m1 1h0m0-2h0m2 0h0m93 7h0m1 0h0m-1 2h0m-1 0h0m-1 1h0m-3 1h0m-1 1h0m-1 0h0m-1 3h0m0-2h0m-1-1h0m-3 1h0m-1-1h0m-17 3h0m-3 3h0m-1-1h0m-10-2h0m0-1h0m-1-2h0m-1-1h0m-1-2h0m-57 5h0m-1-4h0m-25 5h0m-2-1h0m-1 2h0m34 8h0m2-3h0m4 3h0m2 0h0m35-1h0m4 3h0m1 2h0m1-2h0m58-3h0m1 2h0m1-1h0m1 3h0m-72 11h0m-1-2h0m-29 2h0m-6-7h0m-1-1h0m-1 2h0m-21 2h0m0-1h0m0 2h0m-2-1h0m-4-1h0m0 3h0m-1-2h0m-13 14h0m1 0h0m10-3h0m0-1h0m1 0h0m3-1h0m4 2h0m14-6h0m1 3h0m15-2h0m32 0h0m0 1h0m73 10h0m-1 3h0m0-1h0m-1 3h0m-107 2h0m-1 0h0m-2 0h0m-1 0h0m-1-2h0m-38 0h0m-2-2h0m0-2h0m25 14h0m1 1h0m1 1h0m2 0h0m19-7h0m11 11h0m-3 2h0m-4-3h0m-4 0h0m-12 6h0m-3-1h0m-1 2h0m0-3h0m-1 0h0m-7-1h0m-2 3h0m-16-5h0m-1-1h0m-2 2h0m-1 2h0m-22 3h0m-1-2h0m-20 11h0m1 1h0m2-1h0m50-3h0m3 0h0m0-2h0m7 1h0m1-4h0m13 1h0m2 4h0m1-4h0m1 0h0m2 0h0m2 1h0m47-2h0m0 2h0m1 5h0m1-7h0m0 7h0m0-6h0m20 14h0m0-1h0m-1 1h0m-3-2h0m-2-3h0m-2 5h0m-3-1h0m-1 1h0m-28-4h0m-1 2h0m-2 0h0m-79 1h0m-1 0h0m-1 0h0m0 1h0m-29-5h0m104 19h0m1-2h0m1-1h0m3-1h0m37 0h0m3-1h0m31 2h0m3 0h0m16 2h0m3-2h0m17 3h0m3 0h0m0-1h0m3 1h0m1 1h0m-2 4h0m0 1h0m-3-5h0m-2 6h0m-2 1h0m-4 1h0m-12-8h0m-1 3h0m-16 6h0m-39 4h0m0-1h0m37 1h0m1 5h0m0-5h0m0-1h0m2 0h0m28-1h0m1 1h0m-84 17h0m-23-7h0m-1 0h0m-40 7h0m-32-3h0m-1 1h0m-36 12h0m2 0h0m0-1h0m1 0h0m14-3h0m1 1h0m0-1h0m1-1h0m2-1h0m1 6h0m1 0h0m2-3h0m0-2h0m1 1h0m42-2h0m6 2h0m33-2h0m1 1h0m0-1h0m1-3h0m18 8h0m0-2h0m1-6h0m0 4h0m1-3h0m0 4h0m4 1h0m1-1h0m0 3h0m1 0h0m20-1h0m1 1h0m4 1h0m1 0h0m1-1h0m55-5h0m1 2h0m1 2h0m0 2h0m2 0h0m5 0h0m0-2h0m2 3h0m-3 0h0m-1 0h0m0 3h0m0-1h0m-1-1h0m-62-1h0m-1 2h0m-7-2h0m-17 1h0m-8 0h0m-15 6h0m-1-2h0m-114-5h0m-19 4h0m0-1h0m-8 12h0m0-1h0m3 1h0m29 4h0m1 0h0m1 0h0m42 0h0m1-1h0m2-1h0m50 0h0m0-2h0m1-1h0m0-1h0m0 4h0m1-1h0m0 1h0m2-3h0m2 2h0m2-1h0m2-2h0m25 4h0m1 0h0m2 0h0m1-2h0m3-3h0m22-1h0m1 4h0m1-3h0m0 4h0m0-1h0m24 0h0m1 0h0m3 1h0m0-1h0m1 1h0m5-2h0m-11 14h0m-2-2h0m0 2h0m-1 0h0m-2-3h0m-1 1h0m-48 2h0m-2 0h0m-25-1h0m-5-4h0m-2-1h0m-1 3h0m-36 4h0m-4 0h0m-12-9h0m-48 0h0m59 10h0m2 3h0m3-2h0m109 10h0m-2 1h0m0 2h0m-26 6h0m0 4h0m1 0h0" stroke="#fff" stroke-opacity="0.85" stroke-width="2.6" stroke-linecap="round" fill="none"/>
<path d="M1320.0,306.9L1339.7,297.1L1359.3,267.6L1379.0,248.0L1398.6,240.1L1402.6,267.6L1398.6,306.9L1394.7,346.3L1359.3,356.1L1335.7,365.9L1320.0,362.0Z" fill="#856274" fill-opacity="0.95"/>
<path d="M1386 247h0m9 0h0m2-4h0m1 4h0m0 2h0m0-1h0m2 9h0m-3-2h0m-1 4h0m0-1h0m-15-3h0m-4-1h0m-9 5h0m-6 10h0m2-5h0m1 3h0m0-3h0m3 3h0m0-3h0m4 3h0m2-4h0m4 2h0m0-4h0m3-1h0m2 2h0m7 1h0m6-1h0m2 15h0m-4-2h0m-4 4h0m-9-9h0m-2 5h0m-1 1h0m-3-5h0m-4 0h0m-1 2h0m-2-2h0m-13 4h0m-5 1h0m-5 13h0m3-3h0m16-6h0m7 4h0m7 1h0m2-3h0m2 6h0m0-4h0m22 5h0m-5 1h0m-2 6h0m-1-1h0m-7 4h0m-1-4h0m-2 1h0m-1-4h0m-2-1h0m-3 3h0m0-1h0m-3 4h0m-5-5h0m-1 4h0m-5-6h0m-7 2h0m0 5h0m-5-5h0m-7-2h0m-27 16h0m3 0h0m3-5h0m14 1h0m0 5h0m1-7h0m4 5h0m0 4h0m0-3h0m2-2h0m0 2h0m2 0h0m5-3h0m2-2h0m17 8h0m7-9h0m1 7h0m0-7h0m2 5h0m15-5h0m-1 17h0m-4-2h0m-7 0h0m-3 2h0m-2-4h0m0 2h0m-1 3h0m-2-3h0m-3-1h0m-4 4h0m-2-6h0m-13 7h0m-3-2h0m-1-5h0m-3 1h0m-6 1h0m0-1h0m-9-2h0m-1 8h0m0-1h0m0-5h0m-2 2h0m-9-2h0m-2 2h0m-4 4h0m6 6h0m1 2h0m9-7h0m3 9h0m16-1h0m5-6h0m7 4h0m2-3h0m1 5h0m4 1h0m2-8h0m15 6h0m4 8h0m-10-3h0m-9 6h0m-2-4h0m-1-1h0m0 4h0m-6-6h0m-7 6h0m-18-5h0m-3 3h0m0-4h0m-2 3h0m-4 4h0m-5-6h0m-2 1h0m3 13h0m6 1h0m0-5h0m1 5h0m10-6h0m4-1h0m5 2h0m0 2h0m3 1h0m1-4h0m3 5h0m1-1h0m0-3h0m2 5h0m0 2h0m5-5h0m7 3h0m1-4h0m0 2h0m3-1h0m4 5h0m3-6h0m7 3h0m2-5h0m-23 11h0m-2 1h0m-10 4h0m-3 1h0m-16 1h0m-2-2h0m-4-3h0m-1-3h0m-5 5h0m-3-2h0m-2 2h0m-1-5h0m2 11h0m14-1h0m0 2h0m9-2h0m3-1h0" stroke="#4b5587" stroke-width="2.6" stroke-linecap="round" fill="none"/>
<path d="M1388 242h0m12 5h0m-2 11h0m-11-4h0m-9 4h0m0-8h0m-21 18h0m8-6h0m10-2h0m7 5h0m9-1h0m5 0h0m5-2h0m-6 15h0m-15 1h0m-6-5h0m0 2h0m-9-1h0m-2 4h0m-3-3h0m-2-5h0m-9 14h0m2 4h0m7 1h0m1-9h0m3 5h0m9 3h0m4 1h0m18-3h0m1 1h0m3-3h0m3 3h0m0-7h0m0 16h0m-2-4h0m-1 5h0m-10-7h0m-5 5h0m-5 4h0m-8-3h0m-1-2h0m-2-4h0m-3 1h0m-8 5h0m-27 7h0m4 4h0m2-5h0m0 5h0m6-6h0m4 1h0m12 3h0m0-5h0m33 2h0m3-2h0m4 1h0m-34 12h0m-10 3h0m-13-3h0m-3-1h0m-3 0h0m-12 15h0m9 0h0m11-2h0m7 2h0m1 0h0m5-2h0m25 1h0m9 2h0m7-1h0m2-4h0m2 5h0m-9 7h0m-28 3h0m-16-6h0m-3 7h0m-1-3h0m-1 0h0m-3-6h0m-12 5h0m-1 2h0m-2-3h0m-1 4h0m-1-7h0m0 10h0m2 2h0m11-3h0m2 7h0m4-4h0m22-2h0m4 2h0m2-1h0m5 6h0m3-3h0m10-4h0m7 4h0m2-3h0m-20 10h0m-24-1h0m-1 8h0m-5-1h0m-6-1h0m-15-4h0m-2 8h0m4 5h0m1-2h0m4 1h0m0-1h0m5-2h0m4-2h0" stroke="#b33428" stroke-width="2.6" stroke-linecap="round" fill="none"/>
<path d="M1387 255h0m-14 2h0m6 12h0m3-1h0m1 0h0m-2 4h0m-6 8h0m21 15h0m-74 9h0m26 5h0m33 5h0m-10 4h0m-28 3h0m14-1h0m32 6h0m5 4h0m-5 8h0m-19-7h0m-14 4h0m-11-5h0m-25 3h0m9 15h0m8 1h0m2-6h0m3-2h0m14 16h0m-1 0h0m0-2h0m-31 9h0m10-2h0" stroke="#dd9f83" stroke-width="2.6" stroke-linecap="round" fill="none"/>
<path d="M1384 254h0m-7 10h0m15-4h0m4 7h0m-12 4h0m-18 7h0m34 12h0m-1 8h0m-16-6h0m-55 11h0m5 3h0m24-2h0m15 16h0m3 5h0m20 3h0m-45 32h0" stroke="#66a28a" stroke-width="2.6" stroke-linecap="round" fill="none"/>
<path d="M1387 246h0m4-3h0m1 0h0m6-2h0m1 7h0m2 10h0m-4 1h0m-1-7h0m-3 4h0m-6-4h0m-8-1h0m-10 3h0m0 4h0m-5 2h0m5 2h0m11 4h0m7-3h0m0 4h0m1-1h0m1-1h0m5-3h0m6 4h0m4 8h0m-7 3h0m-4-3h0m-1 3h0m-3-5h0m-10 0h0m-2 2h0m0 4h0m-17-4h0m-4 5h0m-3-1h0m12 5h0m1 2h0m1-3h0m3 2h0m3 4h0m12-6h0m0 2h0m2-1h0m8 5h0m3-5h0m1 2h0m3 2h0m-2 11h0m-16-3h0m-2 4h0m-8-8h0m-4 1h0m-1 7h0m-5-6h0m-4 5h0m-3-1h0m-5-1h0m0-1h0m-8 2h0m-3 0h0m-4 2h0m-5 0h0m-2 3h0m1-2h0m5 2h0m2 6h0m5-4h0m14 0h0m0-3h0m4 8h0m2-1h0m0-1h0m7-7h0m1 0h0m2 3h0m4 2h0m2-2h0m6-2h0m3-1h0m4 3h0m3 0h0m4-3h0m-14 18h0m-1-7h0m0 2h0m-1 6h0m-1-4h0m-10-4h0m0 3h0m-10-2h0m-4 7h0m-1-1h0m-2-5h0m-1-3h0m-2 0h0m-2 5h0m-2 1h0m-5-1h0m-1-5h0m-4 4h0m-6 5h0m-2-1h0m-6-2h0m-4 1h0m-1 11h0m3-3h0m7 4h0m5-3h0m0-5h0m5 6h0m3-4h0m0 2h0m0 2h0m1-4h0m8 6h0m13-3h0m6-6h0m2 1h0m6 8h0m0-2h0m3-2h0m2-4h0m11-1h0m4 4h0m-6 15h0m-7-8h0m-3 5h0m-1 2h0m-5-2h0m-1-5h0m-3-1h0m-1 5h0m-3-3h0m-7-1h0m-1 8h0m-3-6h0m-1 2h0m0 2h0m-1 0h0m-2 0h0m-11 2h0m-6-9h0m-1 5h0m-3 2h0m-3 1h0m-4 0h0m-2-4h0m-1 4h0m-1-5h0m-1 7h0m15 5h0m5-4h0m1 5h0m2 0h0m4-6h0m3 5h0m11 2h0m1 2h0m4-2h0m0 2h0m10-4h0m2 1h0m1-4h0m8 7h0m4-6h0m2-1h0m3 0h0m-21 9h0m-1 1h0m-17 3h0m-3-3h0m-3 1h0m-2 4h0m-3 2h0m-3-4h0m-12 1h0m-11-6h0m6 13h0" stroke="#4b5587" stroke-width="2.6" stroke-linecap="round" fill="none"/>
<path d="M1390 243h0m0 4h0m3-3h0m6 1h0m1 3h0m-4 7h0m-11 2h0m-1 0h0m-9-3h0m-2-3h0m6 12h0m7 3h0m1 2h0m4 1h0m2-5h0m6 2h0m1-6h0m1 3h0m1 7h0m-3 9h0m-8-6h0m-5 5h0m-1-6h0m-2 6h0m-5-4h0m-22 4h0m2 3h0m1 8h0m6-5h0m4-3h0m6 6h0m2-5h0m15-1h0m2 1h0m-10 13h0m-5-1h0m-6-4h0m-2 9h0m-1-3h0m-6-4h0m-3 7h0m-4 0h0m-1-1h0m0-6h0m-11 7h0m-22 8h0m7 0h0m19 2h0m5-8h0m2 6h0m6-4h0m14 0h0m0 6h0m4-5h0m3-1h0m2-2h0m2 7h0m7-1h0m-10 11h0m-15-1h0m-7-6h0m-16 3h0m-16 1h0m-10-4h0m2 13h0m24-3h0m5 3h0m10 2h0m2-5h0m0 8h0m1 0h0m1-1h0m17-5h0m14 2h0m1-5h0m-17 19h0m-5-2h0m-3-7h0m-7 6h0m-10-3h0m-2 0h0m-27-3h0m0 9h0m-1 0h0m0-7h0m-9 13h0m11-5h0m2 1h0m18 1h0m2 6h0m1-3h0m5 0h0m9 2h0m2 1h0m22-1h0m5-1h0m-12 8h0m-13 1h0m-4-2h0m-8 5h0m-1-3h0m-4-3h0m-2-1h0m-17 8h0m-7-7h0m-4-1h0m-4 4h0m25 9h0" stroke="#b33428" stroke-width="2.6" stroke-linecap="round" fill="none"/>
<path d="M1400 247h0m-3 3h0m-11 8h0m-1-2h0m-3 2h0m-8-3h0m-8 14h0m10 13h0m26-1h0m-34 18h0m-17-9h0m-12 9h0m-3 0h0m-3 9h0m2-5h0m9 2h0m4 2h0m29 7h0m-6 1h0m-7 1h0m-17 0h0m4 7h0m33 10h0m-31-1h0m-1 2h0m0 11h0m31 3h0m-24 2h0m-28 0h0m-3 13h0" stroke="#dd9f83" stroke-width="2.6" stroke-linecap="round" fill="none"/>
<path d="M1393 253h0m-18-1h0m5 16h0m-24 8h0m15 5h0m-36 16h0m18 11h0m4-5h0m-3 10h0m17 14h0m15 0h0m1-1h0m-47 9h0m12 7h0m24-2h0" stroke="#66a28a" stroke-width="2.6" stroke-linecap="round" fill="none"/>
<path d="M1384 247h0m2 1h0m1-2h0m5-2h0m2-2h0m5 4h0m5 9h0m-3 3h0m-2-3h0m-9 4h0m0-3h0m-7-6h0m-1 7h0m-6 2h0m0-1h0m-14 5h0m0 6h0m5-9h0m2 1h0m2 2h0m9 0h0m3 1h0m3 5h0m4-9h0m5 5h0m5 1h0m1-2h0m2 10h0m-7 0h0m-1 4h0m-8 0h0m-1 0h0m-6-5h0m-2 1h0m0 4h0m-4-2h0m-10 0h0m-2 2h0m-8 1h0m0-3h0m-3-2h0m-10 14h0m12-8h0m6 3h0m3 5h0m5-1h0m2-3h0m6-1h0m3-2h0m0 1h0m8 2h0m4 2h0m11-4h0m0 2h0m-1 12h0m-1-2h0m-3-1h0m-7 5h0m-4-1h0m-8-6h0m-8 1h0m0 4h0m-7-6h0m-2 6h0m-8 3h0m0-7h0m-15 7h0m-21 10h0m14-2h0m1 2h0m5-9h0m1 6h0m5 0h0m10-5h0m1 7h0m9-4h0m6-4h0m2 7h0m2-6h0m4 5h0m5 1h0m9 2h0m3-2h0m2 12h0m-4-7h0m-1 1h0m-7 5h0m-4-4h0m-9-4h0m-2 4h0m-1-4h0m-5 7h0m-10 0h0m0-4h0m-5 6h0m-1-1h0m-5-1h0m-5 2h0m-4-7h0m-10 6h0m2 5h0m7 2h0m3-4h0m1 2h0m1 3h0m0-3h0m1 4h0m11-2h0m3 0h0m0 1h0m2-5h0m2 4h0m1-5h0m6 2h0m9 0h0m17 3h0m3-1h0m6 1h0m1 5h0m-6 2h0m-1 2h0m-10-3h0m-6 0h0m-2 3h0m-3-1h0m-3-1h0m0 2h0m-3 1h0m-1-4h0m-4 0h0m0-1h0m0 9h0m-1-3h0m-1-2h0m-3 5h0m-3-7h0m-2 3h0m-6-5h0m-2 2h0m-12 6h0m-6-8h0m-2 19h0m5-4h0m6 3h0m3-4h0m2 5h0m1-1h0m4 0h0m8-7h0m3 4h0m7 3h0m1 1h0m3-4h0m3-5h0m14 7h0m3-1h0m1 1h0m4-5h0m-16 10h0m-11 5h0m-11-6h0m-3 4h0m-3 3h0m-2-3h0m-2-5h0m-1 6h0m-7-2h0m-15 2h0m-1-2h0m7 6h0m2 3h0m6-3h0m4 2h0m4 1h0m2 3h0m0-5h0m1-1h0m4 1h0" stroke="#4b5587" stroke-width="2.6" stroke-linecap="round" fill="none"/>
<path d="M1385 247h0m5-2h0m2-3h0m6 16h0m-4-2h0m-9-1h0m-3 2h0m-10 1h0m-12 10h0m5 0h0m5-3h0m0-1h0m11-3h0m5 0h0m8-1h0m6 18h0m-30-1h0m-16-1h0m7 5h0m6 7h0m5-6h0m7-2h0m11 9h0m10-6h0m0 15h0m-12 0h0m-5 1h0m-5-4h0m-2 1h0m-5-5h0m0-1h0m-6 1h0m-3-1h0m-8 3h0m-1 0h0m-12 8h0m7 1h0m23 5h0m18-2h0m4-5h0m4 1h0m0 10h0m-10 8h0m-6-5h0m-8 1h0m-6 1h0m-3-2h0m-3 1h0m-16-1h0m-2 1h0m-1-3h0m0 6h0m-26-4h0m0 14h0m6 1h0m7-3h0m2-3h0m0 4h0m4 0h0m5-5h0m4-2h0m9 1h0m8 8h0m8-6h0m15-3h0m3 2h0m2-1h0m1 5h0m0-1h0m7-1h0m1 15h0m-3-2h0m-1-2h0m-6 0h0m-12-1h0m-2 2h0m-1 2h0m-5-8h0m-7 7h0m-10-4h0m-18 5h0m-9 0h0m12 7h0m1-1h0m8 4h0m6-1h0m11-3h0m2-2h0m2 2h0m9 5h0m5-6h0m5-3h0m8 3h0m1 1h0m1-2h0m-18 10h0m-26 2h0m-2-2h0m-3-2h0m-2 6h0m-1-4h0m-9 7h0m-5-6h0m0 4h0m0-5h0m-10 7h0m19 9h0" stroke="#b33428" stroke-width="2.6" stroke-linecap="round" fill="none"/>
<path d="M1394 242h0m9 0h0m-25 18h0m-3 16h0m-27 17h0m-5 1h0m-7 7h0m30 2h0m-45 12h0m4 12h0m31 2h0m4-3h0m34 8h0m-16 3h0m-15-4h0m-42 0h0m10 13h0m13 3h0m10-5h0m16-1h0m-3 7h0m-3 4h0m-1 0h0m-3 5h0m-5-7h0m-27 3h0m-9 6h0m10 1h0m14-1h0" stroke="#dd9f83" stroke-width="2.6" stroke-linecap="round" fill="none"/>
<path d="M1399 249h0m-15 18h0m20-1h0m-11 12h0m-48 35h0m18 7h0m7 6h0m20-1h0m3 11h0m-37 2h0m-19-7h0m-4 14h0m9 0h0m16 11h0m-37 5h0" stroke="#66a28a" stroke-width="2.6" stroke-linecap="round" fill="none"/>
<path d="M1361 265h0m1 1h0m2 2h0m15-2h0m2 0h0m1-2h0m0 1h0m1 0h0m11 14h0m-1-1h0m-1 0h0m-3 0h0m-24-8h0m-1 4h0m0 1h0m-1-3h0m-1 1h0m-2 5h0m-1 0h0m-1-1h0m-2 1h0m8 7h0m0 2h0m1-2h0m1-1h0m0 1h0m13 10h0m-1-1h0m-1 2h0m0-2h0m-1-2h0m-37 4h0m0 2h0m0-1h0m-1 2h0m-2-4h0m-6 14h0m9-6h0m-9 9h0m-2 0h0m0 3h0m3 14h0m0-5h0m1 0h0m59 11h0m0-3h0m-2 3h0m-61 23h0m-2 0h0m-2 1h0" stroke="#fff" stroke-opacity="0.85" stroke-width="2.6" stroke-linecap="round" fill="none"/>
<path d="M1500.9,159.5L1524.5,148.7L1546.1,155.6L1565.7,169.3L1575.6,189.0L1579.5,218.5L1581.5,248.0L1583.4,277.4L1583.4,306.9L1581.5,326.6L1575.6,338.4L1565.7,348.2L1552.0,356.1L1540.2,365.9L1528.4,371.8L1524.5,350.2L1520.5,316.8L1514.6,287.3L1510.7,257.8L1506.8,228.3L1502.8,198.8L1500.9,179.1Z" fill="#b33428" fill-opacity="0.97"/>
<path d="M1527 147h0m20 9h0m-1-4h0m-2 1h0m-1 1h0m-3 0h0m-3-2h0m-1 1h0m0-3h0m-1 2h0m-13-2h0m-2 0h0m0 1h0m-3 2h0m-2 1h0m-1-2h0m-1-1h0m-5 4h0m-3-1h0m-6 14h0m2-2h0m0 1h0m1 0h0m52-7h0m2 2h0m3 4h0m0-3h0m1-1h0m2 4h0m2-1h0m0 2h0m6 8h0m-1 2h0m-2-5h0m0-1h0m-66 6h0m-1-6h0m0 8h0m-3-1h0m0 7h0m2 3h0m2-6h0m0 2h0m0-3h0m0-1h0m74 3h0m5 15h0m-2 0h0m-1-2h0m-2-6h0m-73 8h0m-2-4h0m0 12h0m4-1h0m73 1h0m2-2h0m2 4h0m1 1h0m-1 3h0m-3 2h0m-72-3h0m-2 11h0m1 1h0m2 6h0m72-5h0m1-3h0m1 8h0m0-5h0m2 4h0m0 11h0m-1-4h0m-74 0h0m0-5h0m-4 4h0m3 6h0m1 2h0m1 6h0m1-5h0m70 0h0m1 3h0m2 2h0m0-6h0m0 4h0m2 8h0m-1 1h0m-1-2h0m-2 6h0m-70-4h0m-1 3h0m0-1h0m0 2h0m-1-9h0m-2 0h0m3 12h0m2 6h0m70-4h0m0-3h0m1 7h0m2 2h0m-2 7h0m-70 2h0m0-3h0m0 2h0m-1-6h0m0 2h0m0-1h0m-1 1h0m0 6h0m2 8h0m1-3h0m70 0h0m1-4h0m1 6h0m1 2h0m-2 9h0m-1-8h0m-1 6h0m0-1h0m0-1h0m-67 1h0m-1-3h0m1 9h0m1 4h0m67 4h0m3-7h0m-1 10h0m-65 4h0m-2-6h0m0 6h0m-1 10h0m1 2h0m1-3h0m0-3h0m1 2h0m1 1h0m60-1h0m0-1h0m-2 9h0m-1 6h0m0-5h0m-1 6h0m-1-3h0m-53-2h0m-2-4h0m-3 2h0m6 10h0m38 7h0m3 0h0m3-6h0m1 3h0m0 2h0m2-4h0m-3 6h0m-3 0h0m-2 2h0m-6 1h0m0-1h0m-6 7h0m-27-1h0m0 1h0m-1-8h0m2 9h0m1 2h0m1 6h0m0-3h0m7 4h0m5 0h0m1-1h0m4-5h0m1-1h0m2-2h0m0 1h0m-13 11h0m-3 1h0m0-1h0" stroke="#b33428" stroke-width="2.6" stroke-linecap="round" fill="none"/>
<path d="M1540 157h0m-1 0h0m-2 2h0m-1 0h0m-14 2h0m1 0h0m5 1h0m-16 9h0m-2 1h0m-2 0h0m-2 1h0m68 23h0m-1-2h0m-1-2h0m-58 41h0m-3 2h0m0 2h0m0 2h0m56 5h0m4 4h0m0-1h0m3 4h0m-12 1h0m-2 2h0m-7-2h0m-1-1h0m-2 1h0m-5 1h0m-12 6h0m-4-5h0m6 7h0m0 4h0m1 0h0m1 0h0m1-2h0m17 16h0m-28-4h0m-1 0h0m-3-1h0m-1-1h0m15 16h0m8 0h0m9-9h0m0 1h0m9 16h0m-17-6h0m-1 1h0m-1-1h0m-1 0h0m0 1h0m-1-1h0m-2-1h0m-3 0h0m25 11h0m1 2h0m0-1h0m0 4h0m10-5h0m2 0h0m-24 21h0m1-1h0m0 4h0m1 2h0m-28 4h0m0 1h0m0 2h0m8 13h0m0 1h0m2 0h0m1-1h0m2 1h0m7-5h0m1-1h0m0 2h0m0 1h0m1-3h0m1 4h0m-10 13h0m-1 0h0m-1-1h0m-1 1h0m0 5h0m5-2h0" stroke="#fff" stroke-opacity="0.85" stroke-width="2.6" stroke-linecap="round" fill="none"/>
<path d="M1469 157h0m0 2h0m-1-2h0m0 2h0m-1 0h0m-1-1h0m-1 1h0m-3-2h0m-1 2h0m-1-1h0m-2 0h0m-2 0h0m-1-2h0m-2 3h0m-1-1h0m-1 1h0m-2 0h0m-4 7h0m2 1h0m0-3h0m0-1h0m1 6h0m0-8h0m0 2h0m0 2h0m0 2h0m1-7h0m0 4h0m0-3h0m1 7h0m0-5h0m1 2h0m1 1h0m0 2h0m0-3h0m0 2h0m0 2h0m1-6h0m0-3h0m0 4h0m1-3h0m0 2h0m0 2h0m0-5h0m0 4h0m1-2h0m0 7h0m0-5h0m0 1h0m1 3h0m0-7h0m0 2h0m0 2h0m0-1h0m1 3h0m0 1h0m0-7h0m1 2h0m0 4h0m0-5h0m1 4h0m0-1h0m1-2h0m0 3h0m1 1h0m0-5h0m0 2h0m0 4h0m1-2h0m0-3h0m0 2h0m0 4h0m1-8h0m0 8h0m1-4h0m0-1h0m0 2h0m0 2h0m1-4h0m0-3h0m0 2h0m0 4h0m0-5h0m1 7h0m1-5h0m0 4h0m0-3h0m0 2h0m0-7h0m1 7h0m0-7h0m0 4h0m1 2h0m0-5h0m0-1h0m0 9h0m1-7h0m0 1h0m1 3h0m1 2h0m0 3h0m0-1h0m-1 2h0m0-1h0m-1 2h0m-1-3h0m0 4h0m-1 1h0m0 2h0m-1-2h0m0-3h0m0 2h0m-1-4h0m0 2h0m0-1h0m-1 5h0m0-3h0m0-3h0m0 2h0m0 2h0m-1-2h0m0-1h0m0 2h0m-1 0h0m0 2h0m0-5h0m0 2h0m-1 3h0m0 2h0m0-7h0m0 9h0m-1-9h0m0 4h0m-1 3h0m0-5h0m0 4h0m0-1h0m-1-4h0m0 8h0m0-5h0m-1 0h0m0-1h0m-1 3h0m0 3h0m-1-6h0m-2 4h0m0 2h0m0-5h0m-1-2h0m0 1h0m0-3h0m-1 7h0m0-7h0m0 2h0m0 2h0m0 2h0m-1-2h0m0 4h0m0 1h0m0-7h0m-1 2h0m0 2h0m0-5h0m-1 8h0m0-1h0m0-3h0m-1 0h0m-2-4h0m0 1h0m-2-1h0m5 10h0m0 2h0m0 2h0m0 2h0m1-5h0m0 4h0m0 2h0m0-3h0m1 3h0m3-7h0m0 2h0m0 2h0m0-3h0m0 2h0m1-2h0m0 2h0m1 2h0m0-5h0m1 0h0m0 2h0m0 1h0m0 2h0m1-2h0m0-3h0m0 2h0m0 2h0m0-3h0m2 2h0m0-3h0m0 4h0m1 0h0m1 0h0m1-3h0m1-1h0m0 1h0m1-2h0" stroke="#b33428" stroke-width="2.6" stroke-linecap="round" fill="none"/>
<path d="M1375.0,194.9L1388.8,179.1L1408.5,169.3L1428.1,155.6L1447.8,155.6L1441.9,179.1L1428.1,198.8L1408.5,218.5L1394.7,228.3L1379.0,218.5Z" fill="#7da08c"/>
<path d="M1449 159h0m-5-1h0m-1-1h0m-4 1h0m-10-4h0m-1 3h0m-20 12h0m16-5h0m0-1h0m2 5h0m5-3h0m8-2h0m2-2h0m1 12h0m-2 6h0m-3 0h0m-1 0h0m-3-1h0m-1-8h0m-1 5h0m-1 3h0m-1-6h0m-4 0h0m-4 1h0m-3 6h0m-3-6h0m-1-1h0m-2 6h0m-3-4h0m0-1h0m0 2h0m-1-5h0m-2 5h0m-1 0h0m-2-1h0m-1 3h0m-2-3h0m0 2h0m-5 3h0m-13 10h0m4-6h0m6 4h0m8 1h0m3 0h0m1 1h0m8-2h0m2-5h0m1-1h0m0 8h0m2-4h0m0 1h0m4 3h0m6-9h0m1 3h0m1 4h0m3 1h0m0-7h0m4 6h0m1-3h0m3-4h0m-7 16h0m-3-5h0m-2 3h0m-1-2h0m-3 6h0m-3-3h0m-3-5h0m-4 7h0m-1 1h0m-1 0h0m-3-7h0m-1 7h0m-2-6h0m0 2h0m-1-4h0m-2 3h0m-1-3h0m-5 5h0m-2-1h0m-1 1h0m-2-5h0m-1 0h0m0 6h0m-1 1h0m-7 0h0m-2-2h0m-4-5h0m-1 7h0m3 10h0m2-5h0m1 2h0m2 1h0m4 4h0m1-5h0m2 1h0m5 3h0m5-3h0m3 3h0m3-5h0m2 2h0m1-5h0m3 2h0m2-2h0m1 3h0m3 2h0m0 2h0m5-2h0m1-2h0m-7 10h0m-4-2h0m-3 2h0m-4 0h0m-3-1h0m0 4h0m-3-1h0m-1 0h0m-1-3h0m-1 4h0m-9-3h0m-1 0h0m-8 5h0m0-8h0m-4 2h0m6 8h0m5 0h0m0 3h0m5 1h0m6 4h0m2-7h0m1 7h0" stroke="#66a28a" stroke-width="2.6" stroke-linecap="round" fill="none"/>
<path d="M1439 156h0m-24 6h0m3 5h0m21 0h0m4 0h0m-8 4h0m-40 4h0m-7 6h0m1 2h0m18 3h0m3-2h0m22 1h0m9-5h0m-59 19h0m8 2h0m24 7h0m12-7h0m-26 23h0m9-3h0" stroke="#b33428" stroke-width="2.6" stroke-linecap="round" fill="none"/>
<path d="M1432 156h0m-22 13h0m7-3h0m1-2h0m3 1h0m3 4h0m6-5h0m0 1h0m3 3h0m0-3h0m2 1h0m4-4h0m1 0h0m7 6h0m-4 5h0m-2 5h0m-3-2h0m-2 0h0m-3-2h0m-7-1h0m-4 2h0m-2-1h0m-4-3h0m0 8h0m0-3h0m-2 1h0m-3-2h0m-1 4h0m-3 0h0m-2-7h0m-1 0h0m-1 1h0m0 1h0m-4-1h0m-15 13h0m2-3h0m1-3h0m0 2h0m2 3h0m7 1h0m0-5h0m2-1h0m3 3h0m0 4h0m5-7h0m11 3h0m0 4h0m3 2h0m1-5h0m2 4h0m3-5h0m1 1h0m8 3h0m3 1h0m2-7h0m-5 12h0m-2-3h0m-9 8h0m-1-4h0m-2 4h0m-2-5h0m-6 3h0m-3 0h0m-1 2h0m-1-8h0m-1 3h0m-2 5h0m-1-3h0m-3 3h0m-10 0h0m-1 0h0m0-6h0m-2 1h0m0 1h0m-1 4h0m-1-1h0m-5-2h0m0 4h0m-1-5h0m-4-1h0m-3 3h0m-1 6h0m3 0h0m7 1h0m3 3h0m2-6h0m0 4h0m1 0h0m2 3h0m0 2h0m4-4h0m2 3h0m1-6h0m2 2h0m3 3h0m5 0h0m1-4h0m13 2h0m-4 5h0m-2 1h0m-5 0h0m-1 4h0m-1-4h0m-2 6h0m-2 1h0m-1-1h0m-2-5h0m-1-2h0m-1 6h0m-3-5h0m-2 5h0m-4-3h0m0-1h0m-4 4h0m-1-4h0m-1 0h0m-2 5h0m-1-6h0m-1 4h0m-1 7h0m4-2h0m1 2h0m4 2h0m9 2h0m2-3h0m0 1h0m2-1h0m3 1h0m2-2h0" stroke="#66a28a" stroke-width="2.6" stroke-linecap="round" fill="none"/>
<path d="M1433 157h0m0 5h0m2 15h0m-10 2h0m-19 0h0m-27 10h0m20-5h0m38 5h0m-23 7h0m-8 2h0m-7-2h0m-11 2h0m-6 1h0m16 8h0m-11 11h0m-12-7h0m26 11h0m-5 8h0" stroke="#b33428" stroke-width="2.6" stroke-linecap="round" fill="none"/>
<path d="M1447 158h0m0-3h0m-6 1h0m-1 0h0m-5-1h0m-4 0h0m-5 3h0m-16 11h0m2-1h0m4-8h0m0 2h0m0 3h0m1 0h0m5 4h0m4-5h0m0 4h0m3-4h0m3 5h0m2 0h0m1-2h0m2-7h0m1 2h0m0 4h0m5 2h0m7-7h0m-7 17h0m-1-6h0m-1 7h0m-1-2h0m0-5h0m-9 1h0m0 3h0m-8-2h0m0 3h0m-1-1h0m0 2h0m-4-7h0m-1 1h0m-2 6h0m0-1h0m-7-1h0m0 1h0m-3-3h0m-1 5h0m-4 0h0m-6-1h0m-1 1h0m-3-2h0m-9 11h0m3-8h0m2 0h0m1 9h0m2-8h0m0 3h0m3 5h0m5-8h0m3 3h0m1 5h0m10-3h0m1-5h0m1 0h0m1 8h0m12-3h0m7-1h0m0-1h0m1 3h0m0-7h0m1 8h0m3-2h0m-5 7h0m-2 0h0m-2 0h0m-6-3h0m-1 2h0m-2 6h0m-11 0h0m-4-3h0m-2 2h0m-1 1h0m-1-5h0m0-1h0m0 2h0m-3-1h0m-2 6h0m-4-7h0m-4 6h0m-2 1h0m-5 0h0m0-8h0m-1 4h0m-6 14h0m2-7h0m1 5h0m1-5h0m3 2h0m5 0h0m8 1h0m1-2h0m3 6h0m3-7h0m2-2h0m0 9h0m1-4h0m2 3h0m5-4h0m5 2h0m5-6h0m-5 16h0m-9-6h0m-3 7h0m0-7h0m-9 0h0m-1 9h0m-3-7h0m-1 4h0m-1-2h0m-2-1h0m0 5h0m0-7h0m-3 3h0m0-1h0m-3-1h0m-1 0h0m-1 7h0m6 4h0m2 0h0m2-1h0m2 0h0m5 0h0m6 0h0" stroke="#66a28a" stroke-width="2.6" stroke-linecap="round" fill="none"/>
<path d="M1440 153h0m-6 8h0m3 17h0m-9-8h0m-38 6h0m0 3h0m5 3h0m7 4h0m20-3h0m14 4h0m-9 11h0m-9-5h0m-9-3h0m-1 7h0m-22-7h0m16 12h0m11-1h0m-20 22h0" stroke="#b33428" stroke-width="2.6" stroke-linecap="round" fill="none"/>
<path d="M1388 187h0m1-1h0m1 3h0m1-1h0m2 1h0m34-2h0m1 2h0m1-1h0m1 0h0m-2 4h0m0-2h0m-39 3h0m-2-2h0m-1 8h0m-3 0h0m9 20h0m-2-3h0" stroke="#fff" stroke-opacity="0.85" stroke-width="2.6" stroke-linecap="round" fill="none"/>
<path d="M1369.1,316.8L1388.8,306.9L1408.5,306.9L1430.1,316.8L1430.1,336.4L1398.6,338.4L1379.0,336.4Z" fill="#c76859"/>
<path d="M1386 308h0m13 1h0m2-1h0m5 0h0m14 10h0m0-5h0m-4 4h0m0-3h0m-1 2h0m-20-2h0m-15-2h0m-2 1h0m0 3h0m-6 0h0m1 8h0m2-4h0m7 3h0m4 6h0m4 0h0m1-8h0m10 6h0m7 0h0m8-4h0m9 6h0m4-8h0m1 5h0m0 9h0m-1-5h0m0 1h0m-7 6h0m-1-7h0m-2 5h0m-1 0h0m-1 3h0m0-4h0m-4-3h0m-12 4h0m-1 2h0m0 1h0m-1 0h0m-6-5h0m-2 4h0m-1-7h0m-1 3h0m-2 4h0m0-1h0m0-4h0m-3 3h0m-3 1h0m-6 0h0m13 4h0m34 0h0" stroke="#b33428" stroke-width="2.6" stroke-linecap="round" fill="none"/>
<path d="M1401 309h0m27 8h0m-2 2h0m-7-1h0m-3-7h0m-5 2h0m-4 4h0m-13-2h0m-4 3h0m-11-8h0m-2 0h0m-2 5h0m0 3h0m-6-2h0m16 12h0m3 0h0m6 1h0m5-7h0m3-1h0m7 1h0m14 1h0m-2 9h0m-1 5h0m-12-4h0m-6-3h0m-6 6h0m-2-2h0m-10-4h0m-6 4h0m-2-4h0" stroke="#dd9f83" stroke-width="2.6" stroke-linecap="round" fill="none"/>
<path d="M1380 309h0m14-2h0m5 1h0m10 0h0m11 0h0m9 7h0m-2 4h0m-6-2h0m-2-1h0m-2-4h0m-4 6h0m0-4h0m-1 4h0m-5-6h0m0 5h0m-13 1h0m-6 1h0m-5-8h0m0 2h0m-3 6h0m-6-1h0m-1 6h0m1 0h0m2 3h0m4 2h0m1-8h0m1 1h0m1-1h0m6 5h0m3 2h0m6-4h0m2-1h0m4 0h0m2-1h0m1 4h0m1 1h0m1-2h0m6-1h0m7 5h0m2-6h0m-1 12h0m-2 1h0m-6-3h0m-6 4h0m0-2h0m-5 1h0m-5 3h0m-1-8h0m-1 6h0m-3 0h0m-1-1h0m-17-3h0m-1-2h0m22 9h0m21 0h0" stroke="#b33428" stroke-width="2.6" stroke-linecap="round" fill="none"/>
<path d="M1380 309h0m9-1h0m18 10h0m-5-5h0m-21-3h0m-3 6h0m-1-3h0m-4 14h0m1-1h0m5-4h0m9 2h0m10-3h0m1 7h0m2-5h0m0-1h0m6-2h0m1 7h0m17-4h0m0-1h0m4 1h0m0 12h0m-4-4h0m-1 1h0m-4 1h0m-25 1h0m-4-2h0m-4-2h0m-7 6h0" stroke="#dd9f83" stroke-width="2.6" stroke-linecap="round" fill="none"/>
<path d="M1389 307h0m17 0h0m15 5h0m-1 5h0m-1-5h0m-3-1h0m-1 5h0m-1-3h0m-2 1h0m-4 0h0m-12-1h0m-5 1h0m-3-1h0m-3 1h0m0 2h0m0-6h0m-6 4h0m-2-1h0m0 3h0m0 3h0m-1-5h0m-4 10h0m2 2h0m1-2h0m3-2h0m7-2h0m1 1h0m3 7h0m5-8h0m2 5h0m2 2h0m4-6h0m2 3h0m3-1h0m6-2h0m1 6h0m1-2h0m4 4h0m8-8h0m2-1h0m2 10h0m-3 2h0m-1 3h0m-1 1h0m-6-4h0m-2 1h0m-2 6h0m-8-7h0m-5 4h0m-15-4h0m-9 1h0m-2-3h0m29 10h0" stroke="#b33428" stroke-width="2.6" stroke-linecap="round" fill="none"/>
<path d="M1429 315h0m-9-3h0m-4 2h0m-5-4h0m-4 0h0m-4 2h0m-9 0h0m-17-2h0m-4 7h0m0-2h0m-4 8h0m1-2h0m7 2h0m6 6h0m12-9h0m12 8h0m17-3h0m1-4h0m0 5h0m0 2h0m-7 5h0m-6 4h0m-1-1h0m-8-6h0m-1 7h0m-4-3h0m-9 2h0m-16-5h0m11 9h0" stroke="#dd9f83" stroke-width="2.6" stroke-linecap="round" fill="none"/>
<path d="M1390 308h0m7 1h0m3-1h0m-22 3h0m-1 1h0m-1 2h0m-1 1h0m0 2h0m-1 1h0" stroke="#fff" stroke-opacity="0.85" stroke-width="2.6" stroke-linecap="round" fill="none"/>
<path d="M1461.5,322.7L1477.3,316.8L1496.9,322.7L1496.9,342.3L1481.2,350.2L1465.5,346.3Z" fill="#725f80"/>
<path d="M1471 318h0m-2 8h0m1 0h0m2-2h0m2 0h0m6 0h0m3 2h0m4 1h0m1 0h0m2 2h0m4-6h0m2 14h0m-1 2h0m-1-4h0m-2-2h0m-3 3h0m0 3h0m-2-6h0m-3 5h0m-1-8h0m-1 1h0m-2-1h0m-15 2h0m4 15h0m1-7h0m2 3h0m1 2h0m3-2h0m1-3h0m0 8h0m2-1h0m2 1h0m2 1h0m3-4h0m0 2h0m3-3h0m1-4h0m2 8h0m2-5h0m2-3h0m-15 11h0m-5 0h0" stroke="#4b5587" stroke-width="2.6" stroke-linecap="round" fill="none"/>
<path d="M1483 317h0m-5-1h0m-16 7h0m7 2h0m16 3h0m6-4h0m4 6h0m-12 4h0m-3 0h0m-6 2h0m-8 8h0m0 1h0m6-2h0" stroke="#b33428" stroke-width="2.6" stroke-linecap="round" fill="none"/>
<path d="M1483 316h0m-2 0h0m-1 3h0m-3 0h0m-5-1h0m-2 1h0m-7 6h0m1-5h0m2 9h0m5 0h0m6-1h0m3 0h0m1-2h0m10-4h0m2 1h0m0-3h0m1 4h0m1 4h0m3 6h0m-3 5h0m-4-7h0m-7 1h0m-2 6h0m-14-1h0m-1-7h0m-2 2h0m-2 12h0m1 0h0m1-2h0m2-2h0m0-1h0m5 7h0m3-1h0m3-6h0m2 3h0m1-1h0m6 1h0m1 1h0m1 4h0m8-7h0m-7 9h0" stroke="#4b5587" stroke-width="2.6" stroke-linecap="round" fill="none"/>
<path d="M1463 323h0m15-3h0m21 9h0m1 5h0m-3 0h0m-1-3h0m0-1h0m-4 8h0m-4-4h0m-6 5h0m-6 0h0m0 10h0m4 5h0" stroke="#b33428" stroke-width="2.6" stroke-linecap="round" fill="none"/>
<path d="M1488 317h0m-11 1h0m-13 4h0m2 5h0m3 0h0m1-7h0m0 4h0m0 3h0m4 2h0m0-4h0m2-2h0m0-3h0m4 1h0m1 3h0m0 3h0m2-7h0m1 0h0m2 5h0m0-1h0m3-2h0m3-2h0m3 3h0m5 0h0m-3 7h0m-1 4h0m-2-3h0m-3 1h0m-7 6h0m-3 0h0m-2-6h0m-3 5h0m-5 2h0m-2-3h0m-3 1h0m13 3h0m1 7h0m1 2h0m3-6h0m5 2h0m-16 6h0m-5-1h0" stroke="#4b5587" stroke-width="2.6" stroke-linecap="round" fill="none"/>
<path d="M1483 314h0m-5 2h0m-5 12h0m14-7h0m1 5h0m7-6h0m5 3h0m-6 13h0m-4-1h0m-28-3h0m13 12h0m6 0h0m-7 6h0" stroke="#b33428" stroke-width="2.6" stroke-linecap="round" fill="none"/>
<path d="M1499 339h0m-3 0h0m-4 3h0m3-1h0" stroke="#fff" stroke-opacity="0.85" stroke-width="2.6" stroke-linecap="round" fill="none"/>
<path d="M1473.3,356.1L1493.0,342.3L1516.6,346.3L1520.5,375.7L1506.8,395.4L1487.1,397.4L1473.3,385.6Z" fill="#859582"/>
<path d="M1479 348h0m1 0h0m9-1h0m3-2h0m1 4h0m1-5h0m1 2h0m2-5h0m1 4h0m3-1h0m0 4h0m2-6h0m4 3h0m14 7h0m-3 1h0m-5-1h0m-3 6h0m-5-4h0m-1-4h0m0 9h0m-2-1h0m-4-1h0m-2 2h0m-9-1h0m-4-7h0m-12 11h0m4 1h0m1 4h0m7-1h0m3 2h0m2-1h0m0-3h0m0 2h0m1-6h0m10 7h0m2 0h0m7-6h0m5 6h0m2-1h0m2-5h0m1 3h0m-5 7h0m-5 5h0m-6 3h0m-6-6h0m-3 1h0m0-1h0m-1 3h0m-1 2h0m-9 1h0m-1-8h0m-2 1h0m-5 2h0m-1 9h0m1 0h0m2 3h0m2-1h0m8-3h0m1 4h0m5-2h0m3-1h0m4-3h0m3 6h0m2 0h0m3 3h0m2-7h0m2 4h0m2-6h0m3 1h0m1 3h0m-8 6h0m-1 6h0m-1-2h0m-3-3h0m-1 4h0m-1-2h0m-2 5h0m-1-3h0m-2 1h0m-4-4h0m0 6h0m-4-4h0m-17-4h0" stroke="#66a28a" stroke-width="2.6" stroke-linecap="round" fill="none"/>
<path d="M1489 342h0m10 3h0m10-2h0m2 3h0m-19 9h0m-16 8h0m12-3h0m4 8h0m7-2h0m5 1h0m1-7h0m4 9h0m0-8h0m9 2h0m-5 16h0m0-5h0m-4 5h0m-4-2h0m-17-4h0m-14 9h0m1 1h0m33 5h0m5 1h0m-17 1h0m-2 8h0m-11-7h0" stroke="#b33428" stroke-width="2.6" stroke-linecap="round" fill="none"/>
<path d="M1483 346h0m1-1h0m2 4h0m4-2h0m1 0h0m0-3h0m3-3h0m1 2h0m1 4h0m12 1h0m1-1h0m0 2h0m7-2h0m2 9h0m-3-2h0m-14 2h0m-1-2h0m0 1h0m-2-3h0m-2 7h0m-4-6h0m-1 4h0m0-3h0m-1 5h0m-1-2h0m-20 9h0m8 0h0m0-5h0m2 1h0m1 3h0m3-3h0m0 6h0m7-8h0m7 4h0m3-3h0m0 8h0m9-7h0m0-1h0m2 1h0m2-2h0m3 7h0m1-1h0m2 3h0m-2 5h0m-2 1h0m-3 2h0m0-6h0m-7 8h0m-10-7h0m-2 2h0m-5 4h0m-1 1h0m-2-1h0m-2-3h0m0 2h0m-4-4h0m-1 2h0m0-4h0m-1 3h0m-3 4h0m1 8h0m2 1h0m0 2h0m3-2h0m4 2h0m0-1h0m14-7h0m1 4h0m3-2h0m2-3h0m1 2h0m0 2h0m2 0h0m4-4h0m0 6h0m-3 4h0m-8 2h0m-5 4h0m-5-2h0m-1-1h0m-2-3h0m-2 3h0m-4-2h0m-1 1h0" stroke="#66a28a" stroke-width="2.6" stroke-linecap="round" fill="none"/>
<path d="M1492 343h0m7 5h0m14-1h0m1 2h0m0 8h0m-4 2h0m-8-8h0m-13 5h0m-1-5h0m-13 13h0m13 4h0m10-6h0m23-2h0m-36 17h0m-12-4h0m0 10h0m12-1h0m2 2h0m8-2h0m16 0h0m3-2h0m-7 15h0m-8 1h0m-11-5h0m-5 1h0" stroke="#b33428" stroke-width="2.6" stroke-linecap="round" fill="none"/>
<path d="M1488 347h0m6-3h0m0 2h0m2-3h0m6 4h0m1-5h0m0 4h0m1 1h0m2-1h0m5 3h0m11 10h0m-2-7h0m-5-2h0m-1 9h0m-7-1h0m-1 0h0m-2 0h0m-4-4h0m-5 2h0m-2-1h0m-6 2h0m-2 2h0m-3-9h0m-2 3h0m-6 11h0m1-3h0m5-1h0m5 3h0m3 3h0m1 1h0m1-2h0m3 4h0m1-8h0m2 5h0m2 0h0m4-6h0m1 1h0m1 2h0m4 6h0m3 0h0m3-5h0m1-1h0m3 6h0m1 6h0m0 3h0m-2 1h0m-9 0h0m-2-7h0m-1-2h0m-6 6h0m-8-1h0m-3 2h0m-2-7h0m-2 6h0m-2-5h0m-5 1h0m-2 11h0m11 5h0m1-2h0m9 3h0m1-8h0m6 0h0m0 6h0m2-2h0m0-3h0m4 5h0m5-7h0m3 1h0m0-1h0m-8 11h0m-3 6h0m0-1h0m-1-1h0m-2 1h0m-1 0h0m0-3h0m-5-1h0m-4 6h0m-3-7h0m-3 4h0m0-3h0m-4-1h0m0 2h0m8 7h0" stroke="#66a28a" stroke-width="2.6" stroke-linecap="round" fill="none"/>
<path d="M1496 348h0m14-3h0m3 13h0m-11 0h0m-2-5h0m-11 0h0m-14 8h0m11 8h0m1-4h0m17 2h0m4-4h0m1 0h0m13-1h0m-21 14h0m-7 1h0m-1-7h0m-7 0h0m-4 8h0m-2-2h0m-4-4h0m2 17h0m13-7h0m17-1h0m-11 11h0m-6 2h0" stroke="#b33428" stroke-width="2.6" stroke-linecap="round" fill="none"/>
<path d="M1484 352h0m-1 1h0m-1 2h0m-2 13h0m-2 7h0m0-1h0m15 14h0m0 5h0m0-1h0m0-1h0m-2 1h0m0-1h0m-2 4h0m0 2h0m-1-1h0" stroke="#fff" stroke-opacity="0.85" stroke-width="2.6" stroke-linecap="round" fill="none"/>
<path d="M1476 369h0m2-1h0m13 0h0m3-3h0m3-1h0m-3 8h0m-3-1h0m0 3h0m-1 4h0m-1 1h0m-1-6h0m0 6h0m0-4h0m-1 0h0m0-4h0m-2 6h0m-10-7h0m0 1h0m12 11h0m0 1h0m3-3h0m2 3h0m1-1h0m1 1h0m1 1h0m1-1h0m1 6h0m1 0h0m1-1h0m-3 2h0" stroke="#fff" stroke-width="2.8" stroke-linecap="round" fill="none"/>
<path d="M1450 318h0m0-1h0m-1 2h0m-20 6h0m1-2h0m1-3h0m15 9h0m6 3h0m-3 1h0m-1-1h0m0-1h0m-4 8h0m-1-1h0m-1-6h0m-1 7h0m-2-6h0m-13 13h0m1-1h0m0 4h0m2-2h0m2-2h0m0-1h0m1-2h0m0 4h0m1-1h0m30 9h0m0-1h0m-2 0h0m-4 0h0m0-2h0m-4 3h0m-1-1h0m-1 5h0m0-1h0m-1-2h0m-1 0h0m0 1h0m-1 3h0m-1 0h0m-2 0h0m-1-1h0m-7 0h0m-2-2h0m3 13h0m11 0h0m0-1h0m1-1h0m-15 4h0m0 1h0m-2 3h0" stroke="#fff" stroke-width="2.8" stroke-linecap="round" fill="none"/>
<path d="M1524 289h0m2-1h0m0 1h0m1 0h0m1 0h0m3-2h0m1 0h0m11 1h0m0 3h0m-1-1h0m0 2h0m0-1h0m-12 3h0m0-2h0m-12 11h0m3 0h0m0 1h0m1-2h0m0 1h0m21 4h0m1 2h0m1 0h0m1 2h0" stroke="#fff" stroke-width="2.8" stroke-linecap="round" fill="none"/>
<path d="M1445 259h0m-9 0h0m-11 7h0m4-4h0m6-1h0m6 2h0m1 0h0m1 1h0m1-2h0m1-2h0m1 2h0m0 4h0m0 2h0m0-7h0m0 4h0m13 1h0m0-1h0m1 1h0m1-1h0m0 2h0m4-1h0m-32 9h0m-1 2h0m0 2h0m0-5h0m0 2h0m-1 1h0m-7-7h0m-1 13h0m0-1h0m1 1h0m3 0h0m0-3h0m1 1h0m13 3h0m0-3h0m29 10h0m-3 3h0m-5-1h0m0-1h0m-1 2h0m-13 0h0m-16-1h0m-1 1h0m-1 5h0m0-7h0m-3-1h0m1 12h0m2 3h0m0-5h0m1 0h0m0 3h0m1 3h0m0 2h0m0-5h0m0-3h0m2 3h0m1 2h0m1 2h0m2-1h0m9 2h0m1-9h0m7 6h0m1-2h0m0-1h0m1 5h0m3-4h0m0 2h0m2-2h0m3-1h0m2 5h0m0-2h0m2 2h0m-18 2h0m-2 2h0m-1-2h0m-1 1h0m-5 7h0m-2-2h0m-3-4h0m-1-2h0m0 2h0m-2-1h0" stroke="#fff" stroke-width="2.8" stroke-linecap="round" fill="none"/>
<path d="M1261.4,260.3L1272.1,267.1L1281.5,275.2L1288.2,284.7L1292.3,296.9L1299.0,305.0L1307.0,311.8L1317.8,313.1L1328.5,315.8L1336.6,321.3L1331.2,328.0L1323.1,333.5L1315.1,337.5L1309.7,345.6L1307.0,356.5L1304.3,367.3L1299.0,375.4L1293.6,380.9L1288.2,383.6L1274.8,386.3L1264.0,391.7L1256.0,402.5L1245.2,405.2L1234.5,402.5L1223.8,397.1L1213.0,391.7L1199.6,389.0L1188.8,386.3L1180.8,383.6L1170.0,382.2L1160.6,380.9L1145.9,378.1L1135.1,375.4L1127.0,364.6L1123.0,352.4L1127.0,341.6L1140.5,333.5L1153.9,329.4L1167.3,324.0L1178.1,326.7L1183.5,334.8L1188.8,342.9L1196.9,348.4L1210.3,345.6L1221.1,340.2L1226.4,332.1L1229.1,321.3L1234.5,313.1L1241.2,303.7L1241.2,291.5L1237.2,284.7L1229.1,282.0L1225.1,275.2L1229.1,267.1L1241.2,261.7L1252.0,257.6L1258.7,256.9Z" fill="#5e618d" fill-opacity="0.95"/>
<path d="M1262 257h0m-8-3h0m-12 4h0m-2 8h0m2-2h0m1-2h0m3 5h0m7 0h0m2-3h0m5-4h0m4 9h0m7-3h0m12 13h0m-4 0h0m0-4h0m-1 4h0m-1-2h0m-3-7h0m-3 0h0m-2 0h0m0 3h0m-2 0h0m-2-1h0m-2 5h0m-1-6h0m-1 0h0m-2 5h0m-1-2h0m-4 1h0m0 4h0m-3-9h0m-1 1h0m-5 1h0m-2 0h0m0 2h0m-7 1h0m-1-2h0m0 4h0m-2 2h0m-5-4h0m0 2h0m-3-1h0m7 10h0m0-6h0m1 3h0m5 2h0m0-5h0m0 4h0m1 1h0m6-1h0m4-2h0m1 3h0m5-3h0m5 2h0m0 3h0m0-1h0m2 2h0m4 0h0m1-8h0m0 4h0m4-2h0m1 6h0m4-4h0m3 3h0m4 1h0m2 1h0m6 0h0m-2 3h0m-2-1h0m-5 8h0m-2-6h0m-1 0h0m-3 6h0m-2-1h0m0-5h0m-1 3h0m-4 0h0m-1 3h0m-1 0h0m-1-8h0m0 4h0m0-5h0m0 9h0m-1-3h0m-4-5h0m-2 5h0m-10-5h0m-3 3h0m-1 4h0m-4-5h0m-1 4h0m-2 10h0m11 2h0m5-9h0m0 3h0m2 3h0m4 2h0m1-4h0m0 4h0m0-1h0m2 0h0m0-5h0m2-2h0m0 7h0m3 2h0m2-3h0m1 2h0m1-5h0m1-3h0m8 2h0m3 3h0m3-5h0m3 5h0m7 4h0m0-3h0m2-2h0m8 5h0m25 8h0m-8 0h0m-4 1h0m-7 0h0m-2-2h0m-1 0h0m0-2h0m-1 1h0m0-2h0m-5 5h0m-8-3h0m-1-2h0m-1 5h0m-1-4h0m-3 5h0m-1-3h0m-5-6h0m-2 4h0m-1 1h0m-6 1h0m-3 2h0m-7-6h0m-2 2h0m-1-4h0m-1 7h0m-3 2h0m-1-5h0m-3-2h0m-3 0h0m-3-2h0m0 3h0m0-2h0m-2-1h0m0 4h0m-5-3h0m-1 0h0m-2 7h0m0-5h0m-5-3h0m-3 8h0m-72 10h0m12-4h0m5 2h0m7 0h0m44-5h0m4 4h0m1-5h0m2 4h0m0-2h0m1 2h0m1 4h0m0-6h0m0-1h0m6 5h0m2-1h0m1-2h0m3 3h0m2 2h0m5-6h0m1 4h0m4 2h0m2-4h0m3 3h0m1-6h0m4 6h0m0 2h0m2-5h0m1-2h0m2 7h0m2-7h0m0 3h0m1-5h0m3 8h0m2-1h0m2-1h0m1 0h0m8-5h0m1 0h0m2 7h0m6-2h0m2 3h0m1-8h0m2 0h0m0 3h0m3-2h0m1 3h0m1-3h0m1 7h0m2-9h0m4 2h0m5 0h0m0-2h0m4 5h0m2 0h0m2-5h0m-4 12h0m-2-1h0m-1 1h0m-1-2h0m-3 0h0m-1 5h0m-1-2h0m-7 2h0m-7-1h0m-1 5h0m-4-5h0m-2-2h0m-3 0h0m0-1h0m-3 6h0m0-5h0m-2 4h0m-1-3h0m-6 3h0m-2 1h0m-2-1h0m0-6h0m-1 5h0m-1-5h0m-5 7h0m-4-7h0m-1 1h0m-1 3h0m0 4h0m-3 0h0m-4-5h0m-2 4h0m-5 0h0m-10-2h0m-1 3h0m0-1h0m-4-7h0m-1 8h0m-2-7h0m-3 0h0m-3 5h0m-43 1h0m-4-5h0m-1 5h0m-3 1h0m-1-5h0m-2-3h0m-6 0h0m-2 7h0m-5-7h0m-1 7h0m-1-7h0m-1 7h0m-5-1h0m-1-5h0m-4 3h0m-1 5h0m-5 0h0m-2-4h0m-8 0h0m-6 3h0m-5 9h0m5 2h0m2-5h0m3-4h0m0 8h0m12-1h0m1-7h0m6 1h0m3 0h0m1 2h0m2 1h0m1 4h0m1-3h0m1-2h0m8 5h0m2-6h0m1-1h0m1-1h0m1 8h0m1 0h0m0-6h0m1 7h0m0-6h0m5 6h0m2-3h0m5-2h0m2-2h0m5 7h0m6-1h0m3 0h0m1 1h0m2-2h0m4-1h0m0 3h0m1-4h0m0 3h0m7-8h0m0 7h0m6-2h0m0 3h0m2 0h0m1-6h0m3 0h0m6 6h0m0-1h0m3-2h0m2 0h0m1 1h0m1-1h0m5 0h0m3 3h0m3-3h0m4 0h0m4-5h0m3 8h0m4-1h0m0-5h0m0 2h0m4 2h0m1 3h0m3-7h0m1-2h0m0 9h0m2-7h0m2 5h0m1-5h0m6 2h0m2-1h0m1 5h0m8-6h0m1 2h0m3 4h0m0-2h0m2-1h0m3-5h0m1 6h0m0-5h0m1 0h0m0 2h0m-1 16h0m-1-7h0m-4 6h0m0-6h0m-2 6h0m-1-6h0m0-1h0m-2 4h0m-4 0h0m0-1h0m-9 5h0m0-6h0m-1-3h0m-7 1h0m-1 4h0m0-2h0m-6-1h0m-3 2h0m-4 3h0m-2-5h0m-3 4h0m0 2h0m-2-1h0m-4-3h0m-4 1h0m-1 1h0m0 1h0m-1-3h0m0-1h0m-1 5h0m0-4h0m-1 5h0m-8-9h0m-1 2h0m0 3h0m-1 2h0m-3-1h0m-4 3h0m-1-3h0m-3-4h0m-2 1h0m0 6h0m-3-8h0m-2 6h0m-2-2h0m-3-2h0m-7-3h0m-1 7h0m-3-6h0m0 6h0m-1-5h0m-11 4h0m-3-3h0m-3 6h0m-3-5h0m0 3h0m-2 2h0m-3-6h0m0 5h0m-1-3h0m-3-1h0m0-1h0m-4 6h0m-5-6h0m-1-1h0m-1 7h0m-1-4h0m0 4h0m-2-5h0m-1 5h0m-2-6h0m0-1h0m-8 2h0m0 2h0m-2-5h0m-3 0h0m-4 2h0m-10 1h0m-1-4h0m-1 3h0m1 8h0m2-1h0m7 7h0m0-5h0m0-1h0m1 4h0m0 3h0m1-2h0m0-2h0m0 4h0m1-8h0m9 0h0m2 6h0m1-2h0m0-2h0m2-2h0m0 8h0m0-2h0m1-1h0m10 0h0m6 4h0m4-4h0m0 4h0m4-5h0m3 1h0m1-3h0m5 2h0m1-1h0m4 1h0m2-3h0m6 8h0m3-2h0m1 1h0m3-4h0m1 2h0m0 3h0m4-8h0m2 4h0m1 2h0m6 1h0m1 1h0m1 0h0m7-9h0m9 7h0m2-1h0m3-2h0m2 5h0m2-1h0m3-5h0m0-2h0m1 3h0m0 4h0m0-1h0m4 0h0m0-5h0m0-2h0m11 6h0m7 1h0m1-7h0m2 7h0m2-5h0m4 0h0m1-1h0m2 2h0m2 0h0m4 0h0m7-2h0m0 4h0m2 3h0m1 0h0m1-3h0m2 2h0m0-1h0m1 0h0m-2 4h0m0 3h0m-6 5h0m-4-4h0m-1-3h0m-1 3h0m0 4h0m0-2h0m-3-6h0m-1 5h0m0-3h0m-1 2h0m-3 5h0m-3-8h0m-2 4h0m-8-2h0m-6 2h0m-2-1h0m-5-3h0m-4 1h0m-3 6h0m0-2h0m-2-3h0m-2 1h0m-1-2h0m-1 4h0m0-6h0m-4 4h0m0 4h0m-3-8h0m-4 5h0m-3-3h0m0 6h0m-1-4h0m-4-3h0m0 7h0m-5-4h0m-2-2h0m-1 3h0m0-5h0m-1 6h0m-7-2h0m-6-3h0m-1 4h0m-2-4h0m-2 6h0m-6 0h0m-1 2h0m0-6h0m-1 3h0m-4-3h0m-2 5h0m-1-3h0m-2-2h0m0-3h0m-2 5h0m-1-1h0m-2 5h0m-2-4h0m-4 3h0m-3-6h0m-1 0h0m-2 7h0m-3-5h0m-2 5h0m-5-8h0m-2 3h0m-2 0h0m-1 4h0m-1-1h0m-5 1h0m-3-8h0m-2 8h0m-2-8h0m-1 2h0m14 9h0m7-1h0m13 4h0m3 0h0m0-3h0m12 2h0m2-3h0m3 5h0m3-5h0m1 0h0m1 1h0m3 7h0m5-1h0m0-6h0m2 7h0m1 1h0m2-5h0m4-4h0m5 7h0m1-7h0m1 9h0m3-4h0m0 4h0m6-8h0m4 3h0m8 2h0m5-5h0m0-1h0m2 2h0m1 4h0m0 3h0m4 0h0m2-6h0m2-1h0m4-2h0m2 1h0m1 4h0m4 2h0m20-6h0m0-1h0m8 2h0m-30 9h0m-3 7h0m-3-2h0m-16 3h0m-4-7h0m-6 6h0m-2-3h0m-1-2h0m-1-1h0m0-1h0m-4 3h0m0-4h0m-2 4h0m-3 0h0m-3-2h0m-3-1h0m-5-1h0m24 12h0m1-1h0m1 1h0m3 2h0m3-4h0m2 4h0m5 2h0m3-3h0m1-1h0m2 1h0m1-3h0" stroke="#4b5587" stroke-width="2.6" stroke-linecap="round" fill="none"/>
<path d="M1279 288h0m3 9h0m-24-4h0m-8 12h0m37 2h0m-9 4h0m-1 5h0m-10-4h0m-14 4h0m-12 13h0m0-1h0m41-1h0m-60 11h0m-75 11h0m153-8h0m-21 15h0m-147 8h0m61-2h0m48-2h0m53 6h0m-8 4h0m-29 3h0m-25 1h0m-18 1h0m-60 3h0m47 9h0m50 0h0m44-3h0m-68 7h0m-2 0h0m-11 0h0" stroke="#b33428" stroke-width="2.6" stroke-linecap="round" fill="none"/>
<path d="M1257 259h0m-4-5h0m-24 14h0m5 1h0m2-2h0m12-6h0m9 4h0m0-1h0m0-2h0m1 3h0m1 1h0m3 2h0m3-2h0m3 1h0m0-6h0m19 18h0m-6-3h0m-2-1h0m-1 2h0m-3-5h0m-1 5h0m-3-5h0m-1 3h0m-1 2h0m-4-5h0m-1 5h0m-3 0h0m-4-5h0m-1 1h0m-1 1h0m0-2h0m-2 4h0m0 2h0m-5-5h0m-2 1h0m-3-2h0m-5 4h0m-2 1h0m-4 1h0m-4-3h0m0-5h0m0 12h0m2 2h0m8-4h0m1 9h0m0-6h0m3 1h0m3-1h0m7 6h0m0-8h0m15 1h0m3 6h0m2-1h0m1-5h0m3 1h0m3 2h0m0-5h0m1 0h0m2 9h0m2-4h0m2 3h0m5 1h0m2 9h0m0 1h0m-3-5h0m-2 1h0m-1 1h0m-5-3h0m0-1h0m-1 7h0m-2-2h0m-1-2h0m0-2h0m-2-1h0m0 4h0m0-6h0m-2 6h0m-2-5h0m-10 8h0m-2-9h0m-2 2h0m-4 2h0m-4 1h0m-1-3h0m0 7h0m-1-3h0m-1 2h0m0-2h0m-4-3h0m-3-3h0m-3 17h0m1 1h0m2-1h0m3-1h0m6-6h0m1 5h0m3 3h0m4-8h0m2 5h0m3-1h0m0 3h0m1-5h0m1 5h0m4-1h0m3-5h0m0 8h0m0-5h0m6-3h0m1 7h0m1 0h0m4-2h0m0-6h0m5 5h0m1-4h0m7 8h0m2-1h0m1 1h0m1-2h0m21 3h0m-2 3h0m-2 0h0m-1 0h0m0 3h0m-3 0h0m-2 0h0m-3-1h0m-4-4h0m-1 3h0m-1 5h0m-10-3h0m-1-4h0m-3 7h0m-1 0h0m-7-2h0m-2-6h0m0 2h0m-5 1h0m-1-2h0m-2 4h0m-4 3h0m-3-1h0m-4-8h0m-2 4h0m-1 3h0m0-2h0m-6 2h0m-1-2h0m-2 4h0m-3-3h0m-1 3h0m0-8h0m-11 6h0m-2 2h0m-66 9h0m0-2h0m4-1h0m1 0h0m3 1h0m1 3h0m54-1h0m3-7h0m3 6h0m6 0h0m0-4h0m1 5h0m6-3h0m2-5h0m1 5h0m5 1h0m3-1h0m0-1h0m1-2h0m6-1h0m1 5h0m0-5h0m1 5h0m1-6h0m4 1h0m1 5h0m1-6h0m2 7h0m5-5h0m0 7h0m2-8h0m5 3h0m0-3h0m2 2h0m1 5h0m2 0h0m3-3h0m1-5h0m0 9h0m1-1h0m2-5h0m6 0h0m6 3h0m1 3h0m3-9h0m1 8h0m1-1h0m7-3h0m5 5h0m5-5h0m0-2h0m1-1h0m1 5h0m-15 8h0m-2 3h0m-2-1h0m-4-1h0m-1-1h0m0 4h0m-3-3h0m-1-1h0m-6 3h0m-5 0h0m-1-2h0m0-3h0m-7 2h0m-3 0h0m-4 4h0m-6-1h0m-3 0h0m0-5h0m-4 2h0m-6-4h0m0 7h0m-4-5h0m0-2h0m-1 5h0m0 4h0m-3-1h0m-1-2h0m-1 2h0m-6-5h0m-3 0h0m-3 6h0m-3 0h0m-1-6h0m-2 3h0m-3-2h0m-1-2h0m-1 5h0m-1-7h0m-1 2h0m-2 0h0m-2 0h0m-2 5h0m-37-4h0m-3 5h0m-3-8h0m0 7h0m-2-4h0m-1 6h0m0-5h0m-4-2h0m0 4h0m-1-3h0m-2 0h0m-3-3h0m0 4h0m-4-1h0m0-1h0m-2 4h0m-3 3h0m0-6h0m-1-1h0m-3 4h0m-4-5h0m-1 1h0m-2 1h0m-9-1h0m-2 2h0m-10 8h0m0-1h0m2 0h0m2-1h0m0 8h0m3-2h0m3 3h0m2-7h0m2 0h0m1 7h0m0-1h0m2 0h0m1-7h0m3 5h0m1-1h0m4-2h0m1 2h0m1 3h0m1-6h0m1 4h0m1-6h0m2 3h0m3-2h0m4 0h0m1 4h0m0-3h0m5 1h0m2-2h0m1 4h0m1-1h0m1 5h0m0-3h0m6 1h0m6-3h0m2-3h0m1-1h0m1 8h0m7-2h0m7 1h0m6 0h0m1-1h0m4-5h0m5 7h0m2 0h0m2-3h0m1-1h0m0 5h0m1-9h0m0 9h0m1-5h0m1 4h0m6 0h0m1-7h0m1 2h0m0-2h0m4 2h0m1 2h0m3 3h0m10-7h0m11 6h0m2 0h0m1-1h0m4-2h0m4 4h0m1 0h0m1-8h0m5 7h0m0-5h0m2 6h0m1-2h0m5-6h0m1 9h0m3-8h0m4 2h0m2 0h0m0 3h0m2-3h0m7 5h0m-1 2h0m-2 9h0m-2-6h0m0-1h0m-3 4h0m-1 3h0m-3-3h0m0-2h0m-5 5h0m-3-7h0m-1 0h0m-1 3h0m0-1h0m-1 2h0m0 3h0m-1-1h0m0-2h0m-1 1h0m-3-5h0m0-2h0m-2 5h0m-3-3h0m-3 4h0m-2-6h0m0 3h0m-1 6h0m0-5h0m-1 3h0m0-6h0m-4 3h0m-1-2h0m-1 7h0m-3-1h0m0 1h0m-1-1h0m-1-1h0m-1-1h0m-7-2h0m-2-3h0m-3 6h0m0-5h0m-2 3h0m0-1h0m-6-4h0m-1 4h0m0 4h0m-2-4h0m-1 1h0m-2 4h0m0-1h0m-2-3h0m-8 4h0m-2-7h0m-1 7h0m-1-3h0m-1-4h0m-4 6h0m-1 1h0m-1-6h0m-4 0h0m-1 2h0m-2 3h0m0-3h0m-5 2h0m-1-6h0m-2 8h0m-1-8h0m-1 8h0m-2-2h0m0-1h0m-1-6h0m-5 6h0m0-6h0m-2 2h0m-4 0h0m-4 5h0m-4-1h0m-9 2h0m-4-6h0m-1-2h0m0 2h0m-6 4h0m-4-6h0m-2 1h0m-2 1h0m-1-2h0m-3 3h0m0 4h0m-3-5h0m-1 5h0m0-1h0m-3 2h0m-1-6h0m-5 0h0m-4 3h0m0 2h0m-1-2h0m0 3h0m6 2h0m1 9h0m1-7h0m1 7h0m1-6h0m3 4h0m7-3h0m13 3h0m2-2h0m3 3h0m2-6h0m1 6h0m2 0h0m7 1h0m2-3h0m1-4h0m7 1h0m1-2h0m6 6h0m4 2h0m1-4h0m0 3h0m3-1h0m8-6h0m3 8h0m0-5h0m2 0h0m0 3h0m1-5h0m2 5h0m0-1h0m2 0h0m1 0h0m5-6h0m2 4h0m11 1h0m4 4h0m9 0h0m1-9h0m0 4h0m5-4h0m6 0h0m0 9h0m3-8h0m1 1h0m1 2h0m1-2h0m5-2h0m0 1h0m2 1h0m1 1h0m2 1h0m0 2h0m1 2h0m7-5h0m0-3h0m7 6h0m2-1h0m1 3h0m5-1h0m1-1h0m1 10h0m-1 1h0m-4-2h0m-2 0h0m-4-1h0m-2-4h0m0 3h0m-3 1h0m-1 5h0m0-1h0m-19 1h0m-3-7h0m-2 5h0m0-6h0m-2 7h0m0-2h0m-2-6h0m-1 4h0m-3-3h0m-1 6h0m-14-1h0m-2-6h0m-1 7h0m0 1h0m-1-1h0m-4-3h0m-8-2h0m-3 3h0m-1-4h0m-3 3h0m-2 4h0m0-7h0m-7 5h0m-5-2h0m-4 0h0m-4-3h0m-5 4h0m0-2h0m-3 5h0m0-7h0m-4 0h0m-1 0h0m-1 8h0m-3-4h0m-2 1h0m-6 1h0m-9-1h0m-4-5h0m-2 4h0m-3-2h0m-13 2h0m0-1h0m-6-2h0m0 4h0m13 4h0m15 2h0m5-1h0m3 1h0m13 1h0m5 1h0m1-1h0m3 1h0m6 1h0m2 0h0m1-1h0m3-2h0m5 4h0m1 0h0m5-1h0m4 4h0m2 0h0m1-4h0m3 1h0m3-2h0m2 4h0m1-2h0m2-2h0m1-4h0m6 5h0m1-5h0m1 1h0m1 7h0m1-2h0m1 2h0m2-2h0m4-6h0m1 0h0m3 9h0m3-6h0m2 4h0m1-2h0m0-5h0m2 3h0m0 4h0m1-1h0m1-3h0m0 2h0m5-4h0m2 7h0m3-2h0m1-2h0m4-1h0m3 0h0m1 4h0m2-2h0m2-2h0m2 1h0m3 3h0m2-5h0m-25 9h0m0-1h0m-7 8h0m-1 1h0m-1-4h0m-5-3h0m0 7h0m-3-5h0m-2 3h0m0-5h0m-1-2h0m0 8h0m-2 0h0m-2-7h0m-6 1h0m-1 7h0m-1 0h0m-1-8h0m-9 2h0m-2 4h0m-8-5h0m-2 0h0m0-2h0m-8 1h0m0-1h0m-6 0h0m-9 0h0m49 11h0m2 5h0m2-5h0m0 3h0m1-1h0m3-3h0m0 3h0" stroke="#4b5587" stroke-width="2.6" stroke-linecap="round" fill="none"/>
<path d="M1268 285h0m1 3h0m13-3h0m43 25h0m-35 4h0m15 6h0m10 3h0m17-2h0m-103 12h0m-56 6h0m-14 6h0m12-2h0m41 2h0m2-1h0m89 6h0m-90 0h0m-38 6h0m12 10h0m102 1h0m-28 4h0m-37 8h0m-11-8h0m-44 9h0m38 0h0m16 4h0m22 2h0m36-5h0m-3 9h0m-31 4h0m-20 6h0m24 8h0" stroke="#b33428" stroke-width="2.6" stroke-linecap="round" fill="none"/>
<path d="M1263 259h0m-34 6h0m6-1h0m0 3h0m1-6h0m3 3h0m5-3h0m0 8h0m1-6h0m3-3h0m4 5h0m1 4h0m6-4h0m1 1h0m7 3h0m1-4h0m0-5h0m9 13h0m-2-2h0m-3 5h0m-1-6h0m0 6h0m-1 1h0m-6-5h0m-3 7h0m-1-7h0m-5 3h0m-1-4h0m-2 7h0m-1-2h0m0-6h0m-6 1h0m-2 1h0m-8 6h0m-5-2h0m-3-4h0m-1-2h0m-1 5h0m-1 3h0m19 10h0m2-4h0m1-2h0m1-2h0m1 6h0m0 3h0m1-9h0m4 1h0m0 7h0m1-2h0m0 2h0m0-5h0m2 1h0m2-1h0m8-1h0m1 3h0m3 1h0m0 3h0m5-8h0m5 8h0m1-9h0m5 2h0m0-1h0m0 16h0m-5-1h0m-1-3h0m-4 2h0m-8-2h0m0 4h0m-8-3h0m-6 2h0m-6 0h0m-5 1h0m-1-1h0m-1 3h0m0-5h0m-1 1h0m-2 13h0m4 0h0m7-7h0m2 7h0m7-2h0m4-4h0m1 1h0m3 5h0m1-4h0m1 3h0m2-5h0m1 5h0m0-7h0m0 8h0m3-6h0m0-1h0m2 4h0m1-3h0m3 5h0m2-2h0m1-4h0m2 8h0m1-5h0m2 5h0m3-6h0m6 2h0m0 4h0m1-9h0m2 7h0m0-1h0m3 3h0m0-2h0m30 12h0m-5-1h0m-3 0h0m-3-4h0m-3 2h0m-4-6h0m-7 6h0m-4-4h0m0-1h0m-12 4h0m-4 0h0m-1-1h0m0-3h0m-2-1h0m-4 3h0m-1 2h0m-3 3h0m-4-5h0m-5 2h0m-2 2h0m0-7h0m0 4h0m-5 3h0m-4 1h0m-1-3h0m-1-1h0m-1 2h0m-2-2h0m-2-3h0m0 8h0m-5-5h0m-2 3h0m-5-7h0m-4 5h0m-78 14h0m1 0h0m0-1h0m1-4h0m13 2h0m4-2h0m1 4h0m1-1h0m1 0h0m48-4h0m6 0h0m1-3h0m2 6h0m2 2h0m0-5h0m2 4h0m0 2h0m6-5h0m6-1h0m8 4h0m0-7h0m3 6h0m5-5h0m1 8h0m1-7h0m2 5h0m1-1h0m2-6h0m3 3h0m4-2h0m3 0h0m1 4h0m2 3h0m4 0h0m4-4h0m3 3h0m1-3h0m4 1h0m1 3h0m1-3h0m4 4h0m3-9h0m6 0h0m0 3h0m2 1h0m2 2h0m3-3h0m4 2h0m1-4h0m0 3h0m3 3h0m1-6h0m-11 15h0m-2-2h0m-2-1h0m-3 4h0m-3-6h0m0 7h0m-1-4h0m0 3h0m-1-2h0m-3-5h0m-2 0h0m-4 0h0m-1 5h0m-1 4h0m-1-2h0m-3-3h0m-1 0h0m0 4h0m-1-5h0m-1 2h0m0 3h0m-3-7h0m-1 4h0m-1 0h0m0-5h0m-2 9h0m-1-6h0m-5-3h0m-2 7h0m-12-2h0m-8 0h0m-3 2h0m-2-3h0m-1 1h0m0-2h0m-2-3h0m-1 9h0m-1 0h0m-2 0h0m-5-9h0m-9 2h0m0-1h0m-3 1h0m-5 7h0m-2-2h0m-3 1h0m-1 1h0m-33-1h0m-1 1h0m-4-9h0m-4 4h0m-3-3h0m-1-1h0m-8 2h0m-2 7h0m0-6h0m-1 5h0m-1-1h0m-6-3h0m-1 2h0m0-6h0m-1 0h0m-2 6h0m-1-5h0m-3 2h0m-1 0h0m-1 5h0m-1 0h0m0-5h0m-4 5h0m-2-1h0m0-1h0m-10 10h0m1-4h0m2 0h0m1-2h0m3 1h0m4 5h0m3 3h0m1-5h0m2-4h0m1 9h0m1-8h0m0 4h0m3-4h0m3 7h0m1-4h0m0 4h0m1-7h0m5 1h0m1 5h0m1-3h0m1-4h0m1 1h0m2 1h0m6 6h0m7-3h0m1-4h0m0 1h0m8 3h0m4-1h0m9 4h0m3-2h0m4 1h0m12 1h0m2-2h0m3-2h0m1 1h0m3 4h0m3-7h0m4 5h0m6-5h0m0-2h0m5 8h0m0-6h0m1 3h0m4-3h0m3 6h0m1 1h0m0-8h0m1 0h0m0 1h0m2 3h0m1 4h0m2 0h0m1-2h0m3 0h0m1-6h0m3 4h0m2-4h0m1 0h0m0 4h0m0 2h0m4-5h0m1 1h0m0 4h0m1-1h0m3-3h0m0 2h0m1 4h0m2-8h0m1 3h0m0-1h0m0-1h0m4 2h0m2 2h0m8 0h0m3-6h0m4 5h0m2 0h0m3 4h0m-2 2h0m-2 0h0m-1 3h0m-4 1h0m0 3h0m-2-5h0m-1 1h0m0 3h0m-1-6h0m-3 4h0m-3-2h0m-1 1h0m-3-2h0m-1-2h0m-4 8h0m-3 1h0m0-6h0m-2 5h0m-2 0h0m-1-7h0m-6 4h0m0 4h0m-2-6h0m-3 6h0m-2-4h0m-6 3h0m-4-5h0m0 1h0m-4-4h0m-1 3h0m-1-1h0m0-1h0m0 3h0m-4 1h0m-3-5h0m-1 3h0m0-3h0m-2 9h0m0-1h0m-1-6h0m-7-1h0m0 1h0m-1 3h0m-6-2h0m-3 3h0m-3-6h0m-2 4h0m-1 1h0m-1 3h0m-7-7h0m-1 5h0m0-6h0m-4 0h0m-1 3h0m-6 3h0m-1 0h0m-1 3h0m-1-1h0m-1-4h0m-8-1h0m-3 6h0m-9-5h0m-1-3h0m-2 5h0m-1 2h0m-4-1h0m-1 0h0m-1-7h0m0 8h0m-3-4h0m-1-2h0m-4 2h0m0 4h0m-1-2h0m-6 1h0m0-1h0m-4 2h0m-1-2h0m-1 0h0m0-2h0m-3 5h0m-1-1h0m-1-3h0m-9 4h0m5 5h0m1-4h0m3 3h0m1-3h0m2 0h0m3 2h0m3 3h0m1-2h0m1 5h0m1-8h0m7 8h0m7-7h0m3 5h0m3 3h0m0-1h0m2-6h0m5 1h0m2 0h0m3 1h0m2-2h0m2 6h0m3-6h0m2 7h0m1 0h0m6-1h0m13-6h0m3 2h0m9 3h0m0-1h0m7-5h0m3 1h0m3-2h0m2 3h0m8-1h0m2 7h0m7-6h0m2 2h0m2 2h0m2-7h0m1 0h0m0 7h0m7-7h0m0 3h0m2 3h0m2-4h0m10 1h0m1-1h0m4 5h0m0-6h0m1 8h0m2 0h0m2-4h0m2-5h0m2 9h0m1-4h0m0 3h0m2-3h0m1-3h0m5 2h0m1 2h0m0-2h0m0 4h0m1-1h0m0-5h0m2 1h0m1 0h0m-6 10h0m0-3h0m-1 7h0m-9-2h0m-3 3h0m-1-4h0m-6-2h0m-2 3h0m0-5h0m-5 2h0m-1 5h0m0-1h0m-3 2h0m0-5h0m-2-1h0m-3 2h0m-2 4h0m-1-7h0m-4 0h0m-9 2h0m-1 3h0m0 1h0m-9-3h0m0 3h0m-1-3h0m-3-2h0m-3 4h0m-5-2h0m-1 1h0m-1-4h0m-2 1h0m-1 1h0m0 4h0m-3-3h0m-1-4h0m-1 2h0m-2 5h0m-1-5h0m-1 3h0m-7-2h0m-3 0h0m-2-3h0m-1 4h0m-3-3h0m-3-1h0m-1 4h0m0 2h0m-2-4h0m0 2h0m-2-1h0m-7-1h0m-6 1h0m-1 1h0m-5 2h0m0-2h0m-2-1h0m-6 3h0m0 3h0m-2-3h0m-18-6h0m-2 6h0m-6-3h0m-1-1h0m26 8h0m4 0h0m7 2h0m5 2h0m0-1h0m1-1h0m0-2h0m2 2h0m5 1h0m1 1h0m2-1h0m1 1h0m0-1h0m1 0h0m3 1h0m2 1h0m2 1h0m2 1h0m2 2h0m1-1h0m1-8h0m0 8h0m2-5h0m1 4h0m4-5h0m2 0h0m3 5h0m8-5h0m3 3h0m2 3h0m1-7h0m0 4h0m4-3h0m3 2h0m0 1h0m1 4h0m3-1h0m2-6h0m0 3h0m5-1h0m1 4h0m8-4h0m2 3h0m1-6h0m0 6h0m3-2h0m1 1h0m2 1h0m1 1h0m1-8h0m4 9h0m1-3h0m0-4h0m5 6h0m2-5h0m0-1h0m1 7h0m5-4h0m5 1h0m6-5h0m-22 10h0m-7 1h0m-1-1h0m-1 0h0m0 4h0m-4 4h0m0-2h0m-2 1h0m-2-5h0m-1 4h0m-2-1h0m-1-3h0m-1 4h0m0 2h0m0-5h0m-3 2h0m-5-3h0m-2 0h0m0-1h0m-6-2h0m-6 9h0m-1-2h0m0-1h0m-3-6h0m-2 0h0m-1 5h0m-4 0h0m-28-5h0m53 10h0m3 7h0m1-3h0m4-2h0m2 2h0m2-2h0m3-1h0" stroke="#4b5587" stroke-width="2.6" stroke-linecap="round" fill="none"/>
<path d="M1277 278h0m-3 2h0m-11 12h0m-8-1h0m35 18h0m-34 5h0m-19-4h0m73 14h0m-16 11h0m-41-2h0m-8-3h0m-82 8h0m-39 9h0m31-3h0m63 1h0m24-4h0m39 0h0m10 6h0m11 8h0m-47 0h0m-53 0h0m-4-1h0m-70 6h0m102 7h0m22-3h0m22 14h0m-57-1h0m-30 8h0m19-5h0m39 9h0m37-5h0" stroke="#b33428" stroke-width="2.6" stroke-linecap="round" fill="none"/>
<path d="M1246 266h0m1 1h0m0-1h0m1-2h0m0 1h0m1 0h0m9-1h0m0 2h0m1-3h0m2 1h0m0-3h0m-23 21h0m3 7h0m3-8h0m0-1h0m0 2h0m16 4h0m0-1h0m22 2h0m2-2h0m8 9h0m-1-1h0m-1 2h0m-29 3h0m0-5h0m-1 2h0m0 2h0m-1-2h0m-2-4h0m-17-1h0m4 21h0m-1 1h0m-1-1h0m-1 6h0m-1-2h0m84 9h0m3 3h0m-60 10h0m-1 0h0m0 2h0m-2-2h0m-79-1h0m-31 3h0m-2-1h0m-3 0h0m-2 9h0m4-6h0m0-1h0m3 0h0m8 7h0m0 2h0m1-2h0m9 1h0m14-8h0m1 5h0m0 3h0m23-4h0m1 1h0m2 0h0m0-1h0m3 0h0m50-4h0m1 3h0m1-2h0m1-1h0m24 8h0m3-1h0m3 2h0m5 5h0m-1 2h0m0 2h0m-15-2h0m-1-2h0m0-3h0m0 2h0m-1-1h0m-22 7h0m-9 0h0m-8-4h0m-1 0h0m0 1h0m-2-4h0m-56-2h0m-1 4h0m-1 1h0m0-3h0m-1 6h0m0-5h0m0 2h0m-15-4h0m-2 2h0m-5-3h0m-2 4h0m0 2h0m0 1h0m-1-2h0m-1-2h0m-2 3h0m-1-3h0m-11-3h0m-1 2h0m0-1h0m-5 7h0m-2-1h0m0 2h0m0-1h0m-10 0h0m-1 1h0m-1-2h0m1 3h0m1 2h0m12-2h0m1 1h0m1 0h0m1-1h0m16 4h0m0 4h0m0-7h0m0 4h0m0-5h0m1 3h0m1-2h0m11 4h0m3-1h0m0-1h0m0 2h0m1 2h0m10-7h0m7 9h0m2 0h0m0-1h0m1 1h0m37-3h0m1-1h0m1 0h0m1 1h0m16-4h0m11-2h0m3 0h0m9 8h0m1-1h0m14-7h0m0 2h0m0 2h0m1-4h0m1 1h0m-1 18h0m-1-1h0m-1 1h0m-1 0h0m-17-9h0m-42 8h0m-1-1h0m-2 2h0m-30-7h0m0-1h0m-21 6h0m-2 1h0m-3 0h0m0-1h0m-11-2h0m0 1h0m-1-2h0m-1 1h0m-1-1h0m-17-3h0m-1 2h0m0-1h0m87 8h0m1 1h0m32 1h0m0 1h0m4 5h0m1 2h0m0 2h0m-1 2h0m0 2h0m-1-2h0m-6 4h0m-1-1h0m0 2h0m-4 0h0m-21-3h0m-3-3h0m-1 1h0" stroke="#fff" stroke-opacity="0.85" stroke-width="2.6" stroke-linecap="round" fill="none"/>
<path d="M1122.5,350.0L1131.6,336.4L1151.9,327.4L1169.9,325.1L1183.5,334.2L1183.5,354.5L1176.7,370.3L1163.2,379.3L1145.1,379.3L1131.6,370.3Z" fill="#dd9f83"/>
<path d="M1149 327h0m2-1h0m3 2h0m5 0h0m4-2h0m3 0h0m0-4h0m2 4h0m2-1h0m2-1h0m0 2h0m3 2h0m9 11h0m-1-5h0m-2-2h0m-2-1h0m0-1h0m-36 1h0m-1 2h0m-11 5h0m0-2h0m0 3h0m-10 8h0m2-5h0m3 4h0m1-2h0m1-2h0m54 6h0m1 0h0m2 6h0m-1-2h0m0 5h0m-1 1h0m-1-1h0m-56 0h0m-3-6h0m0 5h0m6 10h0m51 1h0m-5 6h0m-2 0h0m-3 2h0m-3 1h0m-6 3h0m-3 0h0m-5-1h0m-14-2h0m-2 1h0m-3-6h0m-1 1h0m-1-2h0m12 11h0m7-1h0m2 2h0m2-2h0" stroke="#dd9f83" stroke-width="2.6" stroke-linecap="round" fill="none"/>
<path d="M1182 338h0m-1-1h0m0 1h0m-17-3h0m0 4h0m-1-1h0m0 1h0m0-2h0m-1-3h0m-1-1h0m0 6h0m-1-1h0m0-3h0m8 11h0m2 3h0m14-6h0" stroke="#fff" stroke-opacity="0.85" stroke-width="2.6" stroke-linecap="round" fill="none"/>
<path d="M1158.6,354.5L1185.7,347.7L1199.3,352.2L1199.3,381.6L1190.2,406.4L1174.4,410.9L1163.2,397.4L1156.4,379.3Z" fill="#c76859"/>
<path d="M1167 349h0m7-1h0m2 1h0m13 0h0m4-1h0m6 10h0m-1 1h0m-1-2h0m-1-4h0m-4 1h0m-1 4h0m-3-6h0m-8 3h0m0 2h0m-2-3h0m-2-3h0m-9 4h0m-12 4h0m6 2h0m1-1h0m2 2h0m3 4h0m0-4h0m1-2h0m5 8h0m4-8h0m0 8h0m4-5h0m2 0h0m2 1h0m2-3h0m2 8h0m2-5h0m4 6h0m-3 9h0m-5-4h0m-2 0h0m-8 2h0m-2-2h0m-8-2h0m0 2h0m-3-1h0m-5 14h0m8-3h0m2-4h0m4 5h0m2 1h0m1-3h0m1 3h0m0 2h0m4-7h0m2 0h0m1 6h0m3-7h0m2 1h0m0 6h0m0-1h0m1 2h0m-4 9h0m-1 1h0m-8-1h0m-3 0h0m0-5h0m-9 7h0m0 3h0m5-1h0m2 2h0m1 0h0m1-4h0m1 8h0m13-3h0m2-3h0m1 2h0m-13 7h0m-3 0h0" stroke="#b33428" stroke-width="2.6" stroke-linecap="round" fill="none"/>
<path d="M1184 349h0m15 8h0m-13-4h0m-8 3h0m-19-1h0m0 9h0m10 1h0m15-1h0m7 2h0m2-3h0m9 10h0m0-2h0m-3 3h0m-8 3h0m-10-5h0m-1 4h0m0-5h0m-4 5h0m-5-6h0m-4 0h0m-4 0h0m-2 16h0m1 1h0m18 2h0m3-8h0m1 2h0m15-2h0m0 3h0m-10 10h0m-4 3h0m-9-7h0m-2 8h0m-8-4h0m-5-3h0m7 12h0m12-2h0m8 8h0m1-4h0" stroke="#dd9f83" stroke-width="2.6" stroke-linecap="round" fill="none"/>
<path d="M1175 349h0m1 0h0m25 9h0m-4-7h0m-2 0h0m-15-1h0m-7 3h0m0-1h0m-3 4h0m-5-4h0m-4 6h0m0 10h0m2 1h0m11-1h0m1-1h0m3-4h0m8 4h0m3-7h0m1 6h0m1-6h0m3 0h0m0 8h0m5-4h0m1 6h0m-5 8h0m-6-5h0m-3 2h0m-2-5h0m-4 6h0m0-4h0m-5 4h0m0 3h0m-1-6h0m-2-2h0m-1-1h0m-1 5h0m-5-5h0m-2 3h0m-6 1h0m5 8h0m4-1h0m1 1h0m5-2h0m2 8h0m5-1h0m5-1h0m4 0h0m1-6h0m0 9h0m5-8h0m1-1h0m0 9h0m0-8h0m2 5h0m0 2h0m0-4h0m-2 7h0m-2 2h0m0 3h0m-6-2h0m-1 2h0m0-1h0m-5 0h0m-5-4h0m-5-1h0m-7 5h0m-3-5h0m0 3h0m11 15h0m8-6h0m4 5h0m2-4h0m-13 7h0" stroke="#b33428" stroke-width="2.6" stroke-linecap="round" fill="none"/>
<path d="M1199 350h0m-25 3h0m-7 6h0m-10 4h0m10 4h0m5 2h0m1-4h0m0-1h0m3-1h0m0-1h0m10 0h0m13 16h0m-1 0h0m-3 1h0m-9-1h0m-7-4h0m-4-4h0m0 8h0m-2-5h0m-7 15h0m5 0h0m10-3h0m6-2h0m11 4h0m-3 3h0m-14 1h0m-13 8h0m-1-7h0m-3 4h0m-1 1h0m16 9h0m2-1h0m0 3h0m2-1h0m4-7h0m8 0h0m-15 12h0" stroke="#dd9f83" stroke-width="2.6" stroke-linecap="round" fill="none"/>
<path d="M1188 349h0m3-1h0m2 11h0m-9-5h0m-1-2h0m-4 7h0m-3-1h0m-1-4h0m-5-1h0m-5 4h0m0-3h0m-3 0h0m-4 5h0m2 2h0m1-1h0m6 9h0m3-6h0m3 0h0m4-1h0m2 5h0m1-6h0m6-1h0m3 4h0m9-3h0m3 5h0m0-5h0m2 3h0m-12 15h0m-2 0h0m-2-7h0m-2-2h0m-4 9h0m-11-8h0m-5-1h0m0 9h0m-3-9h0m-4 3h0m-1 3h0m1 10h0m0-5h0m2 4h0m3 3h0m12-6h0m6-2h0m1 6h0m3 1h0m11-7h0m2 5h0m0 10h0m-2-1h0m0-1h0m-1 5h0m-6-4h0m-1 2h0m-3-4h0m-1 1h0m-2 6h0m0-5h0m-1 1h0m-1-4h0m-3 6h0m-1-5h0m-2 5h0m-2-4h0m-5 6h0m-1-2h0m-1-4h0m-6-1h0m-1 1h0m18 13h0m3-1h0m1 0h0m4-1h0m0-4h0m3 2h0m-3 9h0" stroke="#b33428" stroke-width="2.6" stroke-linecap="round" fill="none"/>
<path d="M1196 354h0m-1-4h0m-10 3h0m-6-2h0m-12 7h0m-1-2h0m-2-3h0m-4 2h0m0 9h0m0 3h0m16 2h0m4-5h0m19-2h0m-15 17h0m0-4h0m-9 3h0m-8 1h0m-1-8h0m-7 16h0m18-5h0m13 7h0m6-4h0m2 0h0m-3 6h0m-9 1h0m-3-1h0m-2 6h0m0-7h0m-6 2h0m-9 6h0m-2-5h0m8 7h0m3 0h0m3 0h0m1 7h0m8-1h0" stroke="#dd9f83" stroke-width="2.6" stroke-linecap="round" fill="none"/>
<path d="M1193 346h0m-3 6h0m-2 4h0m-28 32h0m1-2h0m1 1h0m1 1h0m1-1h0m21-5h0m4 0h0m1 0h0m5 2h0m0-1h0m1 0h0m-3 14h0m-4 0h0m-1-1h0" stroke="#fff" stroke-opacity="0.85" stroke-width="2.6" stroke-linecap="round" fill="none"/>
<path d="M1297.6,379.5L1304.3,386.3L1312.4,402.5L1320.5,422.8L1323.1,432.3L1317.8,435.0L1312.4,420.1L1304.3,399.8L1297.6,386.3Z" fill="#8c6b59" fill-opacity="0.9"/>
<path d="M1298 381h0m1 7h0m9 8h0m-1-4h0m-1 5h0m4 5h0m4 0h0m4 16h0m-3-2h0m-3 2h0m-2-8h0m-1 5h0m-2 2h0m5 7h0m1 5h0m8-2h0" stroke="#66a28a" stroke-width="2.6" stroke-linecap="round" fill="none"/>
<path d="M1298 383h0m5-2h0m1 8h0m0-1h0m1 1h0m2-1h0m0 17h0m7 3h0m1 9h0m-4-1h0m4 4h0m2 0h0m2 3h0m3-1h0m-5 12h0" stroke="#b33428" stroke-width="2.6" stroke-linecap="round" fill="none"/>
<path d="M1299 387h0m6 0h0m5 10h0m-1 0h0m-1 0h0m-2 8h0m1 1h0m3-3h0m3 4h0m1-3h0m5 8h0m-1 7h0m-8-7h0m9 11h0m4 6h0m-5 6h0" stroke="#66a28a" stroke-width="2.6" stroke-linecap="round" fill="none"/>
<path d="M1308 397h0m-1 2h0m-2-7h0m3 17h0m10 9h0m-7-7h0m-3-1h0m6 15h0m0-4h0m2 7h0m1-1h0m5 4h0m-2 1h0m-2 2h0" stroke="#b33428" stroke-width="2.6" stroke-linecap="round" fill="none"/>
<path d="M1300 389h0m0-7h0m2 5h0m1-1h0m1 3h0m1 0h0m0 7h0m1 7h0m6 1h0m3 0h0m2 9h0m-4-2h0m-1 8h0m1 8h0m9 3h0" stroke="#66a28a" stroke-width="2.6" stroke-linecap="round" fill="none"/>
<path d="M1301 380h0m0 3h0m1 9h0m0 1h0m-7-3h0m7 10h0m4 5h0m5 2h0m1-7h0m5 18h0m-4-2h0m-2-3h0m7 8h0m4 10h0" stroke="#b33428" stroke-width="2.6" stroke-linecap="round" fill="none"/>
<path d="M1201.2,180.3L1208.5,172.0L1219.4,170.2L1228.5,165.6L1239.4,164.7L1248.5,160.1L1254.9,164.7L1257.6,172.0L1263.1,175.7L1268.6,184.9L1268.6,189.4L1263.1,191.3L1264.9,195.9L1272.2,197.7L1277.7,199.5L1281.3,190.4L1286.8,187.6L1288.6,194.0L1295.9,203.2L1298.6,214.2L1292.2,217.9L1290.4,225.2L1295.9,230.7L1301.3,234.4L1308.6,239.9L1313.1,245.4L1308.6,247.2L1303.1,247.2L1297.7,245.4L1292.2,245.4L1288.6,250.9L1286.8,260.1L1290.4,269.3L1293.1,278.4L1290.4,283.0L1284.9,278.4L1279.5,269.3L1274.0,260.1L1264.9,257.3L1255.8,257.3L1246.7,260.1L1237.6,264.7L1232.2,272.0L1226.7,273.9L1223.1,267.4L1220.3,255.5L1215.8,241.7L1208.5,236.2L1201.2,232.6L1197.6,223.4L1196.7,212.4L1198.5,195.9L1199.4,186.7Z" fill="#875d6d" fill-opacity="0.97"/>
<path d="M1224 168h0m2-1h0m4 1h0m1-6h0m2 5h0m8-4h0m2-2h0m0 3h0m11 5h0m5 7h0m-2 1h0m-1-2h0m-4 3h0m-21-2h0m-6-6h0m-3 6h0m-4-2h0m-5-1h0m-5 0h0m-2 5h0m-1-4h0m-8 6h0m13 5h0m1 1h0m13-4h0m2 5h0m1-4h0m18 4h0m9-2h0m7-4h0m2 6h0m2 0h0m16 1h0m7 1h0m2 7h0m-2 1h0m-7-4h0m-1 1h0m0 2h0m-2 3h0m-1-1h0m-6-8h0m0 6h0m-6 1h0m-16-6h0m-17 8h0m-5-8h0m-4 2h0m-2 5h0m-14-3h0m-8 4h0m-3-3h0m1 13h0m3-5h0m1 0h0m9-4h0m10 7h0m10-2h0m8 4h0m5-5h0m4 5h0m5-5h0m15-1h0m1 2h0m0 2h0m9-3h0m1-2h0m23 8h0m-9 0h0m-16 3h0m-4-1h0m-10 6h0m-15-4h0m-1 4h0m-10-6h0m-2 5h0m-18-4h0m-6 6h0m-3-6h0m-6-3h0m-1 2h0m-2 9h0m2 1h0m2-2h0m11 3h0m3 2h0m10-4h0m8 8h0m1-1h0m3 0h0m2-1h0m5-5h0m2 1h0m2 4h0m5-7h0m7 0h0m2 6h0m1-2h0m1-2h0m2 0h0m0 4h0m3-2h0m4 3h0m5-3h0m0 4h0m10-7h0m2 7h0m2-5h0m11 12h0m-8 1h0m-3 0h0m0-3h0m-7-3h0m-5 4h0m-6 3h0m-9 0h0m-2-3h0m-4-4h0m-3 4h0m-9 2h0m-3-1h0m-5 0h0m-4-2h0m-1 4h0m0 1h0m0-5h0m-5 1h0m-1 3h0m0 2h0m-4-4h0m-4 3h0m-2-5h0m-3 6h0m-1-4h0m1 9h0m6 0h0m3 0h0m3 5h0m1-1h0m19-7h0m1 4h0m1-4h0m4 6h0m3-1h0m7 1h0m2 2h0m3-9h0m4 8h0m0-3h0m0 4h0m1-1h0m9-5h0m11 4h0m7-5h0m1 0h0m4 0h0m6-1h0m-3 10h0m-22 5h0m-6 0h0m-1-6h0m0 2h0m-4 6h0m-7-6h0m-12-2h0m-1 9h0m-14-2h0m-1-5h0m-11-1h0m0 6h0m-1 2h0m0-3h0m-3-3h0m-4 6h0m0-4h0m-3-5h0m8 12h0m1 6h0m13-6h0m33-2h0m4 7h0m2-2h0m3 4h0m0-3h0m2 0h0m1 2h0m6 7h0m-3 3h0m0-7h0m-7 2h0m-3 2h0m-48-4h0m-6 1h0m-2 2h0m65 6h0m4 0h0" stroke="#4b5587" stroke-width="2.6" stroke-linecap="round" fill="none"/>
<path d="M1245 158h0m-4 7h0m19 6h0m-5 3h0m-1 1h0m-3-2h0m-9 5h0m-2-3h0m-2-3h0m-2 3h0m-4 4h0m-9-6h0m-17 8h0m11 3h0m8 3h0m1-7h0m2 4h0m13 3h0m24-2h0m4 1h0m-5 7h0m-6 3h0m-3-5h0m-3 8h0m-2-4h0m-7 4h0m-11 0h0m-7-5h0m-2-4h0m-8 7h0m0-5h0m-14 2h0m-1 2h0m-3 3h0m13 6h0m5-1h0m6 4h0m7 0h0m7-4h0m20 2h0m3 2h0m1-5h0m6 6h0m1-4h0m6 0h0m2 3h0m2-4h0m18-3h0m2 3h0m-4 11h0m-3 0h0m-10 4h0m-2-2h0m-14-5h0m-5 2h0m-1 4h0m-9 1h0m-18-5h0m-2 4h0m-2-6h0m-7 7h0m-6-7h0m0 4h0m-8-4h0m-5 9h0m13 1h0m3 4h0m8-3h0m9 5h0m16-1h0m7 1h0m3-3h0m6-1h0m2 4h0m0-5h0m1 4h0m0-6h0m6 6h0m1 0h0m1-4h0m4 4h0m0-7h0m2 7h0m8-3h0m1 4h0m2-4h0m9 12h0m-2-1h0m-1-2h0m-2 6h0m0-1h0m-7-3h0m-1-4h0m-2 0h0m-2 2h0m-6 6h0m-4-9h0m-2 9h0m-8-5h0m-4 5h0m-4-6h0m-7-2h0m-6 2h0m-4 0h0m-2 4h0m0-5h0m-3 3h0m-10 2h0m-1-7h0m-4 2h0m-3-1h0m-3 2h0m-4-2h0m-2 2h0m10 12h0m2-5h0m7 0h0m4 3h0m2-3h0m1 8h0m6-7h0m1 2h0m6-3h0m5 6h0m4 3h0m2-4h0m1 3h0m2-1h0m1 1h0m12-4h0m1 0h0m5-2h0m6 0h0m0 3h0m6-2h0m8-3h0m3 0h0m3 0h0m-19 18h0m-1-1h0m-5 1h0m-1-3h0m-1 1h0m-12-1h0m-16 3h0m0-8h0m-2 9h0m-13-9h0m-9 5h0m-10 0h0m5 10h0m3-2h0m2-1h0m2 6h0m2-4h0m4 5h0m1-7h0m40 1h0m7-1h0m-50 13h0m-2-4h0m-1-1h0m0 2h0" stroke="#b33428" stroke-width="2.6" stroke-linecap="round" fill="none"/>
<path d="M1224 179h0m-11-3h0m22 7h0m14-3h0m37 13h0m-64 3h0m-7 1h0m-1-4h0m-16 9h0m18 0h0m70 3h0m-1 11h0m-63 2h0m0-4h0m-1-2h0m-14 5h0m11 30h0m73-5h0m3 1h0m18 3h0m-24 7h0m-2 4h0m-12-5h0m-33-1h0m-19 13h0m13 2h0" stroke="#66a28a" stroke-width="2.6" stroke-linecap="round" fill="none"/>
<path d="M1265 175h0m-13 0h0m-10 5h0m-37 12h0m-1 9h0m34 44h0m57-4h0m-12 16h0m-55 9h0m10-5h0m49 8h0m-5 3h0m10 9h0" stroke="#dd9f83" stroke-width="2.6" stroke-linecap="round" fill="none"/>
<path d="M1230 165h0m7 1h0m11-2h0m8 5h0m0-5h0m6 11h0m-8-5h0m0 8h0m-2-2h0m-22-5h0m-1 5h0m-2 0h0m-1-6h0m-1 9h0m-3-3h0m-5-5h0m-7 8h0m-5-4h0m-3 10h0m0 1h0m1-4h0m1-1h0m3 6h0m11-4h0m5 2h0m1 0h0m6-5h0m5 9h0m0-3h0m3-5h0m12 4h0m11 0h0m5 3h0m23 6h0m0 3h0m-1-1h0m0-5h0m-2 1h0m-9 4h0m-10-1h0m0-5h0m-1 9h0m-1-3h0m-3-2h0m-6 3h0m-3-3h0m0 4h0m-5 1h0m-10-5h0m-12-2h0m0 1h0m-3 6h0m-3-8h0m-7 8h0m-5-9h0m-2 9h0m0-3h0m-3-4h0m-1 0h0m0 6h0m-2-7h0m-1 4h0m-3 3h0m7 8h0m5-1h0m6 2h0m5-2h0m2-2h0m3-2h0m6 8h0m1-5h0m5 5h0m1-4h0m7-4h0m2 6h0m3-7h0m6 8h0m1-8h0m16 3h0m2 5h0m7-2h0m8-2h0m6 2h0m2 6h0m-18 6h0m-4-2h0m-12-2h0m-1 0h0m-2 1h0m0 4h0m-2-9h0m-1 0h0m-4 3h0m-3 3h0m-2-5h0m-3 4h0m-2 4h0m-1-1h0m-8-2h0m-16-3h0m-12 4h0m-5-4h0m-1-3h0m-5 10h0m1 2h0m7 2h0m1 0h0m6 3h0m5-5h0m9 1h0m11 3h0m3-3h0m0 6h0m4-4h0m1-4h0m1 0h0m7 8h0m0-5h0m4 0h0m2 1h0m22-1h0m11 0h0m7 12h0m-17-4h0m-5 2h0m-4-2h0m-2 2h0m-4 3h0m-1 1h0m-3-3h0m-4-3h0m-6 5h0m-1-6h0m-1 6h0m-8-6h0m-2 1h0m0 4h0m-17-2h0m-2 4h0m-7-4h0m-6 2h0m-2-6h0m-6 3h0m20 15h0m0-7h0m10 7h0m0-8h0m1 1h0m2 2h0m9-1h0m3 2h0m4 0h0m8-4h0m2 6h0m13-2h0m2 1h0m4-4h0m0 3h0m1-1h0m3 0h0m0-3h0m10 0h0m1 2h0m7 2h0m3-2h0m3 3h0m5 4h0m-27 2h0m-3 5h0m-1-1h0m-3-1h0m-4 0h0m-1-4h0m-2 8h0m-14-6h0m-1 5h0m-5-7h0m0 8h0m-4-8h0m-14 0h0m-4 0h0m-6 3h0m4 16h0m0-1h0m8-6h0m2 0h0m4 5h0m17-7h0m15 0h0m2 0h0m4 3h0m14 13h0m-3 3h0m-2-5h0m-54-3h0m59 13h0" stroke="#4b5587" stroke-width="2.6" stroke-linecap="round" fill="none"/>
<path d="M1216 169h0m8 0h0m12-6h0m6 2h0m9-2h0m6 14h0m0 2h0m-2-8h0m-2 7h0m-1-2h0m-4 3h0m-7-4h0m-4 0h0m-16-5h0m-16 5h0m-1 1h0m-3 8h0m2 0h0m0 2h0m1-3h0m1 6h0m4-4h0m9 2h0m5-6h0m6 8h0m0-1h0m2-8h0m2 9h0m14-5h0m7 4h0m9-3h0m21 12h0m-7 1h0m-5-1h0m-9-3h0m-8-1h0m-7 1h0m-2 0h0m-1 2h0m-7-6h0m0 3h0m-3 5h0m-1-1h0m-4-4h0m-3 2h0m-15 2h0m-1-2h0m-3 3h0m-6-7h0m-7 11h0m5 6h0m19 0h0m15-1h0m17-3h0m18-1h0m1 2h0m10-3h0m2 1h0m3 0h0m3-2h0m4 0h0m0 2h0m6 0h0m-7 10h0m0 3h0m-4 0h0m-16-1h0m-6 3h0m-1-6h0m-1 6h0m-4-5h0m-6-3h0m-12 1h0m0-1h0m-6 9h0m-1-3h0m-2 1h0m-1-7h0m-9 5h0m-2 0h0m-5-2h0m-14 1h0m-4-3h0m-2 1h0m3 12h0m8-4h0m2 6h0m10 2h0m2 1h0m9-9h0m4 7h0m3-5h0m6 1h0m4 4h0m2-6h0m6 0h0m2 4h0m1 4h0m4 0h0m4-1h0m13-5h0m8 3h0m14 13h0m-7-6h0m-11 1h0m-11 5h0m-8-2h0m-11-3h0m-4 3h0m0-4h0m-16 2h0m-4 0h0m-2-2h0m-6 4h0m0 1h0m-1-4h0m-5 1h0m-3-5h0m6 13h0m6-3h0m1 9h0m6 0h0m2-3h0m12-6h0m6 1h0m12 7h0m1 1h0m1-2h0m0-6h0m10 0h0m2-1h0m12 6h0m8-4h0m0 2h0m5 1h0m1 1h0m2-2h0m8 0h0m-23 10h0m-10 1h0m-17 0h0m-4 1h0m-3-2h0m-5-2h0m-2 4h0m-21-5h0m-7 3h0m2 11h0m7 4h0m4-8h0m51 6h0m2-7h0m3 4h0m6 12h0m-4-3h0m-3 3h0m-4-5h0m-4-1h0m-48 5h0m-3-5h0m-6 0h0m-2 1h0m62 9h0" stroke="#b33428" stroke-width="2.6" stroke-linecap="round" fill="none"/>
<path d="M1238 165h0m3-1h0m-2 13h0m-1 7h0m4 0h0m34 13h0m-43 2h0m-5-2h0m-24 3h0m56 9h0m6-2h0m24-2h0m-30 6h0m-15 1h0m-16 0h0m10 17h0m39-1h0m28 11h0m-8-6h0m-29-2h0m-45 8h0m-16-7h0m44 16h0m-28 12h0m2 8h0m2 0h0" stroke="#66a28a" stroke-width="2.6" stroke-linecap="round" fill="none"/>
<path d="M1235 170h0m-1 8h0m13 19h0m-34 0h0m76 16h0m-36 2h0m5 16h0m-29 1h0m-10 0h0m28 8h0m35 6h0m23 4h0m-63 12h0" stroke="#dd9f83" stroke-width="2.6" stroke-linecap="round" fill="none"/>
<path d="M1226 168h0m1-1h0m3 0h0m12 0h0m5-3h0m7 5h0m8 5h0m-1-1h0m-4 4h0m-2 2h0m-2-1h0m-2-2h0m-1-4h0m-1 7h0m-1 0h0m-6-6h0m-3 4h0m-1 2h0m-1-3h0m-4 0h0m-2-1h0m-2-1h0m-1-2h0m-7-2h0m-5 8h0m-13-4h0m-2 9h0m5-3h0m3 0h0m1 4h0m10-2h0m0 6h0m8-3h0m0 2h0m8 0h0m2 2h0m2-9h0m5 5h0m5-5h0m1 9h0m0-3h0m2-1h0m1-4h0m8 3h0m3-2h0m5 2h0m20 12h0m-10 0h0m-4 2h0m-10-3h0m-1 2h0m-14 1h0m-2-1h0m-5-5h0m-3 5h0m-10 2h0m-4 0h0m-4-1h0m-4-1h0m-6-4h0m-1 3h0m-1-3h0m-8 5h0m-2 3h0m3 6h0m1-4h0m3 0h0m17 0h0m6-2h0m8 5h0m4 3h0m4-6h0m7 6h0m4-2h0m0 2h0m12-6h0m2 0h0m4-1h0m2-2h0m3 6h0m0 3h0m18 7h0m-4 0h0m-2-2h0m-11 4h0m-3-8h0m-7 9h0m-2-9h0m-11 4h0m-5-3h0m-4 3h0m-5-2h0m-5-1h0m-4 6h0m-5-6h0m-2 8h0m-2-1h0m-5-3h0m-12-3h0m-7 4h0m-3 4h0m10 4h0m16 4h0m6 1h0m1-4h0m4-4h0m2 3h0m2-4h0m12 0h0m1 5h0m2-1h0m1-2h0m7 7h0m3-1h0m3-4h0m3 0h0m3-4h0m2 0h0m2 5h0m10 0h0m9 4h0m3 10h0m-17-6h0m-5 1h0m-4 0h0m-1-3h0m0 2h0m-6-3h0m-6 4h0m0-1h0m-4 0h0m-21 1h0m-4 4h0m-2-1h0m-4-6h0m-6-1h0m-2 8h0m-4-6h0m-8-1h0m-7 1h0m13 12h0m8-3h0m1 0h0m3 5h0m1-5h0m7-1h0m5 0h0m8 2h0m1-1h0m0-1h0m4 5h0m4-2h0m4 4h0m4-2h0m0-1h0m2 5h0m4-4h0m12 4h0m1-4h0m2 1h0m2-6h0m8 5h0m8 2h0m5-2h0m5-1h0m-8 6h0m-19 6h0m-11 0h0m-3 1h0m-5-2h0m0 3h0m-7-7h0m-5 3h0m-5-3h0m-1 5h0m-8-2h0m-1-2h0m-4 7h0m-1-1h0m-5 1h0m-5 0h0m-1-2h0m-2-5h0m7 8h0m5 1h0m1 5h0m3-5h0m1 1h0m1-1h0m0 6h0m10-7h0m29 5h0m12 4h0m0-5h0m-2 12h0" stroke="#4b5587" stroke-width="2.6" stroke-linecap="round" fill="none"/>
<path d="M1228 168h0m3-3h0m5 0h0m9 3h0m1-5h0m2-3h0m5 3h0m3 8h0m-4 0h0m-1 6h0m-2 0h0m-8 0h0m-29 2h0m-3-2h0m-2-7h0m-2 7h0m-1 0h0m4 12h0m10-6h0m5 6h0m1-2h0m27-3h0m4 1h0m5-2h0m1-1h0m2 5h0m5 0h0m1 0h0m21 1h0m-8 6h0m-5 3h0m-26-2h0m-1 3h0m-2-6h0m-7-1h0m-3 0h0m-2-1h0m-2 4h0m-5-2h0m-2 4h0m0-1h0m-3 4h0m-12 0h0m-5 0h0m-1-5h0m6 15h0m13-5h0m1 5h0m7-3h0m0 2h0m3-8h0m16 6h0m1-5h0m2 8h0m6 0h0m8-3h0m3-1h0m5 4h0m0-9h0m4 9h0m6-8h0m7-1h0m2 6h0m0 1h0m1-4h0m0 11h0m-8-3h0m-4 0h0m-2 1h0m-11 6h0m-8-1h0m-8 2h0m-4-2h0m-4-1h0m-1-4h0m-7-1h0m-4 0h0m-4 5h0m-4 3h0m-1-4h0m-10 2h0m0 2h0m-4-5h0m-2 3h0m-3-4h0m-3 6h0m0-7h0m-7 1h0m-4 1h0m8 6h0m2 3h0m2 6h0m1 0h0m5-2h0m5-3h0m5-1h0m1 5h0m12-7h0m0 7h0m9-6h0m15 0h0m1 2h0m4-4h0m15 6h0m6 2h0m2-3h0m3-2h0m0-1h0m14 14h0m-11-6h0m0 7h0m-6-3h0m-10 3h0m-4-6h0m-1 5h0m-7 1h0m-4-6h0m-11 6h0m-3 2h0m-11-1h0m-7 1h0m-1-6h0m-5 6h0m-3-9h0m-6 2h0m-5 3h0m33 5h0m1 9h0m2-2h0m17-7h0m22 1h0m5 7h0m23-1h0m-5 4h0m-23 6h0m-4-2h0m-7 2h0m-3-4h0m-2 2h0m-2 2h0m-10 0h0m0-3h0m-5-2h0m-2 0h0m-1 7h0m-2-8h0m-7 4h0m-8 3h0m-6-7h0m0 2h0m-5 1h0m0 2h0m3 12h0m0-3h0m3-4h0m17 1h0m37 2h0m3 2h0m3 2h0m2 2h0m-1 1h0m-51 2h0m54 9h0" stroke="#b33428" stroke-width="2.6" stroke-linecap="round" fill="none"/>
<path d="M1221 168h0m32 11h0m4 2h0m4 5h0m11 12h0m-56-7h0m6 10h0m7 7h0m14 8h0m-27-3h0m72 25h0m-11-3h0m-20 0h0m-6 6h0m3 4h0m33-1h0m2 1h0m21 2h0m-29 9h0m-23-2h0m-30-4h0m-7 8h0m5 3h0m40-1h0m27 16h0m-4 1h0" stroke="#66a28a" stroke-width="2.6" stroke-linecap="round" fill="none"/>
<path d="M1285 189h0m-65 6h0m-2-4h0m77 25h0m-92 3h0m8 10h0m18-9h0m52 14h0m-33-3h0m-37 4h0m62 6h0m20 3h0m-6 13h0" stroke="#dd9f83" stroke-width="2.6" stroke-linecap="round" fill="none"/>
<path d="M1249 179h0m-1 0h0m-1-4h0m-26 4h0m-19 10h0m17-4h0m1-3h0m0-1h0m1 0h0m1 0h0m21-1h0m1 3h0m2 0h0m2 3h0m0 2h0m2-7h0m2-1h0m1 1h0m5-1h0m30 18h0m-8 1h0m-1 0h0m-18 0h0m-2-3h0m0 1h0m-1 1h0m-2-3h0m-13 0h0m-1-3h0m0-2h0m-39 3h0m-1 0h0m48 16h0m0-2h0m12-7h0m23 1h0m2 0h0m0-1h0m0 4h0m-84 10h0m-2 0h0m0 1h0m-4 0h0m12 13h0m27-3h0m2 1h0m19 0h0m1 0h0m5 2h0m-21 6h0m-1 1h0m-1-3h0m0 2h0m-1 0h0m0-1h0m-1 2h0m0-5h0m0 2h0m-30 1h0m-1 1h0m-1-2h0m-3 0h0m42 13h0m0 3h0m1-3h0m1 1h0m1 2h0m2-1h0m59-3h0m0 2h0m2-4h0m1 6h0m0-1h0m-30 12h0m-2 0h0m-4-3h0m-3-3h0m-1 0h0m-13 6h0m0-3h0m-1-2h0m0 2h0m0-3h0m-1-2h0m23 9h0m2 3h0" stroke="#fff" stroke-opacity="0.85" stroke-width="2.6" stroke-linecap="round" fill="none"/>
<path d="M1197.4,189.0L1209.1,171.3L1224.9,169.3L1224.9,198.8L1219.0,228.3L1211.1,248.0L1203.3,248.0L1197.4,224.4Z" fill="#5d5879" fill-opacity="0.95"/>
<path d="M1216 169h0m12 3h0m-2 7h0m-2-3h0m-6 2h0m-1-5h0m-1 4h0m0-7h0m-1 9h0m0-6h0m-5 3h0m-5 3h0m-2-3h0m-4 10h0m10-4h0m3 2h0m1 1h0m0 4h0m1-6h0m8-3h0m1 12h0m-2 1h0m-4 3h0m-7 2h0m0-3h0m-2-1h0m-8 15h0m0-5h0m3 1h0m2 2h0m10-7h0m0 3h0m7 0h0m2-2h0m2 1h0m-1 10h0m-5-1h0m-12 7h0m-2-1h0m-1 2h0m-6-1h0m-2 4h0m1 2h0m6 5h0m4-7h0m1 5h0m2-7h0m0 5h0m1 4h0m3-8h0m2 4h0m0-4h0m4 1h0m0 3h0m-5 7h0m-1-2h0m-2 3h0m-6 2h0m-3-3h0m-4-2h0m4 12h0m1 1h0m2 3h0m5-6h0m1 2h0m-5 8h0" stroke="#4b5587" stroke-width="2.6" stroke-linecap="round" fill="none"/>
<path d="M1214 176h0m-1-5h0m-15 18h0m2-6h0m1-2h0m4 4h0m15 4h0m2 18h0m-18 12h0m-6-9h0m7 12h0m1 5h0m4-3h0m11 3h0m-19 14h0" stroke="#b33428" stroke-width="2.6" stroke-linecap="round" fill="none"/>
<path d="M1221 176h0m-1 14h0m-7 5h0m-4 1h0m-3-1h0m-10 22h0m7 4h0m2 5h0m-1 17h0" stroke="#66a28a" stroke-width="2.6" stroke-linecap="round" fill="none"/>
<path d="M1226 171h0m-11 8h0m-1 0h0m-3-8h0m-3 1h0m-10 15h0m3 2h0m6-6h0m9 6h0m0-1h0m6-8h0m2 3h0m1 4h0m-7 11h0m-2-4h0m-1-3h0m-1 0h0m-1 2h0m-10 3h0m-2-1h0m-2 2h0m-2-6h0m-1-1h0m-1 10h0m10 6h0m2 0h0m1-6h0m0 2h0m2 0h0m1 3h0m1 3h0m2 0h0m3-2h0m3 1h0m5-6h0m0 6h0m-4 11h0m-7-1h0m0-2h0m-1 0h0m-3 3h0m-2 0h0m-10 1h0m1 3h0m8 6h0m3-6h0m4-1h0m1 1h0m1 4h0m1 3h0m0 10h0m-4-1h0m-7-6h0m-1-1h0m-3-1h0m-1 1h0m-4 1h0m5 10h0m1 1h0m0-1h0m2 5h0m4-2h0m2-4h0m0 3h0m3-3h0m2 0h0" stroke="#4b5587" stroke-width="2.6" stroke-linecap="round" fill="none"/>
<path d="M1215 173h0m-5 4h0m-3-2h0m-5 13h0m23 5h0m-3 0h0m-23 15h0m16 9h0m-15 0h0m3 7h0m13 4h0m-8 4h0m-8 6h0m2 6h0m5 3h0" stroke="#b33428" stroke-width="2.6" stroke-linecap="round" fill="none"/>
<path d="M1216 173h0m-7 9h0m19 4h0m-23 22h0m8-4h0m8 15h0m-23 1h0m7 3h0m5 0h0" stroke="#66a28a" stroke-width="2.6" stroke-linecap="round" fill="none"/>
<path d="M1222 168h0m0 10h0m-4-8h0m-7 9h0m-2-5h0m-4 0h0m-6 11h0m2 3h0m0-4h0m5 2h0m1-1h0m8-1h0m1-4h0m7 7h0m1-6h0m1 11h0m-5 3h0m-13 0h0m-6-2h0m-1-1h0m-1 3h0m0-1h0m-1 5h0m0 1h0m3 1h0m0-1h0m4 1h0m3 3h0m1 1h0m5 0h0m3-4h0m2 8h0m2-2h0m0-4h0m1 6h0m1-5h0m0 1h0m1-1h0m-5 8h0m-5 0h0m-3-1h0m-2 7h0m-6-6h0m0 6h0m-3-5h0m-1 2h0m-4 1h0m3 7h0m6 1h0m2-4h0m3 2h0m2 7h0m3-4h0m1-1h0m2 4h0m3-8h0m-10 13h0m-1-2h0m-3 7h0m-2 0h0m-3-6h0m-1 6h0m3 8h0m2-6h0m1 3h0m2 0h0m0 3h0m4-2h0" stroke="#4b5587" stroke-width="2.6" stroke-linecap="round" fill="none"/>
<path d="M1206 187h0m2 4h0m-4 8h0m18 4h0m5-3h0m-10 19h0m-23 4h0m4-1h0m19 2h0m1 3h0m-2 7h0m-5-2h0m-1 1h0" stroke="#b33428" stroke-width="2.6" stroke-linecap="round" fill="none"/>
<path d="M1220 173h0m-2 3h0m-1 1h0m-6 5h0m14 13h0m-2 15h0m-22 8h0m12 12h0m-9 13h0" stroke="#66a28a" stroke-width="2.6" stroke-linecap="round" fill="none"/>
<path d="M1218 169h0m2 1h0m-1 3h0m-4-3h0m-13 18h0m3 0h0m-1 2h0m-2 0h0m-3 2h0m3 35h0m2 2h0m0-1h0m1-3h0m0 2h0" stroke="#fff" stroke-opacity="0.85" stroke-width="2.6" stroke-linecap="round" fill="none"/>
<path d="M1219.0,218.5L1238.6,204.7L1262.2,208.6L1278.0,218.5L1270.1,248.0L1248.5,257.8L1228.8,257.8L1219.0,240.1Z" fill="#a15154" fill-opacity="0.95"/>
<path d="M1243 206h0m4 3h0m6 0h0m21 9h0m-10 1h0m-2-3h0m-2 0h0m-6-2h0m-17-4h0m-21 9h0m2 7h0m4-3h0m1-3h0m1 3h0m1-2h0m1 0h0m4 1h0m9-1h0m1 2h0m2 6h0m3-9h0m0 4h0m1 4h0m2-5h0m1 6h0m2-8h0m8 4h0m3-4h0m2 4h0m12-2h0m4 0h0m-4 12h0m-3 2h0m0-7h0m-2 9h0m-1-4h0m-9-4h0m-3 7h0m-4 1h0m-3-1h0m-5 0h0m-2-3h0m0 1h0m-1 1h0m0-5h0m-4-2h0m-3 8h0m-4-6h0m-14 7h0m0-5h0m5 12h0m4 0h0m5-3h0m1 4h0m3-3h0m2 3h0m2 2h0m3-7h0m3 0h0m2 5h0m5-3h0m3-2h0m1 3h0m4-4h0m-3 10h0m-1-1h0m-8 6h0m-1-4h0m0 4h0m-1-5h0m-6 4h0m-4 0h0m-1 3h0m-5-2h0m0 2h0m-1-5h0m-1 1h0m-1-1h0m-1 1h0m0 1h0" stroke="#b33428" stroke-width="2.6" stroke-linecap="round" fill="none"/>
<path d="M1261 207h0m13 7h0m-1 2h0m-2-4h0m-11 2h0m-13 4h0m-17-5h0m-6 1h0m-9 13h0m7-3h0m9-3h0m9 4h0m2-3h0m4 6h0m2-6h0m12 5h0m7 0h0m6-4h0m1 8h0m-4 2h0m-12 5h0m-17-2h0m-11-4h0m-4 1h0m-5 6h0m9 2h0m9 0h0m24 8h0m4 2h0m-16 1h0m-6 2h0m-15 1h0m-1-1h0" stroke="#4b5587" stroke-width="2.6" stroke-linecap="round" fill="none"/>
<path d="M1261 212h0m-45 10h0m8 0h0m4 0h0m20 1h0m-5 10h0m-25 1h0m3 10h0m32 2h0m12-2h0m0 1h0m-7 11h0m-3-6h0m-22 7h0" stroke="#dd9f83" stroke-width="2.6" stroke-linecap="round" fill="none"/>
<path d="M1234 208h0m6-1h0m4-2h0m3 1h0m2 1h0m10 1h0m16 8h0m-3 0h0m-5 2h0m-8-2h0m-1-2h0m0-3h0m-6 1h0m-2 7h0m-8-2h0m0 2h0m-3-6h0m-10 6h0m-2-7h0m-2 3h0m-6 12h0m3-4h0m4-2h0m4 8h0m2-5h0m0-3h0m4 7h0m2-8h0m0 4h0m4 2h0m1-4h0m5 4h0m1-4h0m4 6h0m2-1h0m4-5h0m7 3h0m3-1h0m3 12h0m-9 0h0m-7-1h0m-6-4h0m-3 8h0m-3-4h0m0 2h0m-3-6h0m-13 2h0m-4 6h0m-4 7h0m1-1h0m1 1h0m1-4h0m1 0h0m2 1h0m2 0h0m2 6h0m2-7h0m2 0h0m7-1h0m4 5h0m1-6h0m2 7h0m3-4h0m3-2h0m2 5h0m0-3h0m2 6h0m10-4h0m0 3h0m3-5h0m-5 7h0m-13 6h0m-4-5h0m-2 5h0m-1 0h0m-1-4h0m0 2h0m-2 2h0m-9-3h0m-5 2h0" stroke="#b33428" stroke-width="2.6" stroke-linecap="round" fill="none"/>
<path d="M1246 203h0m10 5h0m16 10h0m-8 0h0m-1-6h0m-7-1h0m-1 4h0m-11-5h0m-9 3h0m-15 1h0m5 8h0m4 7h0m6 0h0m8-1h0m4 1h0m10 0h0m8-6h0m4-2h0m5 7h0m1-4h0m1-1h0m-3 12h0m-1-1h0m-16 5h0m-12-3h0m-4-5h0m-14 7h0m-1-2h0m-2 10h0m38 0h0m6 6h0m-38 5h0m-3-5h0" stroke="#4b5587" stroke-width="2.6" stroke-linecap="round" fill="none"/>
<path d="M1236 204h0m10-1h0m1 6h0m23 5h0m-20-4h0m-30 15h0m3-2h0m10 5h0m33-1h0m13-3h0m-26 14h0m-2-5h0m-32-3h0m47 19h0" stroke="#dd9f83" stroke-width="2.6" stroke-linecap="round" fill="none"/>
<path d="M1236 207h0m19-3h0m2 4h0m22 7h0m-9 0h0m-1-2h0m-5 3h0m-12-1h0m0 4h0m-3-3h0m0-1h0m-1-4h0m-3 4h0m-8-2h0m-2-1h0m-2-2h0m-1 5h0m-3 0h0m-2-1h0m1 15h0m0-7h0m1-1h0m8 6h0m0-5h0m0 6h0m11-8h0m2 3h0m5 5h0m0-6h0m15-2h0m0 3h0m2 0h0m0-3h0m3 8h0m2 7h0m-3-2h0m-1 4h0m0-1h0m-2-5h0m-1 2h0m-2-1h0m-2-2h0m-1 6h0m-3 0h0m-11-1h0m-3 0h0m-1 1h0m-1 0h0m0-1h0m-5-1h0m-2 0h0m0 2h0m-1-4h0m-8 0h0m-2-2h0m-6 3h0m-3 5h0m1 4h0m1-2h0m9 4h0m8 0h0m7 3h0m3-6h0m1 7h0m0-5h0m1 4h0m8-6h0m3 6h0m7 1h0m3-2h0m-5 7h0m-8 0h0m-7 0h0m-2-1h0m-5-2h0m-3 9h0m-3-4h0m-4 1h0m-9-5h0m16 10h0" stroke="#b33428" stroke-width="2.6" stroke-linecap="round" fill="none"/>
<path d="M1235 209h0m32 7h0m-1 0h0m-6-6h0m-7 8h0m-1-2h0m-6-3h0m-4 1h0m-7 4h0m-7 1h0m-2 7h0m1-6h0m12 0h0m26 9h0m1-1h0m-2 10h0m-5-7h0m-12 2h0m-3 1h0m-5-4h0m-10 9h0m-14-4h0m16 7h0m0 7h0m29-6h0m0 3h0m8 0h0m-16 4h0m-7 4h0m-5-4h0m-3 0h0m0 3h0" stroke="#4b5587" stroke-width="2.6" stroke-linecap="round" fill="none"/>
<path d="M1238 209h0m27 18h0m3-2h0m-14 13h0m-5 1h0m-27-8h0m2 17h0m30-3h0m8 1h0m2-1h0m7-3h0m-11 8h0m-11 2h0m-20 2h0" stroke="#dd9f83" stroke-width="2.6" stroke-linecap="round" fill="none"/>
<path d="M1261 219h0m-4 1h0m2 1h0m-5 28h0m0 5h0m-2-4h0m-1 1h0m0-1h0m-17 1h0m0 1h0m-2 1h0m-1 1h0m0-1h0m0-1h0m0-1h0m-2 0h0m0 2h0m0-1h0" stroke="#fff" stroke-opacity="0.85" stroke-width="2.6" stroke-linecap="round" fill="none"/>
<path d="M1278.0,189.0L1287.8,189.0L1297.6,212.6L1313.3,244.0L1301.5,248.0L1285.8,232.2L1278.0,212.6Z" fill="#947f6e" fill-opacity="0.9"/>
<path d="M1287 190h0m-5 8h0m-4 2h0m2 4h0m1-1h0m6-1h0m5-2h0m8 19h0m-3-3h0m-1 3h0m-7-4h0m-1 1h0m-3-4h0m-1 6h0m-4 1h0m6 1h0m5 6h0m7-5h0m6 5h0m5 11h0m-3-5h0m-9 6h0m-5-7h0m-3 3h0m8 7h0m5 6h0m0 1h0m2-8h0m1 1h0m6-1h0m0 3h0" stroke="#66a28a" stroke-width="2.6" stroke-linecap="round" fill="none"/>
<path d="M1291 197h0m-1 1h0m-1-5h0m-1-2h0m-3 2h0m-4-1h0m-1-2h0m-1 1h0m-3 2h0m2 16h0m5-1h0m11-1h0m1 1h0m2 6h0m-5-4h0m-4 8h0m-1-2h0m-2 2h0m4 10h0m2 0h0m5-5h0m6 2h0m3 10h0m-13 3h0m-6-6h0m10 11h0m4 3h0m12-6h0m1 3h0" stroke="#b33428" stroke-width="2.6" stroke-linecap="round" fill="none"/>
<path d="M1286 186h0m4 9h0m-2-2h0m-2-1h0m-1 0h0m-7 3h0m-2-2h0m2 13h0m4 0h0m3-5h0m5 3h0m5 5h0m6 9h0m-6-8h0m-3 4h0m-7 2h0m-1-1h0m-1 3h0m-2-1h0m-7-5h0m9 10h0m0 1h0m4 1h0m1 2h0m4-1h0m11-3h0m2 15h0m-11-5h0m-6 5h0m12 12h0m7-9h0m2 2h0" stroke="#66a28a" stroke-width="2.6" stroke-linecap="round" fill="none"/>
<path d="M1281 197h0m-2-2h0m0 3h0m3 5h0m3 1h0m1-4h0m6 0h0m4 7h0m-8 12h0m-4-7h0m-3 7h0m1 3h0m3-1h0m0 5h0m1-6h0m1 5h0m14 4h0m0-7h0m2 5h0m1-1h0m1-5h0m4 14h0m-16-4h0m-3 8h0m8 8h0m6-6h0m1 1h0m3 2h0m1 0h0m4-4h0" stroke="#b33428" stroke-width="2.6" stroke-linecap="round" fill="none"/>
<path d="M1275 189h0m2 20h0m2-5h0m5-1h0m11 3h0m3 10h0m-1-1h0m-8 2h0m-5 0h0m0-4h0m-2 5h0m-3-8h0m-1 3h0m7 16h0m1-2h0m1-5h0m15-2h0m1 6h0m-1 11h0m-12-3h0m0 2h0m-1-4h0m0 7h0m9 5h0m0-4h0m1 5h0m1 3h0m1-3h0m3 2h0m5-3h0m2-2h0" stroke="#66a28a" stroke-width="2.6" stroke-linecap="round" fill="none"/>
<path d="M1290 189h0m1-1h0m-2 7h0m-4 0h0m-1 0h0m-8 1h0m-1-2h0m6 6h0m2 9h0m15 10h0m-6-8h0m-5 7h0m-8 1h0m3 4h0m1 3h0m1-5h0m0 6h0m5-2h0m6-2h0m1 0h0m1 2h0m4-5h0m8 9h0m-1 7h0m-6-4h0m0 1h0m-6-1h0m-5-1h0m4 11h0m8 0h0" stroke="#b33428" stroke-width="2.6" stroke-linecap="round" fill="none"/>
<path d="M1304 229h0m0 5h0m-1-3h0" stroke="#fff" stroke-opacity="0.85" stroke-width="2.6" stroke-linecap="round" fill="none"/>
<path d="M1248 188h0m1-4h0m1 4h0m-8 3h0" stroke="#fff" stroke-width="2.8" stroke-linecap="round" fill="none"/>
<path d="M1266 239h0m1 1h0m1 2h0m1 0h0m3 2h0m1-3h0m0-1h0m7 7h0m2 2h0m1-1h0m0-1h0m0-2h0m3 2h0m0 1h0m-5 3h0m-4 2h0m-3 1h0" stroke="#fff" stroke-width="2.8" stroke-linecap="round" fill="none"/>
<path d="M1260.4,258.3L1274.0,259.2L1279.5,268.3L1284.9,278.4L1290.4,283.0L1283.1,285.8L1264.9,271.1L1257.6,264.7Z" fill="#87596d" fill-opacity="0.95"/>
<path d="M1276 259h0m-10 0h0m-6 10h0m1-6h0m5-2h0m9 3h0m3 3h0m3-2h0m5 14h0m-2 0h0m-10 0h0m-5-8h0m-1-1h0m-2 1h0m9 11h0m5 0h0m8 2h0" stroke="#4b5587" stroke-width="2.6" stroke-linecap="round" fill="none"/>
<path d="M1263 259h0m-4 7h0m6 1h0m0-1h0m13 1h0m1-3h0m7 14h0m-11-5h0m-1 5h0m-1-4h0m9 10h0m5-3h0m1 2h0" stroke="#b33428" stroke-width="2.6" stroke-linecap="round" fill="none"/>
<path d="M1267 256h0m-11 8h0m3-1h0m3 5h0m9 1h0m2-9h0m10 12h0m-2-1h0m0 3h0m-2 3h0m0 1h0m-6-3h0m-2-5h0m4 14h0m1-2h0m8 0h0m2 5h0" stroke="#4b5587" stroke-width="2.6" stroke-linecap="round" fill="none"/>
<path d="M1269 256h0m-3 1h0m-1 2h0m-1 6h0m3-5h0m1 2h0m5 6h0m1 8h0m-2 1h0m-4-3h0m12 7h0m6 2h0" stroke="#b33428" stroke-width="2.6" stroke-linecap="round" fill="none"/>
<path d="M1262 268h0m1-4h0m4-4h0m1 6h0m0 3h0m3-3h0m1-5h0m8 8h0m3 9h0m-2-7h0m-7-1h0m4 16h0m2-3h0m5 1h0m1-2h0m1-2h0" stroke="#4b5587" stroke-width="2.6" stroke-linecap="round" fill="none"/>
<path d="M1268 258h0m-9 6h0m1 3h0m17-3h0m7 13h0m-5-3h0m-9 2h0m8 5h0m0-1h0m7 4h0m2-2h0m1 2h0m3 0h0" stroke="#b33428" stroke-width="2.6" stroke-linecap="round" fill="none"/>
<path d="M1207 246h0m4-2h0m11 12h0m-8-2h0m-2 2h0m-1-3h0m-3 6h0m-4-8h0m14 14h0m3 3h0m0-7h0m1 12h0m0 5h0m-2-5h0m-3 6h0m5 1h0m2 0h0m5 1h0" stroke="#b33428" stroke-width="2.6" stroke-linecap="round" fill="none"/>
<path d="M1205 246h0m1 1h0m6-3h0m-3 15h0m-2-4h0m5 12h0m0-5h0m4-1h0m5 1h0m0 2h0m4 13h0m2 4h0m2 3h0m1-3h0" stroke="#4b5587" stroke-width="2.6" stroke-linecap="round" fill="none"/>
<path d="M1207 247h0m1-2h0m3 1h0m2 0h0m7 13h0m-7 0h0m-3 0h0m-3-5h0m10 10h0m1-4h0m3 6h0m1 1h0m1 0h0m0-1h0m0 7h0m-2 4h0m9 6h0m0 1h0m1-4h0" stroke="#b33428" stroke-width="2.6" stroke-linecap="round" fill="none"/>
<path d="M1204 246h0m4 2h0m1-4h0m2 9h0m-1 8h0m2 5h0m5-2h0m1 5h0m6-1h0m0 2h0m-3 6h0m-2 0h0m-1-6h0" stroke="#4b5587" stroke-width="2.6" stroke-linecap="round" fill="none"/>
<path d="M1209 242h0m8 16h0m-3-3h0m-6 10h0m1-4h0m3 4h0m4 3h0m2-7h0m3 5h0m2 5h0m-1 6h0m-1-2h0m-3 0h0m-1-2h0m5 7h0m3 6h0m4-6h0m1 1h0" stroke="#b33428" stroke-width="2.6" stroke-linecap="round" fill="none"/>
<path d="M1216 245h0m-5 9h0m-4 4h0m5 7h0m3 4h0m1-1h0m3-5h0m6 10h0m-2-2h0m-3 6h0m-2-5h0m-2-1h0m7 9h0" stroke="#4b5587" stroke-width="2.6" stroke-linecap="round" fill="none"/>
<path d="M1203 246h0m1-1h0m3 3h0m1 0h0m2-6h0m3 4h0m5 13h0m-2-5h0m-2-3h0m-2 7h0m-2-8h0m-2 4h0m5 10h0m0 3h0m0-7h0m1 4h0m1 3h0m1 0h0m1-6h0m1-1h0m0 1h0" stroke="#b33428" stroke-width="2.6" stroke-linecap="round" fill="none"/>
<path d="M1211 239h0m-5-1h0m-1 0h0m4 6h0m2 4h0m3 0h0m3 8h0m-1 2h0m-1 1h0m-10-6h0m-2 0h0m10 10h0m2-1h0m3 5h0" stroke="#dd9f83" stroke-width="2.6" stroke-linecap="round" fill="none"/>
<path d="M1212 239h0m-3-3h0m0 1h0m-2 1h0m-1 0h0m-3 9h0m1 1h0m5 1h0m2-1h0m6 11h0m-1-3h0m-2 2h0m-1-5h0m-3 5h0m-1-5h0m4 12h0m3 0h0m2-2h0m1 0h0m1 3h0m0-2h0" stroke="#b33428" stroke-width="2.6" stroke-linecap="round" fill="none"/>
<path d="M1209 236h0m-3 1h0m-1 1h0m-2 10h0m3-8h0m5 8h0m0-7h0m4 17h0m-2-2h0m-1 2h0m-3-1h0m-1-3h0m8 6h0" stroke="#dd9f83" stroke-width="2.6" stroke-linecap="round" fill="none"/>
<path d="M1203 240h0m1 4h0m0-4h0m5 3h0m2 0h0m1 5h0m5 11h0m-2-2h0m0-7h0m-3 2h0m-1 2h0m4 6h0m0 3h0m3-1h0m0 6h0m0-1h0m1 2h0m1-4h0m0-1h0m-3 7h0" stroke="#b33428" stroke-width="2.6" stroke-linecap="round" fill="none"/>
<path d="M1204 239h0m1 9h0m4-3h0m9 13h0m-5-8h0m-2 4h0m-6-1h0m9 14h0m3 1h0m2-1h0m1-3h0m1 6h0m-2 1h0" stroke="#dd9f83" stroke-width="2.6" stroke-linecap="round" fill="none"/>
<path d="M1483 550h0m-9 0h0m5 19h0m0-1h0m-12 2h0m-7 8h0m-56 0h0m-20 8h0m1 3h0m2-2h0m3 1h0m15-5h0m50 6h0m14-2h0m1-3h0m3 1h0m5-5h0m-5 13h0m-18 3h0m-3-3h0m-1 0h0m-44 6h0m-7-1h0m-2-3h0m-9 3h0m-3 0h0m-1 0h0m-2-7h0m-8 5h0m5 8h0m1 1h0m10 3h0m1-4h0m0 4h0m0-6h0m7 3h0m2-1h0m6-2h0m28 1h0m2 5h0m1 0h0m2 1h0m13-6h0m4-2h0m5 1h0m-9 9h0m-1 4h0m-10-5h0m-2 6h0m-3-1h0m-2-3h0m-1 2h0m-9-2h0m-3 3h0m0 2h0m-6-5h0m-10 1h0m-3 4h0m-7 2h0m-4-5h0m-16-3h0m-3-1h0m-5 9h0m-1 0h0m-4 0h0m-6 5h0m2-1h0m16-3h0m1 1h0m13-1h0m10 1h0m2 4h0m1 3h0m6 1h0m6-4h0m1-3h0m4 6h0m2-4h0m2 1h0m3 1h0m4 3h0m7-7h0m2 1h0m2 6h0m-7 2h0m-4 0h0m-17 0h0m0 2h0m-6 0h0" stroke="#b33428" stroke-width="2.6" stroke-linecap="round" fill="none"/>
<path d="M1486 551h0m-9 0h0m-2 2h0m0 15h0m2-8h0m0 1h0m5 6h0m6-1h0m0-4h0m1 2h0m-21 7h0m-3-1h0m0 5h0m-2 1h0m-64 10h0m6 0h0m69-5h0m1 4h0m2 1h0m-14 10h0m-1-3h0m-2 3h0m-7 1h0m-47-1h0m-1-5h0m-4-1h0m-14 2h0m-13 4h0m1 13h0m2-2h0m9-7h0m3 2h0m4 3h0m7-4h0m14 2h0m1-2h0m15 7h0m12-1h0m7 1h0m4-4h0m6 2h0m-21 10h0m-1-6h0m-12 1h0m-2 8h0m0-4h0m-5-3h0m-14 7h0m-6-8h0m-1 6h0m-3-3h0m-2 5h0m-1-2h0m-13-2h0m-11-5h0m-4 8h0m23 3h0m3 1h0m1 0h0m8 4h0m4 3h0m6 0h0m12-1h0m3-6h0m6 2h0m7-3h0m1-1h0m-12 13h0m-8-3h0m-10 3h0" stroke="#66a28a" stroke-width="2.6" stroke-linecap="round" fill="none"/>
<path d="M1476 549h0m-4 16h0m18 2h0m-87 12h0m-22 10h0m74 0h0m4 6h0m-50 4h0m-4 0h0m-16-3h0m-8 2h0m-2-7h0m-8 12h0m7-1h0m8-1h0m14 6h0m11-6h0m9 2h0m1 2h0m29-2h0m4 4h0m0-2h0m4-3h0m8 3h0m-38 12h0m-15-4h0m-1 5h0m-12-3h0m-14 4h0m-3-6h0m19 12h0m11 4h0m3-7h0m1 7h0m17-1h0m4-7h0m5 2h0m4 0h0m-19 8h0" stroke="#4b5587" stroke-width="2.6" stroke-linecap="round" fill="none"/>
<path d="M1481 554h0m-2 4h0m-2-3h0m1 13h0m2-2h0m4-5h0m2 0h0m0 6h0m4 1h0m-4 4h0m-3 2h0m-11-2h0m-2-1h0m-5 6h0m-58-3h0m-24 15h0m3-2h0m1 1h0m5-2h0m6 1h0m63-7h0m12 9h0m-5 3h0m-4 1h0m-7-1h0m-57 7h0m-19-5h0m-2-2h0m-3 3h0m-5 7h0m0-1h0m2 1h0m6 2h0m2-3h0m2 0h0m12 0h0m0 5h0m4-5h0m5 5h0m5 1h0m7-3h0m4 1h0m33 2h0m1-7h0m3 8h0m2 1h0m4-7h0m3-2h0m0 7h0m-8 6h0m-2 3h0m-1-6h0m-2 5h0m-1 4h0m-1-2h0m-1-7h0m-15 6h0m-5-5h0m-6 2h0m-1-2h0m-5 5h0m-5-5h0m-2 1h0m-2 7h0m-3-2h0m-8-2h0m-2 3h0m-4-2h0m-5-1h0m-1 2h0m-1 2h0m-3-6h0m-14 0h0m0 5h0m-12 7h0m0 1h0m30-2h0m5 0h0m5 1h0m4-1h0m6 5h0m1-9h0m20 8h0m8-7h0m1 5h0m9-4h0m-45 10h0m-7 0h0" stroke="#b33428" stroke-width="2.6" stroke-linecap="round" fill="none"/>
<path d="M1489 555h0m-9 4h0m-6 6h0m2 3h0m6-7h0m1 3h0m-2 12h0m-8-3h0m-2 1h0m-2 5h0m-62-3h0m-26 9h0m7 1h0m6 1h0m1-2h0m5 3h0m6-5h0m62 3h0m3-5h0m3 11h0m-5 6h0m-8-2h0m-48 1h0m-2-3h0m-4 1h0m-6-3h0m-24-2h0m-5 12h0m0 3h0m3-3h0m4 6h0m2-6h0m3-1h0m1 0h0m4 1h0m3-2h0m2 8h0m1-6h0m5 5h0m11-7h0m2 5h0m22 1h0m7-1h0m18-4h0m6 0h0m-31 9h0m-19 6h0m-16 3h0m0-4h0m-2-3h0m0 6h0m-3-7h0m-1 4h0m-16-4h0m-7 2h0m-1 4h0m-2-5h0m-9 11h0m13-2h0m2 0h0m11 1h0m10 2h0m39-1h0m13-1h0m1-1h0m-15 11h0m-14-1h0m-1 1h0m-15 0h0" stroke="#66a28a" stroke-width="2.6" stroke-linecap="round" fill="none"/>
<path d="M1479 565h0m-98 20h0m1 3h0m4 1h0m7-4h0m64 2h0m2-2h0m1-2h0m6 4h0m2-3h0m4 0h0m-1 12h0m-4-4h0m0 2h0m-3-4h0m-56 9h0m-20-2h0m-13 1h0m38 2h0m34 5h0m1 0h0m11-1h0m4-4h0m-4 10h0m-5 7h0m-3-5h0m-7 3h0m-5 3h0m-14-1h0m-16-5h0m-20 0h0m-11 9h0m13 2h0m4 1h0m24 2h0m21-6h0m2 5h0m-23 7h0m-8 3h0" stroke="#4b5587" stroke-width="2.6" stroke-linecap="round" fill="none"/>
<path d="M1490 554h0m-10 0h0m-1 2h0m-3-6h0m-10 15h0m4 4h0m7-9h0m11 3h0m1 0h0m4 4h0m-8 3h0m-4 4h0m-6 3h0m-2-2h0m-4 2h0m0-5h0m-4 5h0m-66 11h0m1-4h0m6 1h0m50 3h0m1-1h0m0 2h0m2 0h0m17-9h0m-2 13h0m-1-2h0m-2-1h0m0 8h0m-6-3h0m-3-2h0m-1-2h0m-3 7h0m-2-1h0m-1-1h0m-3-2h0m-43 3h0m0 2h0m-4-7h0m-4 5h0m-16-7h0m-13 8h0m1 7h0m10 2h0m4-2h0m4-4h0m3 7h0m2-6h0m4 5h0m19-3h0m7 0h0m4 2h0m5 0h0m4 0h0m15-6h0m5 0h0m7 4h0m1-3h0m1 0h0m0-1h0m1 0h0m-12 12h0m-3-2h0m-12 3h0m-4-2h0m-1 4h0m-2-3h0m-2 1h0m-1-2h0m-4 7h0m-10 0h0m-10-2h0m-18-6h0m-1 9h0m-4-1h0m-1-6h0m-13 5h0m16 7h0m3-1h0m7 2h0m9 4h0m13-5h0m0-4h0m3 1h0m8 2h0m4 4h0m13-3h0m-29 7h0m-7-1h0" stroke="#b33428" stroke-width="2.6" stroke-linecap="round" fill="none"/>
<path d="M1484 558h0m-2-6h0m-2 6h0m-1-8h0m-3 1h0m-4 15h0m3 3h0m7 5h0m-7-4h0m-1 9h0m-79 9h0m1 0h0m61-2h0m13-6h0m5 2h0m1 5h0m-13 10h0m-3 0h0m-6-1h0m-2-5h0m-50 3h0m-2 0h0m-2-3h0m-7 1h0m-13 7h0m-7 6h0m12-3h0m7 2h0m1 3h0m13-6h0m24 6h0m6-1h0m3 2h0m3-2h0m4 2h0m10-7h0m6 7h0m7-8h0m-14 12h0m-2 7h0m-7 0h0m-10-9h0m-1 0h0m-11 8h0m-7-1h0m0-7h0m-3 3h0m-4 6h0m-2 0h0m-3 0h0m-1-4h0m-5 1h0m-4-6h0m-6 0h0m-3 8h0m-29 9h0m6-2h0m23-3h0m6-2h0m3 6h0m1 3h0m3-3h0m4 0h0m1-4h0m3 7h0m11-1h0m25-6h0m13 0h0m-29 9h0" stroke="#66a28a" stroke-width="2.6" stroke-linecap="round" fill="none"/>
<path d="M1474 564h0m2 3h0m13 1h0m1-5h0m-87 16h0m-1-2h0m-18 12h0m16-5h0m4 5h0m54-6h0m4-3h0m6 6h0m-9 5h0m-1 3h0m-4 4h0m-51-4h0m-6 0h0m-1 3h0m-2-4h0m-1 5h0m-17 2h0m23 4h0m8 1h0m3 3h0m1-6h0m25 6h0m26-4h0m3 3h0m-34 8h0m-20-3h0m-33 2h0m-7-3h0m39 13h0m0 2h0m2-2h0m5 0h0m11-2h0m23-2h0m-44 10h0" stroke="#4b5587" stroke-width="2.6" stroke-linecap="round" fill="none"/>
<path d="M1352.6,627.9L1357.2,623.2L1366.6,620.8L1375.9,623.2L1387.6,627.9L1397.0,632.6L1402.8,633.8L1408.7,631.4L1415.7,624.3L1418.0,612.5L1413.4,603.1L1411.0,597.2L1415.7,599.6L1420.4,606.7L1422.7,619.6L1426.2,630.2L1434.4,632.6L1441.4,627.9L1449.6,622.0L1457.8,614.9L1464.8,607.8L1471.8,598.4L1476.5,586.6L1480.0,577.2L1485.9,570.1L1494.1,567.7L1501.1,572.5L1503.4,583.1L1502.3,596.0L1499.9,610.2L1495.2,624.3L1491.7,636.1L1490.6,647.9L1485.9,659.7L1478.9,671.5L1471.8,680.9L1462.5,689.2L1453.1,693.9L1441.4,692.7L1429.7,691.6L1420.4,685.7L1413.4,678.6L1404.0,675.0L1394.7,669.2L1387.6,666.8L1378.3,659.7L1368.9,652.6L1359.6,645.6L1353.7,636.1Z" fill="#757a7b"/>
<path d="M1502 579h0m-6-8h0m-2 4h0m-2 1h0m-1 1h0m-15 12h0m13-7h0m8-1h0m4 10h0m-1 5h0m-3-5h0m-3 8h0m-6-4h0m-5 2h0m-71 3h0m1 0h0m0 2h0m5-2h0m3 6h0m54-2h0m2-4h0m9 5h0m1-3h0m5 1h0m3 6h0m4-8h0m2 8h0m-6 1h0m-12 3h0m-7-2h0m-5 3h0m0-2h0m-1 1h0m-1 2h0m-3 1h0m-1 2h0m-2-4h0m-44 0h0m-66 14h0m3-6h0m4 5h0m9-5h0m4 2h0m9 5h0m2-2h0m28-4h0m2 0h0m2 0h0m1 3h0m6 3h0m7 0h0m14-2h0m6 1h0m4 1h0m0-8h0m9 0h0m11 6h0m1-1h0m8-1h0m3 2h0m3-3h0m1 5h0m5 10h0m-5-1h0m-3-2h0m-8 1h0m-4-2h0m-3 3h0m-17-1h0m-9-2h0m-8-4h0m-3 4h0m-5-5h0m-10 0h0m-4 5h0m0-1h0m-1 4h0m-3-3h0m-14 1h0m-5 0h0m-2-1h0m-8 3h0m-2-2h0m0 1h0m-8-1h0m-1 0h0m-15-4h0m3 8h0m1 6h0m9-3h0m1 4h0m0-3h0m8-2h0m5-2h0m1 0h0m2 6h0m0-5h0m23 2h0m8 6h0m2-6h0m7 2h0m7-4h0m6 4h0m0-4h0m3 5h0m3 3h0m1-5h0m4 4h0m13-5h0m5 5h0m11-8h0m4 0h0m3 0h0m2 5h0m-2 13h0m-3-1h0m-13-7h0m-11 0h0m-4 2h0m-4 0h0m-1 5h0m-1-4h0m-22 2h0m-8 4h0m-12-3h0m-2 1h0m-1-2h0m-4 0h0m-1-1h0m-4 5h0m-1-7h0m-2-1h0m0 5h0m-2 3h0m-10-8h0m-4 8h0m7 7h0m1-2h0m1-2h0m1 0h0m3 5h0m2-5h0m2 2h0m4 2h0m4 3h0m0-5h0m14-4h0m0 6h0m7 1h0m6-7h0m2 2h0m0 1h0m1 4h0m10 0h0m4 2h0m0-5h0m1 2h0m3 1h0m1 0h0m3 1h0m4-8h0m4 1h0m1 6h0m19-6h0m1 3h0m-6 14h0m-6-6h0m-4 3h0m-9-1h0m-10 1h0m-6-4h0m-1 3h0m0 2h0m-5 3h0m-3-8h0m0 4h0m0-5h0m-1 4h0m-3-4h0m0 9h0m-6 0h0m-2-6h0m0-1h0m-2 6h0m0-3h0m-9-5h0m-4 9h0m15 9h0m2-2h0m3 0h0m2 3h0m2 0h0m1-1h0m6-2h0m5-5h0m2 3h0m6 5h0m6-5h0m0 2h0m3-4h0m5 8h0m-6 1h0m-8 3h0m-7-3h0m-8 3h0m-5-3h0" stroke="#66a28a" stroke-width="2.6" stroke-linecap="round" fill="none"/>
<path d="M1489 569h0m3 5h0m-7-2h0m-1 6h0m-2 1h0m3 9h0m8-6h0m6 0h0m0-1h0m3 8h0m-8 4h0m-2-3h0m-6 7h0m-3-5h0m-1 4h0m-1-2h0m-1-1h0m-6-3h0m-12 19h0m7-4h0m0-2h0m6-3h0m3 4h0m4-3h0m4 7h0m13-3h0m0-3h0m-1 14h0m-13-3h0m-4 3h0m-13-4h0m-5 5h0m-1-5h0m-3 5h0m-2 0h0m-37 2h0m-2-1h0m-55 1h0m-11 7h0m4-1h0m6-2h0m8-1h0m0 4h0m3-1h0m4-1h0m4 1h0m29 2h0m6-1h0m1-5h0m51 2h0m7 1h0m12 0h0m3 1h0m-3 7h0m-1 2h0m-5-3h0m-10 8h0m-4-1h0m-14-6h0m-3 3h0m-3-3h0m-4-1h0m-19 3h0m-34-1h0m-3 3h0m-9 3h0m-10-5h0m-6 0h0m-6 5h0m0-5h0m1 6h0m6 4h0m38 2h0m1-6h0m3 3h0m15 4h0m10 2h0m2-6h0m2-1h0m2 4h0m1-4h0m1 5h0m0 1h0m42-8h0m1 7h0m7-3h0m5 2h0m-5 5h0m-9 0h0m-2 3h0m-4 4h0m-19-2h0m-9-1h0m-1 1h0m-2 1h0m-14-1h0m-21-4h0m-14 0h0m-7-2h0m-11 0h0m-1 6h0m-7-4h0m10 11h0m17 6h0m7-6h0m26 0h0m13 0h0m9-3h0m13 8h0m2-5h0m13-2h0m0 4h0m-4 13h0m-11-5h0m-3 2h0m-5 3h0m-5-2h0m-6 3h0m-9-1h0m-5 1h0m-8-4h0m-4-1h0m-6 1h0m-2 1h0m-3 3h0m-2-4h0m19 8h0m12 5h0m2-3h0m2 2h0m7 2h0m1-1h0m6-5h0m0 6h0m12-8h0m-11 12h0m-21-1h0m-4-2h0" stroke="#4b5587" stroke-width="2.6" stroke-linecap="round" fill="none"/>
<path d="M1490 566h0m3 9h0m0 4h0m-3-3h0m-2 3h0m-7 9h0m20 2h0m-1 1h0m-2 4h0m-22-3h0m-56 16h0m53-4h0m1 2h0m1-3h0m2-1h0m9 7h0m6-7h0m6 13h0m-18 3h0m-129 11h0m9-6h0m4 0h0m6 6h0m19-2h0m24-2h0m47-4h0m8 7h0m11-1h0m2 1h0m4-3h0m10 14h0m-5-2h0m-5 0h0m-1 2h0m-1-5h0m-22-4h0m-5 0h0m-24 1h0m-4 2h0m-4 0h0m-17 0h0m-6 1h0m-12 3h0m-2-6h0m-12 1h0m-17-2h0m13 13h0m6 2h0m2 4h0m2-9h0m4 7h0m2-4h0m18 6h0m0-5h0m5 2h0m17-6h0m2 2h0m28 6h0m35-2h0m-11 6h0m-25-2h0m-25 5h0m-2 4h0m-36-4h0m-19 1h0m11 5h0m17 6h0m0 1h0m12-3h0m2 3h0m4-6h0m14 4h0m12 3h0m1-5h0m13 0h0m13 5h0m3-5h0m5 3h0m-14 9h0m-18-3h0m-26-1h0m-9 6h0m-8-4h0m0 2h0m13 13h0m7-4h0m12-2h0m11 4h0m15-6h0m4 5h0m-17 8h0m-8-4h0m-1 1h0" stroke="#b33428" stroke-width="2.6" stroke-linecap="round" fill="none"/>
<path d="M1493 568h0m8 1h0m-3 10h0m-1-5h0m-4 2h0m0-4h0m-3 2h0m0-3h0m-2-1h0m-4 2h0m0 4h0m-9 9h0m3 4h0m5-5h0m5-3h0m5 8h0m5-6h0m1 3h0m-1 7h0m-1-2h0m-1 6h0m-3-5h0m-5 1h0m-6 1h0m-2 2h0m-69 8h0m3-1h0m0-3h0m0 1h0m7 7h0m45-1h0m4 2h0m15-7h0m17 3h0m-2 7h0m0 4h0m-3-2h0m-8-2h0m-3-1h0m-7 1h0m-2-2h0m-1 1h0m-8 5h0m-1-2h0m-5-1h0m-4 3h0m-1-4h0m-3 5h0m-34-7h0m-56 12h0m1-2h0m9 2h0m1 5h0m1-3h0m2 0h0m6 3h0m21 2h0m33 0h0m14-2h0m28-1h0m7-5h0m0 2h0m2 0h0m2-2h0m3 16h0m-2-4h0m0-1h0m-4-2h0m-3 1h0m-2 4h0m-1 1h0m-6-6h0m-9 1h0m-23 7h0m-3-2h0m-17-3h0m-7 2h0m-2-3h0m-2 7h0m-3-7h0m-2 5h0m-4-2h0m-2 4h0m-3-3h0m-2 0h0m-2-6h0m-3 8h0m-4-5h0m-1-2h0m-2 7h0m-2 1h0m-15-1h0m0-2h0m-1-4h0m-7 2h0m-3 4h0m1 6h0m3 2h0m2-3h0m4-3h0m1 3h0m2 5h0m8-8h0m1 2h0m1 4h0m2 3h0m0-3h0m6-1h0m2-1h0m1 3h0m4 1h0m7-7h0m7 3h0m7 5h0m3-9h0m9 0h0m4 6h0m3 0h0m2-2h0m6 5h0m7-5h0m4 2h0m1 2h0m3-4h0m12 2h0m4 3h0m1-2h0m7-7h0m3 3h0m2 6h0m3 0h0m1-9h0m-5 17h0m-1 1h0m-7-3h0m0-1h0m-6-2h0m-7-2h0m-5 0h0m0 7h0m-9-1h0m-2 3h0m-5 0h0m-14-8h0m-18 2h0m-5 3h0m-8-4h0m-7-2h0m-3 2h0m-2 4h0m-7-3h0m0 6h0m-1 0h0m-2 0h0m-7-8h0m-7-1h0m26 15h0m1 2h0m5 0h0m11-3h0m15 3h0m7-5h0m6 6h0m0-7h0m18-1h0m4 2h0m6 2h0m10-4h0m3 5h0m9-2h0m2 3h0m-7 4h0m-4 6h0m-15 1h0m-1 2h0m-3-9h0m-11 4h0m-8 3h0m-5 1h0m-4-8h0m-2 9h0m-8-1h0m-5-4h0m-1 4h0m-12-6h0m0 3h0m-2-4h0m25 14h0m7 4h0m10-1h0m3-2h0m2-2h0m1 0h0m12 1h0m4 2h0m0-7h0m1 0h0m1 7h0m-6 4h0m-6-1h0m-4 4h0m-15 0h0" stroke="#66a28a" stroke-width="2.6" stroke-linecap="round" fill="none"/>
<path d="M1495 577h0m-10-7h0m-10 14h0m3-1h0m12 6h0m5-8h0m8 1h0m-1 12h0m-7 5h0m-14-2h0m-2-1h0m-65 4h0m0 2h0m1 5h0m4-3h0m1 5h0m60-2h0m10-4h0m3 3h0m6 2h0m-2 11h0m-25-2h0m-56 2h0m-51 10h0m4-8h0m1 2h0m6-3h0m17 7h0m25-2h0m4-3h0m2 3h0m0 1h0m21-3h0m4 0h0m0 2h0m3-4h0m3 6h0m2-4h0m12-2h0m1 5h0m10-2h0m7 0h0m6 12h0m-3 3h0m-1-8h0m-5 1h0m-7 2h0m-5 1h0m-3-1h0m-7 2h0m-2 0h0m-8 2h0m-6-8h0m-9 2h0m0 6h0m-3 0h0m-21-8h0m-2 5h0m-5-4h0m-1 0h0m-3 6h0m-7 0h0m-13-5h0m-13 4h0m-7 2h0m-1-2h0m29 8h0m19 0h0m5 4h0m4-1h0m14-4h0m1-3h0m9 9h0m3-6h0m1 3h0m3-3h0m12-3h0m7 2h0m8 1h0m11-3h0m3 2h0m0 11h0m-30 2h0m-4 1h0m-3-5h0m-2-1h0m-1 8h0m-1-6h0m-1 6h0m-10-6h0m-8-2h0m-12 9h0m-1-9h0m-2 0h0m-13 8h0m-1-3h0m-13-1h0m-1-1h0m-1-2h0m-3 0h0m-5 5h0m-2-4h0m12 14h0m4-1h0m2 2h0m4-7h0m8 2h0m0 1h0m5-1h0m9 5h0m4-3h0m17-4h0m1 6h0m5-1h0m1-3h0m22 6h0m6-5h0m2 4h0m4-4h0m-12 8h0m-11 1h0m-4 7h0m-12-2h0m-2-1h0m-4 3h0m-5 0h0m-6-8h0m-4 8h0m-12 0h0m-11-8h0m30 17h0m12 1h0m2-4h0m10-2h0m9-1h0m2-2h0m1 7h0m-12 4h0m-5 2h0" stroke="#4b5587" stroke-width="2.6" stroke-linecap="round" fill="none"/>
<path d="M1493 569h0m3 0h0m6 6h0m-27 12h0m1-4h0m3 6h0m16-8h0m-16 13h0m-60 14h0m45-2h0m8-1h0m21 1h0m-3 11h0m-5-3h0m-1-3h0m-59 1h0m-5 0h0m-51 11h0m1 5h0m38 1h0m38-5h0m41 9h0m-4-2h0m-1 5h0m-7-4h0m-1-1h0m-5 4h0m-10 2h0m-1 0h0m-4-7h0m-7 8h0m-22-7h0m-11 4h0m-2-5h0m-11 7h0m-14-6h0m0 1h0m-5 6h0m-11-6h0m-12 2h0m-4-1h0m7 12h0m1-5h0m2 8h0m6-8h0m27 3h0m3 0h0m4-1h0m21 4h0m10 2h0m8-1h0m8-5h0m4 1h0m6 6h0m23-8h0m0 16h0m-5-3h0m-21 1h0m-10-4h0m-16 2h0m0 1h0m-11 2h0m-5-4h0m0 7h0m-14 0h0m-8 0h0m-2-1h0m-9-1h0m-7-5h0m-5 6h0m-1-4h0m9 6h0m1 0h0m4 2h0m20-2h0m6 9h0m23-2h0m20-6h0m31 4h0m-32 7h0m-2 7h0m-17-5h0m-1 3h0m-2-3h0m-14 2h0m13 13h0m4-5h0m1 5h0m7-6h0m4 1h0m6 0h0m7 10h0m-1-4h0" stroke="#b33428" stroke-width="2.6" stroke-linecap="round" fill="none"/>
<path d="M1488 569h0m10 4h0m-5 3h0m-1-3h0m-6 4h0m0-1h0m-2 0h0m0-3h0m-8 11h0m3-1h0m0 1h0m5-2h0m5 6h0m3-3h0m1-1h0m4 1h0m2-5h0m-3 11h0m-7 3h0m-3 2h0m0-4h0m-6 1h0m-3-3h0m-62 9h0m-1 8h0m1-1h0m0-5h0m65-1h0m3 9h0m7-4h0m6-2h0m2-2h0m2 6h0m-3 9h0m-3-6h0m-5 9h0m-1-9h0m-7 7h0m-3-5h0m-5 2h0m-6-3h0m-2 8h0m-1-3h0m-2-6h0m-4 5h0m-36 0h0m-67 10h0m2-2h0m2 0h0m4 5h0m8-2h0m5-3h0m1-1h0m3 0h0m30 6h0m1 1h0m3 0h0m5-6h0m4 5h0m26-2h0m8 1h0m3-7h0m6 9h0m3-6h0m3-2h0m3 4h0m1-1h0m9-3h0m3 0h0m4 6h0m5-1h0m-10 7h0m-7 2h0m-2-4h0m0 6h0m-7-2h0m-2 0h0m-5 2h0m-6 2h0m-3-7h0m-4 7h0m-23 0h0m-2 0h0m-9-6h0m-1 0h0m-5-3h0m-2 1h0m-4 6h0m-3 2h0m-3-3h0m-5 2h0m-3-5h0m0-3h0m-5 2h0m-1 4h0m-6 0h0m-1-2h0m-4-3h0m-12-1h0m-4 2h0m-2 5h0m-4 1h0m13 2h0m4 8h0m3-5h0m1 5h0m1 0h0m7-2h0m5-6h0m1 4h0m4 1h0m4 0h0m11 4h0m3-9h0m4 9h0m3-1h0m2-4h0m2-3h0m15 8h0m7 0h0m5-6h0m1 6h0m3-4h0m6-2h0m1 5h0m0-1h0m2-7h0m3 5h0m8-4h0m0 5h0m2 1h0m3-4h0m2 5h0m5-8h0m4 7h0m1-7h0m3 14h0m-5 2h0m-21-5h0m-5 3h0m-4-1h0m-3 3h0m-6 3h0m-1-6h0m-15-3h0m-9 2h0m-2 3h0m-1-2h0m-10 4h0m-10-4h0m-13 1h0m-6 1h0m0-4h0m-8 8h0m-7-7h0m15 9h0m19 4h0m2 4h0m5-5h0m4-2h0m5 3h0m1 1h0m1-2h0m2 5h0m1-6h0m4-1h0m2 6h0m8-6h0m4 2h0m3 1h0m0 2h0m15-7h0m3 4h0m3 3h0m0-7h0m5 5h0m12 2h0m-3 8h0m-2-3h0m-3 7h0m-18-4h0m-20 3h0m-5-5h0m-1 0h0m-3 3h0m-1-6h0m-1 4h0m-9 0h0m-1 1h0m-14-4h0m-2-1h0m25 15h0m4 4h0m0-1h0m2-2h0m9-3h0m5 5h0m3 1h0m2 0h0m0-6h0m7 1h0m8 1h0m1 0h0m-8 7h0m-32-2h0" stroke="#66a28a" stroke-width="2.6" stroke-linecap="round" fill="none"/>
<path d="M1501 576h0m-8 0h0m-4-6h0m-13 19h0m13-6h0m0 1h0m1 1h0m3 2h0m4 2h0m5-6h0m-2 14h0m-8-5h0m-4-1h0m-3 2h0m-2 3h0m-7-4h0m-3 5h0m-60-1h0m2 4h0m61 3h0m1 1h0m2-3h0m10 5h0m8 0h0m4-1h0m-2 5h0m-3 4h0m-7-3h0m-6 5h0m-1 2h0m-11-1h0m-4 0h0m-4-7h0m-43 9h0m-1-9h0m-2 9h0m-53 6h0m5 4h0m3-1h0m2-4h0m5 1h0m32-1h0m12 3h0m18 0h0m4-1h0m5-1h0m4-4h0m1 2h0m23 0h0m6-3h0m0 6h0m10 12h0m-2-2h0m-4 2h0m-1-2h0m-9-1h0m-1-5h0m-2 0h0m-6 0h0m-13 8h0m-9-2h0m-6 2h0m-5-4h0m-6-4h0m-5 1h0m-26 3h0m-5-2h0m-2 1h0m0 6h0m-2-1h0m-1 0h0m-1-8h0m-1 6h0m-6-1h0m-22 4h0m-2-2h0m-2-1h0m-1-4h0m9 15h0m2-3h0m9 3h0m15-1h0m5-6h0m0 9h0m5-7h0m6 1h0m26 5h0m2 1h0m15-3h0m15 0h0m1-2h0m2 5h0m4-2h0m12 4h0m-11 5h0m-4-1h0m-14-2h0m-2 2h0m-3-2h0m0 1h0m-2-1h0m-10 2h0m-8-3h0m-32-1h0m-4 4h0m-7 2h0m-8-3h0m-1 5h0m7 4h0m2-3h0m2 5h0m8-3h0m13 2h0m2-1h0m1 4h0m11 0h0m32-7h0m16 1h0m2 2h0m1 4h0m11-6h0m-11 11h0m-7 2h0m-5-3h0m-10 0h0m-17 1h0m-8 1h0m-7 4h0m-9-3h0m-16-1h0m26 11h0m2 2h0m23 0h0m8-1h0m3 5h0m-7 7h0m-8-5h0m-1 2h0m-6-1h0" stroke="#4b5587" stroke-width="2.6" stroke-linecap="round" fill="none"/>
<path d="M1501 576h0m-14-5h0m-9 6h0m11 8h0m1 3h0m6-1h0m1 3h0m-5 5h0m-2-3h0m-4-1h0m-11 1h0m-57 13h0m59-5h0m0 4h0m1-1h0m0 16h0m0-6h0m-4 2h0m-1 1h0m-9-6h0m0 8h0m-1-5h0m-37 5h0m-40 10h0m30 1h0m5-6h0m38-2h0m2 7h0m1-5h0m4 2h0m1-2h0m6 0h0m-7 13h0m-12-1h0m-6-5h0m-6 7h0m-23-2h0m-4-2h0m-20 6h0m-8-4h0m-13-4h0m-8 8h0m-2-9h0m-10 6h0m0-3h0m0 4h0m22 12h0m12-8h0m1 3h0m12-2h0m10-2h0m9 1h0m18 4h0m28 4h0m23 7h0m-19 3h0m-9 0h0m-1-1h0m-12-5h0m-14 1h0m-6 0h0m-8 2h0m-14 2h0m-27-8h0m-1 9h0m10 2h0m13 3h0m35 2h0m2 3h0m1-9h0m9 1h0m2 4h0m19 3h0m3-8h0m10 10h0m-16 3h0m-15 0h0m-35-2h0m-7 6h0m-3-2h0m-1 0h0m-3-4h0m22 17h0m9-1h0m19 2h0m0-3h0m6-1h0m1-2h0m-11 9h0m-9 0h0m-2-2h0m-10 4h0" stroke="#b33428" stroke-width="2.6" stroke-linecap="round" fill="none"/>
<path d="M1503 595h0m-2-1h0m0 3h0m-1-2h0m-42 32h0m4-2h0m1 2h0m0-1h0m2-1h0m15 0h0m5 3h0m-13 13h0m0 3h0m1-2h0m0-2h0m0 3h0m13 11h0m0 1h0m-106 3h0m0-1h0m0-1h0m-1 1h0m-1 0h0m21 11h0m0-3h0m31 0h0m0 1h0m2 2h0m8-8h0m0 1h0m2-1h0m1 0h0m1 6h0m1 1h0m21 12h0m0-2h0m-19-7h0m16 10h0" stroke="#fff" stroke-opacity="0.85" stroke-width="2.6" stroke-linecap="round" fill="none"/>
<path d="M1452.6,609.6L1473.8,583.0L1484.4,572.4L1497.6,572.4L1502.9,583.0L1500.3,609.6L1495.0,636.1L1487.0,654.7L1479.1,673.2L1468.5,686.5L1452.6,691.8L1447.2,678.5L1449.9,649.4L1452.6,630.8Z" fill="#b33428"/>
<path d="M1499 574h0m-2-1h0m-3-2h0m-1 1h0m-8 2h0m-3-3h0m-1 3h0m-2 2h0m-1 1h0m-9 9h0m1 2h0m1-5h0m1 3h0m2-4h0m2 0h0m25-2h0m1 0h0m0 6h0m1-5h0m1 8h0m1-5h0m-1 6h0m0 2h0m-1 6h0m-35-7h0m-3 1h0m-1 2h0m-1 3h0m-1-1h0m-1 3h0m-1-5h0m-6 15h0m3-5h0m44-2h0m2 6h0m-2 10h0m0-7h0m0 8h0m-2-4h0m-46 0h0m-1-3h0m0-2h0m-1 0h0m0 4h0m0 10h0m1 5h0m1-5h0m1 3h0m44-2h0m1-2h0m-1 11h0m-2-4h0m-43 3h0m-2 6h0m-1-7h0m-2 17h0m1-1h0m1 0h0m42-8h0m1 0h0m0 3h0m-5 8h0m-1 6h0m-1-1h0m-39 0h0m-2 8h0m0-3h0m3 5h0m1 0h0m31 3h0m3-5h0m0 3h0m2-5h0m-5 9h0m-1 6h0m-3 0h0m-28 1h0m-1-5h0m-1-1h0m-2 5h0m4 3h0m2 5h0m1 3h0m12 1h0m5-1h0m3-6h0m2 0h0m4 0h0m-13 10h0m-8-2h0m-3 1h0m0 1h0" stroke="#b33428" stroke-width="2.6" stroke-linecap="round" fill="none"/>
<path d="M1494 589h0m3-4h0m1 3h0m-3 2h0m-41 19h0m17-9h0m1 0h0m0 2h0m1-2h0m-18 10h0m29 19h0m2-4h0m-3 6h0m-1-1h0m-1 3h0m-1 1h0m-10 42h0m-4 3h0m-1-2h0m-2 1h0m-1 2h0" stroke="#fff" stroke-opacity="0.85" stroke-width="2.6" stroke-linecap="round" fill="none"/>
<path d="M1354.4,628.1L1367.7,620.2L1386.2,625.5L1402.2,636.1L1407.5,654.7L1402.2,665.3L1386.2,665.3L1370.3,657.3L1357.1,644.1Z" fill="#a55749" fill-opacity="0.95"/>
<path d="M1361 623h0m6 6h0m1-2h0m5-5h0m0 3h0m0 2h0m2-6h0m0 1h0m6 3h0m6 3h0m2 1h0m11 6h0m-6 1h0m-7 2h0m-1-5h0m-2 2h0m-1 3h0m-2-4h0m-1 1h0m-6-5h0m-7 2h0m-8 0h0m-1 0h0m-1 2h0m-1 9h0m3 5h0m1-8h0m0 5h0m2 3h0m3-4h0m9-4h0m7 5h0m1 0h0m0-1h0m9 2h0m1 2h0m2-7h0m3 0h0m1 7h0m2-4h0m1 2h0m6 5h0m0 3h0m-2-3h0m-2 1h0m-1 1h0m-2 6h0m-5-3h0m-2-6h0m-2 0h0m-3 8h0m0-4h0m-3 5h0m-12-8h0m-3 7h0m-1-3h0m-1-1h0m-1-3h0m9 9h0m11 2h0m1-1h0m2 3h0m6 5h0m2-6h0m2-2h0" stroke="#b33428" stroke-width="2.6" stroke-linecap="round" fill="none"/>
<path d="M1358 625h0m44 10h0m-6-1h0m0-1h0m-12-2h0m-4 0h0m-2 1h0m-8-2h0m-2 1h0m-11 4h0m7 14h0m4-2h0m5-6h0m2 8h0m2 0h0m2-5h0m12 2h0m1-3h0m14 13h0m-15 0h0m-16-6h0m-5 7h0" stroke="#66a28a" stroke-width="2.6" stroke-linecap="round" fill="none"/>
<path d="M1356 628h0m1 1h0m0-2h0m7 2h0m2-4h0m0-1h0m2 0h0m1 0h0m0 3h0m4-5h0m2 7h0m4 0h0m1-1h0m4-2h0m0-1h0m2 4h0m12 2h0m-3 3h0m-1-2h0m-2 3h0m0-4h0m0 3h0m-5-2h0m-2 4h0m-16-4h0m-8 0h0m-4-2h0m-1 4h0m1 6h0m7 7h0m0-6h0m3 1h0m1 5h0m2-3h0m1 4h0m1 0h0m14 0h0m0-4h0m2 2h0m2-6h0m5 9h0m9-4h0m0 3h0m1 0h0m-1 4h0m0-2h0m-12 2h0m-3 4h0m-2-2h0m-2-3h0m-1 4h0m-3 2h0m-1-5h0m-2 5h0m-3 2h0m-2-8h0m-8 0h0m12 14h0m4-4h0m5-1h0m1 4h0m8-4h0m7 3h0m1 2h0m0-4h0m3 3h0" stroke="#b33428" stroke-width="2.6" stroke-linecap="round" fill="none"/>
<path d="M1358 623h0m8-1h0m14 7h0m22 8h0m-3-5h0m-29 6h0m-3-5h0m0 3h0m-10 7h0m14-1h0m24 1h0m7 12h0m-7-1h0m-12 3h0m-7 0h0m-1 0h0m-6 0h0m-4-6h0m13 9h0m8 1h0m8 0h0m14 2h0" stroke="#66a28a" stroke-width="2.6" stroke-linecap="round" fill="none"/>
<path d="M1361 624h0m2-3h0m11-1h0m0 6h0m7 2h0m0-4h0m23 10h0m-4 1h0m0 3h0m-3 1h0m-1-6h0m-1-1h0m-2 1h0m-1 3h0m-2 3h0m-1-9h0m-2 9h0m-1-1h0m-2-5h0m-10 5h0m0-7h0m-7 7h0m-1-5h0m-1 3h0m-1-1h0m-1 1h0m-6 0h0m-1-5h0m0 3h0m2 6h0m1 3h0m1 1h0m4-1h0m2 4h0m0-1h0m3 2h0m4-5h0m16 2h0m2-3h0m5 6h0m3 1h0m8-2h0m1 7h0m-2-3h0m0 6h0m-1 0h0m-2-3h0m-7 2h0m0 3h0m-5-2h0m-4 2h0m-1-9h0m-6 4h0m-10-2h0m-6 3h0m11 6h0m1 0h0m5-1h0m8 2h0m4 3h0m2-2h0m2 1h0m0 5h0m1-4h0m2 2h0m2-2h0" stroke="#b33428" stroke-width="2.6" stroke-linecap="round" fill="none"/>
<path d="M1360 627h0m14-4h0m0-3h0m13 9h0m20 10h0m-6-1h0m-8-8h0m-8 0h0m0 1h0m-9 4h0m-2-1h0m-11-2h0m-6 6h0m37 8h0m4 0h0m3 0h0m-16 13h0m-3-6h0m-8 4h0m22 8h0" stroke="#66a28a" stroke-width="2.6" stroke-linecap="round" fill="none"/>
<path d="M1361 637h0m-2 1h0m-2 3h0m23 1h0m2 1h0m18 13h0m0 2h0m-1-1h0m-2-1h0" stroke="#fff" stroke-opacity="0.85" stroke-width="2.6" stroke-linecap="round" fill="none"/>
<path d="M1117.9,622.5L1125.7,617.7L1133.5,614.6L1141.3,606.7L1147.5,603.6L1149.1,598.9L1147.5,613.0L1146.0,620.9L1141.3,627.2L1139.7,635.0L1138.2,642.9L1137.4,650.8L1135.1,658.6L1131.9,666.5L1127.3,674.4L1122.6,682.2L1119.5,687.7L1113.2,679.1L1108.5,670.4L1104.6,662.6L1103.1,654.7L1103.9,642.9L1104.6,637.4L1108.5,635.0L1113.2,631.1L1117.1,627.2Z" fill="#62968a"/>
<path d="M1140 607h0m10-2h0m-11 12h0m-3-5h0m-1 7h0m-3-3h0m-9 2h0m-6 11h0m5-2h0m1-6h0m0 6h0m4-4h0m1 1h0m1-2h0m5 3h0m1-3h0m4 3h0m3 0h0m5-5h0m0 3h0m2-2h0m-11 18h0m-8-8h0m-3 2h0m-13 4h0m0-6h0m-11 3h0m-1 11h0m6 1h0m7-3h0m3-2h0m1 0h0m6 5h0m0 3h0m1-3h0m2-3h0m0 2h0m1 0h0m0-5h0m4 9h0m1-1h0m1-2h0m1 10h0m0 3h0m-9-8h0m-1 5h0m-6-1h0m-2 1h0m-1-4h0m-1 1h0m-1 4h0m-4-5h0m-2-1h0m-5 4h0m0-5h0m2 12h0m1 3h0m1-3h0m5 1h0m0 3h0m4 1h0m1 2h0m5-2h0m6 1h0m0-7h0m2 8h0m0-4h0m1 1h0m1-3h0m-1 10h0m-1 0h0m-4 3h0m-1 1h0m-1 1h0m-1-8h0m0 4h0m-1-2h0m-1-2h0m-4 9h0m-1 0h0m-1-1h0m0 1h0m-2-8h0m-2 7h0m0-7h0m-1-1h0m0 2h0m4 9h0m1 4h0" stroke="#66a28a" stroke-width="2.6" stroke-linecap="round" fill="none"/>
<path d="M1144 609h0m-1 9h0m-9-2h0m0 3h0m5 2h0m-7 14h0m-9-2h0m-3 0h0m-12 10h0m1 3h0m17-5h0m8 17h0m-24-8h0m-9 12h0m21 8h0m-13 4h0" stroke="#4b5587" stroke-width="2.6" stroke-linecap="round" fill="none"/>
<path d="M1141 605h0m9-4h0m-3 18h0m-2-8h0m-1 4h0m0-2h0m-2 4h0m-5-5h0m-2 1h0m-2 5h0m0-3h0m-8 4h0m-3-3h0m-6 11h0m3-5h0m1-2h0m6 9h0m2-6h0m2 2h0m3 2h0m2-6h0m0 2h0m0 4h0m2-4h0m2-3h0m0 8h0m2-8h0m2 3h0m0 10h0m-11 5h0m-3-8h0m-4 9h0m-6 0h0m-1-2h0m-1-7h0m0 6h0m-1-2h0m-6 5h0m-3 0h0m-1-3h0m-1 5h0m0 7h0m4 1h0m5-2h0m1-2h0m5 1h0m4-6h0m1 6h0m2 3h0m0-6h0m4 3h0m4 1h0m1-2h0m0 3h0m1-1h0m1-6h0m0 2h0m-4 11h0m0 2h0m0 1h0m-13 1h0m-1 0h0m-2-6h0m-2 7h0m-1-9h0m-3 2h0m-8 3h0m5 11h0m1-6h0m0 1h0m3-1h0m4 4h0m1-1h0m2 6h0m2-6h0m2-1h0m1-2h0m0 4h0m0 4h0m6-7h0m-6 14h0m-5-2h0m-2 2h0m-3-4h0m-3 8h0m-1-4h0m8 6h0m0 2h0m2 6h0" stroke="#66a28a" stroke-width="2.6" stroke-linecap="round" fill="none"/>
<path d="M1145 599h0m3 11h0m-31 13h0m8 5h0m4-5h0m-4 13h0m-10-4h0m-9 15h0m23 4h0m-13 3h0m-2-4h0m-5 14h0m13 2h0m3-4h0m1 12h0m-4 8h0" stroke="#4b5587" stroke-width="2.6" stroke-linecap="round" fill="none"/>
<path d="M1147 599h0m-6 6h0m1 1h0m2-1h0m0 1h0m1-3h0m2 5h0m1-8h0m1 1h0m-5 14h0m0-5h0m-4 6h0m-2-6h0m-5 9h0m-1-3h0m-3-2h0m-1 4h0m-14 7h0m15 0h0m0-1h0m2 2h0m2 1h0m1-7h0m2 2h0m1 5h0m0-6h0m1 2h0m0 4h0m2 2h0m0-2h0m4-6h0m0 8h0m3-6h0m-9 15h0m-4 1h0m-4-8h0m-1 7h0m-5 1h0m-1-1h0m0-4h0m-4 5h0m-4-1h0m-1 0h0m-4-7h0m-2 8h0m-3 0h0m-4 10h0m2-8h0m3 0h0m3 6h0m1 0h0m4-3h0m8 2h0m6-3h0m1-3h0m1 2h0m0-1h0m6 6h0m1-3h0m1-3h0m-2 16h0m0-7h0m-4 1h0m-7 6h0m-2-2h0m-1 3h0m-1-5h0m-2 4h0m-1 1h0m-5-6h0m-2 2h0m-1 4h0m-1 1h0m-7 0h0m4 3h0m2 1h0m5 2h0m3-5h0m6 7h0m5 2h0m5-5h0m-17 13h0m0-2h0m-1 2h0m4 8h0m1 2h0m2-5h0m1 1h0m2-3h0" stroke="#66a28a" stroke-width="2.6" stroke-linecap="round" fill="none"/>
<path d="M1113 628h0m1 1h0m7-1h0m7-6h0m0 8h0m-19 17h0m4-3h0m3 3h0m21 0h0m0 2h0m-3 6h0m-9-5h0m-22 5h0m21 5h0m-3 17h0m2 7h0" stroke="#4b5587" stroke-width="2.6" stroke-linecap="round" fill="none"/>
<path d="M1125 629h0m1-2h0m1 2h0m-11 39h0m1 1h0m1-2h0m-5 8h0m-1-2h0m0 2h0m-1-3h0m-1 0h0" stroke="#fff" stroke-opacity="0.85" stroke-width="2.6" stroke-linecap="round" fill="none"/>
<path d="M1092 624h0m2 1h0m0-1h0m2 5h0m1 0h0m2 0h0m-1 3h0m0-1h0" stroke="#66a28a" stroke-width="2.6" stroke-linecap="round" fill="none"/>
<path d="M1158.4,642.9L1161.6,649.2L1166.2,657.1L1172.5,666.5L1175.6,674.4L1176.4,682.2L1174.0,688.5L1169.4,690.9L1161.6,688.5L1156.9,685.4L1160.8,682.2L1163.1,677.5L1161.6,670.4L1158.4,658.6L1155.3,650.8L1156.1,645.3Z" fill="#639a8a"/>
<path d="M1154 648h0m4-4h0m3 5h0m3-3h0m4 7h0m-6-1h0m-6 0h0m4 11h0m3 4h0m4-3h0m2 3h0m0-1h0m2 2h0m4-4h0m-4 12h0m0-3h0m-9 3h0m-3 10h0m0-1h0m1-2h0m1 4h0m9 0h0m1 2h0m2 0h0m1-1h0m1-6h0m0 1h0m1 1h0m0-4h0m2 7h0m-4 4h0m-9 1h0m-3-1h0" stroke="#66a28a" stroke-width="2.6" stroke-linecap="round" fill="none"/>
<path d="M1160 652h0m7 10h0m8 20h0" stroke="#4b5587" stroke-width="2.6" stroke-linecap="round" fill="none"/>
<path d="M1154 649h0m6-1h0m3 1h0m4 9h0m-2 0h0m-2-2h0m-1-4h0m-2 0h0m-3-1h0m-1 0h0m-1 4h0m2 8h0m3-2h0m6 7h0m2-7h0m1 7h0m4-2h0m0-1h0m0 7h0m-1 5h0m-4-6h0m-6 5h0m-1-6h0m-3 10h0m1 7h0m3-7h0m3 7h0m6-6h0m1 3h0m0-4h0m6 3h0m-7 7h0m-8 2h0" stroke="#66a28a" stroke-width="2.6" stroke-linecap="round" fill="none"/>
<path d="M1157 653h0m11 23h0m-9 9h0" stroke="#4b5587" stroke-width="2.6" stroke-linecap="round" fill="none"/>
<path d="M1156 647h0m4-4h0m12 16h0m-7-6h0m-1 3h0m-1 0h0m0 3h0m-3-5h0m-1 9h0m3 2h0m1 0h0m2-2h0m0 4h0m4-1h0m5 1h0m2 8h0m-1-3h0m0 5h0m-6-1h0m0-1h0m-1 0h0m-5 0h0m0-5h0m0 6h0m-2 11h0m1-2h0m5 1h0m0-4h0m1 5h0m3-5h0" stroke="#66a28a" stroke-width="2.6" stroke-linecap="round" fill="none"/>
<path d="M1166 653h0m-4 2h0m3 28h0" stroke="#4b5587" stroke-width="2.6" stroke-linecap="round" fill="none"/>
<path d="M1153 639h0m-5-1h0m-4-6h0m-1 5h0m7 8h0m3-2h0m5 0h0m0-2h0m-7 16h0m-1-7h0m-1 6h0m-3 5h0m7 13h0" stroke="#66a28a" stroke-width="2.6" stroke-linecap="round" fill="none"/>
<path d="M1151 632h0m-6 5h0m3 11h0m6-2h0m2-2h0m-1 32h0" stroke="#4b5587" stroke-width="2.6" stroke-linecap="round" fill="none"/>
<path d="M1157 637h0m-8-6h0m-4 7h0m6 9h0m2-7h0m2 19h0m-2-4h0m-2 0h0m-1 3h0m-8-3h0m13 7h0m-4 11h0" stroke="#66a28a" stroke-width="2.6" stroke-linecap="round" fill="none"/>
<path d="M1147 639h0m6 13h0m-8 4h0m-2-5h0m3 12h0m1 13h0" stroke="#4b5587" stroke-width="2.6" stroke-linecap="round" fill="none"/>
<path d="M1154 632h0m-10 6h0m-1-6h0m0 12h0m2 5h0m1-8h0m11 3h0m-2 15h0m-12-9h0m12 15h0m-7 7h0m0-2h0" stroke="#66a28a" stroke-width="2.6" stroke-linecap="round" fill="none"/>
<path d="M1145 646h0m7 4h0m-9 5h0m0-1h0m7 14h0m6-2h0" stroke="#4b5587" stroke-width="2.6" stroke-linecap="round" fill="none"/>
<path d="M1305.4,464.4L1309.4,463.9L1310.4,468.4L1312.4,470.5L1314.9,473.0L1317.5,468.4L1319.5,467.4L1322.5,470.5L1323.5,473.0L1320.5,476.6L1317.5,479.6L1314.9,483.2L1314.9,487.2L1312.4,490.8L1310.9,494.9L1311.4,498.4L1307.4,499.4L1302.4,499.4L1301.3,495.9L1301.3,490.8L1303.9,486.7L1305.4,482.2L1307.4,479.6L1309.4,476.6L1306.4,473.5L1305.9,469.5Z" fill="#cb7362"/>
<path d="M1309 469h0m2-3h0m3 2h0m2 2h0m-2 3h0m-1-1h0m-1 7h0m-4-5h0m-2-4h0m-2 19h0m3-5h0m2 0h0m6-3h0m-1 17h0m-3 0h0m-2-5h0m-6 8h0" stroke="#b33428" stroke-width="2.6" stroke-linecap="round" fill="none"/>
<path d="M1307 461h0m4 6h0m2 1h0m3 1h0m5 7h0m-7-3h0m-8 12h0m7-3h0m-6 9h0m-1-1h0m0 1h0" stroke="#dd9f83" stroke-width="2.6" stroke-linecap="round" fill="none"/>
<path d="M1307 463h0m15 6h0m0 2h0m-2 0h0m-3 6h0m-2 0h0m-3-6h0m-2 2h0m6 7h0m-3 10h0m-2 1h0m-1 7h0m-1-1h0m-8-2h0m0-3h0" stroke="#b33428" stroke-width="2.6" stroke-linecap="round" fill="none"/>
<path d="M1307 469h0m15 5h0m-2-2h0m-2-2h0m-5 5h0m2 15h0m-3 3h0m-3-3h0m-5 0h0m-3 4h0m-1-2h0" stroke="#dd9f83" stroke-width="2.6" stroke-linecap="round" fill="none"/>
<path d="M1322 475h0m-1-5h0m-2 9h0m-5-8h0m-3 8h0m0-5h0m-2 4h0m-3-1h0m-2 10h0m7-4h0m2 4h0m1 2h0m-3 6h0m-3-1h0m-5-4h0" stroke="#b33428" stroke-width="2.6" stroke-linecap="round" fill="none"/>
<path d="M1307 465h0m7 6h0m-4 2h0m-6 13h0m5 0h0m1 2h0m0-7h0m3 7h0m2 0h0m-6 5h0m-7 1h0" stroke="#dd9f83" stroke-width="2.6" stroke-linecap="round" fill="none"/>
<path d="M1306.9,455.2L1309.4,455.2L1309.9,464.4L1307.4,465.4L1304.9,460.3Z" fill="#7f4458" fill-opacity="0.9"/>
<path d="M1306 456h0m-1 8h0m3-3h0" stroke="#b33428" stroke-width="2.6" stroke-linecap="round" fill="none"/>
<path d="M1307 463h0m5 0h0" stroke="#4b5587" stroke-width="2.6" stroke-linecap="round" fill="none"/>
<path d="M1303 458h0m4 6h0" stroke="#b33428" stroke-width="2.6" stroke-linecap="round" fill="none"/>
<path d="M1307 465h0m1-2h0" stroke="#4b5587" stroke-width="2.6" stroke-linecap="round" fill="none"/>
<path d="M1307 463h0m2-2h0" stroke="#b33428" stroke-width="2.6" stroke-linecap="round" fill="none"/>
<path d="M1306 462h0m3 4h0" stroke="#4b5587" stroke-width="2.6" stroke-linecap="round" fill="none"/>
<path d="M1353.7,488.8L1356.8,488.3L1357.8,490.8L1361.3,499.9L1359.3,501.5L1357.3,498.4L1353.7,492.8Z" fill="#ab5b56"/>
<path d="M1359 493h0m-1 5h0m-3-3h0" stroke="#b33428" stroke-width="2.6" stroke-linecap="round" fill="none"/>
<path d="M1359 489h0m-5 4h0m6 9h0" stroke="#dd9f83" stroke-width="2.6" stroke-linecap="round" fill="none"/>
<path d="M1354 491h0m6 10h0" stroke="#4b5587" stroke-width="2.6" stroke-linecap="round" fill="none"/>
<path d="M1355 489h0m5 11h0" stroke="#b33428" stroke-width="2.6" stroke-linecap="round" fill="none"/>
<path d="M1356 490h0m-2 9h0" stroke="#dd9f83" stroke-width="2.6" stroke-linecap="round" fill="none"/>
<path d="M1353 493h0m8 11h0" stroke="#4b5587" stroke-width="2.6" stroke-linecap="round" fill="none"/>
<path d="M1359 498h0m-6-3h0" stroke="#b33428" stroke-width="2.6" stroke-linecap="round" fill="none"/>
<path d="M1358 500h0m2 1h0" stroke="#dd9f83" stroke-width="2.6" stroke-linecap="round" fill="none"/>
<path d="M1361 495h0m-1 6h0" stroke="#4b5587" stroke-width="2.6" stroke-linecap="round" fill="none"/>
</g>
<circle cx="770.5" cy="312.1" r="5.9" fill="#4a5486"/>
<text x="793.3" y="317.5" font-size="15" text-anchor="start" fill="#000" stroke="#000" stroke-width="0.3">B cells</text>
<circle cx="770.5" cy="338.9" r="5.9" fill="#67a189"/>
<text x="793.3" y="344.2" font-size="15" text-anchor="start" fill="#000" stroke="#000" stroke-width="0.3">CD4+ T</text>
<circle cx="770.5" cy="365.6" r="5.9" fill="#87b9d3"/>
<text x="793.3" y="371.0" font-size="15" text-anchor="start" fill="#000" stroke="#000" stroke-width="0.3">CD8+ T</text>
<circle cx="770.5" cy="392.4" r="5.9" fill="#8a90b1"/>
<text x="793.3" y="397.8" font-size="15" text-anchor="start" fill="#000" stroke="#000" stroke-width="0.3">Endothelial</text>
<circle cx="770.5" cy="419.1" r="5.9" fill="#bc5641"/>
<text x="793.3" y="424.5" font-size="15" text-anchor="start" fill="#000" stroke="#000" stroke-width="0.3">Epithelial</text>
<circle cx="770.5" cy="445.9" r="5.9" fill="#d99d82"/>
<text x="793.3" y="451.2" font-size="15" text-anchor="start" fill="#000" stroke="#000" stroke-width="0.3">Fibroblast</text>
<circle cx="1654.8" cy="338.8" r="5.9" fill="#dd9f83"/>
<text x="1677.3" y="344.2" font-size="15" text-anchor="start" fill="#000" stroke="#000" stroke-width="0.3">Distant_Met</text>
<circle cx="1654.8" cy="365.6" r="5.9" fill="#b33428"/>
<text x="1677.3" y="370.9" font-size="15" text-anchor="start" fill="#000" stroke="#000" stroke-width="0.3">LNM</text>
<circle cx="1654.8" cy="392.3" r="5.9" fill="#66a28a"/>
<text x="1677.3" y="397.7" font-size="15" text-anchor="start" fill="#000" stroke="#000" stroke-width="0.3">Normal</text>
<circle cx="1654.8" cy="419.1" r="5.9" fill="#4b5587"/>
<text x="1677.3" y="424.4" font-size="15" text-anchor="start" fill="#000" stroke="#000" stroke-width="0.3">Primary</text>
<rect x="95.5" y="1413.80" width="112.4" height="5.50" fill="#d49d83"/>
<rect x="95.5" y="1087.01" width="112.4" height="326.79" fill="#bb5742"/>
<rect x="95.5" y="1084.00" width="112.4" height="3.01" fill="#8a8fae"/>
<rect x="95.5" y="936.28" width="112.4" height="147.72" fill="#88b8cf"/>
<rect x="95.5" y="843.82" width="112.4" height="92.46" fill="#689b86"/>
<rect x="95.5" y="840.70" width="112.4" height="3.12" fill="#48527f"/>
<rect x="256.6" y="1387.82" width="112.4" height="31.48" fill="#d49d83"/>
<rect x="256.6" y="1239.99" width="112.4" height="147.83" fill="#bb5742"/>
<rect x="256.6" y="1225.53" width="112.4" height="14.47" fill="#8a8fae"/>
<rect x="256.6" y="1088.98" width="112.4" height="136.55" fill="#88b8cf"/>
<rect x="256.6" y="928.47" width="112.4" height="160.50" fill="#689b86"/>
<rect x="256.6" y="840.70" width="112.4" height="87.77" fill="#48527f"/>
<rect x="417.8" y="1417.56" width="112.4" height="1.74" fill="#d49d83"/>
<rect x="417.8" y="1334.48" width="112.4" height="83.09" fill="#bb5742"/>
<rect x="417.8" y="1312.03" width="112.4" height="22.45" fill="#8a8fae"/>
<rect x="417.8" y="1109.52" width="112.4" height="202.51" fill="#88b8cf"/>
<rect x="417.8" y="953.53" width="112.4" height="155.99" fill="#689b86"/>
<rect x="417.8" y="840.70" width="112.4" height="112.83" fill="#48527f"/>
<rect x="579.0" y="1392.51" width="112.4" height="26.79" fill="#d49d83"/>
<rect x="579.0" y="1114.49" width="112.4" height="278.02" fill="#bb5742"/>
<rect x="579.0" y="1100.49" width="112.4" height="14.00" fill="#8a8fae"/>
<rect x="579.0" y="989.98" width="112.4" height="110.51" fill="#88b8cf"/>
<rect x="579.0" y="864.02" width="112.4" height="125.96" fill="#689b86"/>
<rect x="579.0" y="840.70" width="112.4" height="23.32" fill="#48527f"/>
<line x1="55.3" y1="811.5" x2="55.3" y2="1449.4" stroke="#2b2b2b" stroke-width="2.0"/>
<line x1="54.3" y1="1448.4" x2="731.0" y2="1448.4" stroke="#2b2b2b" stroke-width="2.0"/>
<line x1="51.1" y1="1419.3" x2="55.3" y2="1419.3" stroke="#2b2b2b" stroke-width="1.8"/>
<text x="47.2" y="1424.1" font-size="13.6" text-anchor="end" fill="#4d4d4d" stroke="#4d4d4d" stroke-width="0.3">0</text>
<line x1="51.1" y1="1274.7" x2="55.3" y2="1274.7" stroke="#2b2b2b" stroke-width="1.8"/>
<text x="47.2" y="1279.5" font-size="13.6" text-anchor="end" fill="#4d4d4d" stroke="#4d4d4d" stroke-width="0.3">25</text>
<line x1="51.1" y1="1130.0" x2="55.3" y2="1130.0" stroke="#2b2b2b" stroke-width="1.8"/>
<text x="47.2" y="1134.8" font-size="13.6" text-anchor="end" fill="#4d4d4d" stroke="#4d4d4d" stroke-width="0.3">50</text>
<line x1="51.1" y1="985.3" x2="55.3" y2="985.3" stroke="#2b2b2b" stroke-width="1.8"/>
<text x="47.2" y="990.1" font-size="13.6" text-anchor="end" fill="#4d4d4d" stroke="#4d4d4d" stroke-width="0.3">75</text>
<line x1="51.1" y1="840.7" x2="55.3" y2="840.7" stroke="#2b2b2b" stroke-width="1.8"/>
<text x="47.2" y="845.5" font-size="13.6" text-anchor="end" fill="#4d4d4d" stroke="#4d4d4d" stroke-width="0.3">100</text>
<line x1="151.8" y1="1448.4" x2="151.8" y2="1452.6" stroke="#2b2b2b" stroke-width="1.8"/>
<text transform="translate(157.8,1465.0) rotate(-45)" font-size="15" text-anchor="end" fill="#4d4d4d" stroke="#4d4d4d" stroke-width="0.3">Distant_Met</text>
<line x1="312.8" y1="1448.4" x2="312.8" y2="1452.6" stroke="#2b2b2b" stroke-width="1.8"/>
<text transform="translate(318.8,1465.0) rotate(-45)" font-size="15" text-anchor="end" fill="#4d4d4d" stroke="#4d4d4d" stroke-width="0.3">LNM</text>
<line x1="474.0" y1="1448.4" x2="474.0" y2="1452.6" stroke="#2b2b2b" stroke-width="1.8"/>
<text transform="translate(480.0,1465.0) rotate(-45)" font-size="15" text-anchor="end" fill="#4d4d4d" stroke="#4d4d4d" stroke-width="0.3">Normal</text>
<line x1="635.2" y1="1448.4" x2="635.2" y2="1452.6" stroke="#2b2b2b" stroke-width="1.8"/>
<text transform="translate(641.2,1465.0) rotate(-45)" font-size="15" text-anchor="end" fill="#4d4d4d" stroke="#4d4d4d" stroke-width="0.3">Primary</text>
<text transform="translate(16.2,1130) rotate(-90)" font-size="16.7" text-anchor="middle" fill="#000" stroke="#000" stroke-width="0.3">Percentage (%)</text>
<text x="55.6" y="798.8" font-size="20" text-anchor="start" fill="#000" font-weight="bold">C</text>
<rect x="758.3" y="1051.2" width="24.5" height="24" fill="#48527f"/>
<text x="793.0" y="1068.8" font-size="15" text-anchor="start" fill="#000" stroke="#000" stroke-width="0.3">B cells</text>
<rect x="758.3" y="1077.9" width="24.5" height="24" fill="#689b86"/>
<text x="793.0" y="1095.5" font-size="15" text-anchor="start" fill="#000" stroke="#000" stroke-width="0.3">CD4+ T</text>
<rect x="758.3" y="1104.6" width="24.5" height="24" fill="#88b8cf"/>
<text x="793.0" y="1122.2" font-size="15" text-anchor="start" fill="#000" stroke="#000" stroke-width="0.3">CD8+ T</text>
<rect x="758.3" y="1131.3" width="24.5" height="24" fill="#8a8fae"/>
<text x="793.0" y="1148.9" font-size="15" text-anchor="start" fill="#000" stroke="#000" stroke-width="0.3">Endothelial</text>
<rect x="758.3" y="1158.0" width="24.5" height="24" fill="#bb5742"/>
<text x="793.0" y="1175.6" font-size="15" text-anchor="start" fill="#000" stroke="#000" stroke-width="0.3">Epithelial</text>
<rect x="758.3" y="1184.7" width="24.5" height="24" fill="#d49d83"/>
<text x="793.0" y="1202.3" font-size="15" text-anchor="start" fill="#000" stroke="#000" stroke-width="0.3">Fibroblast</text>
<text x="953.9" y="798.6" font-size="20" text-anchor="start" fill="#000" font-weight="bold">D</text>
<text transform="translate(906.5,1150) rotate(-90)" font-size="16.7" text-anchor="middle" fill="#000" stroke="#000" stroke-width="0.3">Value</text>
<rect x="953.5" y="812.6" width="241.9" height="24.8" fill="#e4e4e4" stroke="#2b2b2b" stroke-width="1.6"/>
<text x="1074.5" y="830.0" font-size="13.8" text-anchor="middle" fill="#1a1a1a" font-weight="bold">Genes</text>
<path d="M987.40,868.60 L987.41,877.00 L987.42,885.40 L987.44,893.80 L987.47,902.20 L987.51,910.60 L987.55,919.00 L987.60,925.50 L987.67,932.00 L987.77,938.50 L987.89,945.00 L988.02,951.50 L988.15,958.00 L988.31,964.60 L988.50,971.20 L988.71,977.80 L988.95,984.40 L989.20,991.00 L989.45,997.60 L989.71,1004.17 L989.99,1010.73 L990.28,1017.30 L990.59,1023.87 L990.91,1030.43 L991.25,1037.00 L991.59,1043.50 L991.95,1050.00 L992.32,1056.50 L992.72,1063.00 L993.16,1069.50 L993.65,1076.00 L993.97,1080.00 L994.32,1084.00 L994.70,1088.00 L995.12,1092.00 L995.60,1096.00 L996.15,1100.00 L996.81,1103.72 L997.66,1107.43 L998.63,1111.15 L999.66,1114.87 L1000.69,1118.58 L1001.65,1122.30 L1002.58,1126.02 L1003.53,1129.73 L1004.47,1133.45 L1005.39,1137.17 L1006.26,1140.88 L1007.05,1144.60 L1007.79,1148.32 L1008.51,1152.03 L1009.20,1155.75 L1009.83,1159.47 L1010.39,1163.18 L1010.85,1166.90 L1011.25,1170.60 L1011.62,1174.30 L1011.95,1178.00 L1012.24,1181.70 L1012.48,1185.40 L1012.65,1189.10 L1012.72,1190.97 L1012.79,1192.83 L1012.85,1194.70 L1012.90,1196.57 L1012.94,1198.43 L1012.95,1200.30 L1012.91,1202.15 L1012.81,1204.00 L1012.65,1205.85 L1012.46,1207.70 L1012.26,1209.55 L1012.05,1211.40 L1011.57,1215.12 L1010.96,1218.83 L1010.25,1222.55 L1009.47,1226.27 L1008.66,1229.98 L1007.85,1233.70 L1006.99,1237.42 L1006.03,1241.13 L1005.03,1244.85 L1004.04,1248.57 L1003.09,1252.28 L1002.25,1256.00 L1001.45,1259.72 L1000.63,1263.43 L999.85,1267.15 L999.16,1270.87 L998.61,1274.58 L998.25,1278.30 L998.13,1280.15 L998.01,1282.00 L997.91,1283.85 L997.82,1285.70 L997.77,1287.55 L997.75,1289.40 L997.83,1291.27 L998.03,1293.13 L998.34,1295.00 L998.72,1296.87 L999.13,1298.73 L999.55,1300.60 L1000.65,1304.30 L1002.18,1308.00 L1003.94,1311.70 L1005.74,1315.40 L1007.37,1319.10 L1008.65,1322.80 L1009.72,1326.52 L1010.79,1330.23 L1011.78,1333.95 L1012.59,1337.67 L1013.15,1341.38 L1013.35,1345.10 L1013.31,1346.97 L1013.19,1348.83 L1013.02,1350.70 L1012.79,1352.57 L1012.53,1354.43 L1012.25,1356.30 L1011.84,1358.15 L1011.24,1360.00 L1010.51,1361.85 L1009.71,1363.70 L1008.90,1365.55 L1008.15,1367.40 L1006.70,1371.12 L1005.18,1374.83 L1003.64,1378.55 L1002.14,1382.27 L1000.73,1385.98 L999.45,1389.70 L998.25,1393.42 L997.07,1397.13 L995.94,1400.85 L994.92,1404.57 L994.04,1408.28 L993.35,1412.00 L993.01,1414.97 L992.84,1417.93 L992.71,1420.90 L992.50,1423.87 L992.09,1426.83 L991.35,1429.80 L991.13,1429.88 L990.60,1429.97 L989.86,1430.05 L989.01,1430.13 L988.16,1430.22 L987.40,1430.30 L987.40,1430.30 L986.64,1430.22 L985.79,1430.13 L984.94,1430.05 L984.20,1429.97 L983.67,1429.88 L983.45,1429.80 L982.71,1426.83 L982.30,1423.87 L982.09,1420.90 L981.96,1417.93 L981.79,1414.97 L981.45,1412.00 L980.76,1408.28 L979.88,1404.57 L978.86,1400.85 L977.73,1397.13 L976.55,1393.42 L975.35,1389.70 L974.07,1385.98 L972.66,1382.27 L971.16,1378.55 L969.62,1374.83 L968.10,1371.12 L966.65,1367.40 L965.90,1365.55 L965.09,1363.70 L964.29,1361.85 L963.56,1360.00 L962.96,1358.15 L962.55,1356.30 L962.27,1354.43 L962.01,1352.57 L961.78,1350.70 L961.61,1348.83 L961.49,1346.97 L961.45,1345.10 L961.65,1341.38 L962.21,1337.67 L963.02,1333.95 L964.01,1330.23 L965.08,1326.52 L966.15,1322.80 L967.43,1319.10 L969.06,1315.40 L970.86,1311.70 L972.62,1308.00 L974.15,1304.30 L975.25,1300.60 L975.67,1298.73 L976.08,1296.87 L976.46,1295.00 L976.77,1293.13 L976.97,1291.27 L977.05,1289.40 L977.03,1287.55 L976.98,1285.70 L976.89,1283.85 L976.79,1282.00 L976.67,1280.15 L976.55,1278.30 L976.19,1274.58 L975.64,1270.87 L974.95,1267.15 L974.17,1263.43 L973.35,1259.72 L972.55,1256.00 L971.71,1252.28 L970.76,1248.57 L969.77,1244.85 L968.77,1241.13 L967.81,1237.42 L966.95,1233.70 L966.14,1229.98 L965.33,1226.27 L964.55,1222.55 L963.84,1218.83 L963.23,1215.12 L962.75,1211.40 L962.54,1209.55 L962.34,1207.70 L962.15,1205.85 L961.99,1204.00 L961.89,1202.15 L961.85,1200.30 L961.86,1198.43 L961.90,1196.57 L961.95,1194.70 L962.01,1192.83 L962.08,1190.97 L962.15,1189.10 L962.32,1185.40 L962.56,1181.70 L962.85,1178.00 L963.18,1174.30 L963.55,1170.60 L963.95,1166.90 L964.41,1163.18 L964.97,1159.47 L965.60,1155.75 L966.29,1152.03 L967.01,1148.32 L967.75,1144.60 L968.54,1140.88 L969.41,1137.17 L970.33,1133.45 L971.27,1129.73 L972.22,1126.02 L973.15,1122.30 L974.11,1118.58 L975.14,1114.87 L976.17,1111.15 L977.14,1107.43 L977.99,1103.72 L978.65,1100.00 L979.20,1096.00 L979.68,1092.00 L980.10,1088.00 L980.48,1084.00 L980.83,1080.00 L981.15,1076.00 L981.64,1069.50 L982.08,1063.00 L982.48,1056.50 L982.85,1050.00 L983.21,1043.50 L983.55,1037.00 L983.89,1030.43 L984.21,1023.87 L984.52,1017.30 L984.81,1010.73 L985.09,1004.17 L985.35,997.60 L985.60,991.00 L985.85,984.40 L986.09,977.80 L986.30,971.20 L986.49,964.60 L986.65,958.00 L986.78,951.50 L986.91,945.00 L987.03,938.50 L987.13,932.00 L987.20,925.50 L987.25,919.00 L987.29,910.60 L987.33,902.20 L987.36,893.80 L987.38,885.40 L987.39,877.00 L987.40,868.60Z" fill="#e2b9a3" stroke="#333333" stroke-width="1.5" stroke-linejoin="round"/>
<path d="M1045.60,866.10 L1045.71,881.75 L1045.81,897.40 L1045.91,913.05 L1046.00,928.70 L1046.08,944.35 L1046.15,960.00 L1046.21,975.67 L1046.25,991.33 L1046.29,1007.00 L1046.33,1022.67 L1046.38,1038.33 L1046.45,1054.00 L1046.51,1064.50 L1046.59,1075.00 L1046.69,1085.50 L1046.80,1096.00 L1046.92,1106.50 L1047.05,1117.00 L1047.12,1122.28 L1047.20,1127.57 L1047.29,1132.85 L1047.38,1138.13 L1047.46,1143.42 L1047.55,1148.70 L1047.68,1157.25 L1047.81,1165.80 L1047.94,1174.35 L1048.07,1182.90 L1048.21,1191.45 L1048.35,1200.00 L1048.44,1205.25 L1048.53,1210.50 L1048.62,1215.75 L1048.72,1221.00 L1048.83,1226.25 L1048.95,1231.50 L1049.09,1236.73 L1049.25,1241.97 L1049.43,1247.20 L1049.63,1252.43 L1049.84,1257.67 L1050.05,1262.90 L1050.26,1268.15 L1050.47,1273.40 L1050.70,1278.65 L1050.96,1283.90 L1051.27,1289.15 L1051.65,1294.40 L1052.22,1299.63 L1053.04,1304.87 L1054.05,1310.10 L1055.17,1315.33 L1056.33,1320.57 L1057.45,1325.80 L1058.03,1328.42 L1058.66,1331.03 L1059.32,1333.65 L1059.95,1336.27 L1060.54,1338.88 L1061.05,1341.50 L1061.47,1344.13 L1061.82,1346.77 L1062.15,1349.40 L1062.48,1352.03 L1062.83,1354.67 L1063.25,1357.30 L1063.75,1359.92 L1064.32,1362.53 L1064.95,1365.15 L1065.59,1367.77 L1066.24,1370.38 L1066.85,1373.00 L1067.49,1375.62 L1068.18,1378.23 L1068.86,1380.85 L1069.49,1383.47 L1070.00,1386.08 L1070.35,1388.70 L1070.47,1390.02 L1070.59,1391.33 L1070.69,1392.65 L1070.77,1393.97 L1070.83,1395.28 L1070.85,1396.60 L1070.62,1397.90 L1070.00,1399.20 L1069.10,1400.50 L1068.03,1401.80 L1066.91,1403.10 L1065.85,1404.40 L1064.76,1405.72 L1063.55,1407.03 L1062.26,1408.35 L1060.92,1409.67 L1059.57,1410.98 L1058.25,1412.30 L1056.87,1413.62 L1055.39,1414.93 L1053.89,1416.25 L1052.49,1417.57 L1051.28,1418.88 L1050.35,1420.20 L1049.17,1422.28 L1048.06,1424.37 L1047.08,1426.45 L1046.30,1428.53 L1045.79,1430.62 L1045.60,1432.70 L1045.60,1432.70 L1045.41,1430.62 L1044.90,1428.53 L1044.12,1426.45 L1043.14,1424.37 L1042.03,1422.28 L1040.85,1420.20 L1039.92,1418.88 L1038.71,1417.57 L1037.31,1416.25 L1035.81,1414.93 L1034.33,1413.62 L1032.95,1412.30 L1031.63,1410.98 L1030.28,1409.67 L1028.94,1408.35 L1027.65,1407.03 L1026.44,1405.72 L1025.35,1404.40 L1024.29,1403.10 L1023.17,1401.80 L1022.10,1400.50 L1021.20,1399.20 L1020.58,1397.90 L1020.35,1396.60 L1020.37,1395.28 L1020.43,1393.97 L1020.51,1392.65 L1020.61,1391.33 L1020.73,1390.02 L1020.85,1388.70 L1021.20,1386.08 L1021.71,1383.47 L1022.34,1380.85 L1023.02,1378.23 L1023.71,1375.62 L1024.35,1373.00 L1024.96,1370.38 L1025.61,1367.77 L1026.25,1365.15 L1026.88,1362.53 L1027.45,1359.92 L1027.95,1357.30 L1028.37,1354.67 L1028.72,1352.03 L1029.05,1349.40 L1029.38,1346.77 L1029.73,1344.13 L1030.15,1341.50 L1030.66,1338.88 L1031.25,1336.27 L1031.88,1333.65 L1032.54,1331.03 L1033.17,1328.42 L1033.75,1325.80 L1034.87,1320.57 L1036.03,1315.33 L1037.15,1310.10 L1038.16,1304.87 L1038.98,1299.63 L1039.55,1294.40 L1039.93,1289.15 L1040.24,1283.90 L1040.50,1278.65 L1040.73,1273.40 L1040.94,1268.15 L1041.15,1262.90 L1041.36,1257.67 L1041.57,1252.43 L1041.77,1247.20 L1041.95,1241.97 L1042.11,1236.73 L1042.25,1231.50 L1042.37,1226.25 L1042.48,1221.00 L1042.58,1215.75 L1042.67,1210.50 L1042.76,1205.25 L1042.85,1200.00 L1042.99,1191.45 L1043.13,1182.90 L1043.26,1174.35 L1043.39,1165.80 L1043.52,1157.25 L1043.65,1148.70 L1043.74,1143.42 L1043.82,1138.13 L1043.91,1132.85 L1044.00,1127.57 L1044.08,1122.28 L1044.15,1117.00 L1044.28,1106.50 L1044.40,1096.00 L1044.51,1085.50 L1044.61,1075.00 L1044.69,1064.50 L1044.75,1054.00 L1044.82,1038.33 L1044.87,1022.67 L1044.91,1007.00 L1044.95,991.33 L1044.99,975.67 L1045.05,960.00 L1045.12,944.35 L1045.20,928.70 L1045.29,913.05 L1045.39,897.40 L1045.49,881.75 L1045.60,866.10Z" fill="#c46a5e" stroke="#333333" stroke-width="1.5" stroke-linejoin="round"/>
<path d="M1103.30,890.80 L1103.32,934.00 L1103.38,977.20 L1103.46,1020.40 L1103.57,1063.60 L1103.70,1106.80 L1103.85,1150.00 L1103.88,1158.33 L1103.91,1166.67 L1103.95,1175.00 L1104.00,1183.33 L1104.07,1191.67 L1104.15,1200.00 L1104.26,1205.25 L1104.45,1210.50 L1104.71,1215.75 L1105.01,1221.00 L1105.33,1226.25 L1105.65,1231.50 L1105.97,1236.73 L1106.33,1241.97 L1106.71,1247.20 L1107.12,1252.43 L1107.57,1257.67 L1108.05,1262.90 L1108.59,1268.15 L1109.20,1273.40 L1109.85,1278.65 L1110.55,1283.90 L1111.25,1289.15 L1111.95,1294.40 L1112.64,1299.63 L1113.33,1304.87 L1114.04,1310.10 L1114.77,1315.33 L1115.54,1320.57 L1116.35,1325.80 L1117.19,1331.05 L1118.06,1336.30 L1118.97,1341.55 L1119.95,1346.80 L1121.04,1352.05 L1122.25,1357.30 L1122.97,1359.92 L1123.83,1362.53 L1124.75,1365.15 L1125.68,1367.77 L1126.57,1370.38 L1127.35,1373.00 L1127.74,1374.32 L1128.16,1375.63 L1128.57,1376.95 L1128.92,1378.27 L1129.16,1379.58 L1129.25,1380.90 L1129.19,1382.20 L1129.04,1383.50 L1128.80,1384.80 L1128.50,1386.10 L1128.14,1387.40 L1127.75,1388.70 L1127.16,1390.02 L1126.28,1391.33 L1125.18,1392.65 L1123.95,1393.97 L1122.68,1395.28 L1121.45,1396.60 L1120.22,1397.90 L1118.89,1399.20 L1117.50,1400.50 L1116.11,1401.80 L1114.78,1403.10 L1113.55,1404.40 L1112.36,1405.72 L1111.18,1407.03 L1110.04,1408.35 L1108.98,1409.67 L1108.03,1410.98 L1107.25,1412.30 L1106.57,1413.62 L1105.92,1414.93 L1105.33,1416.25 L1104.82,1417.57 L1104.42,1418.88 L1104.15,1420.20 L1103.92,1421.77 L1103.72,1423.33 L1103.55,1424.90 L1103.42,1426.47 L1103.33,1428.03 L1103.30,1429.60 L1103.30,1429.60 L1103.27,1428.03 L1103.18,1426.47 L1103.05,1424.90 L1102.88,1423.33 L1102.68,1421.77 L1102.45,1420.20 L1102.18,1418.88 L1101.78,1417.57 L1101.27,1416.25 L1100.68,1414.93 L1100.03,1413.62 L1099.35,1412.30 L1098.57,1410.98 L1097.62,1409.67 L1096.56,1408.35 L1095.42,1407.03 L1094.24,1405.72 L1093.05,1404.40 L1091.82,1403.10 L1090.49,1401.80 L1089.10,1400.50 L1087.71,1399.20 L1086.38,1397.90 L1085.15,1396.60 L1083.92,1395.28 L1082.65,1393.97 L1081.42,1392.65 L1080.32,1391.33 L1079.44,1390.02 L1078.85,1388.70 L1078.46,1387.40 L1078.10,1386.10 L1077.80,1384.80 L1077.56,1383.50 L1077.41,1382.20 L1077.35,1380.90 L1077.44,1379.58 L1077.68,1378.27 L1078.03,1376.95 L1078.44,1375.63 L1078.86,1374.32 L1079.25,1373.00 L1080.03,1370.38 L1080.92,1367.77 L1081.85,1365.15 L1082.77,1362.53 L1083.63,1359.92 L1084.35,1357.30 L1085.56,1352.05 L1086.65,1346.80 L1087.63,1341.55 L1088.54,1336.30 L1089.41,1331.05 L1090.25,1325.80 L1091.06,1320.57 L1091.83,1315.33 L1092.56,1310.10 L1093.27,1304.87 L1093.96,1299.63 L1094.65,1294.40 L1095.35,1289.15 L1096.05,1283.90 L1096.75,1278.65 L1097.40,1273.40 L1098.01,1268.15 L1098.55,1262.90 L1099.03,1257.67 L1099.48,1252.43 L1099.89,1247.20 L1100.27,1241.97 L1100.63,1236.73 L1100.95,1231.50 L1101.27,1226.25 L1101.59,1221.00 L1101.89,1215.75 L1102.15,1210.50 L1102.34,1205.25 L1102.45,1200.00 L1102.53,1191.67 L1102.60,1183.33 L1102.65,1175.00 L1102.69,1166.67 L1102.72,1158.33 L1102.75,1150.00 L1102.90,1106.80 L1103.03,1063.60 L1103.14,1020.40 L1103.22,977.20 L1103.28,934.00 L1103.30,890.80Z" fill="#91bcab" stroke="#333333" stroke-width="1.5" stroke-linejoin="round"/>
<path d="M1160.70,878.30 L1160.71,912.88 L1160.76,947.47 L1160.83,982.05 L1160.94,1016.63 L1161.08,1051.22 L1161.25,1085.80 L1161.32,1093.67 L1161.44,1101.53 L1161.60,1109.40 L1161.77,1117.27 L1161.96,1125.13 L1162.15,1133.00 L1162.29,1138.23 L1162.45,1143.47 L1162.63,1148.70 L1162.79,1153.93 L1162.94,1159.17 L1163.05,1164.40 L1163.13,1170.33 L1163.20,1176.27 L1163.25,1182.20 L1163.30,1188.13 L1163.36,1194.07 L1163.45,1200.00 L1163.56,1205.25 L1163.70,1210.50 L1163.87,1215.75 L1164.06,1221.00 L1164.25,1226.25 L1164.45,1231.50 L1164.65,1236.73 L1164.85,1241.97 L1165.07,1247.20 L1165.31,1252.43 L1165.57,1257.67 L1165.85,1262.90 L1166.16,1268.15 L1166.49,1273.40 L1166.85,1278.65 L1167.26,1283.90 L1167.73,1289.15 L1168.25,1294.40 L1168.90,1299.63 L1169.71,1304.87 L1170.64,1310.10 L1171.65,1315.33 L1172.70,1320.57 L1173.75,1325.80 L1174.27,1328.42 L1174.80,1331.03 L1175.36,1333.65 L1175.94,1336.27 L1176.57,1338.88 L1177.25,1341.50 L1178.07,1344.13 L1179.04,1346.77 L1180.08,1349.40 L1181.10,1352.03 L1182.02,1354.67 L1182.75,1357.30 L1183.33,1359.92 L1183.87,1362.53 L1184.35,1365.15 L1184.78,1367.77 L1185.15,1370.38 L1185.45,1373.00 L1185.59,1374.32 L1185.72,1375.63 L1185.85,1376.95 L1185.95,1378.27 L1186.02,1379.58 L1186.05,1380.90 L1185.99,1382.20 L1185.83,1383.50 L1185.60,1384.80 L1185.31,1386.10 L1184.98,1387.40 L1184.65,1388.70 L1184.26,1390.02 L1183.78,1391.33 L1183.21,1392.65 L1182.57,1393.97 L1181.88,1395.28 L1181.15,1396.60 L1180.33,1397.90 L1179.38,1399.20 L1178.34,1400.50 L1177.23,1401.80 L1176.09,1403.10 L1174.95,1404.40 L1173.74,1405.72 L1172.42,1407.03 L1171.07,1408.35 L1169.74,1409.67 L1168.52,1410.98 L1167.45,1412.30 L1166.48,1413.62 L1165.52,1414.93 L1164.62,1416.25 L1163.83,1417.57 L1163.19,1418.88 L1162.75,1420.20 L1162.19,1422.55 L1161.70,1424.90 L1161.29,1427.25 L1160.97,1429.60 L1160.77,1431.95 L1160.70,1434.30 L1160.70,1434.30 L1160.63,1431.95 L1160.43,1429.60 L1160.11,1427.25 L1159.70,1424.90 L1159.21,1422.55 L1158.65,1420.20 L1158.21,1418.88 L1157.57,1417.57 L1156.78,1416.25 L1155.88,1414.93 L1154.92,1413.62 L1153.95,1412.30 L1152.88,1410.98 L1151.66,1409.67 L1150.33,1408.35 L1148.98,1407.03 L1147.66,1405.72 L1146.45,1404.40 L1145.31,1403.10 L1144.17,1401.80 L1143.06,1400.50 L1142.02,1399.20 L1141.07,1397.90 L1140.25,1396.60 L1139.52,1395.28 L1138.83,1393.97 L1138.19,1392.65 L1137.62,1391.33 L1137.14,1390.02 L1136.75,1388.70 L1136.42,1387.40 L1136.09,1386.10 L1135.80,1384.80 L1135.57,1383.50 L1135.41,1382.20 L1135.35,1380.90 L1135.38,1379.58 L1135.45,1378.27 L1135.55,1376.95 L1135.68,1375.63 L1135.81,1374.32 L1135.95,1373.00 L1136.25,1370.38 L1136.62,1367.77 L1137.05,1365.15 L1137.53,1362.53 L1138.07,1359.92 L1138.65,1357.30 L1139.38,1354.67 L1140.30,1352.03 L1141.32,1349.40 L1142.36,1346.77 L1143.33,1344.13 L1144.15,1341.50 L1144.83,1338.88 L1145.46,1336.27 L1146.04,1333.65 L1146.60,1331.03 L1147.13,1328.42 L1147.65,1325.80 L1148.70,1320.57 L1149.75,1315.33 L1150.76,1310.10 L1151.69,1304.87 L1152.50,1299.63 L1153.15,1294.40 L1153.67,1289.15 L1154.14,1283.90 L1154.55,1278.65 L1154.91,1273.40 L1155.24,1268.15 L1155.55,1262.90 L1155.83,1257.67 L1156.09,1252.43 L1156.33,1247.20 L1156.55,1241.97 L1156.75,1236.73 L1156.95,1231.50 L1157.15,1226.25 L1157.34,1221.00 L1157.53,1215.75 L1157.70,1210.50 L1157.84,1205.25 L1157.95,1200.00 L1158.04,1194.07 L1158.10,1188.13 L1158.15,1182.20 L1158.20,1176.27 L1158.27,1170.33 L1158.35,1164.40 L1158.46,1159.17 L1158.61,1153.93 L1158.77,1148.70 L1158.95,1143.47 L1159.11,1138.23 L1159.25,1133.00 L1159.44,1125.13 L1159.63,1117.27 L1159.80,1109.40 L1159.96,1101.53 L1160.08,1093.67 L1160.15,1085.80 L1160.32,1051.22 L1160.46,1016.63 L1160.57,982.05 L1160.64,947.47 L1160.69,912.88 L1160.70,878.30Z" fill="#7e87a9" stroke="#333333" stroke-width="1.5" stroke-linejoin="round"/>
<line x1="953.5" y1="837.6" x2="953.5" y2="1463.1" stroke="#2b2b2b" stroke-width="2.0"/>
<line x1="952.5" y1="1462.1" x2="1195.4" y2="1462.1" stroke="#2b2b2b" stroke-width="2.0"/>
<line x1="949.1" y1="859.7" x2="953.5" y2="859.7" stroke="#2b2b2b" stroke-width="1.8"/>
<text x="945.2" y="864.6" font-size="13.8" text-anchor="end" fill="#4d4d4d" stroke="#4d4d4d" stroke-width="0.3">6000</text>
<line x1="949.1" y1="1057.8" x2="953.5" y2="1057.8" stroke="#2b2b2b" stroke-width="1.8"/>
<text x="945.2" y="1062.7" font-size="13.8" text-anchor="end" fill="#4d4d4d" stroke="#4d4d4d" stroke-width="0.3">4000</text>
<line x1="949.1" y1="1256.0" x2="953.5" y2="1256.0" stroke="#2b2b2b" stroke-width="1.8"/>
<text x="945.2" y="1260.9" font-size="13.8" text-anchor="end" fill="#4d4d4d" stroke="#4d4d4d" stroke-width="0.3">2000</text>
<line x1="949.1" y1="1454.2" x2="953.5" y2="1454.2" stroke="#2b2b2b" stroke-width="1.8"/>
<text x="945.2" y="1459.1" font-size="13.8" text-anchor="end" fill="#4d4d4d" stroke="#4d4d4d" stroke-width="0.3">0</text>
<line x1="987.4" y1="1462.1" x2="987.4" y2="1466.0" stroke="#2b2b2b" stroke-width="1.8"/>
<text transform="translate(992.9,1478.0) rotate(-45)" font-size="12" text-anchor="end" fill="#4d4d4d" stroke="#4d4d4d" stroke-width="0.25">Distant_Met</text>
<line x1="1045.6" y1="1462.1" x2="1045.6" y2="1466.0" stroke="#2b2b2b" stroke-width="1.8"/>
<text transform="translate(1051.1,1478.0) rotate(-45)" font-size="12" text-anchor="end" fill="#4d4d4d" stroke="#4d4d4d" stroke-width="0.25">LNM</text>
<line x1="1103.3" y1="1462.1" x2="1103.3" y2="1466.0" stroke="#2b2b2b" stroke-width="1.8"/>
<text transform="translate(1108.8,1478.0) rotate(-45)" font-size="12" text-anchor="end" fill="#4d4d4d" stroke="#4d4d4d" stroke-width="0.25">Normal</text>
<line x1="1160.7" y1="1462.1" x2="1160.7" y2="1466.0" stroke="#2b2b2b" stroke-width="1.8"/>
<text transform="translate(1166.2,1478.0) rotate(-45)" font-size="12" text-anchor="end" fill="#4d4d4d" stroke="#4d4d4d" stroke-width="0.25">Primary</text>
<rect x="1251.2" y="812.6" width="241.7" height="24.8" fill="#e4e4e4" stroke="#2b2b2b" stroke-width="1.6"/>
<text x="1372.1" y="830.0" font-size="13.8" text-anchor="middle" fill="#1a1a1a" font-weight="bold">UMIs</text>
<path d="M1285.20,866.00 L1285.20,908.77 L1285.21,951.53 L1285.23,994.30 L1285.26,1037.07 L1285.30,1079.83 L1285.35,1122.60 L1285.39,1131.77 L1285.49,1140.93 L1285.63,1150.10 L1285.81,1159.27 L1286.02,1168.43 L1286.25,1177.60 L1286.38,1181.33 L1286.55,1185.07 L1286.74,1188.80 L1286.95,1192.53 L1287.16,1196.27 L1287.35,1200.00 L1287.59,1205.25 L1287.81,1210.50 L1288.04,1215.75 L1288.26,1221.00 L1288.50,1226.25 L1288.75,1231.50 L1289.02,1236.73 L1289.31,1241.97 L1289.61,1247.20 L1289.92,1252.43 L1290.23,1257.67 L1290.55,1262.90 L1290.70,1265.53 L1290.84,1268.17 L1290.99,1270.80 L1291.15,1273.43 L1291.33,1276.07 L1291.55,1278.70 L1291.83,1281.32 L1292.18,1283.93 L1292.59,1286.55 L1293.04,1289.17 L1293.53,1291.78 L1294.05,1294.40 L1294.62,1297.02 L1295.28,1299.63 L1296.00,1302.25 L1296.75,1304.87 L1297.51,1307.48 L1298.25,1310.10 L1299.01,1312.73 L1299.83,1315.37 L1300.64,1318.00 L1301.43,1320.63 L1302.15,1323.27 L1302.75,1325.90 L1303.19,1327.98 L1303.64,1330.07 L1304.07,1332.15 L1304.42,1334.23 L1304.66,1336.32 L1304.75,1338.40 L1304.71,1340.25 L1304.62,1342.10 L1304.47,1343.95 L1304.28,1345.80 L1304.07,1347.65 L1303.85,1349.50 L1303.36,1352.12 L1302.60,1354.73 L1301.72,1357.35 L1300.86,1359.97 L1300.15,1362.58 L1299.75,1365.20 L1299.65,1366.52 L1299.55,1367.83 L1299.47,1369.15 L1299.41,1370.47 L1299.37,1371.78 L1299.35,1373.10 L1299.82,1375.72 L1301.03,1378.33 L1302.68,1380.95 L1304.47,1383.57 L1306.09,1386.18 L1307.25,1388.80 L1308.09,1391.42 L1308.92,1394.03 L1309.67,1396.65 L1310.28,1399.27 L1310.70,1401.88 L1310.85,1404.50 L1310.45,1407.13 L1309.39,1409.77 L1307.86,1412.40 L1306.08,1415.03 L1304.24,1417.67 L1302.55,1420.30 L1301.61,1422.40 L1301.00,1424.50 L1300.34,1426.60 L1299.24,1428.70 L1297.34,1430.80 L1294.25,1432.90 L1293.71,1432.97 L1292.49,1433.03 L1290.80,1433.10 L1288.87,1433.17 L1286.93,1433.23 L1285.20,1433.30 L1285.20,1433.30 L1283.47,1433.23 L1281.53,1433.17 L1279.60,1433.10 L1277.91,1433.03 L1276.69,1432.97 L1276.15,1432.90 L1273.06,1430.80 L1271.16,1428.70 L1270.06,1426.60 L1269.40,1424.50 L1268.79,1422.40 L1267.85,1420.30 L1266.16,1417.67 L1264.32,1415.03 L1262.54,1412.40 L1261.01,1409.77 L1259.95,1407.13 L1259.55,1404.50 L1259.70,1401.88 L1260.12,1399.27 L1260.73,1396.65 L1261.48,1394.03 L1262.31,1391.42 L1263.15,1388.80 L1264.31,1386.18 L1265.93,1383.57 L1267.72,1380.95 L1269.37,1378.33 L1270.58,1375.72 L1271.05,1373.10 L1271.03,1371.78 L1270.99,1370.47 L1270.93,1369.15 L1270.85,1367.83 L1270.75,1366.52 L1270.65,1365.20 L1270.25,1362.58 L1269.54,1359.97 L1268.68,1357.35 L1267.80,1354.73 L1267.04,1352.12 L1266.55,1349.50 L1266.33,1347.65 L1266.12,1345.80 L1265.93,1343.95 L1265.78,1342.10 L1265.69,1340.25 L1265.65,1338.40 L1265.74,1336.32 L1265.98,1334.23 L1266.33,1332.15 L1266.76,1330.07 L1267.21,1327.98 L1267.65,1325.90 L1268.25,1323.27 L1268.97,1320.63 L1269.76,1318.00 L1270.57,1315.37 L1271.39,1312.73 L1272.15,1310.10 L1272.89,1307.48 L1273.65,1304.87 L1274.40,1302.25 L1275.12,1299.63 L1275.78,1297.02 L1276.35,1294.40 L1276.87,1291.78 L1277.36,1289.17 L1277.81,1286.55 L1278.22,1283.93 L1278.57,1281.32 L1278.85,1278.70 L1279.07,1276.07 L1279.25,1273.43 L1279.41,1270.80 L1279.56,1268.17 L1279.70,1265.53 L1279.85,1262.90 L1280.17,1257.67 L1280.48,1252.43 L1280.79,1247.20 L1281.09,1241.97 L1281.38,1236.73 L1281.65,1231.50 L1281.90,1226.25 L1282.14,1221.00 L1282.36,1215.75 L1282.59,1210.50 L1282.81,1205.25 L1283.05,1200.00 L1283.24,1196.27 L1283.45,1192.53 L1283.66,1188.80 L1283.85,1185.07 L1284.02,1181.33 L1284.15,1177.60 L1284.38,1168.43 L1284.59,1159.27 L1284.77,1150.10 L1284.91,1140.93 L1285.01,1131.77 L1285.05,1122.60 L1285.10,1079.83 L1285.14,1037.07 L1285.17,994.30 L1285.19,951.53 L1285.20,908.77 L1285.20,866.00Z" fill="#e2b9a3" stroke="#333333" stroke-width="1.5" stroke-linejoin="round"/>
<path d="M1342.90,874.00 L1342.91,936.67 L1342.95,999.33 L1343.00,1062.00 L1343.09,1124.67 L1343.20,1187.33 L1343.35,1250.00 L1343.38,1258.33 L1343.42,1266.67 L1343.48,1275.00 L1343.56,1283.33 L1343.65,1291.67 L1343.75,1300.00 L1343.80,1303.30 L1343.88,1306.60 L1343.96,1309.90 L1344.06,1313.20 L1344.16,1316.50 L1344.25,1319.80 L1344.34,1323.08 L1344.43,1326.37 L1344.53,1329.65 L1344.63,1332.93 L1344.73,1336.22 L1344.85,1339.50 L1344.98,1342.80 L1345.13,1346.10 L1345.28,1349.40 L1345.44,1352.70 L1345.60,1356.00 L1345.75,1359.30 L1345.84,1361.77 L1345.92,1364.23 L1345.99,1366.70 L1346.08,1369.17 L1346.19,1371.63 L1346.35,1374.10 L1346.54,1375.73 L1346.86,1377.37 L1347.27,1379.00 L1347.76,1380.63 L1348.29,1382.27 L1348.85,1383.90 L1349.50,1385.55 L1350.28,1387.20 L1351.16,1388.85 L1352.10,1390.50 L1353.08,1392.15 L1354.05,1393.80 L1355.03,1395.45 L1356.07,1397.10 L1357.14,1398.75 L1358.23,1400.40 L1359.34,1402.05 L1360.45,1403.70 L1361.66,1405.35 L1363.00,1407.00 L1364.36,1408.65 L1365.62,1410.30 L1366.65,1411.95 L1367.35,1413.60 L1367.59,1414.42 L1367.83,1415.23 L1368.03,1416.05 L1368.20,1416.87 L1368.31,1417.68 L1368.35,1418.50 L1368.16,1419.32 L1367.64,1420.13 L1366.88,1420.95 L1365.94,1421.77 L1364.90,1422.58 L1363.85,1423.40 L1362.55,1424.23 L1360.88,1425.07 L1359.00,1425.90 L1357.04,1426.73 L1355.17,1427.57 L1353.55,1428.40 L1352.40,1429.22 L1351.60,1430.03 L1350.87,1430.85 L1349.91,1431.67 L1348.43,1432.48 L1346.15,1433.30 L1345.87,1433.35 L1345.41,1433.40 L1344.82,1433.45 L1344.17,1433.50 L1343.51,1433.55 L1342.90,1433.60 L1342.90,1433.60 L1342.29,1433.55 L1341.63,1433.50 L1340.98,1433.45 L1340.39,1433.40 L1339.93,1433.35 L1339.65,1433.30 L1337.37,1432.48 L1335.89,1431.67 L1334.93,1430.85 L1334.20,1430.03 L1333.40,1429.22 L1332.25,1428.40 L1330.63,1427.57 L1328.76,1426.73 L1326.80,1425.90 L1324.92,1425.07 L1323.25,1424.23 L1321.95,1423.40 L1320.90,1422.58 L1319.86,1421.77 L1318.92,1420.95 L1318.16,1420.13 L1317.64,1419.32 L1317.45,1418.50 L1317.49,1417.68 L1317.60,1416.87 L1317.77,1416.05 L1317.97,1415.23 L1318.21,1414.42 L1318.45,1413.60 L1319.15,1411.95 L1320.18,1410.30 L1321.44,1408.65 L1322.80,1407.00 L1324.14,1405.35 L1325.35,1403.70 L1326.46,1402.05 L1327.57,1400.40 L1328.66,1398.75 L1329.73,1397.10 L1330.77,1395.45 L1331.75,1393.80 L1332.72,1392.15 L1333.70,1390.50 L1334.64,1388.85 L1335.52,1387.20 L1336.30,1385.55 L1336.95,1383.90 L1337.51,1382.27 L1338.04,1380.63 L1338.53,1379.00 L1338.94,1377.37 L1339.26,1375.73 L1339.45,1374.10 L1339.61,1371.63 L1339.72,1369.17 L1339.81,1366.70 L1339.88,1364.23 L1339.96,1361.77 L1340.05,1359.30 L1340.20,1356.00 L1340.36,1352.70 L1340.52,1349.40 L1340.67,1346.10 L1340.82,1342.80 L1340.95,1339.50 L1341.07,1336.22 L1341.17,1332.93 L1341.27,1329.65 L1341.37,1326.37 L1341.46,1323.08 L1341.55,1319.80 L1341.64,1316.50 L1341.74,1313.20 L1341.84,1309.90 L1341.92,1306.60 L1342.00,1303.30 L1342.05,1300.00 L1342.15,1291.67 L1342.24,1283.33 L1342.32,1275.00 L1342.38,1266.67 L1342.42,1258.33 L1342.45,1250.00 L1342.60,1187.33 L1342.71,1124.67 L1342.80,1062.00 L1342.85,999.33 L1342.89,936.67 L1342.90,874.00Z" fill="#c46a5e" stroke="#333333" stroke-width="1.5" stroke-linejoin="round"/>
<path d="M1400.90,1082.70 L1400.90,1127.15 L1400.91,1171.60 L1400.94,1216.05 L1400.98,1260.50 L1401.05,1304.95 L1401.15,1349.40 L1401.17,1351.05 L1401.23,1352.70 L1401.32,1354.35 L1401.42,1356.00 L1401.54,1357.65 L1401.65,1359.30 L1401.77,1360.93 L1401.90,1362.57 L1402.06,1364.20 L1402.23,1365.83 L1402.43,1367.47 L1402.65,1369.10 L1402.92,1370.75 L1403.26,1372.40 L1403.65,1374.05 L1404.09,1375.70 L1404.56,1377.35 L1405.05,1379.00 L1405.58,1380.65 L1406.16,1382.30 L1406.79,1383.95 L1407.48,1385.60 L1408.24,1387.25 L1409.05,1388.90 L1409.97,1390.55 L1411.03,1392.20 L1412.18,1393.85 L1413.41,1395.50 L1414.68,1397.15 L1415.95,1398.80 L1417.32,1400.43 L1418.85,1402.07 L1420.42,1403.70 L1421.94,1405.33 L1423.28,1406.97 L1424.35,1408.60 L1424.91,1409.60 L1425.48,1410.60 L1426.01,1411.60 L1426.44,1412.60 L1426.74,1413.60 L1426.85,1414.60 L1426.52,1415.58 L1425.63,1416.57 L1424.33,1417.55 L1422.76,1418.53 L1421.09,1419.52 L1419.45,1420.50 L1417.57,1421.48 L1415.24,1422.47 L1412.71,1423.45 L1410.24,1424.43 L1408.11,1425.42 L1406.55,1426.40 L1405.19,1427.55 L1403.91,1428.70 L1402.78,1429.85 L1401.86,1431.00 L1401.23,1432.15 L1400.95,1433.30 L1400.85,1433.30 L1400.57,1432.15 L1399.94,1431.00 L1399.02,1429.85 L1397.89,1428.70 L1396.61,1427.55 L1395.25,1426.40 L1393.69,1425.42 L1391.56,1424.43 L1389.09,1423.45 L1386.56,1422.47 L1384.23,1421.48 L1382.35,1420.50 L1380.71,1419.52 L1379.04,1418.53 L1377.47,1417.55 L1376.17,1416.57 L1375.28,1415.58 L1374.95,1414.60 L1375.06,1413.60 L1375.36,1412.60 L1375.79,1411.60 L1376.32,1410.60 L1376.89,1409.60 L1377.45,1408.60 L1378.52,1406.97 L1379.86,1405.33 L1381.38,1403.70 L1382.95,1402.07 L1384.48,1400.43 L1385.85,1398.80 L1387.12,1397.15 L1388.39,1395.50 L1389.62,1393.85 L1390.77,1392.20 L1391.83,1390.55 L1392.75,1388.90 L1393.56,1387.25 L1394.32,1385.60 L1395.01,1383.95 L1395.64,1382.30 L1396.22,1380.65 L1396.75,1379.00 L1397.24,1377.35 L1397.71,1375.70 L1398.15,1374.05 L1398.54,1372.40 L1398.88,1370.75 L1399.15,1369.10 L1399.37,1367.47 L1399.57,1365.83 L1399.74,1364.20 L1399.90,1362.57 L1400.03,1360.93 L1400.15,1359.30 L1400.26,1357.65 L1400.38,1356.00 L1400.48,1354.35 L1400.57,1352.70 L1400.63,1351.05 L1400.65,1349.40 L1400.75,1304.95 L1400.82,1260.50 L1400.86,1216.05 L1400.89,1171.60 L1400.90,1127.15 L1400.90,1082.70Z" fill="#91bcab" stroke="#333333" stroke-width="1.5" stroke-linejoin="round"/>
<path d="M1458.70,1029.00 L1458.71,1074.17 L1458.75,1119.33 L1458.83,1164.50 L1458.93,1209.67 L1459.07,1254.83 L1459.25,1300.00 L1459.28,1304.93 L1459.32,1309.87 L1459.38,1314.80 L1459.45,1319.73 L1459.54,1324.67 L1459.65,1329.60 L1459.77,1332.90 L1459.96,1336.20 L1460.19,1339.50 L1460.45,1342.80 L1460.71,1346.10 L1460.95,1349.40 L1461.17,1352.68 L1461.38,1355.97 L1461.59,1359.25 L1461.82,1362.53 L1462.07,1365.82 L1462.35,1369.10 L1462.64,1372.40 L1462.94,1375.70 L1463.27,1379.00 L1463.68,1382.30 L1464.19,1385.60 L1464.85,1388.90 L1465.40,1390.55 L1466.25,1392.20 L1467.30,1393.85 L1468.46,1395.50 L1469.65,1397.15 L1470.75,1398.80 L1471.85,1400.43 L1473.05,1402.07 L1474.27,1403.70 L1475.43,1405.33 L1476.45,1406.97 L1477.25,1408.60 L1477.85,1410.25 L1478.35,1411.90 L1478.78,1413.55 L1479.20,1415.20 L1479.64,1416.85 L1480.15,1418.50 L1480.84,1420.15 L1481.69,1421.80 L1482.57,1423.45 L1483.36,1425.10 L1483.93,1426.75 L1484.15,1428.40 L1483.99,1429.22 L1483.39,1430.03 L1482.15,1430.85 L1480.10,1431.67 L1477.02,1432.48 L1472.75,1433.30 L1471.84,1433.35 L1469.94,1433.40 L1467.35,1433.45 L1464.40,1433.50 L1461.41,1433.55 L1458.70,1433.60 L1458.70,1433.60 L1455.99,1433.55 L1453.00,1433.50 L1450.05,1433.45 L1447.46,1433.40 L1445.56,1433.35 L1444.65,1433.30 L1440.38,1432.48 L1437.30,1431.67 L1435.25,1430.85 L1434.01,1430.03 L1433.41,1429.22 L1433.25,1428.40 L1433.47,1426.75 L1434.04,1425.10 L1434.83,1423.45 L1435.71,1421.80 L1436.56,1420.15 L1437.25,1418.50 L1437.76,1416.85 L1438.20,1415.20 L1438.62,1413.55 L1439.05,1411.90 L1439.55,1410.25 L1440.15,1408.60 L1440.95,1406.97 L1441.97,1405.33 L1443.13,1403.70 L1444.35,1402.07 L1445.55,1400.43 L1446.65,1398.80 L1447.75,1397.15 L1448.94,1395.50 L1450.10,1393.85 L1451.15,1392.20 L1452.00,1390.55 L1452.55,1388.90 L1453.21,1385.60 L1453.72,1382.30 L1454.13,1379.00 L1454.46,1375.70 L1454.76,1372.40 L1455.05,1369.10 L1455.33,1365.82 L1455.58,1362.53 L1455.81,1359.25 L1456.02,1355.97 L1456.23,1352.68 L1456.45,1349.40 L1456.69,1346.10 L1456.95,1342.80 L1457.21,1339.50 L1457.44,1336.20 L1457.63,1332.90 L1457.75,1329.60 L1457.86,1324.67 L1457.95,1319.73 L1458.02,1314.80 L1458.08,1309.87 L1458.12,1304.93 L1458.15,1300.00 L1458.33,1254.83 L1458.47,1209.67 L1458.57,1164.50 L1458.65,1119.33 L1458.69,1074.17 L1458.70,1029.00Z" fill="#7e87a9" stroke="#333333" stroke-width="1.5" stroke-linejoin="round"/>
<line x1="1251.2" y1="837.6" x2="1251.2" y2="1463.1" stroke="#2b2b2b" stroke-width="2.0"/>
<line x1="1250.2" y1="1462.1" x2="1492.9" y2="1462.1" stroke="#2b2b2b" stroke-width="2.0"/>
<line x1="1246.8" y1="865.8" x2="1251.2" y2="865.8" stroke="#2b2b2b" stroke-width="1.8"/>
<text x="1242.9" y="870.7" font-size="13.8" text-anchor="end" fill="#4d4d4d" stroke="#4d4d4d" stroke-width="0.3">50000</text>
<line x1="1246.8" y1="980.5" x2="1251.2" y2="980.5" stroke="#2b2b2b" stroke-width="1.8"/>
<text x="1242.9" y="985.4" font-size="13.8" text-anchor="end" fill="#4d4d4d" stroke="#4d4d4d" stroke-width="0.3">40000</text>
<line x1="1246.8" y1="1095.3" x2="1251.2" y2="1095.3" stroke="#2b2b2b" stroke-width="1.8"/>
<text x="1242.9" y="1100.2" font-size="13.8" text-anchor="end" fill="#4d4d4d" stroke="#4d4d4d" stroke-width="0.3">30000</text>
<line x1="1246.8" y1="1210.1" x2="1251.2" y2="1210.1" stroke="#2b2b2b" stroke-width="1.8"/>
<text x="1242.9" y="1215.0" font-size="13.8" text-anchor="end" fill="#4d4d4d" stroke="#4d4d4d" stroke-width="0.3">20000</text>
<line x1="1246.8" y1="1324.8" x2="1251.2" y2="1324.8" stroke="#2b2b2b" stroke-width="1.8"/>
<text x="1242.9" y="1329.7" font-size="13.8" text-anchor="end" fill="#4d4d4d" stroke="#4d4d4d" stroke-width="0.3">10000</text>
<line x1="1246.8" y1="1439.6" x2="1251.2" y2="1439.6" stroke="#2b2b2b" stroke-width="1.8"/>
<text x="1242.9" y="1444.5" font-size="13.8" text-anchor="end" fill="#4d4d4d" stroke="#4d4d4d" stroke-width="0.3">0</text>
<line x1="1285.2" y1="1462.1" x2="1285.2" y2="1466.0" stroke="#2b2b2b" stroke-width="1.8"/>
<text transform="translate(1290.7,1478.0) rotate(-45)" font-size="12" text-anchor="end" fill="#4d4d4d" stroke="#4d4d4d" stroke-width="0.25">Distant_Met</text>
<line x1="1342.9" y1="1462.1" x2="1342.9" y2="1466.0" stroke="#2b2b2b" stroke-width="1.8"/>
<text transform="translate(1348.4,1478.0) rotate(-45)" font-size="12" text-anchor="end" fill="#4d4d4d" stroke="#4d4d4d" stroke-width="0.25">LNM</text>
<line x1="1400.9" y1="1462.1" x2="1400.9" y2="1466.0" stroke="#2b2b2b" stroke-width="1.8"/>
<text transform="translate(1406.4,1478.0) rotate(-45)" font-size="12" text-anchor="end" fill="#4d4d4d" stroke="#4d4d4d" stroke-width="0.25">Normal</text>
<line x1="1458.7" y1="1462.1" x2="1458.7" y2="1466.0" stroke="#2b2b2b" stroke-width="1.8"/>
<text transform="translate(1464.2,1478.0) rotate(-45)" font-size="12" text-anchor="end" fill="#4d4d4d" stroke="#4d4d4d" stroke-width="0.25">Primary</text>
<rect x="1525.3" y="812.6" width="241.7" height="24.8" fill="#e4e4e4" stroke="#2b2b2b" stroke-width="1.6"/>
<text x="1646.2" y="830.0" font-size="13.8" text-anchor="middle" fill="#1a1a1a" font-weight="bold">Mito %</text>
<path d="M1559.60,873.50 L1559.61,927.92 L1559.64,982.33 L1559.69,1036.75 L1559.78,1091.17 L1559.90,1145.58 L1560.05,1200.00 L1560.08,1205.25 L1560.12,1210.50 L1560.19,1215.75 L1560.26,1221.00 L1560.35,1226.25 L1560.45,1231.50 L1560.51,1234.12 L1560.57,1236.73 L1560.65,1239.35 L1560.74,1241.97 L1560.84,1244.58 L1560.95,1247.20 L1561.09,1249.82 L1561.26,1252.43 L1561.46,1255.05 L1561.68,1257.67 L1561.91,1260.28 L1562.15,1262.90 L1562.39,1265.52 L1562.65,1268.13 L1562.92,1270.75 L1563.21,1273.37 L1563.52,1275.98 L1563.85,1278.60 L1564.19,1281.23 L1564.56,1283.87 L1564.94,1286.50 L1565.37,1289.13 L1565.83,1291.77 L1566.35,1294.40 L1566.95,1297.02 L1567.66,1299.63 L1568.45,1302.25 L1569.30,1304.87 L1570.17,1307.48 L1571.05,1310.10 L1571.96,1312.72 L1572.93,1315.33 L1573.94,1317.95 L1574.97,1320.57 L1575.98,1323.18 L1576.95,1325.80 L1577.91,1328.43 L1578.89,1331.07 L1579.85,1333.70 L1580.78,1336.33 L1581.65,1338.97 L1582.45,1341.60 L1583.01,1343.43 L1583.61,1345.27 L1584.19,1347.10 L1584.68,1348.93 L1585.02,1350.77 L1585.15,1352.60 L1585.07,1354.68 L1584.86,1356.77 L1584.54,1358.85 L1584.15,1360.93 L1583.71,1363.02 L1583.25,1365.10 L1582.53,1367.73 L1581.56,1370.37 L1580.42,1373.00 L1579.15,1375.63 L1577.84,1378.27 L1576.55,1380.90 L1575.21,1383.52 L1573.73,1386.13 L1572.20,1388.75 L1570.66,1391.37 L1569.19,1393.98 L1567.85,1396.60 L1566.93,1398.43 L1565.96,1400.27 L1565.03,1402.10 L1564.20,1403.93 L1563.55,1405.77 L1563.15,1407.60 L1562.91,1409.70 L1562.73,1411.80 L1562.59,1413.90 L1562.47,1416.00 L1562.33,1418.10 L1562.15,1420.20 L1561.98,1422.30 L1561.85,1424.40 L1561.69,1426.50 L1561.45,1428.60 L1561.06,1430.70 L1560.45,1432.80 L1560.39,1432.87 L1560.27,1432.93 L1560.12,1433.00 L1559.94,1433.07 L1559.76,1433.13 L1559.60,1433.20 L1559.60,1433.20 L1559.44,1433.13 L1559.26,1433.07 L1559.08,1433.00 L1558.93,1432.93 L1558.81,1432.87 L1558.75,1432.80 L1558.14,1430.70 L1557.75,1428.60 L1557.51,1426.50 L1557.35,1424.40 L1557.22,1422.30 L1557.05,1420.20 L1556.87,1418.10 L1556.73,1416.00 L1556.61,1413.90 L1556.47,1411.80 L1556.29,1409.70 L1556.05,1407.60 L1555.65,1405.77 L1555.00,1403.93 L1554.17,1402.10 L1553.24,1400.27 L1552.27,1398.43 L1551.35,1396.60 L1550.01,1393.98 L1548.54,1391.37 L1547.00,1388.75 L1545.47,1386.13 L1543.99,1383.52 L1542.65,1380.90 L1541.36,1378.27 L1540.05,1375.63 L1538.78,1373.00 L1537.64,1370.37 L1536.67,1367.73 L1535.95,1365.10 L1535.49,1363.02 L1535.05,1360.93 L1534.66,1358.85 L1534.34,1356.77 L1534.13,1354.68 L1534.05,1352.60 L1534.18,1350.77 L1534.52,1348.93 L1535.01,1347.10 L1535.59,1345.27 L1536.19,1343.43 L1536.75,1341.60 L1537.55,1338.97 L1538.42,1336.33 L1539.35,1333.70 L1540.31,1331.07 L1541.29,1328.43 L1542.25,1325.80 L1543.22,1323.18 L1544.23,1320.57 L1545.26,1317.95 L1546.27,1315.33 L1547.24,1312.72 L1548.15,1310.10 L1549.03,1307.48 L1549.90,1304.87 L1550.75,1302.25 L1551.54,1299.63 L1552.25,1297.02 L1552.85,1294.40 L1553.37,1291.77 L1553.83,1289.13 L1554.26,1286.50 L1554.64,1283.87 L1555.01,1281.23 L1555.35,1278.60 L1555.68,1275.98 L1555.99,1273.37 L1556.28,1270.75 L1556.55,1268.13 L1556.81,1265.52 L1557.05,1262.90 L1557.29,1260.28 L1557.52,1257.67 L1557.74,1255.05 L1557.94,1252.43 L1558.11,1249.82 L1558.25,1247.20 L1558.36,1244.58 L1558.46,1241.97 L1558.55,1239.35 L1558.63,1236.73 L1558.69,1234.12 L1558.75,1231.50 L1558.85,1226.25 L1558.94,1221.00 L1559.01,1215.75 L1559.08,1210.50 L1559.12,1205.25 L1559.15,1200.00 L1559.30,1145.58 L1559.42,1091.17 L1559.51,1036.75 L1559.56,982.33 L1559.59,927.92 L1559.60,873.50Z" fill="#e2b9a3" stroke="#333333" stroke-width="1.5" stroke-linejoin="round"/>
<path d="M1617.30,866.00 L1617.32,926.92 L1617.39,987.83 L1617.50,1048.75 L1617.66,1109.67 L1617.88,1170.58 L1618.15,1231.50 L1618.17,1234.12 L1618.19,1236.73 L1618.22,1239.35 L1618.26,1241.97 L1618.30,1244.58 L1618.35,1247.20 L1618.41,1249.82 L1618.50,1252.43 L1618.61,1255.05 L1618.72,1257.67 L1618.84,1260.28 L1618.95,1262.90 L1619.05,1265.52 L1619.16,1268.13 L1619.26,1270.75 L1619.37,1273.37 L1619.50,1275.98 L1619.65,1278.60 L1619.84,1281.23 L1620.09,1283.87 L1620.37,1286.50 L1620.67,1289.13 L1620.97,1291.77 L1621.25,1294.40 L1621.50,1297.02 L1621.73,1299.63 L1621.97,1302.25 L1622.22,1304.87 L1622.51,1307.48 L1622.85,1310.10 L1623.29,1312.72 L1623.84,1315.33 L1624.48,1317.95 L1625.20,1320.57 L1625.96,1323.18 L1626.75,1325.80 L1627.64,1328.43 L1628.66,1331.07 L1629.77,1333.70 L1630.90,1336.33 L1632.01,1338.97 L1633.05,1341.60 L1634.03,1344.22 L1635.00,1346.83 L1635.95,1349.45 L1636.87,1352.07 L1637.74,1354.68 L1638.55,1357.30 L1639.38,1359.92 L1640.27,1362.53 L1641.13,1365.15 L1641.86,1367.77 L1642.36,1370.38 L1642.55,1373.00 L1642.52,1374.32 L1642.44,1375.63 L1642.31,1376.95 L1642.15,1378.27 L1641.96,1379.58 L1641.75,1380.90 L1640.93,1383.52 L1639.46,1386.13 L1637.56,1388.75 L1635.46,1391.37 L1633.39,1393.98 L1631.55,1396.60 L1629.83,1399.22 L1628.03,1401.83 L1626.24,1404.45 L1624.58,1407.07 L1623.15,1409.68 L1622.05,1412.30 L1620.90,1415.72 L1619.81,1419.13 L1618.85,1422.55 L1618.07,1425.97 L1617.54,1429.38 L1617.30,1432.80 L1617.30,1432.80 L1617.06,1429.38 L1616.53,1425.97 L1615.75,1422.55 L1614.79,1419.13 L1613.70,1415.72 L1612.55,1412.30 L1611.45,1409.68 L1610.02,1407.07 L1608.36,1404.45 L1606.57,1401.83 L1604.77,1399.22 L1603.05,1396.60 L1601.21,1393.98 L1599.14,1391.37 L1597.04,1388.75 L1595.14,1386.13 L1593.67,1383.52 L1592.85,1380.90 L1592.64,1379.58 L1592.45,1378.27 L1592.29,1376.95 L1592.16,1375.63 L1592.08,1374.32 L1592.05,1373.00 L1592.24,1370.38 L1592.74,1367.77 L1593.47,1365.15 L1594.33,1362.53 L1595.22,1359.92 L1596.05,1357.30 L1596.86,1354.68 L1597.73,1352.07 L1598.65,1349.45 L1599.60,1346.83 L1600.57,1344.22 L1601.55,1341.60 L1602.59,1338.97 L1603.70,1336.33 L1604.83,1333.70 L1605.94,1331.07 L1606.96,1328.43 L1607.85,1325.80 L1608.64,1323.18 L1609.40,1320.57 L1610.12,1317.95 L1610.76,1315.33 L1611.31,1312.72 L1611.75,1310.10 L1612.09,1307.48 L1612.38,1304.87 L1612.63,1302.25 L1612.87,1299.63 L1613.10,1297.02 L1613.35,1294.40 L1613.63,1291.77 L1613.93,1289.13 L1614.23,1286.50 L1614.51,1283.87 L1614.76,1281.23 L1614.95,1278.60 L1615.10,1275.98 L1615.23,1273.37 L1615.34,1270.75 L1615.44,1268.13 L1615.55,1265.52 L1615.65,1262.90 L1615.76,1260.28 L1615.88,1257.67 L1615.99,1255.05 L1616.10,1252.43 L1616.19,1249.82 L1616.25,1247.20 L1616.30,1244.58 L1616.34,1241.97 L1616.38,1239.35 L1616.41,1236.73 L1616.43,1234.12 L1616.45,1231.50 L1616.72,1170.58 L1616.94,1109.67 L1617.10,1048.75 L1617.21,987.83 L1617.28,926.92 L1617.30,866.00Z" fill="#c46a5e" stroke="#333333" stroke-width="1.5" stroke-linejoin="round"/>
<path d="M1675.05,901.50 L1675.06,955.58 L1675.08,1009.67 L1675.13,1063.75 L1675.21,1117.83 L1675.33,1171.92 L1675.50,1226.00 L1675.53,1229.18 L1675.59,1232.37 L1675.68,1235.55 L1675.78,1238.73 L1675.89,1241.92 L1676.00,1245.10 L1676.11,1248.27 L1676.24,1251.43 L1676.38,1254.60 L1676.53,1257.77 L1676.71,1260.93 L1676.90,1264.10 L1677.13,1267.27 L1677.42,1270.43 L1677.74,1273.60 L1678.08,1276.77 L1678.44,1279.93 L1678.80,1283.10 L1679.15,1286.27 L1679.51,1289.43 L1679.89,1292.60 L1680.29,1295.77 L1680.72,1298.93 L1681.20,1302.10 L1681.72,1305.28 L1682.29,1308.47 L1682.91,1311.65 L1683.59,1314.83 L1684.35,1318.02 L1685.20,1321.20 L1686.26,1324.37 L1687.57,1327.53 L1689.04,1330.70 L1690.55,1333.87 L1692.01,1337.03 L1693.30,1340.20 L1694.50,1343.37 L1695.70,1346.53 L1696.87,1349.70 L1697.92,1352.87 L1698.82,1356.03 L1699.50,1359.20 L1699.78,1360.78 L1700.06,1362.37 L1700.31,1363.95 L1700.51,1365.53 L1700.65,1367.12 L1700.70,1368.70 L1700.43,1371.87 L1699.68,1375.03 L1698.58,1378.20 L1697.24,1381.37 L1695.77,1384.53 L1694.30,1387.70 L1692.43,1390.88 L1689.96,1394.07 L1687.23,1397.25 L1684.59,1400.43 L1682.40,1403.62 L1681.00,1406.80 L1680.46,1409.02 L1680.03,1411.23 L1679.68,1413.45 L1679.35,1415.67 L1679.01,1417.88 L1678.60,1420.10 L1678.23,1422.32 L1677.96,1424.53 L1677.66,1426.75 L1677.23,1428.97 L1676.55,1431.18 L1675.50,1433.40 L1675.46,1433.43 L1675.40,1433.47 L1675.32,1433.50 L1675.23,1433.53 L1675.13,1433.57 L1675.05,1433.60 L1675.05,1433.60 L1674.97,1433.57 L1674.87,1433.53 L1674.78,1433.50 L1674.70,1433.47 L1674.64,1433.43 L1674.60,1433.40 L1673.55,1431.18 L1672.87,1428.97 L1672.44,1426.75 L1672.14,1424.53 L1671.87,1422.32 L1671.50,1420.10 L1671.09,1417.88 L1670.75,1415.67 L1670.42,1413.45 L1670.07,1411.23 L1669.64,1409.02 L1669.10,1406.80 L1667.70,1403.62 L1665.51,1400.43 L1662.87,1397.25 L1660.14,1394.07 L1657.67,1390.88 L1655.80,1387.70 L1654.33,1384.53 L1652.86,1381.37 L1651.52,1378.20 L1650.42,1375.03 L1649.67,1371.87 L1649.40,1368.70 L1649.45,1367.12 L1649.59,1365.53 L1649.79,1363.95 L1650.04,1362.37 L1650.32,1360.78 L1650.60,1359.20 L1651.28,1356.03 L1652.18,1352.87 L1653.23,1349.70 L1654.40,1346.53 L1655.60,1343.37 L1656.80,1340.20 L1658.09,1337.03 L1659.55,1333.87 L1661.06,1330.70 L1662.53,1327.53 L1663.84,1324.37 L1664.90,1321.20 L1665.75,1318.02 L1666.51,1314.83 L1667.19,1311.65 L1667.81,1308.47 L1668.38,1305.28 L1668.90,1302.10 L1669.38,1298.93 L1669.81,1295.77 L1670.21,1292.60 L1670.59,1289.43 L1670.95,1286.27 L1671.30,1283.10 L1671.66,1279.93 L1672.02,1276.77 L1672.36,1273.60 L1672.68,1270.43 L1672.97,1267.27 L1673.20,1264.10 L1673.39,1260.93 L1673.57,1257.77 L1673.72,1254.60 L1673.86,1251.43 L1673.99,1248.27 L1674.10,1245.10 L1674.21,1241.92 L1674.32,1238.73 L1674.42,1235.55 L1674.51,1232.37 L1674.57,1229.18 L1674.60,1226.00 L1674.77,1171.92 L1674.89,1117.83 L1674.97,1063.75 L1675.02,1009.67 L1675.04,955.58 L1675.05,901.50Z" fill="#91bcab" stroke="#333333" stroke-width="1.5" stroke-linejoin="round"/>
<path d="M1732.90,870.00 L1732.91,916.67 L1732.95,963.33 L1733.03,1010.00 L1733.15,1056.67 L1733.32,1103.33 L1733.55,1150.00 L1733.63,1156.33 L1733.79,1162.67 L1734.00,1169.00 L1734.25,1175.33 L1734.50,1181.67 L1734.75,1188.00 L1734.99,1194.35 L1735.24,1200.70 L1735.51,1207.05 L1735.80,1213.40 L1736.11,1219.75 L1736.45,1226.10 L1736.81,1232.43 L1737.19,1238.77 L1737.60,1245.10 L1738.07,1251.43 L1738.62,1257.77 L1739.25,1264.10 L1740.07,1270.43 L1741.14,1276.77 L1742.40,1283.10 L1743.80,1289.43 L1745.30,1295.77 L1746.85,1302.10 L1747.69,1305.28 L1748.63,1308.47 L1749.63,1311.65 L1750.64,1314.83 L1751.63,1318.02 L1752.55,1321.20 L1753.44,1324.37 L1754.36,1327.53 L1755.26,1330.70 L1756.09,1333.87 L1756.80,1337.03 L1757.35,1340.20 L1757.58,1341.78 L1757.81,1343.37 L1758.02,1344.95 L1758.19,1346.53 L1758.31,1348.12 L1758.35,1349.70 L1758.26,1352.87 L1758.00,1356.03 L1757.61,1359.20 L1757.11,1362.37 L1756.55,1365.53 L1755.95,1368.70 L1755.16,1371.87 L1754.05,1375.03 L1752.73,1378.20 L1751.27,1381.37 L1749.79,1384.53 L1748.35,1387.70 L1747.13,1390.23 L1745.75,1392.77 L1744.33,1395.30 L1743.01,1397.83 L1741.91,1400.37 L1741.15,1402.90 L1740.82,1404.50 L1740.53,1406.10 L1740.27,1407.70 L1740.05,1409.30 L1739.87,1410.90 L1739.75,1412.50 L1739.64,1414.72 L1739.57,1416.93 L1739.51,1419.15 L1739.46,1421.37 L1739.38,1423.58 L1739.25,1425.80 L1739.17,1427.07 L1739.07,1428.33 L1738.90,1429.60 L1738.59,1430.87 L1738.09,1432.13 L1737.35,1433.40 L1737.10,1433.45 L1736.51,1433.50 L1735.68,1433.55 L1734.72,1433.60 L1733.76,1433.65 L1732.90,1433.70 L1732.90,1433.70 L1732.04,1433.65 L1731.08,1433.60 L1730.12,1433.55 L1729.29,1433.50 L1728.70,1433.45 L1728.45,1433.40 L1727.71,1432.13 L1727.21,1430.87 L1726.90,1429.60 L1726.73,1428.33 L1726.63,1427.07 L1726.55,1425.80 L1726.42,1423.58 L1726.34,1421.37 L1726.29,1419.15 L1726.23,1416.93 L1726.16,1414.72 L1726.05,1412.50 L1725.93,1410.90 L1725.75,1409.30 L1725.53,1407.70 L1725.27,1406.10 L1724.98,1404.50 L1724.65,1402.90 L1723.89,1400.37 L1722.79,1397.83 L1721.47,1395.30 L1720.05,1392.77 L1718.67,1390.23 L1717.45,1387.70 L1716.01,1384.53 L1714.53,1381.37 L1713.07,1378.20 L1711.75,1375.03 L1710.64,1371.87 L1709.85,1368.70 L1709.25,1365.53 L1708.69,1362.37 L1708.19,1359.20 L1707.80,1356.03 L1707.54,1352.87 L1707.45,1349.70 L1707.49,1348.12 L1707.61,1346.53 L1707.78,1344.95 L1707.99,1343.37 L1708.22,1341.78 L1708.45,1340.20 L1709.00,1337.03 L1709.71,1333.87 L1710.54,1330.70 L1711.44,1327.53 L1712.36,1324.37 L1713.25,1321.20 L1714.17,1318.02 L1715.16,1314.83 L1716.17,1311.65 L1717.17,1308.47 L1718.11,1305.28 L1718.95,1302.10 L1720.50,1295.77 L1722.00,1289.43 L1723.40,1283.10 L1724.66,1276.77 L1725.73,1270.43 L1726.55,1264.10 L1727.18,1257.77 L1727.73,1251.43 L1728.20,1245.10 L1728.61,1238.77 L1728.99,1232.43 L1729.35,1226.10 L1729.69,1219.75 L1730.00,1213.40 L1730.29,1207.05 L1730.56,1200.70 L1730.81,1194.35 L1731.05,1188.00 L1731.30,1181.67 L1731.55,1175.33 L1731.80,1169.00 L1732.01,1162.67 L1732.17,1156.33 L1732.25,1150.00 L1732.48,1103.33 L1732.65,1056.67 L1732.77,1010.00 L1732.85,963.33 L1732.89,916.67 L1732.90,870.00Z" fill="#7e87a9" stroke="#333333" stroke-width="1.5" stroke-linejoin="round"/>
<line x1="1525.3" y1="837.6" x2="1525.3" y2="1463.1" stroke="#2b2b2b" stroke-width="2.0"/>
<line x1="1524.3" y1="1462.1" x2="1767.0" y2="1462.1" stroke="#2b2b2b" stroke-width="2.0"/>
<line x1="1520.9" y1="865.5" x2="1525.3" y2="865.5" stroke="#2b2b2b" stroke-width="1.8"/>
<text x="1517.0" y="870.4" font-size="13.8" text-anchor="end" fill="#4d4d4d" stroke="#4d4d4d" stroke-width="0.3">20</text>
<line x1="1520.9" y1="1007.5" x2="1525.3" y2="1007.5" stroke="#2b2b2b" stroke-width="1.8"/>
<text x="1517.0" y="1012.4" font-size="13.8" text-anchor="end" fill="#4d4d4d" stroke="#4d4d4d" stroke-width="0.3">15</text>
<line x1="1520.9" y1="1149.5" x2="1525.3" y2="1149.5" stroke="#2b2b2b" stroke-width="1.8"/>
<text x="1517.0" y="1154.4" font-size="13.8" text-anchor="end" fill="#4d4d4d" stroke="#4d4d4d" stroke-width="0.3">10</text>
<line x1="1520.9" y1="1291.5" x2="1525.3" y2="1291.5" stroke="#2b2b2b" stroke-width="1.8"/>
<text x="1517.0" y="1296.4" font-size="13.8" text-anchor="end" fill="#4d4d4d" stroke="#4d4d4d" stroke-width="0.3">5</text>
<line x1="1520.9" y1="1433.5" x2="1525.3" y2="1433.5" stroke="#2b2b2b" stroke-width="1.8"/>
<text x="1517.0" y="1438.4" font-size="13.8" text-anchor="end" fill="#4d4d4d" stroke="#4d4d4d" stroke-width="0.3">0</text>
<line x1="1559.6" y1="1462.1" x2="1559.6" y2="1466.0" stroke="#2b2b2b" stroke-width="1.8"/>
<text transform="translate(1565.1,1478.0) rotate(-45)" font-size="12" text-anchor="end" fill="#4d4d4d" stroke="#4d4d4d" stroke-width="0.25">Distant_Met</text>
<line x1="1617.3" y1="1462.1" x2="1617.3" y2="1466.0" stroke="#2b2b2b" stroke-width="1.8"/>
<text transform="translate(1622.8,1478.0) rotate(-45)" font-size="12" text-anchor="end" fill="#4d4d4d" stroke="#4d4d4d" stroke-width="0.25">LNM</text>
<line x1="1675.0" y1="1462.1" x2="1675.0" y2="1466.0" stroke="#2b2b2b" stroke-width="1.8"/>
<text transform="translate(1680.5,1478.0) rotate(-45)" font-size="12" text-anchor="end" fill="#4d4d4d" stroke="#4d4d4d" stroke-width="0.25">Normal</text>
<line x1="1732.9" y1="1462.1" x2="1732.9" y2="1466.0" stroke="#2b2b2b" stroke-width="1.8"/>
<text transform="translate(1738.4,1478.0) rotate(-45)" font-size="12" text-anchor="end" fill="#4d4d4d" stroke="#4d4d4d" stroke-width="0.25">Primary</text>
</svg>
</body></html>
